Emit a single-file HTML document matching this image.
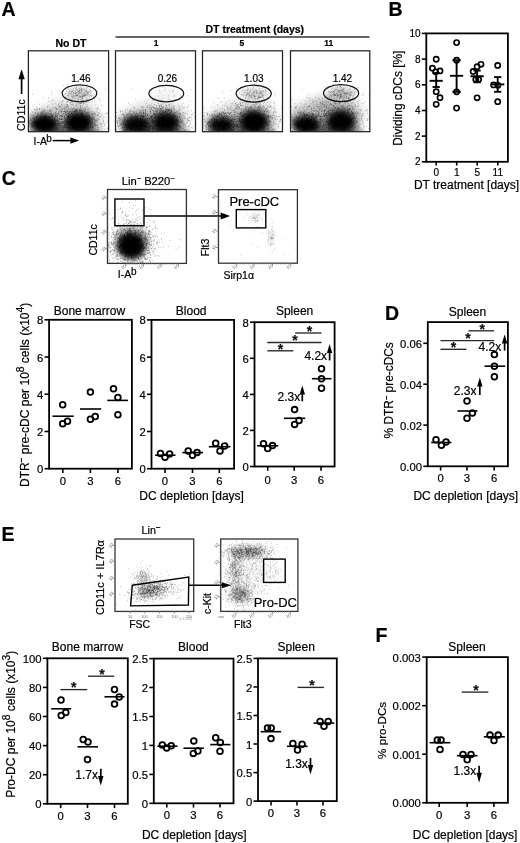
<!DOCTYPE html>
<html><head><meta charset="utf-8"><style>
html,body{margin:0;padding:0;background:#fff;}
svg{display:block;font-family:"Liberation Sans", sans-serif;will-change:transform;}
</style></head><body>
<svg width="520" height="843" viewBox="0 0 520 843">
<defs><clipPath id="c1"><rect x="28.4" y="50.8" width="80.2" height="80.9"/></clipPath><clipPath id="c2"><rect x="115.5" y="50.8" width="80" height="80.9"/></clipPath><clipPath id="c3"><rect x="202.5" y="50.8" width="80" height="80.9"/></clipPath><clipPath id="c4"><rect x="290.5" y="50.8" width="79.3" height="80.9"/></clipPath><clipPath id="c5"><rect x="107.5" y="189.5" width="78.9" height="73.9"/></clipPath><clipPath id="c6"><rect x="218.5" y="189.7" width="78.9" height="73.5"/></clipPath><clipPath id="c7"><rect x="115" y="539" width="78.7" height="72.4"/></clipPath><clipPath id="c8"><rect x="220.7" y="539" width="77.2" height="72.4"/></clipPath><filter id="b1_5" x="-50%" y="-50%" width="200%" height="200%"><feGaussianBlur stdDeviation="1.5"/></filter><filter id="b2" x="-50%" y="-50%" width="200%" height="200%"><feGaussianBlur stdDeviation="2"/></filter><filter id="b2_4" x="-50%" y="-50%" width="200%" height="200%"><feGaussianBlur stdDeviation="2.4"/></filter><filter id="b3" x="-50%" y="-50%" width="200%" height="200%"><feGaussianBlur stdDeviation="3"/></filter><filter id="b3_2" x="-50%" y="-50%" width="200%" height="200%"><feGaussianBlur stdDeviation="3.2"/></filter><filter id="b3_5" x="-50%" y="-50%" width="200%" height="200%"><feGaussianBlur stdDeviation="3.5"/></filter><filter id="b4" x="-50%" y="-50%" width="200%" height="200%"><feGaussianBlur stdDeviation="4"/></filter></defs>
<rect width="520" height="843" fill="#fff"/>
<text x="1.5" y="16.2" font-size="19.5" font-weight="bold" stroke="#000" stroke-width="0.2">A</text>
<text x="71" y="46.5" font-size="10.5" font-weight="bold" text-anchor="middle" stroke="#000" stroke-width="0.2">No DT</text>
<text x="254.8" y="32.5" font-size="10.5" font-weight="bold" text-anchor="middle" stroke="#000" stroke-width="0.2">DT treatment (days)</text>
<line x1="115.5" y1="37" x2="369.5" y2="37" stroke="#333" stroke-width="1.4"/>
<text x="156" y="46.4" font-size="8.5" font-weight="bold" text-anchor="middle" stroke="#000" stroke-width="0.2">1</text>
<text x="241.8" y="46.4" font-size="8.5" font-weight="bold" text-anchor="middle" stroke="#000" stroke-width="0.2">5</text>
<text x="328.8" y="46.4" font-size="8.5" font-weight="bold" text-anchor="middle" stroke="#000" stroke-width="0.2">11</text>
<g clip-path="url(#c1)">
<ellipse cx="66" cy="119" rx="36" ry="13" fill="#000" fill-opacity="0.2" filter="url(#b4)"/>
<ellipse cx="72" cy="106" rx="24" ry="12" fill="#000" fill-opacity="0.06" filter="url(#b4)"/>
<ellipse cx="68.5" cy="133.7" rx="33.7" ry="9" fill="#000" fill-opacity="0.55" filter="url(#b3_5)"/>
<ellipse cx="79.5" cy="93.3" rx="13" ry="5.9" fill="#000" fill-opacity="0.16" filter="url(#b2)"/>
<ellipse cx="44" cy="124" rx="14" ry="9.5" fill="#000" fill-opacity="1" filter="url(#b3_2)"/>
<ellipse cx="79" cy="122.5" rx="14" ry="10.5" fill="#000" fill-opacity="1" filter="url(#b3_2)"/>
<path d="M44 126.2h0.8M41.1 117.6h0.8M39.3 116.9h0.8M38.9 119.5h0.8M49.1 126.6h0.8M45.1 117.3h0.8M43.7 129h0.8M30 120.7h0.8M30.8 126h0.8M45.6 122.7h0.8M43.5 124.8h0.8M33.8 118.2h0.8M55 118.2h0.8M43.7 130.4h0.8M37.9 123.2h0.8M45.1 124.5h0.8M31.3 124.5h0.8M58.1 112.9h0.8M52.9 124.9h0.8M51.9 115.4h0.8M44.8 128.2h0.8M42 128.9h0.8M43.3 128.8h0.8M59 119.1h0.8M46.1 120.7h0.8M45.3 115.5h0.8M38 122.6h0.8M30.2 118.3h0.8M50.7 109.7h0.8M39.2 123.3h0.8M57.1 129h0.8M40.6 121.3h0.8M39.5 121.8h0.8M47.7 123.1h0.8M41.9 116h0.8M43.9 120.8h0.8M56.1 128.7h0.8M43.7 128.8h0.8M40.5 131.6h0.8M43.9 128.2h0.8M30.6 126.5h0.8M40.8 117.5h0.8M35.4 119.5h0.8M46.1 127.5h0.8M42.2 122.5h0.8M51.3 127.7h0.8M33.2 123.4h0.8M44.4 116.4h0.8M46.7 117.8h0.8M54.1 125.4h0.8M44.9 119.7h0.8M42.8 109.6h0.8M32.2 126.6h0.8M35.2 129.6h0.8M45.4 112.9h0.8M43.3 122h0.8M42.3 117h0.8M55.4 120.1h0.8M43.5 118.3h0.8M37.5 114.8h0.8M57.1 122.9h0.8M54 124.1h0.8M36.8 121.6h0.8M38.2 124.1h0.8M40.1 121.8h0.8M29.7 118.2h0.8M61.2 119.2h0.8M33 126.4h0.8M58.6 113.5h0.8M41.8 119.4h0.8M43.8 124.5h0.8M36.2 127.3h0.8M38.4 123h0.8M32.5 115.2h0.8M57.9 120.3h0.8M47 123.8h0.8M39.4 120.3h0.8M50.6 121.8h0.8M42.4 124.2h0.8M56.2 128.9h0.8M48 119.9h0.8M29.6 130.8h0.8M54.1 123h0.8M49.6 129.6h0.8M52.6 130.6h0.8M31 130.2h0.8M49.1 130.3h0.8M32.1 111.8h0.8M52.5 116.7h0.8M43.9 130h0.8M46.7 124.3h0.8M41.4 124.3h0.8M35.1 113.1h0.8M42.3 117h0.8M43.4 126.9h0.8M33.7 119.3h0.8M33.6 117.6h0.8M46 118.4h0.8M47.7 126.4h0.8M65.1 114h0.8M53.2 123.4h0.8M43.9 113.6h0.8M39.2 129.4h0.8M43.1 124.6h0.8M43.8 108.2h0.8M36.8 109.8h0.8M57.9 124.3h0.8M31.8 117.2h0.8M55.8 125.1h0.8M44.5 123.6h0.8M44.4 129.8h0.8M49.7 125.6h0.8M33.2 127.7h0.8M30.8 123h0.8M43.9 114.5h0.8M39.2 129.6h0.8M47.9 105.2h0.8M46.6 123.6h0.8M44.9 116.2h0.8M41.2 122.7h0.8M56.4 126.4h0.8M38.2 121.2h0.8M54 130.6h0.8M51 124.8h0.8M46.2 122.2h0.8M41.9 124.4h0.8M59.7 128h0.8M43.4 119.8h0.8M49.3 124.5h0.8M40.4 116h0.8M43.3 130.3h0.8M39.9 122.4h0.8M41.7 124.8h0.8M35.1 130.4h0.8M36 128.2h0.8M59.9 121.7h0.8M37.7 125.4h0.8M44 116.8h0.8M41.3 122.5h0.8M33.1 126.3h0.8M31 116h0.8M57.3 117.5h0.8M46.7 128h0.8M64.3 122.6h0.8M37.8 114.3h0.8M54 117.2h0.8M35.1 120.4h0.8M47 122.5h0.8M46.2 126.1h0.8M40.9 123.7h0.8M46.1 123.4h0.8M50.2 124.4h0.8M52.9 129.1h0.8M42.4 111.7h0.8M40.1 119.1h0.8M46.3 118.4h0.8M31.8 123.6h0.8M42.2 115.7h0.8M45.2 115.7h0.8M55.6 131.7h0.8M55.3 120.6h0.8M49.4 123h0.8M40 121.6h0.8M30.5 113.6h0.8M52.3 122.6h0.8M46.3 131.2h0.8M45.8 126.8h0.8M40.1 131.4h0.8M46.2 115.3h0.8M34.3 129.8h0.8M48.8 110.3h0.8M58 128.3h0.8M58 121.2h0.8M40.9 115.9h0.8M70.4 122.7h0.8M60.5 119.3h0.8M45.7 112h0.8M40 131.1h0.8M47.5 116.5h0.8M38.8 120.7h0.8M43.5 120.1h0.8M35.4 121.8h0.8M33.3 114.7h0.8M43.5 130.4h0.8M37.2 117h0.8M52.9 120.3h0.8M59.6 118.4h0.8M48 122.4h0.8M36.2 128.2h0.8M42.4 128.3h0.8M43.5 116.2h0.8M42.9 124.4h0.8M54 117.5h0.8M43.6 111.6h0.8M50.8 116.2h0.8M55.5 113h0.8M32.7 118.6h0.8M32.3 126.7h0.8M35.6 118.8h0.8M50.1 118.6h0.8M48.5 117h0.8M31.4 110.8h0.8M63.4 121.7h0.8M46.5 123.8h0.8M45.7 124.4h0.8M63.8 116.5h0.8M30.1 129.4h0.8M52.5 117.1h0.8M29.5 121.4h0.8M58.5 103.7h0.8M49.5 116.3h0.8M54.8 116.2h0.8M41 113.2h0.8M52.5 121.1h0.8M35 110.4h0.8M39.9 123.8h0.8M43.1 123.3h0.8M32.3 123.5h0.8M63.4 123h0.8M36 123.5h0.8M37.7 118.7h0.8M43.4 116.5h0.8M50.3 123.3h0.8M46.6 122.7h0.8M36.4 117.2h0.8M41.5 120h0.8M46.4 124h0.8M29.8 124.5h0.8M30 119.6h0.8M40.9 109.1h0.8M45 125.1h0.8M42.4 120.9h0.8M40.1 117h0.8M41.2 120h0.8M45 115.3h0.8M46.5 125h0.8M42.5 120.8h0.8M49.7 112h0.8M48.8 125.7h0.8M46.9 126.8h0.8M37.2 122.1h0.8M50.6 127.1h0.8M46.1 113.1h0.8M54.5 125.7h0.8M42.5 105.8h0.8M47.9 113.3h0.8M30.5 119.4h0.8M57.2 121.3h0.8M60.6 123.3h0.8M41.5 114.9h0.8M36.8 127.1h0.8M48.1 124.8h0.8M54.3 118.4h0.8M43.4 129.3h0.8M48.1 121.8h0.8M47.8 116.8h0.8M43.4 126.2h0.8M37.8 117.8h0.8M53.3 126.7h0.8M37.8 123.9h0.8M51.9 104.1h0.8M42.7 127.9h0.8M55.8 126.3h0.8M47.1 129.7h0.8M38.4 123.7h0.8M42.3 123.7h0.8M33.9 122.7h0.8M41.9 129.7h0.8M54.9 113.1h0.8M34.5 126.4h0.8M37.1 113h0.8M54.8 127.6h0.8M49.1 120.6h0.8M54.7 122.3h0.8M55.4 117.4h0.8M35.1 125.5h0.8M36.7 128.9h0.8M46.7 117.4h0.8M44.8 121.5h0.8M53.5 119.4h0.8M44.7 125.6h0.8M59.9 123.1h0.8M33.8 124.8h0.8M48.7 118h0.8M50.9 118.5h0.8M42.5 125.5h0.8M50.4 121.6h0.8M49.2 117.6h0.8M40.2 116.6h0.8M55.8 123.8h0.8M36.3 121.5h0.8M41.7 129h0.8M53.9 123.2h0.8M41.6 121.4h0.8M56.6 127.6h0.8M51 120.3h0.8M49.9 128.9h0.8M42 127.1h0.8M51.1 121.5h0.8M36.3 121.6h0.8M37.7 121.5h0.8M64.6 124.2h0.8M31.4 120.4h0.8M44.8 109.6h0.8M47.6 113.1h0.8M47.1 123.2h0.8M40.7 123.5h0.8M38.4 119.6h0.8M57.7 129.1h0.8M43.4 123.5h0.8M41 124.7h0.8M39.5 123.4h0.8M32.7 121.3h0.8M67.7 123.5h0.8M41.5 127.8h0.8M51.4 116h0.8M41.8 130.6h0.8M46.8 124.9h0.8M60.2 119.1h0.8M44.9 120.3h0.8M59.5 109.9h0.8M37 120.2h0.8M50.9 128.4h0.8M58.5 112.7h0.8M51.8 121.9h0.8M37.1 127.9h0.8M34.4 109h0.8M40.1 113.2h0.8M37.3 126.7h0.8M41.9 113h0.8M36.1 117.4h0.8M31.3 127.1h0.8M37.3 109.8h0.8M51.2 123.2h0.8M47.7 124.8h0.8M50.6 124.3h0.8M56.9 127.1h0.8M48.1 127h0.8M28.9 122.8h0.8M41.3 125.5h0.8M45.1 115.3h0.8M43.1 118.8h0.8M45 119.4h0.8M49.7 118.8h0.8M43.6 131h0.8M70.7 116.7h0.8M39.2 118h0.8M52.2 115.7h0.8M39 123.8h0.8M33.8 117.1h0.8M39.1 108.9h0.8M29 121h0.8M45.5 122.7h0.8M52.3 128h0.8M43.2 117.6h0.8M50.6 119.8h0.8M31.8 118.2h0.8M59.1 125.6h0.8M56.1 120.5h0.8M53.8 119.7h0.8M52 120.4h0.8M43.1 126.3h0.8M56.6 120.5h0.8M44.2 124.8h0.8M57.7 126.3h0.8M52.5 116.1h0.8M52 125.8h0.8M34.4 123.2h0.8M48.8 129.4h0.8M39.5 126.2h0.8M41.1 124.9h0.8M42.6 115.8h0.8M43.8 130.3h0.8M33.9 122.3h0.8M50.9 116.3h0.8M45.9 116.4h0.8M65 122.4h0.8M51.7 124.9h0.8M30.3 131.6h0.8M45.9 119.2h0.8M46.9 129.3h0.8M44.4 127.5h0.8M38.6 108.6h0.8M53.4 129h0.8M45.5 124.5h0.8M54.8 120.7h0.8M36.7 122.6h0.8M56.4 114h0.8M56.4 119.4h0.8M43 114.6h0.8M40.3 130.7h0.8M56.4 120.9h0.8M48.2 129.1h0.8M37.3 126.6h0.8M43.7 120.1h0.8M38.9 124.5h0.8M44.3 119.9h0.8M46.2 130.4h0.8M56.5 128.2h0.8M67.6 118.1h0.8M52.4 121.7h0.8M50.9 129.7h0.8M51.7 123.5h0.8M48.7 128.7h0.8M43.2 131.4h0.8M33.2 130.9h0.8M41.6 117.6h0.8M47.9 117.4h0.8M34.5 112.7h0.8M43.7 127.6h0.8M54.6 123h0.8M54.9 124.1h0.8M43 128.1h0.8M55 121.5h0.8M41.5 122.8h0.8M44.9 117.5h0.8M54.7 121.1h0.8M48.8 118.1h0.8M47.7 126.8h0.8M54 119.2h0.8M40 127.1h0.8M44.6 124.4h0.8M41 111h0.8M41.7 108h0.8M47.9 118.8h0.8M36.6 122.4h0.8M46.8 113.7h0.8M60.5 116.4h0.8M50.8 114.1h0.8M47.1 121.7h0.8M43.4 128.1h0.8M62.3 125.4h0.8M45.3 117h0.8M50.1 122.2h0.8M52.7 123.7h0.8M62.1 109.7h0.8M40.9 130.3h0.8M40.4 118.3h0.8M41.2 114.1h0.8M55.9 116h0.8M34.9 121.1h0.8M54.4 118.1h0.8M36.8 130.4h0.8M53 121.3h0.8M32.4 112.8h0.8M36.7 107.9h0.8M51.8 119.5h0.8M56.2 115.7h0.8M36.2 117.1h0.8M42.9 112.5h0.8M59.3 106.7h0.8M32.5 122.1h0.8M41.6 125.2h0.8M46.8 122.5h0.8M55.8 108.6h0.8M44 118.9h0.8M45.4 125.6h0.8M34.5 119.4h0.8M52.2 126.5h0.8M68 113.5h0.8M52.2 125.6h0.8M41.8 120.1h0.8M41.8 120h0.8M51.7 121.1h0.8M39.4 115.3h0.8M43.5 117.6h0.8M42.1 131.5h0.8M47.8 127.6h0.8M47.7 124.4h0.8M42.7 121.8h0.8M51.9 116.2h0.8M57.9 124.2h0.8M36.2 120.5h0.8M37 125.2h0.8M35.9 107.6h0.8M36.4 109.5h0.8M43.6 131.6h0.8M50.7 114.4h0.8M47.3 124h0.8M57.5 125h0.8M47.7 128.4h0.8M37.6 116.4h0.8M44.5 117.2h0.8M43.4 124.7h0.8M68.3 117.9h0.8M42.7 122.8h0.8M48.5 131.5h0.8M38.9 118.1h0.8M49.6 124.3h0.8M33.4 121.3h0.8M44.3 127.6h0.8M37.8 122.2h0.8M60.8 108.2h0.8M40.5 125.6h0.8M40.1 118.2h0.8M43.4 124h0.8M43.1 110.5h0.8M42.5 117.8h0.8M38.3 125.6h0.8M50.7 130.5h0.8M38.8 130.7h0.8M58.5 123h0.8M42.2 129.9h0.8M64.8 124.2h0.8M73.5 119.5h0.8M60.9 115.4h0.8M78.8 129.6h0.8M89.3 121.9h0.8M77 115.9h0.8M83.2 120.5h0.8M78.7 110.5h0.8M70 110.8h0.8M81.4 110.3h0.8M75.3 117.1h0.8M75.5 124.8h0.8M93.2 127.8h0.8M63.1 121.5h0.8M82.3 119.4h0.8M88.5 119.6h0.8M85.9 124.3h0.8M88.6 131h0.8M82.5 102.8h0.8M72 118.8h0.8M68.8 124.1h0.8M91.4 118.6h0.8M74.3 112.6h0.8M81.5 125.9h0.8M71.7 128.8h0.8M73.9 115.1h0.8M80.9 128.7h0.8M72.4 125.1h0.8M78.5 121.5h0.8M86.5 129.7h0.8M92.2 125.1h0.8M72.8 118.2h0.8M84.3 127.1h0.8M93.5 125.8h0.8M80.7 110.6h0.8M66.7 111h0.8M95.6 115.7h0.8M91.8 127.2h0.8M96.8 130.5h0.8M77.9 120.9h0.8M79.9 123.9h0.8M73.5 122.2h0.8M95.7 108.9h0.8M81.7 115.2h0.8M80.9 129.2h0.8M78.4 128.7h0.8M62.5 131.4h0.8M72.7 127.5h0.8M80.9 101.8h0.8M71.1 124.3h0.8M95.2 124.8h0.8M81.7 111.2h0.8M79.3 120.7h0.8M62.2 129.6h0.8M107.1 128.2h0.8M92.1 126.8h0.8M66.2 120.8h0.8M81.9 129.6h0.8M83.3 125.6h0.8M71.1 112.2h0.8M79.6 116.8h0.8M65.4 112.4h0.8M73.9 107.7h0.8M65 109.4h0.8M80.9 125.8h0.8M99.9 110.5h0.8M71.9 129.8h0.8M76.7 119.9h0.8M96.8 119.8h0.8M67 112h0.8M82.5 124.9h0.8M64.7 114.6h0.8M84.6 127.1h0.8M72.3 127.5h0.8M84.9 108.2h0.8M75.8 125.8h0.8M73 105.4h0.8M76.1 128.5h0.8M95.4 105h0.8M106.2 113.5h0.8M89.2 123.7h0.8M66.9 127.5h0.8M71.6 102.3h0.8M97.9 115.2h0.8M95.2 122.3h0.8M66.5 121.1h0.8M56.1 108.9h0.8M80 114.6h0.8M77.3 121.6h0.8M70.9 119.8h0.8M88.5 112.6h0.8M76.1 111.9h0.8M71.2 124.3h0.8M69.7 113.3h0.8M103.6 126.4h0.8M71.6 128.1h0.8M75.5 128.9h0.8M82 124.7h0.8M85.3 117.9h0.8M74.8 108.7h0.8M74.4 111.1h0.8M77.5 114.8h0.8M80.1 126.1h0.8M64.2 116h0.8M69.2 128.5h0.8M96.7 129.3h0.8M72.2 100.3h0.8M68.3 123.9h0.8M76.8 123.3h0.8M63.6 117h0.8M83.9 124.3h0.8M91.5 123.1h0.8M103.4 116.8h0.8M81.7 107.2h0.8M69.2 126.7h0.8M78.4 114.1h0.8M75.4 118.4h0.8M73.9 128.5h0.8M85.8 117.9h0.8M69.6 124.8h0.8M78 130.7h0.8M106.6 129.2h0.8M78.6 121.1h0.8M70.1 115.2h0.8M68.6 119.3h0.8M74.6 128.4h0.8M74.9 120.9h0.8M76.4 128.2h0.8M107.1 112.7h0.8M83.4 128.6h0.8M92.3 117.1h0.8M83.3 115.4h0.8M71.8 117.4h0.8M77.5 123.7h0.8M83.8 110.9h0.8M86.7 119.6h0.8M78.1 127h0.8M83.4 108.7h0.8M59.3 130.7h0.8M82.9 121.6h0.8M93.6 112.8h0.8M76.9 119.1h0.8M80.2 118.8h0.8M95.5 115h0.8M88.3 112.2h0.8M86.2 121.6h0.8M51.4 122.5h0.8M67.6 118.8h0.8M95.4 113.3h0.8M82.5 115.2h0.8M89.1 122.5h0.8M79.5 121.6h0.8M79.1 113.2h0.8M73.9 128.5h0.8M85.9 121.4h0.8M71.9 122.7h0.8M61.1 111.8h0.8M87.5 118.6h0.8M85.9 122.7h0.8M101.8 128h0.8M75.2 128.5h0.8M83.4 115.5h0.8M79.8 121.1h0.8M58 121.1h0.8M76 118.9h0.8M61.4 119.6h0.8M78.6 123.3h0.8M66.9 127.7h0.8M66 120.7h0.8M93 116.8h0.8M73.5 131.3h0.8M74.9 120.1h0.8M81.4 131.1h0.8M55.4 115.7h0.8M68.2 113.6h0.8M69.9 115.6h0.8M82.2 115.2h0.8M80.3 125.8h0.8M71.2 123.6h0.8M96.4 125.1h0.8M72.2 122h0.8M69.2 124.7h0.8M88.2 115.8h0.8M76.8 131.6h0.8M73.7 124h0.8M68.1 115.8h0.8M74.7 118.3h0.8M73.1 121.2h0.8M85.8 124h0.8M100.4 124.2h0.8M94.1 124.7h0.8M85.3 111h0.8M77.7 121.9h0.8M76.5 105.3h0.8M88.2 119.4h0.8M74.4 120.5h0.8M76.6 125.8h0.8M65.8 115.1h0.8M82 123.7h0.8M75.1 117.9h0.8M70.3 122h0.8M91.3 114h0.8M94.8 129.3h0.8M74.3 128.8h0.8M63.8 108.6h0.8M65.6 119.2h0.8M75.6 118.4h0.8M80 105.4h0.8M84.2 111.1h0.8M72.1 119.2h0.8M67 111.5h0.8M68.5 122.4h0.8M85.1 127h0.8M68.7 116.2h0.8M69.4 126.1h0.8M74 116.2h0.8M82.5 130.8h0.8M82.6 130.9h0.8M91.9 121.7h0.8M94 123.8h0.8M79.9 115.1h0.8M76 128.7h0.8M65.3 127.7h0.8M82.6 124.7h0.8M56.1 121.7h0.8M85.7 116.4h0.8M79.9 103.5h0.8M86 117.2h0.8M88.1 107.8h0.8M86.2 120.6h0.8M87.4 115.1h0.8M70.4 116.9h0.8M76.1 114.3h0.8M71.7 108.7h0.8M91.2 131.4h0.8M70 121.2h0.8M64.6 111.2h0.8M89.2 117.1h0.8M102.7 123.1h0.8M72.3 128.9h0.8M97.7 126.4h0.8M66.3 125.5h0.8M93.3 118.6h0.8M71 130.6h0.8M80.5 113.7h0.8M75.1 116.5h0.8M82.1 123.4h0.8M91 128.2h0.8M62.7 125.8h0.8M88.3 126.1h0.8M89.7 118.1h0.8M69.1 129.9h0.8M67.9 105.2h0.8M89.7 116.7h0.8M75.8 111.3h0.8M65.2 113.2h0.8M75.2 125.5h0.8M55.1 128.5h0.8M66.7 114h0.8M86 121.9h0.8M70 124.5h0.8M74.3 130.6h0.8M71.3 131.5h0.8M71.1 119.6h0.8M98.7 125h0.8M82.8 116h0.8M86.6 113h0.8M73 117.5h0.8M80.8 122.6h0.8M68.8 127h0.8M57.8 119h0.8M74.8 120.3h0.8M82.2 112.7h0.8M85.1 121.1h0.8M72.2 111.6h0.8M66.7 125.4h0.8M69 123h0.8M90 130.8h0.8M95.2 120.1h0.8M67.7 130.7h0.8M82.2 131.5h0.8M87.8 128.2h0.8M84.2 125.7h0.8M81.4 124.3h0.8M89.3 118.4h0.8M97.1 121.7h0.8M89.2 121.8h0.8M75.8 112.3h0.8M71.6 120h0.8M101.4 124.2h0.8M88.7 114.5h0.8M82.7 127.9h0.8M97.7 116.9h0.8M85.3 124.9h0.8M68.4 122.3h0.8M76.3 103.9h0.8M85.2 126.8h0.8M74.4 111.8h0.8M94.4 124.6h0.8M73.6 129h0.8M76.5 122h0.8M78.1 122.5h0.8M90.6 123.5h0.8M77.4 120.3h0.8M82.5 115.3h0.8M73.8 122.1h0.8M73.1 121.6h0.8M92.8 126.1h0.8M82.4 121.8h0.8M82.2 124.9h0.8M93.7 122.3h0.8M100.8 115.4h0.8M86.2 114.5h0.8M97.9 119.9h0.8M78.4 129.9h0.8M92.1 113.6h0.8M75.4 111.3h0.8M80.4 121.7h0.8M75.4 117h0.8M75 116.5h0.8M58.9 121.6h0.8M74.7 126.4h0.8M69.1 121.3h0.8M68.2 128.1h0.8M80 121.2h0.8M82.8 120.5h0.8M62.8 127.3h0.8M82 121.3h0.8M67.6 116.3h0.8M71.3 113.1h0.8M72.4 118.5h0.8M62.5 122.7h0.8M65.7 112.8h0.8M88.5 117h0.8M78.3 127.5h0.8M87.5 119.8h0.8M79.5 115.9h0.8M97.2 127.7h0.8M67.5 122.5h0.8M86.4 126.3h0.8M73.4 121.8h0.8M65.7 124.5h0.8M80 105.8h0.8M72 123.4h0.8M65.9 115.6h0.8M75.2 125.2h0.8M77.3 115.4h0.8M87.2 118.2h0.8M73.8 111.5h0.8M70.8 127.7h0.8M62.2 121.9h0.8M86.5 119.5h0.8M81.5 113.6h0.8M92.6 131.3h0.8M81.4 108.5h0.8M68.1 130.3h0.8M96.8 124.9h0.8M92 117.6h0.8M77 122.5h0.8M83.4 110.3h0.8M67.1 111.7h0.8M82.6 117.3h0.8M54.3 129h0.8M80.6 118.7h0.8M101 123.6h0.8M71.2 123.3h0.8M68.2 116.4h0.8M83 118.1h0.8M87.9 128.9h0.8M84.5 126.4h0.8M94.1 122.3h0.8M98.3 114.9h0.8M76.3 111.5h0.8M75.4 126.6h0.8M94.1 117.2h0.8M79.1 119.6h0.8M71.3 113h0.8M79.6 108.6h0.8M80.1 122.7h0.8M72.2 114.4h0.8M85.2 119.6h0.8M67 130.8h0.8M97 115h0.8M75.9 130.9h0.8M73.1 126.8h0.8M71.4 104.8h0.8M77.7 121.4h0.8M98.9 119.8h0.8M78.9 127.2h0.8M95.5 122h0.8M89.8 126.6h0.8M75.9 123.1h0.8M79.3 115.2h0.8M91.6 111.4h0.8M91.2 130.1h0.8M78 116.4h0.8M76.6 126.3h0.8M86.7 124.8h0.8M89.3 118h0.8M81.4 110h0.8M86.9 123.7h0.8M86.2 100h0.8M79.4 110.9h0.8M73.6 123.1h0.8M76.4 125.3h0.8M69.3 124.7h0.8M91 128.2h0.8M69.2 116.9h0.8M74.2 122.1h0.8M90.9 112.2h0.8M83.9 127.4h0.8M84.8 126.2h0.8M94.8 126.4h0.8M87.9 127h0.8M97.6 107.3h0.8M92.3 120.4h0.8M76.1 114.7h0.8M59.6 119.4h0.8M71.9 126.5h0.8M81.8 120.5h0.8M71.6 116.2h0.8M67.2 118.1h0.8M79.1 121.1h0.8M64.3 120.4h0.8M69.7 123.8h0.8M98.4 127.5h0.8M75.7 109.5h0.8M64.3 109h0.8M86.6 116.4h0.8M79.7 117.5h0.8M71.9 119.8h0.8M70.6 129.5h0.8M68.3 113.4h0.8M64.6 111.2h0.8M68.6 130.1h0.8M81.6 113.7h0.8M76.1 120.6h0.8M59.2 125.5h0.8M82.4 117.9h0.8M80.6 129.5h0.8M80.6 125.8h0.8M86.2 106.2h0.8M89.2 130.6h0.8M64.4 121.6h0.8M70.6 117.8h0.8M89.1 116.1h0.8M77.6 107.2h0.8M77.4 123.2h0.8M71.7 116.7h0.8M98.6 112.8h0.8M68.1 116h0.8M82.5 116.8h0.8M74.6 131h0.8M93.7 123.1h0.8M85.7 128.5h0.8M95.2 114.1h0.8M91.3 119.5h0.8M71 123.3h0.8M76.8 114.6h0.8M62.4 115h0.8M73.6 121.9h0.8M81.9 113.8h0.8M68.7 123.3h0.8M75.7 114h0.8M83 120.4h0.8M89.6 122.5h0.8M75.9 123.5h0.8M77.2 117.2h0.8M74.8 128.5h0.8M61.4 119.4h0.8M74.7 123.9h0.8M74.3 118.4h0.8M87.1 123.9h0.8M89.4 117.9h0.8M87.6 116.6h0.8M90.7 120.8h0.8M70.7 119.5h0.8M71 124h0.8M80.8 122.8h0.8M73.2 93.2h0.8M80 107.3h0.8M81.5 131.5h0.8M81.8 119.4h0.8M77.1 121.4h0.8M73.3 117.8h0.8M78.8 130.2h0.8M76.4 123.1h0.8M77.2 126.2h0.8M87.6 124.4h0.8M72 116.3h0.8M96.3 120.3h0.8M90.3 126.8h0.8M83.1 126.9h0.8M77.2 111.2h0.8M65.1 125.8h0.8M83.1 120.6h0.8M66.8 111h0.8M75.6 110.9h0.8M72.8 115.5h0.8M43.1 117.7h0.8M77.2 130.2h0.8M85.4 127.2h0.8M81.2 127.8h0.8M94.1 114h0.8M74.2 111.4h0.8M86.8 112.9h0.8M80.8 120.6h0.8M79.8 121h0.8M84.4 119.3h0.8M87.9 124.4h0.8M76 121.6h0.8M74.4 129h0.8M76.2 124.9h0.8M74.9 110.6h0.8M88.4 114h0.8M86.1 125.9h0.8M61.8 114.9h0.8M73.7 115.9h0.8M44.7 125.8h0.8M61.7 123.5h0.8M58.3 123h0.8M52.5 120.8h0.8M76.5 121.3h0.8M57.8 113.9h0.8M69 123.2h0.8M61.3 116h0.8M60.6 123.2h0.8M72.8 104.3h0.8M68.2 116.4h0.8M90.9 119.3h0.8M52 119.6h0.8M69 117.4h0.8M65.1 112.2h0.8M61.9 126h0.8M101.4 125.6h0.8M70.9 128.7h0.8M85.5 120.2h0.8M70.7 122.2h0.8M71.4 122.3h0.8M51.9 107.3h0.8M53.9 107.8h0.8M67.2 121h0.8M35.8 125.5h0.8M81.6 121.6h0.8M44.3 127.7h0.8M73.9 123.7h0.8M82.8 116.3h0.8M55.3 115.6h0.8M52.4 120.4h0.8M39.9 114.2h0.8M76.4 120.5h0.8M72.9 108.7h0.8M51.9 117.4h0.8M66.6 117.2h0.8M82.8 120.6h0.8M66.3 121.1h0.8M78.7 117.9h0.8M86.2 124h0.8M68.8 121.3h0.8M75.4 127.6h0.8M83 123.4h0.8M81.8 121.8h0.8M88.5 120.8h0.8M28.6 129.7h0.8M67.9 113.4h0.8M62.4 115.3h0.8M103.8 124.2h0.8M37.8 124.6h0.8M47.1 106.4h0.8M67.2 118.7h0.8M58.5 107.1h0.8M31.6 128.6h0.8M73.8 119.8h0.8M85.9 124.4h0.8M55.3 125.6h0.8M56.8 109.4h0.8M102.6 118.7h0.8M55 123.2h0.8M37.9 112.2h0.8M57 117.6h0.8M67.3 128.3h0.8M57.5 124.2h0.8M76.8 114h0.8M70.1 114.9h0.8M85.2 124h0.8M66.3 112.3h0.8M68.1 116h0.8M78.7 120.2h0.8M51.4 127h0.8M79 117.1h0.8M86.9 119.1h0.8M60.4 121.8h0.8M52.5 118.1h0.8M63.1 130.9h0.8M93 119.3h0.8M95 120.7h0.8M72.9 126.7h0.8M70.4 113.2h0.8M89.5 118.3h0.8M60.5 101.6h0.8M84 126.3h0.8M80.4 127.4h0.8M96.4 120.7h0.8M82.9 116.2h0.8M59.6 127.9h0.8M73 112.3h0.8M72.5 119.8h0.8M51.3 123.8h0.8M58.7 110.8h0.8M38.7 122.4h0.8M77 125.2h0.8M43.9 118.9h0.8M68.5 126.2h0.8M54.4 113.4h0.8M84 128.2h0.8M72.7 117h0.8M73.3 121.7h0.8M81.1 112.9h0.8M68.1 120h0.8M46 122.4h0.8M66.6 118.3h0.8M73.1 111.8h0.8M65 123.8h0.8M71.1 128h0.8M44.4 111.2h0.8M70.3 124h0.8M104.2 125h0.8M50.3 126.2h0.8M50.8 111.3h0.8M78.9 124.7h0.8M98.6 122.8h0.8M87.9 114.3h0.8M40.9 130.3h0.8M92.5 124.3h0.8M70.1 122.1h0.8M53.6 131h0.8M77.9 124.3h0.8M72.8 127.8h0.8M75.1 125.8h0.8M45 124.3h0.8M105.4 117.6h0.8M63.7 126.8h0.8M83.2 125.1h0.8M36.9 124.3h0.8M44.7 115.6h0.8M75.9 119.1h0.8M80 125.7h0.8M49.9 116.8h0.8M46.9 117.5h0.8M46.3 116.7h0.8M62.2 114.5h0.8M40.5 112.2h0.8M74.2 121.4h0.8M84.5 127.8h0.8M59.9 125.4h0.8M87.5 119.6h0.8M45.1 123.5h0.8M32.3 115.9h0.8M79.5 121.5h0.8M57.2 127.2h0.8M47.3 122.9h0.8M57 115.5h0.8M74.3 114.5h0.8M100.2 117.2h0.8M101.8 113.9h0.8M76.9 113.2h0.8M41.9 122h0.8M78.2 112.7h0.8M87.3 115.8h0.8M68.4 123.5h0.8M76.7 109.3h0.8M95.1 124.7h0.8M58.3 114.3h0.8M35.5 112.2h0.8M75.8 118.8h0.8M45.6 117.6h0.8M94.2 118.9h0.8M55.5 129.8h0.8M74.3 121.3h0.8M55.1 110.9h0.8M44.9 117.9h0.8M62 123.3h0.8M75.9 122.4h0.8M70 114.5h0.8M48.8 116.8h0.8M61.1 112.9h0.8M46 120.3h0.8M68.1 116.7h0.8M75 119.6h0.8M47.6 121.3h0.8M99.9 116.6h0.8M87 130h0.8M93 115.7h0.8M102.3 121.8h0.8M61.4 119.5h0.8M76.8 121.3h0.8M62.8 129.3h0.8M53 114.2h0.8M80.3 125.6h0.8M85.7 114h0.8M85.5 124.1h0.8M97.7 112.9h0.8M69.9 119.2h0.8M37.4 116.4h0.8M86.3 118h0.8M53 126.6h0.8M83.8 127.4h0.8M51.8 120.6h0.8M84.6 116.7h0.8M52.5 126.4h0.8M94.1 113.5h0.8M47.8 120.1h0.8M77.1 120h0.8M53.4 122h0.8M48.7 120.7h0.8M80.7 115.6h0.8M48.1 118.2h0.8M36.4 116.3h0.8M52.7 126.7h0.8M58.3 115.9h0.8M41.9 113.4h0.8M64.8 119.6h0.8M86.4 116.9h0.8M85.1 122.7h0.8M65.9 107.9h0.8M42.8 125.8h0.8M91.2 122.3h0.8M79.7 118.3h0.8M59.3 116.7h0.8M83.5 123.2h0.8M61.8 118.9h0.8M76 123.1h0.8M70.6 121.1h0.8M92.6 127.7h0.8M64.4 124.5h0.8M46.7 116.8h0.8M31.8 125.4h0.8M51 114.6h0.8M62.5 122.7h0.8M72.5 126.7h0.8M55.2 125.6h0.8M68.8 118h0.8M64.3 120.6h0.8M69.4 123.6h0.8M56.8 116.2h0.8M79.5 110h0.8M54.9 131.1h0.8M78.4 110.3h0.8M91.9 131.1h0.8M82.5 119.6h0.8M72.4 115.2h0.8M80.6 113.7h0.8M61.1 127.5h0.8M45.9 118.6h0.8M69 112.3h0.8M87 123.2h0.8M38.7 120.7h0.8M52 116.7h0.8M67.4 116.4h0.8M83.4 116.4h0.8M83.7 120.7h0.8M81.4 117.5h0.8M56.9 113.5h0.8M76.4 127.1h0.8M104.1 129.4h0.8M70.5 119.6h0.8M73 120.8h0.8M92.3 127.1h0.8M50.9 116.5h0.8M90.6 123h0.8M61.8 128.7h0.8M59 119.2h0.8M57.7 108.2h0.8M81.6 113.1h0.8M55.8 116.2h0.8M79.1 120.6h0.8M66.3 110.1h0.8M64.4 111.4h0.8M71.5 123.4h0.8M75.5 124.9h0.8M68.6 119.7h0.8M83.4 128.2h0.8M42.6 127.9h0.8M75.2 127.2h0.8M74.4 112.9h0.8M70.5 111.8h0.8M72.3 118.6h0.8M32.8 106.1h0.8M37.2 122.8h0.8M65.1 119.4h0.8M71.1 124.9h0.8M51.1 113h0.8M56.2 120.2h0.8M61.2 111.5h0.8M47 110h0.8M71 124.9h0.8M74.4 113.7h0.8M84 115.9h0.8M45.6 117h0.8M64 125.6h0.8M77.2 120.9h0.8M82.8 121.5h0.8M82.1 111.9h0.8M37.7 126h0.8M41 119h0.8M64.2 117.8h0.8M57.8 130.1h0.8M107.3 121.2h0.8M65.7 125.7h0.8M98.9 113.3h0.8M67.6 119.8h0.8M76.1 122h0.8M77.9 118.3h0.8M66.9 116.6h0.8M54 120.1h0.8M63.4 113.4h0.8M94.3 120.1h0.8M41.1 128.2h0.8M52.5 124.3h0.8M65.7 122.6h0.8M69.1 117.3h0.8M73.8 114.2h0.8M75.6 121.5h0.8M74.6 125.1h0.8M87.2 123.8h0.8M68.6 122.1h0.8M90.3 126.3h0.8M48 116.9h0.8M72 117h0.8M59.2 114.8h0.8M61.3 123.8h0.8M83.9 121.1h0.8M103.3 120.5h0.8M74.9 117.8h0.8M61.5 125.7h0.8M59.8 125.4h0.8M67.6 113.6h0.8M83 125.5h0.8M76.7 127.6h0.8M85.8 120.9h0.8M41.6 112h0.8M90.3 125.6h0.8M67.8 118.2h0.8M66.6 121.2h0.8M59.9 116.5h0.8M105 122.5h0.8M55.1 112.5h0.8M52.9 125.7h0.8M79.7 119.6h0.8M66.9 119h0.8M46.1 129.5h0.8M52.4 120.1h0.8M81.9 119.4h0.8M41 114.8h0.8M67.8 123.2h0.8M64.3 127.5h0.8M83.9 123.1h0.8M66.5 119.4h0.8M75.9 127h0.8M67.1 123.9h0.8M60.2 111.8h0.8M48 126h0.8M74 131.3h0.8M67 126.6h0.8M89.8 127.5h0.8M55 119.8h0.8M68.3 114.6h0.8M74.5 127.7h0.8M60.8 119.7h0.8M61.7 116.4h0.8M73.5 121.1h0.8M95.9 124.9h0.8M75.7 119.6h0.8M40.5 120.4h0.8M50.7 127.2h0.8M79.2 126.4h0.8M70.2 122.4h0.8M77.8 127h0.8M53.2 124.2h0.8M61.4 116.5h0.8M39.9 128.7h0.8M67.1 122.9h0.8M50 127.9h0.8M77.2 123.6h0.8M74.6 120.9h0.8M94.6 125h0.8M72.2 129.1h0.8M82.2 124h0.8M75.2 120.4h0.8M50.6 118.8h0.8M47.2 121.7h0.8M70.7 107.7h0.8M66.4 125.2h0.8M69 114.8h0.8M88.9 116.5h0.8M43.9 114h0.8M65.8 127.4h0.8M87 122.4h0.8M44.6 116.7h0.8M49.9 119.9h0.8M34.1 121.7h0.8M77.6 120h0.8M74.3 114.9h0.8M39.8 116.9h0.8M86.8 127.7h0.8M57.8 128.8h0.8M60.2 130.8h0.8M74.7 118.1h0.8M80.3 116h0.8M49.2 111.6h0.8M70.7 120.7h0.8M64.6 118.3h0.8M91.9 118.2h0.8M53 129.1h0.8M91.6 123.2h0.8M34.7 117.1h0.8M77 121.1h0.8M94 112.1h0.8M78.2 116.9h0.8M89.8 120.5h0.8M84.6 116.8h0.8M40.6 113.8h0.8M55.1 114.3h0.8M87.6 129.7h0.8M70.9 114.3h0.8M63.9 116.5h0.8M92.2 123.1h0.8M74.8 118.4h0.8M29.8 116h0.8M45.9 123.4h0.8M67.7 115.8h0.8M59 131.2h0.8M48.7 115h0.8M61.9 116.5h0.8M58.3 124.5h0.8M97.2 109.4h0.8M65.7 121.3h0.8M64.5 119.8h0.8M59.9 127.5h0.8M57.6 120.2h0.8M66 121.7h0.8M62.9 127.5h0.8M65.8 122.1h0.8M65.1 114.5h0.8M51.1 114.2h0.8M69.5 116.4h0.8M46.9 122.5h0.8M75.5 109.6h0.8M96.4 121.2h0.8M64.1 127.9h0.8M67.3 117.1h0.8M105.5 114h0.8M64.2 126.5h0.8M46.7 120.3h0.8M49.9 120.7h0.8M77.9 121.5h0.8M44.3 123.7h0.8M67.9 123.9h0.8M86.4 127.6h0.8M73.3 123h0.8M46.2 120.1h0.8M70 118.4h0.8M67.8 115.6h0.8M59 123.6h0.8M61.8 129.2h0.8M73.8 121.5h0.8M62 121.8h0.8M48 125.4h0.8M53.1 124.5h0.8M68.3 128.1h0.8M65.7 127.6h0.8M49.4 125h0.8M62 122.3h0.8M67.3 127.1h0.8M29.6 123.1h0.8M39.1 128.8h0.8M30.5 114.5h0.8M35.9 131.7h0.8M42.8 121.7h0.8M56.4 109.3h0.8M59.9 125.3h0.8M62.7 127.1h0.8M59.5 121h0.8M59.1 123.2h0.8M100.2 123.4h0.8M69.5 117h0.8M52.4 130.5h0.8M46 115.1h0.8M64.2 118.2h0.8M101.2 105.6h0.8M72.5 125.6h0.8M45.8 116.8h0.8M73.8 131.6h0.8M49.4 110.7h0.8M83.5 130.9h0.8M60 106.6h0.8M92.1 119.7h0.8M86.2 120.7h0.8M59.2 118.1h0.8M92.5 130.3h0.8M98 118.6h0.8M41.5 121h0.8M64 120.4h0.8M57.4 119h0.8M57.8 123.2h0.8M51.4 119.1h0.8M63.4 129.5h0.8M72.7 120.3h0.8M75.7 123.6h0.8M85.6 124.3h0.8M98.3 129.7h0.8M65.3 118.3h0.8M81.9 124.4h0.8M64.3 111.4h0.8M33 123.3h0.8M79.9 126.2h0.8M42.8 127.7h0.8M56.4 123.5h0.8M73.5 115.8h0.8M55.4 107.5h0.8M49.5 109.3h0.8M73.9 121.4h0.8M82.5 123.3h0.8M54.6 123.3h0.8M59 125h0.8M71.7 114.6h0.8M66 121.4h0.8M60.5 126.8h0.8M96.8 118.6h0.8M59.7 106.4h0.8M63.7 118.2h0.8M76.6 116.2h0.8M59.3 114.7h0.8M79.7 111.1h0.8M66.9 124h0.8M63.4 113.4h0.8M65.4 123.6h0.8M47.6 123.2h0.8M88.4 128h0.8M37.5 114.7h0.8M37 128h0.8M77 125.6h0.8M50.2 113.4h0.8M67.4 121.7h0.8M50.6 121.9h0.8M77.6 122.5h0.8M47.3 107.3h0.8M61.3 122.1h0.8M61.3 118.2h0.8M53.6 125.7h0.8M65.1 121.8h0.8M48.5 117h0.8M68.9 114.5h0.8M43.3 118.9h0.8M87.6 122.2h0.8M92.3 120.1h0.8M60.4 112h0.8M55.6 130.3h0.8M71.9 125.8h0.8M78.7 120.9h0.8M62.3 121.8h0.8M78.1 124h0.8M74.9 122h0.8M52.1 119.3h0.8M49.1 127.5h0.8M45.6 120.9h0.8M89.2 120h0.8M77 121.6h0.8M67.3 117.5h0.8M57.2 123.5h0.8M73.4 126h0.8M68.5 111.7h0.8M75.6 119h0.8M60.9 111.4h0.8M55.7 116.3h0.8M65.3 111.6h0.8M66.9 121.8h0.8M45.8 116.9h0.8M50.6 126.9h0.8M36.1 118.2h0.8M81.2 116.9h0.8M68.5 115.5h0.8M100.9 126.9h0.8M86.3 112.4h0.8M46.2 128h0.8M62.5 119.3h0.8M72 112.8h0.8M79.9 121.1h0.8M74.6 116.6h0.8M75.2 116.4h0.8M83.2 128.3h0.8M82.4 124.4h0.8M77.4 103.4h0.8M81 119.2h0.8M67.7 119.2h0.8M41 117.5h0.8M77.9 130.2h0.8M54.8 115.1h0.8M92.1 115.3h0.8M103.3 121.3h0.8M50.1 127.4h0.8M96.5 111.7h0.8M94.1 119.2h0.8M92.8 118.5h0.8M37.6 124.3h0.8M97 125.5h0.8M61.7 117.6h0.8M60.7 115.6h0.8M61.1 104.5h0.8M69.2 120.8h0.8M57.4 124.7h0.8M43.9 117.1h0.8M32.4 130.3h0.8M76.7 113.4h0.8M64.9 127.2h0.8M74.9 123.5h0.8M50.6 116.9h0.8M67.7 127h0.8M62.1 101.3h0.8M85.7 102.4h0.8M84.9 109.5h0.8M82.6 118.5h0.8M80.3 112.7h0.8M61 103.8h0.8M79.7 117.2h0.8M88.7 121.9h0.8M75.7 109.2h0.8M84.1 108.1h0.8M71.3 101.7h0.8M83.9 101.6h0.8M78.1 99.5h0.8M85.2 101.8h0.8M82.1 98.5h0.8M66.7 115.1h0.8M62.3 108.4h0.8M66.3 94.1h0.8M75.7 110.6h0.8M58.7 111.4h0.8M62.5 102h0.8M72.1 103.9h0.8M99.5 98.7h0.8M80.9 113.9h0.8M48.2 97.6h0.8M78.7 105.1h0.8M76.6 114.8h0.8M67.5 101.6h0.8M39.2 109.2h0.8M60.9 109.9h0.8M74.8 99.7h0.8M92.7 114.5h0.8M82.2 100.9h0.8M67.1 104.7h0.8M67 101.3h0.8M77.2 109.4h0.8M76.4 105h0.8M87.5 109.1h0.8M39.1 104.2h0.8M71.3 113.8h0.8M68.4 106.5h0.8M64 112h0.8M66.6 104.4h0.8M63.1 111.3h0.8M65.6 97.9h0.8M79.5 103.8h0.8M76.3 110.2h0.8M86.4 114.3h0.8M65.1 107h0.8M56.5 118.1h0.8M77.3 116.4h0.8M68.2 95.7h0.8M90.4 108.6h0.8M73.6 108.3h0.8M79.7 111.2h0.8M52.9 114.5h0.8M65.7 105.2h0.8M92.7 113.5h0.8M67.9 96.9h0.8M73.9 111.2h0.8M71 100.5h0.8M62.5 100.5h0.8M74.6 112.9h0.8M84.3 103.6h0.8M74.8 111.3h0.8M65.9 107.1h0.8M97.5 109.2h0.8M82.6 105.4h0.8M72.5 97.7h0.8M71.7 115.2h0.8M97.2 115.2h0.8M80.2 108.3h0.8M64.8 107h0.8M79.4 103.3h0.8M83.2 102.1h0.8M50.6 101.9h0.8M52 99.8h0.8M85.6 106.8h0.8M74.6 114.9h0.8M87.1 105h0.8M87.9 110.3h0.8M72 110.7h0.8M54.9 103.3h0.8M70.7 111.7h0.8M67.5 107.2h0.8M83.6 116.5h0.8M81.2 115.6h0.8M67.1 106.2h0.8M75.8 106.2h0.8M65.9 117.9h0.8M69.6 102.2h0.8M77.8 119h0.8M73 115.4h0.8M66.7 105.1h0.8M63.7 107.1h0.8M94 101.1h0.8M91.6 101.9h0.8M69.2 113h0.8M79.6 109.7h0.8M52.2 110.2h0.8M59.7 123.4h0.8M69.4 109.1h0.8M58.2 105.1h0.8M56.5 113.9h0.8M68.9 111.4h0.8M63.8 105h0.8M87.5 102.2h0.8M50.4 110.4h0.8M58.3 105.4h0.8M82.9 103.1h0.8M82.5 103.9h0.8M89.9 116h0.8M66.3 106.7h0.8M62 109.2h0.8M85.8 99.3h0.8M83 100.1h0.8M61.7 97.3h0.8M97.3 108.4h0.8M74.9 103.9h0.8M84.8 95.4h0.8M72.3 121.2h0.8M67.4 108.1h0.8M80.1 103.1h0.8M72.3 113.8h0.8M74.3 110.2h0.8M67.8 109.9h0.8M72.7 116.7h0.8M80.7 106.5h0.8M42.6 112.3h0.8M81.1 102.5h0.8M48 101.1h0.8M83.1 101.6h0.8M66.5 109.3h0.8M86.7 107.9h0.8M70.8 104.7h0.8M91.6 114.4h0.8M70.9 99.6h0.8M62.5 111.5h0.8M63.3 113.4h0.8M76.3 109.8h0.8M79.8 111h0.8M61.7 106h0.8M100.1 100.8h0.8M66.3 114.4h0.8M70.1 103.1h0.8M56.1 111.2h0.8M84.2 116.4h0.8M72.6 114.3h0.8M59.6 109h0.8M63.9 109h0.8M81 114.4h0.8M60.1 115.6h0.8M66.3 101.8h0.8M70 99.2h0.8M72.1 109.7h0.8M69.6 111.2h0.8M68.2 108h0.8M54.7 108.3h0.8M61.8 105.3h0.8M70.9 109.1h0.8M66.7 86.7h0.8M77.2 95.3h0.8M82.4 97.1h0.8M89.7 95.4h0.8M79.4 88.9h0.8M72.2 91.3h0.8M81.6 94.2h0.8M79.6 92.7h0.8M84.5 94.2h0.8M81.9 94.6h0.8M75.3 88.9h0.8M83.4 95.1h0.8M77.8 91.5h0.8M97.3 90.1h0.8M77.9 94.4h0.8M70.6 93.8h0.8M93.5 97.3h0.8M84.5 95.8h0.8M80.4 97.4h0.8M78.3 91.5h0.8M80.3 97.1h0.8M82.1 96.2h0.8M63.8 98.4h0.8M97.8 99h0.8M77.1 89.7h0.8M81.7 89.1h0.8M85.2 91.1h0.8M87 99.1h0.8M63.7 94.5h0.8M74.1 87.3h0.8M74.7 92.4h0.8M87.6 86.8h0.8M87.7 101.9h0.8M84.2 95.6h0.8M79.4 88.3h0.8M83.7 94.9h0.8M85.2 104.2h0.8M85.2 95.1h0.8M91.7 87.6h0.8M70.7 91.7h0.8M74.5 96.2h0.8M77.1 100.7h0.8M91.4 96.6h0.8M76.5 95.9h0.8M85.9 88.8h0.8M82.3 96.3h0.8M81.2 100h0.8M89 89.8h0.8M80.5 89.7h0.8M84.1 89.6h0.8M86.7 94.9h0.8M87.1 92.7h0.8M68.2 100.8h0.8M78.2 99.2h0.8M82.9 96.2h0.8M93.8 94.7h0.8M90.5 87h0.8M86.3 92.3h0.8M78.5 93.3h0.8M82.2 100.3h0.8M65.1 93.5h0.8M74 98.3h0.8M76.3 95.2h0.8M76.5 96.1h0.8M87.5 91.6h0.8M79.9 87.3h0.8M81.9 96.9h0.8M75.2 98.1h0.8M63.4 85.4h0.8M68.7 91.2h0.8M79.7 93h0.8M79 96.4h0.8M75.9 87.9h0.8M69.9 102.3h0.8M61.2 92.6h0.8M90.9 95.4h0.8M73.1 93.3h0.8M86.3 98.4h0.8M72.5 96.5h0.8M81.5 98h0.8M90.4 91.8h0.8M68.3 95h0.8M93.4 96.2h0.8M81.3 103.5h0.8M71.5 97.1h0.8M75.1 93.5h0.8M80.2 99.7h0.8M72.3 91h0.8M67.1 95.4h0.8M76 95.1h0.8M71.2 91.8h0.8M87.6 92.6h0.8M84.4 95.5h0.8M76.8 86.7h0.8M87.2 94h0.8M87.2 84.7h0.8M66.7 84.2h0.8M72.7 97.7h0.8M84 93.2h0.8M80.6 96.5h0.8M77.2 95h0.8M80.6 84h0.8M76.6 99.1h0.8M76.5 92.7h0.8M74.8 91.2h0.8M88.3 92.2h0.8M71.6 80.1h0.8M75.1 84.9h0.8M65.4 96.7h0.8M85.1 85.2h0.8M86.2 95.3h0.8M73.4 96.4h0.8M66.9 88.2h0.8M68.3 88.6h0.8M86.4 87.6h0.8M70.6 89.3h0.8M81.1 91.9h0.8M86.3 90.3h0.8M69.5 91.2h0.8M79.8 89.3h0.8M81.7 101h0.8M75 93.5h0.8M90 90.5h0.8M72.9 88.6h0.8M82.5 95.4h0.8M78.3 93.4h0.8M89.3 96.9h0.8M68.5 93.2h0.8M80.2 96.3h0.8M77.6 90.5h0.8M75.8 85.6h0.8M79.1 90.6h0.8M83 88.8h0.8M75.9 89h0.8M71 96.1h0.8M75.7 95h0.8M70.6 93.6h0.8M66.1 91.1h0.8M75.3 95.6h0.8M80.6 92.4h0.8M85.8 93.9h0.8M83.4 96.4h0.8M78.7 91.9h0.8M81.8 91.3h0.8M82.2 97.8h0.8M85.8 91.5h0.8M69.2 92.9h0.8M78.2 97.8h0.8M76.2 92.2h0.8M84.9 91.1h0.8M77.9 100.4h0.8M90.8 95.8h0.8M81.3 89h0.8M83.5 93.3h0.8M80.9 90.9h0.8M79.1 92.3h0.8M81.6 99.2h0.8M82 86.1h0.8M71.6 86.4h0.8M73 95.5h0.8M82.3 90.6h0.8M81.2 89.9h0.8M68.1 87.1h0.8M72.5 99.1h0.8M68.8 98.4h0.8M89.5 92.3h0.8M78.8 90.5h0.8M79 95.9h0.8M79.2 97.3h0.8M88.4 94.5h0.8M51 92h0.8M52.9 100.7h0.8M43.2 97.9h0.8M52 125.2h0.8M64.2 123.4h0.8M32.4 94.5h0.8M104.8 88.1h0.8M34 109.6h0.8M51.6 94.7h0.8M77.2 113.8h0.8M43.5 110.5h0.8M64.9 124.7h0.8" stroke="#000" stroke-width="0.8" stroke-opacity="0.38"/>
</g>
<rect x="28.4" y="50.8" width="80.2" height="80.9" stroke="#222" stroke-width="1.25" fill="none"/>
<ellipse cx="79.5" cy="93.3" rx="17.3" ry="8.5" stroke="#111" stroke-width="1.2" fill="none"/>
<text x="80.9" y="82.1" font-size="10" text-anchor="middle" stroke="#000" stroke-width="0.2">1.46</text>
<g clip-path="url(#c2)">
<ellipse cx="153" cy="119" rx="36" ry="13" fill="#000" fill-opacity="0.18" filter="url(#b4)"/>
<ellipse cx="160" cy="107" rx="24" ry="11" fill="#000" fill-opacity="0.05" filter="url(#b4)"/>
<ellipse cx="155.5" cy="133.7" rx="33.6" ry="9" fill="#000" fill-opacity="0.55" filter="url(#b3_5)"/>
<ellipse cx="166.3" cy="93.6" rx="13" ry="5.7" fill="#000" fill-opacity="0.03" filter="url(#b2)"/>
<ellipse cx="136" cy="124.5" rx="14" ry="9.5" fill="#000" fill-opacity="0.9500000000000001" filter="url(#b3_2)"/>
<ellipse cx="166" cy="122.5" rx="14" ry="10.5" fill="#000" fill-opacity="0.9700000000000001" filter="url(#b3_2)"/>
<path d="M143.6 125.7h0.8M143.2 130.4h0.8M121.3 123.4h0.8M123.2 125h0.8M140.8 118.3h0.8M135.2 115.4h0.8M135.8 128h0.8M138.2 110.2h0.8M131.9 127.8h0.8M122.1 127.9h0.8M128.6 125.5h0.8M139.6 129h0.8M129.4 125.4h0.8M123.3 113.9h0.8M141.2 123.7h0.8M118.6 118h0.8M146.3 129.8h0.8M116.8 123.4h0.8M140.4 126.9h0.8M139.7 122.4h0.8M134.4 117h0.8M156.7 120.1h0.8M125.6 126.2h0.8M131.8 127.8h0.8M141.5 124h0.8M147.1 122.1h0.8M126.9 120.6h0.8M135.8 116.5h0.8M127.2 120.2h0.8M131.5 117h0.8M124.2 125.2h0.8M160.3 129.4h0.8M143.2 113.2h0.8M135.1 115.6h0.8M143.4 122.4h0.8M135.8 123.4h0.8M129.3 113.1h0.8M141.4 114.1h0.8M123.1 121.9h0.8M128 126h0.8M145.9 125.9h0.8M137.4 124.2h0.8M144.3 110.8h0.8M139.2 117.4h0.8M122.6 124.1h0.8M131.4 128.3h0.8M146.8 107.3h0.8M136.4 113.7h0.8M123.7 129.2h0.8M145.4 118.8h0.8M132.6 126h0.8M117.2 121.6h0.8M129.9 118.2h0.8M138.8 125.4h0.8M131.6 122.9h0.8M145.7 119.7h0.8M136.4 126.9h0.8M145.4 124.8h0.8M153.3 122.3h0.8M129.1 120.7h0.8M145.9 126h0.8M126.9 126.6h0.8M140.9 129.1h0.8M127.4 130.7h0.8M154.9 121h0.8M143.1 112.9h0.8M135.9 125.6h0.8M129.4 122h0.8M133.2 112.2h0.8M148.7 128.5h0.8M142.6 125.4h0.8M159.6 124.7h0.8M140.8 110.8h0.8M129.4 119.2h0.8M135.2 126.6h0.8M124.4 120.9h0.8M137.9 115.1h0.8M141.4 128.7h0.8M136.3 126.2h0.8M125.5 112.1h0.8M128.9 121.8h0.8M130.7 129.7h0.8M129.6 120.4h0.8M124 130.6h0.8M131.2 125.7h0.8M139.6 128.1h0.8M148.3 122.7h0.8M133.7 129.3h0.8M139.9 122.4h0.8M135.9 120.5h0.8M142.9 130.9h0.8M119.5 122.5h0.8M153.3 121.1h0.8M141.2 115.5h0.8M143.6 116.8h0.8M121.5 123.1h0.8M130.5 116.2h0.8M131.7 116.9h0.8M136.1 124h0.8M143.3 120.9h0.8M121.6 114.6h0.8M144.4 119.5h0.8M145.3 115.8h0.8M146.1 121.4h0.8M143.5 128.7h0.8M132.6 126.5h0.8M124.4 123.6h0.8M142.8 124.8h0.8M118.2 118.4h0.8M139.3 115.5h0.8M129.6 120.2h0.8M121.8 114.1h0.8M140.1 128.7h0.8M139.2 126.1h0.8M129.7 126.8h0.8M120.2 124.2h0.8M130.7 121.8h0.8M119.9 121.1h0.8M126.8 128.8h0.8M140 123.2h0.8M142.6 116.3h0.8M137.8 114.5h0.8M127.6 114.8h0.8M121.7 119.2h0.8M125.3 128h0.8M143.9 122.4h0.8M123.8 130h0.8M143.1 128.9h0.8M145.7 122.6h0.8M122.4 120.5h0.8M141.5 118.6h0.8M128.2 114.1h0.8M123.4 130.3h0.8M140.3 115.8h0.8M124.3 120.1h0.8M141.3 115.7h0.8M133.8 108.7h0.8M122.4 127.2h0.8M144.9 115.8h0.8M127.5 129.9h0.8M131.5 120.3h0.8M141 125.6h0.8M147.2 129.9h0.8M129.5 123.3h0.8M134.9 114.4h0.8M125.4 131.2h0.8M119 131.4h0.8M138.5 123.2h0.8M141.2 127.6h0.8M148.2 121.3h0.8M133.2 122.4h0.8M155.2 131h0.8M125.9 121.8h0.8M128.2 124.3h0.8M116.5 131.6h0.8M140.1 119.1h0.8M134 120.6h0.8M136.1 131.5h0.8M136.2 118.2h0.8M142.6 129.4h0.8M157.5 109.8h0.8M122.6 122.6h0.8M148 129.9h0.8M139.6 126h0.8M126.6 120.5h0.8M143.3 125.3h0.8M155 121.9h0.8M138.6 127h0.8M136.4 118.4h0.8M151.3 119.5h0.8M143.1 122.2h0.8M140.2 121.7h0.8M143.5 123.6h0.8M133.5 123.2h0.8M124.5 118.9h0.8M142.5 128.4h0.8M135.8 119.3h0.8M142.9 112.1h0.8M132.2 122.5h0.8M127 125.5h0.8M128.9 118.6h0.8M154.6 129.7h0.8M148.3 124.8h0.8M145.9 130h0.8M133.5 126.3h0.8M135.3 99.1h0.8M121.4 124.6h0.8M142.5 120.3h0.8M154.2 127.8h0.8M134.3 121.8h0.8M137.2 120.6h0.8M147.1 130.1h0.8M148.7 128.7h0.8M127.7 123.4h0.8M145.1 121.6h0.8M166.4 122.8h0.8M143.8 124.3h0.8M133.6 127.6h0.8M144.7 130h0.8M132.9 127.6h0.8M144.8 130h0.8M127.9 122.8h0.8M137.9 131.1h0.8M142.4 123.6h0.8M129.6 126.7h0.8M152.3 127h0.8M132 123.7h0.8M146.9 127.9h0.8M133.3 130.9h0.8M140.5 125.3h0.8M139.1 126.3h0.8M132.5 121.2h0.8M136.3 117.6h0.8M133.5 124.3h0.8M134.6 124.7h0.8M136.2 125h0.8M127.6 131.2h0.8M116 116.9h0.8M146.3 123.4h0.8M129 127.2h0.8M125.1 125.1h0.8M129.2 128.4h0.8M145.1 118.3h0.8M152.7 120.2h0.8M152 123.9h0.8M129.3 119.1h0.8M133.9 107.6h0.8M144.8 121.8h0.8M135.9 119.1h0.8M141.3 120.2h0.8M148.8 131.4h0.8M136.7 128.9h0.8M141.9 122.5h0.8M145.3 122.9h0.8M142.4 117.7h0.8M137.1 127.5h0.8M127.8 121.5h0.8M130.5 129.8h0.8M128.5 127.7h0.8M151.9 127.1h0.8M119.3 125.4h0.8M146.9 122.5h0.8M147.6 129h0.8M140.5 122.7h0.8M130.8 122.7h0.8M136.7 128.3h0.8M140.5 122.4h0.8M136.8 127.4h0.8M119.2 119h0.8M127.8 123.1h0.8M133.3 122.7h0.8M127.1 129.4h0.8M139 112.8h0.8M136.3 116.5h0.8M153.9 121.3h0.8M132.1 125.2h0.8M134.1 124.2h0.8M152.3 126.2h0.8M143.3 131.5h0.8M127.2 130.5h0.8M140.5 120.8h0.8M159.9 128.7h0.8M133.7 126h0.8M151.5 115.7h0.8M131.1 117.9h0.8M143 117.1h0.8M130.7 123.9h0.8M139.4 111.5h0.8M144.3 127.1h0.8M142.1 117.6h0.8M128.2 120.3h0.8M138.8 125.2h0.8M149.8 119.5h0.8M152.8 120.7h0.8M133.4 125.2h0.8M127.2 117.6h0.8M132 130.8h0.8M131.5 123.2h0.8M131.4 114.8h0.8M151.6 107.8h0.8M129.4 128.7h0.8M121.7 129h0.8M149.2 118.5h0.8M138.4 116.6h0.8M141.5 125.3h0.8M142.8 116h0.8M138.9 128.2h0.8M136.9 127.3h0.8M126.9 125.2h0.8M139.3 122.3h0.8M137 109.4h0.8M150.4 116.6h0.8M127.5 128.6h0.8M126.7 126.7h0.8M125.6 129.4h0.8M126.2 128.8h0.8M143.2 113.1h0.8M124.4 116.2h0.8M120.5 119.4h0.8M126.2 114.2h0.8M137.2 128.5h0.8M122.5 120.6h0.8M136.2 122.9h0.8M128.9 130.4h0.8M144.9 129.5h0.8M154.2 121.7h0.8M127.8 127.4h0.8M136.6 119.5h0.8M133.7 113.3h0.8M130.5 110.2h0.8M148.9 126.7h0.8M146.7 131.2h0.8M126.6 127.6h0.8M130.5 116h0.8M124.2 127.6h0.8M147 114.7h0.8M132.1 121.2h0.8M135.3 131.6h0.8M132.1 116.6h0.8M139.6 109.6h0.8M139.2 130.1h0.8M141.1 129.7h0.8M137.5 118.5h0.8M133.7 124h0.8M140.4 119.1h0.8M128.4 123.1h0.8M150.4 126.9h0.8M135.4 119h0.8M145.2 126.6h0.8M135.5 125.2h0.8M153.5 123.3h0.8M136.5 130.9h0.8M134.7 118.5h0.8M133.2 118h0.8M141.3 124.6h0.8M141.9 130.5h0.8M117.3 125.7h0.8M126.9 125.3h0.8M150.2 112.2h0.8M138 123.9h0.8M116.3 129.2h0.8M136.4 120.8h0.8M131.9 111.5h0.8M126.3 121.9h0.8M132 123.9h0.8M125.1 128.4h0.8M131 114.7h0.8M127.5 121.7h0.8M144.8 128h0.8M132.5 124.6h0.8M129.6 127.9h0.8M143.6 117.6h0.8M138 125.7h0.8M131.1 128.6h0.8M134 125.9h0.8M160.4 116.6h0.8M138.3 130.9h0.8M137.6 129.2h0.8M137.8 129.9h0.8M149.3 122.9h0.8M138.1 124.1h0.8M131.8 124.4h0.8M124.2 129.9h0.8M149.3 117.6h0.8M151.8 119.3h0.8M124.9 130.6h0.8M138.9 123.4h0.8M126.9 127.5h0.8M148.7 114.6h0.8M130.7 122.2h0.8M123.7 116.5h0.8M136.9 123h0.8M118.8 120.6h0.8M141.4 115.8h0.8M149.7 112.8h0.8M121.9 127.2h0.8M123.6 122.7h0.8M131.3 128.5h0.8M134.4 112.2h0.8M141.1 129.6h0.8M133.4 122.1h0.8M137.6 128.3h0.8M135.5 121.8h0.8M126.5 126.3h0.8M132.9 122.7h0.8M145.7 128h0.8M145 113.2h0.8M141.8 120.3h0.8M127.6 118.4h0.8M148.6 130.5h0.8M128.5 116.3h0.8M136.1 121.2h0.8M153.3 114h0.8M117 122.7h0.8M136.1 125.5h0.8M132.4 120.6h0.8M117.7 126.3h0.8M144.9 122.6h0.8M148.3 124.7h0.8M151.8 126.9h0.8M125 119.9h0.8M120 112h0.8M138.8 130.8h0.8M156.3 124.1h0.8M133.5 116.5h0.8M146.3 127.3h0.8M129.8 129.5h0.8M141.8 111h0.8M143.7 125.5h0.8M131.9 121.5h0.8M155 116.2h0.8M129.2 131h0.8M123.4 119.3h0.8M147.1 127.8h0.8M138.3 121.5h0.8M131.9 128.9h0.8M130.9 118.2h0.8M149.5 123.5h0.8M141.8 121.5h0.8M119.9 111.1h0.8M139.2 127.6h0.8M137.1 115.8h0.8M145.2 114h0.8M131.2 118.8h0.8M132.1 130.6h0.8M129.4 128.6h0.8M143.2 112.2h0.8M123.9 121.7h0.8M129.8 126.7h0.8M115.9 129.7h0.8M143.7 123.3h0.8M121.6 124.5h0.8M130.4 128.6h0.8M135.1 129.7h0.8M141.1 113.6h0.8M143.7 115.7h0.8M137 117.9h0.8M131.4 125.8h0.8M134.9 121.8h0.8M158.4 124.6h0.8M125.9 131.2h0.8M154.6 117.7h0.8M136 126.3h0.8M154.6 111.6h0.8M130.4 126.6h0.8M117.7 124.8h0.8M144.9 115h0.8M149.7 128.4h0.8M140 122.3h0.8M133.8 117.5h0.8M138.5 122.2h0.8M132.8 123.9h0.8M144.1 126.2h0.8M123.5 123.5h0.8M140.9 121.1h0.8M147.9 130.1h0.8M125.7 126.8h0.8M135.4 131h0.8M129 114.1h0.8M141.8 126.3h0.8M141.3 124.3h0.8M139.4 120.8h0.8M140.9 130.5h0.8M135.4 130.4h0.8M117.6 118.8h0.8M138.6 123.8h0.8M122.8 127.1h0.8M144.1 113.8h0.8M141.8 128h0.8M140.6 116.4h0.8M141.6 113.7h0.8M151.5 125.5h0.8M148 119.8h0.8M158.9 117.3h0.8M135.3 124.4h0.8M124.8 126.9h0.8M124.5 117.5h0.8M131.3 115.7h0.8M152.4 114.9h0.8M128.2 122.2h0.8M166 128.8h0.8M174.5 120.1h0.8M162 122.8h0.8M174.5 128.1h0.8M160.6 106h0.8M188.3 130.1h0.8M168.7 125.2h0.8M160.6 114.5h0.8M162.5 120.7h0.8M159.5 110.8h0.8M162.7 127.1h0.8M160.9 122.7h0.8M144.5 120.8h0.8M164.7 112.7h0.8M148 125.8h0.8M157.6 126.4h0.8M161.6 127.5h0.8M162.5 110.4h0.8M165.1 119.9h0.8M172.8 118.9h0.8M161.9 129.4h0.8M178.1 128.6h0.8M176.8 126.1h0.8M174 129.5h0.8M170.2 123h0.8M166.1 120.6h0.8M162.2 122.2h0.8M168.5 113.5h0.8M145.4 124.9h0.8M149.3 124.6h0.8M183.4 125.4h0.8M160.2 113.1h0.8M157.8 122.8h0.8M144.5 123.1h0.8M165.9 127.7h0.8M162.5 123.3h0.8M158.3 118.8h0.8M147.6 123.5h0.8M182.1 123.8h0.8M169.8 114.6h0.8M180.9 116.4h0.8M174.3 123.4h0.8M156 130.7h0.8M166.2 123.9h0.8M170.7 122.3h0.8M162.1 126.2h0.8M161.8 123h0.8M159.1 110.6h0.8M159 118.5h0.8M148.4 123.5h0.8M143 114.1h0.8M160.7 104.5h0.8M146.7 123.7h0.8M166.8 121.6h0.8M164.3 115.6h0.8M183.5 127.4h0.8M167.6 127.6h0.8M168.4 114.3h0.8M176.1 123.8h0.8M155.5 116.4h0.8M175.9 119.5h0.8M166.5 127.7h0.8M167.3 110.3h0.8M172.6 130h0.8M169.8 128.7h0.8M182.5 120.2h0.8M174.9 115.5h0.8M177.8 125.1h0.8M170.3 123.7h0.8M180.1 126.9h0.8M158.8 126.4h0.8M173.6 116.7h0.8M161.5 119.4h0.8M159.7 125.3h0.8M178.4 130.7h0.8M162.1 128h0.8M169.4 121.5h0.8M161.3 118.5h0.8M163.2 112.6h0.8M171.4 122.3h0.8M167.1 125.2h0.8M173.5 117.8h0.8M164.9 109.6h0.8M142.9 107h0.8M182 107.9h0.8M185.2 130.1h0.8M190.7 127.5h0.8M158.4 126.7h0.8M161.4 112.1h0.8M160.4 122.4h0.8M159.2 123.7h0.8M163.6 119.3h0.8M153.5 111.3h0.8M158.4 124.9h0.8M187.7 131h0.8M185.1 126.5h0.8M165.2 112h0.8M166.2 105.5h0.8M169.6 131.7h0.8M162.2 111.6h0.8M161.2 119.5h0.8M158.5 119.8h0.8M164.7 119.9h0.8M153.3 123.4h0.8M170 125.8h0.8M153.7 121.8h0.8M148.2 130h0.8M155.7 120.5h0.8M161.6 118.1h0.8M155.3 108.6h0.8M184.3 124.8h0.8M165.3 127.2h0.8M171.5 125.3h0.8M163.7 125h0.8M178.4 106.1h0.8M165 119.4h0.8M163.2 106.9h0.8M173.9 116h0.8M164 118.7h0.8M149 119.2h0.8M147.2 115.2h0.8M163.1 122.7h0.8M166.9 121.7h0.8M188.6 126.2h0.8M153.6 117.9h0.8M159.5 121.3h0.8M160.1 115.9h0.8M183.5 123.1h0.8M162.8 120.7h0.8M133.9 125.4h0.8M166.7 109h0.8M172.5 118h0.8M147.7 117.8h0.8M173.9 114.4h0.8M192.5 113.4h0.8M165.6 111.2h0.8M180.1 126.4h0.8M175.6 123.5h0.8M165.7 124.2h0.8M146.8 130.8h0.8M175.9 119.7h0.8M166.3 125.2h0.8M182.7 126.3h0.8M166.9 118.8h0.8M150.8 118.1h0.8M167.2 120.8h0.8M167.2 128.8h0.8M171 125.1h0.8M173.3 124.3h0.8M166.1 126.6h0.8M153.1 129.6h0.8M166.9 115.3h0.8M177.7 124.4h0.8M167.7 123.5h0.8M176.9 129.4h0.8M168.9 110.5h0.8M162.3 123.8h0.8M185.2 126h0.8M165.4 122.7h0.8M168.2 110.9h0.8M176.5 126.3h0.8M163.6 113.8h0.8M159.9 114.4h0.8M170.9 110.2h0.8M143.5 119.4h0.8M159.4 120.7h0.8M160.9 125.6h0.8M164.3 118.2h0.8M161.8 128h0.8M176.6 130.2h0.8M173.9 96.6h0.8M156.2 120.4h0.8M168.7 110h0.8M181.4 125.4h0.8M160.2 124.3h0.8M163 116.9h0.8M171.9 119.3h0.8M151.9 117.9h0.8M165.4 114.3h0.8M179.7 114.3h0.8M184.9 130.1h0.8M156.8 124h0.8M178.9 121.5h0.8M154.2 123.9h0.8M187.4 111.1h0.8M172.4 123.1h0.8M165.5 119.9h0.8M163.4 131.3h0.8M172.9 115.1h0.8M182.9 112.7h0.8M173.6 124.5h0.8M179.2 125.9h0.8M177.7 122.9h0.8M176.8 125.8h0.8M189.1 117.5h0.8M179.2 126.8h0.8M168.6 118.5h0.8M171.4 111.3h0.8M152.5 128.8h0.8M163.9 125.1h0.8M167.6 126.5h0.8M163.9 120.2h0.8M165.5 131.5h0.8M170.6 121.5h0.8M149.3 128.2h0.8M175.5 119.9h0.8M167.8 131.6h0.8M170 109.2h0.8M161.9 119.8h0.8M172.3 116.2h0.8M162.2 115.4h0.8M166.4 123.7h0.8M176.9 129.5h0.8M168.5 125h0.8M167.9 124h0.8M182.9 103.2h0.8M165 125.6h0.8M178.6 114.4h0.8M170.4 130h0.8M162.2 107.8h0.8M163.1 113.5h0.8M173.6 116.3h0.8M185.3 124.2h0.8M158.4 119.1h0.8M155.4 126.2h0.8M182.3 121.4h0.8M176.4 115.6h0.8M179 108.1h0.8M151.9 115.3h0.8M176.9 119.7h0.8M165.1 128.8h0.8M168 124.9h0.8M163.3 116.7h0.8M173.5 126.7h0.8M146.2 124.9h0.8M152.7 116.5h0.8M175 116.2h0.8M170.5 120.1h0.8M186.9 122.3h0.8M154.5 114.2h0.8M157.3 124.1h0.8M166.7 130.8h0.8M168.5 124.1h0.8M170.1 122h0.8M169.7 129.3h0.8M174.8 118.7h0.8M148.3 116.6h0.8M169.6 103.1h0.8M161.7 126.6h0.8M160.8 114.1h0.8M180.1 113.9h0.8M194.5 115.5h0.8M163.9 114.2h0.8M167.4 112.4h0.8M166.5 131.6h0.8M168.8 120.8h0.8M182.6 115.8h0.8M176.6 120.5h0.8M168.8 123.2h0.8M167.9 122.5h0.8M158.4 118.4h0.8M171.1 122h0.8M154.4 117.2h0.8M159.3 122.4h0.8M168.3 123.6h0.8M159.7 123h0.8M152.2 99.8h0.8M165.9 109.6h0.8M156.6 113.2h0.8M172.9 113.1h0.8M169.2 118.9h0.8M153.5 110.2h0.8M171.1 125.8h0.8M169.1 124.9h0.8M165 123.5h0.8M162.6 115.5h0.8M186.9 107.8h0.8M168.8 126.2h0.8M167.7 114.9h0.8M164.2 118.9h0.8M155 122.2h0.8M161.9 118.2h0.8M173.2 114.1h0.8M170.6 117.7h0.8M170.5 123.1h0.8M168.5 114.7h0.8M157.9 115.6h0.8M167.8 128.5h0.8M177.2 118.5h0.8M166.8 109.5h0.8M142.9 115.5h0.8M159 110h0.8M147.5 126.7h0.8M157.6 109h0.8M190 123.8h0.8M162.6 127.8h0.8M149.9 111.9h0.8M164.4 116.2h0.8M180.4 109.5h0.8M158.2 124.2h0.8M171.6 130.3h0.8M160.8 123.7h0.8M174.6 119.7h0.8M162.6 118.5h0.8M159 113.2h0.8M159.9 109.9h0.8M169.6 109.5h0.8M177 120.5h0.8M167.4 126.6h0.8M158.1 130.6h0.8M157.2 123h0.8M147.6 116.9h0.8M170.7 118.5h0.8M160.9 128.4h0.8M140.5 126.6h0.8M170.7 109.8h0.8M152 129.1h0.8M154.4 117h0.8M171.7 119.4h0.8M170.4 115.2h0.8M168.5 130.7h0.8M168.8 104.6h0.8M172.2 122.5h0.8M165 111.5h0.8M166.4 124.7h0.8M171.1 130.5h0.8M156.1 126h0.8M173.1 119.9h0.8M155.7 114.4h0.8M173.2 128.4h0.8M156.8 111.4h0.8M178.3 109.7h0.8M167.1 115.6h0.8M147.3 123h0.8M188.9 120.6h0.8M176 130.4h0.8M160 115.2h0.8M182.1 119.1h0.8M165.2 119.7h0.8M164 117.2h0.8M161.6 111.1h0.8M165.9 110.2h0.8M189.4 125h0.8M154.4 128.3h0.8M142.2 116.5h0.8M181.2 128h0.8M151.1 108.8h0.8M174.3 121.7h0.8M159.3 125.3h0.8M159.5 106.8h0.8M173.8 116.9h0.8M155 111.4h0.8M168 115.6h0.8M171.9 119.9h0.8M176.6 119h0.8M158.7 106.4h0.8M154 127.8h0.8M154.7 124.7h0.8M170.4 116.7h0.8M166.2 109.3h0.8M162.3 129.2h0.8M182.3 120.7h0.8M162.7 125.7h0.8M176.9 125.9h0.8M157.7 124.9h0.8M175.4 116.4h0.8M151.6 126.1h0.8M169.2 129.8h0.8M166.4 116.9h0.8M160.9 113.9h0.8M155.7 117.6h0.8M160.4 130.9h0.8M152.8 121.7h0.8M168.2 119.1h0.8M173.9 122.6h0.8M177.5 128.3h0.8M166.9 113.5h0.8M172.8 122.7h0.8M172.5 122.1h0.8M158.4 114.1h0.8M162.6 125.8h0.8M179.8 115.5h0.8M162 113.3h0.8M177.7 124.2h0.8M160.8 109h0.8M163.7 130.1h0.8M162.5 118.8h0.8M172.2 112.4h0.8M166.1 126.9h0.8M157.5 115.6h0.8M168.1 121.4h0.8M163.2 123.8h0.8M167.9 114.8h0.8M158.7 125.8h0.8M156.9 130.9h0.8M173.4 122h0.8M170.7 128.8h0.8M184.1 113.8h0.8M171.8 121.1h0.8M163.5 131.3h0.8M174.1 114.2h0.8M162.7 124h0.8M151.1 129.1h0.8M164.9 123.5h0.8M166 119.4h0.8M183.6 118.3h0.8M160.3 111.3h0.8M176.8 124.4h0.8M170.5 123.6h0.8M164.3 116h0.8M157.7 125.7h0.8M157.9 118.4h0.8M153 128.4h0.8M180.5 121.2h0.8M173.2 105.4h0.8M161.7 109.2h0.8M167.5 122.4h0.8M157.8 129.8h0.8M169.4 118.1h0.8M160.4 110.7h0.8M158.4 125.6h0.8M160.1 128.6h0.8M170.3 120.5h0.8M147.4 118.2h0.8M178.1 120.4h0.8M172.2 118.5h0.8M146.6 125.7h0.8M169 117.7h0.8M161.9 124.6h0.8M159.7 125h0.8M163.7 103.7h0.8M164.3 117.6h0.8M157.1 125.5h0.8M160.7 126.6h0.8M177 123.4h0.8M149.8 116.5h0.8M175.1 120.3h0.8M157.5 121.6h0.8M170.9 124.4h0.8M172.4 115.8h0.8M163 120.3h0.8M165.6 105.8h0.8M163.4 111.7h0.8M183.1 128.7h0.8M160.8 129.9h0.8M163.7 127.2h0.8M156.5 117.7h0.8M194.1 112.2h0.8M165.5 114.8h0.8M164.4 118.1h0.8M165.1 130h0.8M175.5 124.4h0.8M165.9 123.3h0.8M167.1 126.9h0.8M165.9 126.4h0.8M152.4 128.6h0.8M183.8 123.8h0.8M162.5 98.7h0.8M163.6 127.2h0.8M172.2 123.4h0.8M145.5 113.6h0.8M167.7 127.8h0.8M155.3 117.6h0.8M170.7 107.3h0.8M145.8 120.6h0.8M168.5 118.6h0.8M142.3 122.6h0.8M152.2 127.6h0.8M164.8 124.5h0.8M172.5 118.2h0.8M159.4 129.7h0.8M168.6 114.6h0.8M165.1 118.2h0.8M160.2 123.1h0.8M176.8 119.9h0.8M167.2 110.8h0.8M167 131.5h0.8M174.2 126.2h0.8M160.5 114.7h0.8M164.9 111.8h0.8M153.2 129.9h0.8M151.2 125.8h0.8M153.8 123.8h0.8M155.2 122.7h0.8M164.3 118.8h0.8M159.8 129.4h0.8M166.8 122.2h0.8M188.5 105.2h0.8M158.9 108.1h0.8M162.7 120.6h0.8M161.3 126.2h0.8M183.1 123.8h0.8M168 126.4h0.8M150.4 116h0.8M169.3 126.7h0.8M156.4 119.8h0.8M164.6 121.2h0.8M173 123.2h0.8M167.6 111.2h0.8M155 124.9h0.8M149.4 124.5h0.8M159 115.9h0.8M172.5 117h0.8M157 117h0.8M144 122.2h0.8M163.3 129.9h0.8M162 102.7h0.8M179.5 113.7h0.8M165.2 111.5h0.8M154.5 118.4h0.8M174.6 129h0.8M159.6 126.3h0.8M161.9 123.2h0.8M167.4 127.2h0.8M159.4 121.3h0.8M168 123h0.8M161 128.3h0.8M163.5 112.5h0.8M170.9 112.5h0.8M151.2 120.8h0.8M158.7 115.9h0.8M176.1 127.2h0.8M147.8 127.3h0.8M172.3 117.4h0.8M168 124.4h0.8M143.8 117h0.8M140.4 119h0.8M128.7 120.5h0.8M125.7 121.3h0.8M150.9 114.1h0.8M176.1 112h0.8M175.2 122.2h0.8M151.5 116.9h0.8M152.3 129.7h0.8M162.1 118.1h0.8M140.4 118.1h0.8M133.5 120.8h0.8M145.5 115.9h0.8M159.5 124.3h0.8M127.1 114.1h0.8M173.7 122.8h0.8M161.7 117.5h0.8M145.6 123.7h0.8M143.5 113.6h0.8M152.4 126.6h0.8M134 127.6h0.8M164.9 115.2h0.8M152.5 120.5h0.8M163.7 125.1h0.8M129.2 112.1h0.8M170.7 121.5h0.8M159.8 122.9h0.8M179.7 113h0.8M171.8 115.5h0.8M165.4 129.4h0.8M127.7 123.4h0.8M147.4 118.9h0.8M153.1 114h0.8M135.2 125h0.8M167.4 117.1h0.8M172 123.1h0.8M134.1 117h0.8M156.7 114.6h0.8M180.9 121.7h0.8M159.4 114.2h0.8M136.3 115.7h0.8M157.3 119.1h0.8M147.3 122.8h0.8M156.4 130.3h0.8M148.9 114.3h0.8M152.2 130.2h0.8M142.6 121.1h0.8M146 123.4h0.8M156.9 115.6h0.8M148.3 126.8h0.8M171.8 126.7h0.8M167.7 118.7h0.8M146 126.7h0.8M131.6 120.4h0.8M119.5 118.4h0.8M139.9 113.1h0.8M162.7 116.1h0.8M145.9 119.1h0.8M139.4 129.9h0.8M143.7 122h0.8M129.3 117.8h0.8M146.7 118.8h0.8M142.1 121.7h0.8M180 119.9h0.8M150 118.3h0.8M162.3 125.3h0.8M139.9 119.8h0.8M156.1 121.6h0.8M137.3 115.8h0.8M161.5 122.8h0.8M174.9 116.7h0.8M156.7 111.5h0.8M167.1 113.7h0.8M130.3 118.8h0.8M194.3 116.9h0.8M130.2 123.7h0.8M156.5 131.4h0.8M130.1 110.6h0.8M146.9 123.2h0.8M158.8 127.7h0.8M126.1 115.5h0.8M150.1 126.2h0.8M160.9 118.1h0.8M134.4 126.4h0.8M149.3 131.2h0.8M131.1 117.3h0.8M140.5 117.9h0.8M137 117.3h0.8M151.5 117.9h0.8M164.1 120.3h0.8M152.4 130.2h0.8M158 121.8h0.8M152.1 121.2h0.8M162.6 115.7h0.8M172.7 130.8h0.8M172.8 117.7h0.8M124.4 118h0.8M155.2 126.1h0.8M149.3 118.9h0.8M179.3 116.5h0.8M171.3 126.6h0.8M129 122.6h0.8M142.6 114.8h0.8M119.8 110.8h0.8M159.8 118.3h0.8M157.3 114h0.8M146.8 119.1h0.8M125.2 110.2h0.8M160.2 121.7h0.8M136 120.2h0.8M136.8 124.7h0.8M189.8 121.2h0.8M178.4 104.3h0.8M178 120.7h0.8M119.4 125.8h0.8M171 128.5h0.8M173.6 120.6h0.8M139.3 117.9h0.8M151.9 123.4h0.8M144 121.1h0.8M167.9 122.9h0.8M132.2 117.2h0.8M129.4 113.4h0.8M162.1 114.5h0.8M134 119.1h0.8M166.6 118.5h0.8M146.2 126.7h0.8M160.8 123.7h0.8M169.2 114.4h0.8M156.3 116.8h0.8M170.6 126h0.8M134 129.4h0.8M131.8 128.3h0.8M156.1 115.2h0.8M132.7 118.9h0.8M152 116.3h0.8M162.4 111.9h0.8M152.3 120.8h0.8M119.3 122.8h0.8M130.1 104.8h0.8M141.6 119.3h0.8M168.5 117.7h0.8M178.6 130h0.8M171.8 129.3h0.8M158.7 117.2h0.8M164 127h0.8M156.7 119.2h0.8M124.7 125.1h0.8M158.7 112.5h0.8M154.2 125.4h0.8M150.5 125.8h0.8M165.8 111.3h0.8M147.1 123.9h0.8M168.7 129.8h0.8M118.4 120.4h0.8M165.2 128.7h0.8M182.4 114.8h0.8M145.8 114h0.8M167 112.3h0.8M173.5 126.8h0.8M161.1 106.9h0.8M140.4 125.6h0.8M127.3 119.3h0.8M150.6 126.5h0.8M157.5 122.6h0.8M144.6 120.8h0.8M150.1 125.5h0.8M149.3 127.4h0.8M122.2 128.5h0.8M149.4 128h0.8M153.9 126.3h0.8M179 117.2h0.8M153.9 119.7h0.8M156.1 110.4h0.8M149.4 119.2h0.8M138.4 119.5h0.8M125 129.8h0.8M136.9 113.3h0.8M157.4 110.1h0.8M156.4 116.3h0.8M146.5 122.4h0.8M163.6 112.5h0.8M169.8 112.2h0.8M153.9 112.8h0.8M137.6 129.2h0.8M142.5 116.6h0.8M142.4 118.8h0.8M178 113.2h0.8M130.4 124.5h0.8M124 118.4h0.8M172.4 120.8h0.8M143.8 116.2h0.8M136 116.9h0.8M154.7 128.7h0.8M169.4 117.1h0.8M139.2 125.2h0.8M119.9 117.9h0.8M146.4 113.6h0.8M134.5 122.9h0.8M122.7 114.8h0.8M140.6 121.2h0.8M127.7 127.6h0.8M146.6 119h0.8M145.6 116.3h0.8M134.5 128h0.8M155.6 119.9h0.8M169.6 116h0.8M163.1 120.7h0.8M136.1 125.5h0.8M125.3 124.7h0.8M136.1 123.2h0.8M176.3 124.2h0.8M141.1 120.4h0.8M145.2 113h0.8M132.1 120.8h0.8M161.2 109.2h0.8M150.4 123.7h0.8M153.5 114.1h0.8M169.9 112.7h0.8M163 130.7h0.8M157 121.9h0.8M137.9 118.4h0.8M126.7 121.3h0.8M160.9 116.2h0.8M135 117.4h0.8M151.2 120.8h0.8M149.5 120.8h0.8M128.2 103h0.8M162.2 129.5h0.8M126.3 116.1h0.8M156.6 126.5h0.8M162.7 128.5h0.8M150.3 123h0.8M158.5 117.6h0.8M172.5 124.3h0.8M168.5 117.9h0.8M169.4 113.7h0.8M158.2 103.7h0.8M133.4 125.1h0.8M143.3 121.5h0.8M122.6 130.2h0.8M161.7 120.2h0.8M158.5 122.4h0.8M176.2 121.7h0.8M125.3 118.7h0.8M173.8 124h0.8M143.8 124.2h0.8M153.3 124.2h0.8M123.3 114.6h0.8M162.9 118.9h0.8M145.7 121.9h0.8M141.4 116.4h0.8M149.9 111.1h0.8M149.4 127.5h0.8M153.4 121.3h0.8M163 124.9h0.8M130 128h0.8M134.1 121.6h0.8M180.5 118.1h0.8M162 120.7h0.8M158.6 114.9h0.8M135.1 122.5h0.8M123.7 115h0.8M162.5 116.5h0.8M135.6 113.3h0.8M153.8 118h0.8M153.9 119.2h0.8M183.8 117.6h0.8M116.8 121.1h0.8M151.3 121.4h0.8M123 127.5h0.8M150.7 120.1h0.8M123.4 123.4h0.8M150.1 128.9h0.8M143.9 112.5h0.8M153.5 114.6h0.8M158.5 113.5h0.8M149 118.9h0.8M150.6 117.1h0.8M137 120h0.8M141.1 121.3h0.8M146.5 106.2h0.8M150.2 129.1h0.8M156.5 124.1h0.8M159.2 117.4h0.8M127.9 125.5h0.8M169.7 123.9h0.8M158.6 122.9h0.8M150.8 122.1h0.8M151.5 122.4h0.8M134.8 116.4h0.8M161.1 118.2h0.8M163.8 124.6h0.8M139.7 113.3h0.8M147.6 120.5h0.8M137.9 121.4h0.8M163.2 124.1h0.8M133.3 106.9h0.8M151.4 116.3h0.8M159.1 130.7h0.8M179.7 122.2h0.8M170.5 130.7h0.8M152.2 122.1h0.8M166.1 120.2h0.8M142.8 115.8h0.8M151.5 116.6h0.8M165.2 118.4h0.8M176.7 128h0.8M130.2 127.2h0.8M144.6 129h0.8M160.4 120.2h0.8M163.1 117h0.8M157.2 122.9h0.8M149.1 122.9h0.8M134.5 124h0.8M130.9 124.4h0.8M159.8 124.9h0.8M147.9 121.5h0.8M138.9 129.4h0.8M143.8 126.7h0.8M135.7 122.5h0.8M145.5 126.4h0.8M146.9 115.3h0.8M159.7 113.3h0.8M135.6 125.4h0.8M120 125.3h0.8M145.2 115h0.8M156.2 124.6h0.8M142.1 119.6h0.8M165.8 125.3h0.8M151.3 116h0.8M136 117h0.8M163.8 124.3h0.8M157.4 129.3h0.8M147.2 118.4h0.8M117.3 122.5h0.8M159.9 121.2h0.8M192.1 128h0.8M165.5 115.3h0.8M160.9 118.5h0.8M153.2 122h0.8M144.3 124.7h0.8M180.2 127.2h0.8M156.2 109h0.8M171 127.5h0.8M149.3 117.9h0.8M163.8 115.9h0.8M166.2 114.3h0.8M137.1 121h0.8M128.1 120.9h0.8M161.8 112.9h0.8M168.4 117.5h0.8M162.1 122.2h0.8M145.1 117.7h0.8M123.9 116.7h0.8M139.8 131h0.8M170 112.6h0.8M166.4 122.3h0.8M146.4 123.8h0.8M166.2 117.5h0.8M148.2 122h0.8M136.3 122.1h0.8M151.5 116.8h0.8M138.7 122.8h0.8M167.7 123h0.8M138.5 125.5h0.8M155.8 124.6h0.8M172.5 115.5h0.8M150.6 117.3h0.8M168.8 110.2h0.8M160.1 117.6h0.8M172.3 121.5h0.8M150 121.9h0.8M159.4 121.2h0.8M149.3 120.1h0.8M161.6 114.1h0.8M152.9 120.3h0.8M144.8 125.5h0.8M131.3 118.8h0.8M138.6 124.3h0.8M145.1 121.3h0.8M159.5 111.3h0.8M160.6 116.5h0.8M148.7 120.3h0.8M166.6 125.5h0.8M182.7 122.1h0.8M145 117.9h0.8M164 130.7h0.8M158.7 117.5h0.8M157.6 122.6h0.8M153.5 116.5h0.8M170.7 122.3h0.8M115.9 121h0.8M156.2 113.7h0.8M166.4 116.3h0.8M162.4 121.1h0.8M133.2 125h0.8M130.5 129.1h0.8M154 114.8h0.8M122.5 130.8h0.8M177.4 113.4h0.8M180.7 122h0.8M149.3 120.5h0.8M148.5 129.7h0.8M155.5 109.8h0.8M188.2 126.4h0.8M134.7 118.8h0.8M137.8 121.3h0.8M159.6 122.4h0.8M142.9 116.1h0.8M167.2 120.4h0.8M190.8 116.1h0.8M166.3 121.3h0.8M140.2 129.3h0.8M155.1 115.6h0.8M147.6 127.2h0.8M132.4 129.4h0.8M164.5 119.3h0.8M175.8 131.6h0.8M163.1 122h0.8M184.1 130.1h0.8M137.4 119.7h0.8M149.4 118.5h0.8M127.8 126.5h0.8M154.4 121.6h0.8M176.7 117.6h0.8M152 122.7h0.8M145.7 120.3h0.8M165.9 120.9h0.8M175.5 116.4h0.8M156.4 112.3h0.8M151 116.7h0.8M176 125.5h0.8M177.4 125.4h0.8M141.3 112.2h0.8M152.5 118.8h0.8M142 119.2h0.8M125 130.1h0.8M133.7 116.9h0.8M162.7 111h0.8M168.6 126.7h0.8M147.7 114.4h0.8M145 109.7h0.8M176.6 121.3h0.8M140.5 115.4h0.8M162.7 130.2h0.8M131.3 117.5h0.8M123.1 125.2h0.8M150.9 118.3h0.8M140.9 126.2h0.8M125.3 125.6h0.8M157.2 117.9h0.8M137.6 127.5h0.8M184.7 118.3h0.8M142.4 119.4h0.8M132.2 120.1h0.8M151.6 118.4h0.8M140.4 111.2h0.8M130 115h0.8M164 117.9h0.8M138.4 125.1h0.8M162.6 116.3h0.8M142.3 125.1h0.8M159.2 115.8h0.8M157.1 120.8h0.8M172.1 115.6h0.8M168.1 123.7h0.8M135.7 127.5h0.8M168.6 112.8h0.8M187 113.9h0.8M137.2 119h0.8M166.2 124.6h0.8M151.4 129.5h0.8M160 129.7h0.8M134.5 121.6h0.8M154.7 113.4h0.8M133.1 119.4h0.8M149.6 104.7h0.8M169.8 121.2h0.8M152.8 122.9h0.8M135.3 120.7h0.8M171 127.8h0.8M161 119.2h0.8M138.7 129.3h0.8M162.1 118.3h0.8M119.3 128.9h0.8M156.3 116.3h0.8M174.3 112.5h0.8M150.7 113.2h0.8M122.7 122.1h0.8M153.8 118.6h0.8M156.5 127.6h0.8M127.2 109.1h0.8M186.2 122.8h0.8M181.4 122.5h0.8M179.1 117.1h0.8M161.8 130.9h0.8M171.1 118.1h0.8M168.9 116.7h0.8M127.7 124.4h0.8M177.9 126.5h0.8M130.6 126.6h0.8M165.1 118h0.8M168.8 124.2h0.8M122.1 111.4h0.8M171.1 126.2h0.8M161.8 119.4h0.8M160 117.5h0.8M147.4 115.4h0.8M157.6 118.3h0.8M170 125.7h0.8M132.9 123.9h0.8M172.4 129.3h0.8M174.9 130.3h0.8M151.2 118.1h0.8M177.1 116.6h0.8M175.1 124.6h0.8M126.9 114.6h0.8M144.6 121.6h0.8M170.9 119.8h0.8M169.3 110.8h0.8M161.3 118.7h0.8M134.8 123.7h0.8M187.8 120.3h0.8M139.9 115.5h0.8M188.4 120.7h0.8M164 128.9h0.8M172.4 115h0.8M170.2 126.5h0.8M161.8 127.6h0.8M142.9 120.5h0.8M143.6 125.9h0.8M141.2 123.6h0.8M133.3 120.2h0.8M146.5 120.3h0.8M155.4 119.8h0.8M149 107.5h0.8M172.9 116.9h0.8M148.6 115.6h0.8M171 115.1h0.8M162.1 128.7h0.8M182.6 128.7h0.8M164.2 113.2h0.8M176.2 128.7h0.8M168.1 126.2h0.8M154.4 117.7h0.8M172.5 129.3h0.8M134.4 127h0.8M157.5 126.8h0.8M158.1 128.3h0.8M171.6 126.8h0.8M128.5 126.4h0.8M154.1 113.8h0.8M165.9 112.2h0.8M144.3 127.1h0.8M161.4 125.3h0.8M129.1 125.1h0.8M155.7 125.9h0.8M153.5 128.2h0.8M158.3 125.5h0.8M177.9 122.3h0.8M171.2 122.6h0.8M162.8 117.8h0.8M167.3 129.1h0.8M152 126.3h0.8M161.1 114.1h0.8M159.8 129.7h0.8M144.9 109.8h0.8M157.2 117.1h0.8M187.3 120.9h0.8M153.5 117.2h0.8M158 117.6h0.8M137.6 120.8h0.8M139.3 129.7h0.8M133 120.8h0.8M141.4 112.4h0.8M183 107.8h0.8M179.3 112.2h0.8M116 112.5h0.8M176.8 122.3h0.8M144 121h0.8M136.6 122h0.8M180 118.8h0.8M156.1 128.9h0.8M188.7 117.5h0.8M158.9 117.6h0.8M142.3 118.7h0.8M142.5 110.2h0.8M118.5 116.6h0.8M156 129h0.8M144.3 120.2h0.8M165.3 125.9h0.8M151.6 120.9h0.8M186.7 119.1h0.8M145 110.9h0.8M161.3 119.6h0.8M187.3 119.1h0.8M167.9 127.2h0.8M182.7 112.9h0.8M181.2 121.3h0.8M151.8 119.3h0.8M146.7 119h0.8M154.7 115.2h0.8M160.3 118.8h0.8M183.7 116.2h0.8M150.9 117.7h0.8M149.5 125.9h0.8M163.8 116.6h0.8M151.3 121.8h0.8M146.4 121h0.8M140.9 116.6h0.8M154.4 114.7h0.8M165.3 108.1h0.8M149.6 105.9h0.8M154.8 108.3h0.8M161.7 108.1h0.8M150.2 116.8h0.8M170.9 109.8h0.8M171.5 110.9h0.8M157.4 109.6h0.8M191.5 114.5h0.8M172.5 107.1h0.8M167.4 121.2h0.8M165.3 114.9h0.8M175 112.6h0.8M178.7 110.4h0.8M166.1 105.8h0.8M191.1 110.8h0.8M161.6 116.6h0.8M154.7 109.1h0.8M151.2 109.3h0.8M155.8 112h0.8M158.9 106h0.8M156.9 108.5h0.8M154.4 114.1h0.8M168.1 109.9h0.8M146.5 111.9h0.8M145.5 110.1h0.8M160.9 106h0.8M150.7 105.5h0.8M184.2 107.7h0.8M157.9 114.2h0.8M165.2 114.8h0.8M146.1 103.4h0.8M157 110h0.8M171.8 102.8h0.8M163.6 109h0.8M168.1 110.1h0.8M154.2 104.5h0.8M132.1 114.3h0.8M143.3 107h0.8M179.5 106.9h0.8M167.4 108h0.8M168.4 109.3h0.8M154.4 116.3h0.8M157.2 102.1h0.8M156.5 112h0.8M147.5 113.3h0.8M169.2 120.4h0.8M152.9 112.6h0.8M141 106.9h0.8M161.5 111.3h0.8M159.7 108.7h0.8M153.2 106.8h0.8M163.8 112.1h0.8M167.7 114.4h0.8M174 99.6h0.8M154.3 108.3h0.8M152.9 114.7h0.8M168.9 108.6h0.8M161.7 115.8h0.8M156.3 107.5h0.8M170.7 111.6h0.8M176.6 111.1h0.8M168.9 106.3h0.8M149.5 109.1h0.8M129.8 111.3h0.8M171.5 109.5h0.8M157.8 114.9h0.8M159.8 114.3h0.8M185.5 113h0.8M171.1 111.7h0.8M163.2 110.6h0.8M161.1 114.9h0.8M141.8 107.7h0.8M167.9 104.7h0.8M159.1 105.5h0.8M165.4 113.7h0.8M177 111.8h0.8M152.1 110.5h0.8M166.9 116.6h0.8M135.7 111.1h0.8M139.4 112.9h0.8M165.4 111.8h0.8M170.5 111.2h0.8M152.9 111h0.8M174.1 108.5h0.8M160.6 102.8h0.8M173.6 106.5h0.8M151.8 106.8h0.8M150.4 107.8h0.8M174.9 113.3h0.8M176.6 117h0.8M150.1 111.7h0.8M177.5 121.2h0.8M144.1 101.7h0.8M165.7 107.4h0.8M148.9 111.1h0.8M151.3 97.2h0.8M160 109.8h0.8M167.6 114.1h0.8M162.4 107.9h0.8M152.7 100.5h0.8M155.3 114.4h0.8M167.7 119.9h0.8M158.5 99.8h0.8M169.7 114.6h0.8M146.9 100.6h0.8M162 112.9h0.8M147.4 107.3h0.8M151.4 102.9h0.8M145.2 109.8h0.8M156 105.6h0.8M130.3 118.3h0.8M149.4 108.4h0.8M147.2 111.1h0.8M142.9 109.6h0.8M158 113.9h0.8M147.6 105.7h0.8M157.5 120.1h0.8M143.3 110.6h0.8M152.7 110.7h0.8M167.6 109.8h0.8M163.2 110.5h0.8M153.4 107.9h0.8M141.2 107.2h0.8M151.3 107.7h0.8M168.6 111.1h0.8M165.5 114.8h0.8M132.8 111.3h0.8M159.8 108.5h0.8M145.1 111.9h0.8M173.2 114.4h0.8M159.1 112.4h0.8M170.6 118.6h0.8M174.1 109.8h0.8M161.2 109.9h0.8M162.7 106.4h0.8M168.9 105.4h0.8M150.9 110.9h0.8M153.5 107.7h0.8M136.3 113.2h0.8M160 108.4h0.8M165.3 110.1h0.8M152 119.5h0.8M154.9 114.1h0.8M181 105.8h0.8M161.1 104.7h0.8M172.1 107.3h0.8M147.4 115.9h0.8M170.5 104.4h0.8M173.6 110h0.8M191.1 118h0.8M153.7 107.6h0.8M150 109.7h0.8M160.6 112.9h0.8M161 101.3h0.8M150.7 116.4h0.8M173.2 108.2h0.8M158.5 108.1h0.8M160.3 100.2h0.8M173 91h0.8M167.4 83.7h0.8M168.1 98.8h0.8M149.6 99.5h0.8M169.8 90.7h0.8M154.5 98.2h0.8M168.3 95.9h0.8M164.3 90.5h0.8M172.8 89.9h0.8M173 87.1h0.8M159.4 87.9h0.8M176.1 86.7h0.8M157.8 96.2h0.8M168 102.2h0.8M180.1 96h0.8M171.5 86.4h0.8M159.7 92.3h0.8M165 88.2h0.8M159.3 90.3h0.8M174.3 95.3h0.8M118.1 127.1h0.8M129.3 111h0.8M172.2 100.8h0.8M189.8 101.3h0.8M131.3 88.8h0.8M187.5 95.7h0.8M187.3 106.7h0.8M190.1 89.8h0.8M183.9 130.8h0.8M172.4 91.9h0.8M132.3 130.3h0.8" stroke="#000" stroke-width="0.8" stroke-opacity="0.38"/>
</g>
<rect x="115.5" y="50.8" width="80" height="80.9" stroke="#222" stroke-width="1.25" fill="none"/>
<ellipse cx="166.3" cy="93.6" rx="17.4" ry="8.2" stroke="#111" stroke-width="1.2" fill="none"/>
<text x="167.4" y="82.1" font-size="10" text-anchor="middle" stroke="#000" stroke-width="0.2">0.26</text>
<g clip-path="url(#c3)">
<ellipse cx="242" cy="119" rx="36" ry="13" fill="#000" fill-opacity="0.18" filter="url(#b4)"/>
<ellipse cx="250" cy="107" rx="24" ry="11" fill="#000" fill-opacity="0.06" filter="url(#b4)"/>
<ellipse cx="242.5" cy="133.7" rx="33.6" ry="9" fill="#000" fill-opacity="0.55" filter="url(#b3_5)"/>
<ellipse cx="253.7" cy="93.6" rx="13.2" ry="5.9" fill="#000" fill-opacity="0.14" filter="url(#b2)"/>
<ellipse cx="221" cy="125" rx="13" ry="8.9" fill="#000" fill-opacity="0.9500000000000001" filter="url(#b3_2)"/>
<ellipse cx="254" cy="121.5" rx="14.6" ry="11.6" fill="#000" fill-opacity="1" filter="url(#b3_2)"/>
<path d="M208.5 125.6h0.8M219.4 112.3h0.8M227.7 129.9h0.8M208.2 125.9h0.8M227.6 123.1h0.8M228.8 126.2h0.8M230.8 126.2h0.8M219.4 128.3h0.8M228.2 126.6h0.8M216.8 119.8h0.8M217.5 121.2h0.8M222.8 126h0.8M220.1 124.9h0.8M232 121.1h0.8M224.8 122.8h0.8M220 123.3h0.8M215.1 116h0.8M231.8 119h0.8M225.5 122.4h0.8M223.4 119.6h0.8M218.7 124.2h0.8M219.6 108.6h0.8M226.8 124.6h0.8M222.7 127.2h0.8M216.9 117.8h0.8M216.7 122.1h0.8M216.3 122.1h0.8M223.8 128.6h0.8M214.3 118.3h0.8M206.3 113.2h0.8M213.1 126.3h0.8M225.8 122.6h0.8M205.7 126.3h0.8M226.3 124.8h0.8M216.1 128.6h0.8M220.2 117.4h0.8M221.6 116.3h0.8M229.7 127.9h0.8M211.4 126.2h0.8M232.4 110.6h0.8M206.2 123.7h0.8M207.4 124.3h0.8M215.7 125.7h0.8M224.3 127.6h0.8M231.5 129.4h0.8M227.6 118.3h0.8M242 130.3h0.8M227.7 131.4h0.8M217.2 124.3h0.8M241.2 110.9h0.8M224.1 113.3h0.8M214.6 124.2h0.8M217.4 126h0.8M213.5 124.1h0.8M209.5 122.2h0.8M207.6 129.2h0.8M208.5 129.4h0.8M216.8 122.8h0.8M231.9 125.5h0.8M202.8 128.1h0.8M216.9 115.4h0.8M221.5 122.7h0.8M239.7 121.9h0.8M214.9 119.3h0.8M233.3 123.9h0.8M222.2 123.1h0.8M209.2 122.3h0.8M211.6 114.5h0.8M236.1 124.4h0.8M222 128.3h0.8M233.7 126.9h0.8M216.2 122.2h0.8M214.7 110.9h0.8M228.4 124.3h0.8M221.4 115.8h0.8M209.7 126.8h0.8M208.5 122.4h0.8M206.7 122.3h0.8M216.5 128.8h0.8M233.6 123.6h0.8M224.2 129h0.8M230.4 129.4h0.8M228.1 119h0.8M214.9 124.1h0.8M221.6 124.9h0.8M223.7 125h0.8M216.7 113.8h0.8M228.8 128.8h0.8M212.3 128.2h0.8M224.5 125.3h0.8M203.1 116.6h0.8M212.5 122.5h0.8M210.1 121.5h0.8M224 110.8h0.8M221.1 120.7h0.8M230 131.4h0.8M231.4 120.3h0.8M217.7 131.3h0.8M218.2 116.7h0.8M214.2 115.8h0.8M226.1 113.1h0.8M230.4 113.6h0.8M221.2 114.9h0.8M219.9 125.6h0.8M223 129h0.8M225.3 129.4h0.8M213.7 122h0.8M208.4 122.8h0.8M219.1 130.5h0.8M230.7 107.7h0.8M212 121.6h0.8M222.9 112.1h0.8M222.6 120.4h0.8M213.5 129.6h0.8M254.4 127.1h0.8M226 124.5h0.8M213.8 126.6h0.8M235.3 126.1h0.8M229.3 123.3h0.8M244.9 113.6h0.8M226.3 128.5h0.8M223.3 117.2h0.8M209.8 123.2h0.8M221.7 116.5h0.8M210.5 128.6h0.8M230.6 121h0.8M214 119.8h0.8M244.5 128.1h0.8M220 131.6h0.8M207 124.2h0.8M216.8 122.4h0.8M209 122.1h0.8M210.2 127.1h0.8M221.1 115.1h0.8M204.2 121.5h0.8M226.9 128.1h0.8M220 102.2h0.8M215.9 119.7h0.8M217.4 116.4h0.8M216.5 120.2h0.8M246.7 129.5h0.8M218.8 124.4h0.8M219.5 126h0.8M216.7 124.6h0.8M230.5 130.4h0.8M222.8 118h0.8M203.8 120h0.8M220 127.4h0.8M231 120.8h0.8M212.9 130h0.8M232 121.5h0.8M223.7 124.4h0.8M226.8 125.6h0.8M216.1 116.2h0.8M219.7 124h0.8M231.2 116.5h0.8M234.5 125h0.8M232 118.1h0.8M221.7 114.7h0.8M217.4 128.4h0.8M207.1 114.9h0.8M222.9 118.2h0.8M227.2 116.7h0.8M202.9 119.4h0.8M235 118.8h0.8M220.6 126.4h0.8M222.3 127.8h0.8M204.4 112.8h0.8M218.4 129.7h0.8M234.9 123h0.8M218 127.8h0.8M235.3 119.1h0.8M226.7 123.1h0.8M217.4 130.3h0.8M213 117.5h0.8M227 124.6h0.8M218.1 123.8h0.8M225.4 122.2h0.8M228 127.6h0.8M228.9 123.4h0.8M221.8 120.7h0.8M248.1 123.3h0.8M207.6 119.1h0.8M216.9 118h0.8M208.5 121.3h0.8M233.1 129.7h0.8M221 125h0.8M204.7 129.5h0.8M224.8 117.4h0.8M222.7 123.5h0.8M215.7 118.1h0.8M214.2 118.4h0.8M225.1 127.3h0.8M223.8 123.5h0.8M224.1 125.3h0.8M215.8 123.3h0.8M209.3 115.4h0.8M219.6 113.5h0.8M223.3 126.2h0.8M221.8 127.7h0.8M227.9 130.7h0.8M237.9 125h0.8M229 113.8h0.8M219.5 116.5h0.8M225.9 116h0.8M219.7 125h0.8M229.9 106.8h0.8M233.9 121.5h0.8M218.2 115.5h0.8M208 125.2h0.8M219.1 121.7h0.8M236.4 121.7h0.8M234.8 126.4h0.8M223.1 123.2h0.8M223.6 121.7h0.8M214.3 123.9h0.8M214.5 126.9h0.8M221.6 123.1h0.8M218.9 123.3h0.8M237.5 124.8h0.8M215.1 122.8h0.8M227.1 123.5h0.8M219.3 123.1h0.8M222.4 127.5h0.8M225 113.7h0.8M210.5 107h0.8M233.2 125.8h0.8M231.8 124.6h0.8M219.6 114.4h0.8M213.3 120.8h0.8M216.3 127.4h0.8M223.4 119.6h0.8M204.3 119.7h0.8M207 122.7h0.8M219.4 123.6h0.8M219.1 128.1h0.8M211.8 130.9h0.8M204.7 125.2h0.8M224.5 119.4h0.8M205.5 129.2h0.8M214.3 130.1h0.8M228.1 124.8h0.8M220.7 131.5h0.8M224.3 118.5h0.8M222.3 128.6h0.8M222.7 126.1h0.8M219.3 124h0.8M211.8 115.1h0.8M231.5 120.5h0.8M222.9 114.6h0.8M222.3 119.2h0.8M249.1 117.9h0.8M211.5 131.2h0.8M231.6 110.6h0.8M223.2 130.8h0.8M209 129.4h0.8M215.7 118.1h0.8M217.4 121.7h0.8M216.4 119.8h0.8M228.9 124.3h0.8M233.5 123h0.8M224.1 125.4h0.8M222.3 123.4h0.8M214.2 121.1h0.8M217.4 128.7h0.8M224.5 131.1h0.8M208 126.6h0.8M219 122.9h0.8M222.3 111.5h0.8M223.3 125.8h0.8M207.1 124.2h0.8M235.5 122.2h0.8M226.4 123.3h0.8M213 118.6h0.8M228.5 120h0.8M230.2 123.9h0.8M214.2 127.7h0.8M212.1 114.2h0.8M233 112.5h0.8M225.9 114.5h0.8M220.5 123.5h0.8M216.6 110.1h0.8M219.7 124.6h0.8M212.2 124.4h0.8M230.2 120h0.8M223.2 117.1h0.8M224.4 129.1h0.8M244.3 130.9h0.8M215.6 120.7h0.8M231.1 126.4h0.8M233.3 115.1h0.8M223.4 121.3h0.8M218.2 112.1h0.8M229.7 126.3h0.8M211.5 115.8h0.8M219.9 122.6h0.8M225.5 124.9h0.8M223 129.9h0.8M224 130.8h0.8M209.6 125.3h0.8M217.5 125.6h0.8M220.5 120.7h0.8M217.6 131.2h0.8M215.7 116.6h0.8M226.5 131.4h0.8M218.4 125.8h0.8M213 123.6h0.8M231.4 130.3h0.8M222.3 123.1h0.8M205.6 127.1h0.8M239.9 127.5h0.8M230 117.5h0.8M232.3 130.8h0.8M233.8 129.5h0.8M214.8 129.3h0.8M231.2 119.8h0.8M210.2 127.9h0.8M222.2 129.1h0.8M227.1 119.9h0.8M217.7 123.2h0.8M210.5 130.5h0.8M239.4 116h0.8M228.2 131.1h0.8M215.9 122.6h0.8M211.3 119.9h0.8M222.7 129.4h0.8M222.2 130.8h0.8M223.1 117.4h0.8M225.6 126h0.8M239.1 108.6h0.8M206.2 129.8h0.8M218.9 118.9h0.8M235.3 128.4h0.8M209.3 120.8h0.8M217.7 113.6h0.8M219.7 114.6h0.8M226.1 130.4h0.8M226.9 127.5h0.8M230.4 117.5h0.8M217.9 130.9h0.8M214.5 122.3h0.8M215.6 119.8h0.8M226.8 127h0.8M215 129.2h0.8M226.5 125.8h0.8M214.6 127.4h0.8M222.1 121.5h0.8M223.8 126.9h0.8M220.9 122h0.8M229.2 114.7h0.8M229.1 125.3h0.8M224 109.5h0.8M237.2 113.8h0.8M213.3 129.6h0.8M215.7 122.6h0.8M223.4 129.8h0.8M218.7 126.7h0.8M225.5 120.8h0.8M215.4 128.7h0.8M224.5 123.8h0.8M224.3 120.2h0.8M220.7 122.6h0.8M228.6 124.7h0.8M208.3 122.8h0.8M220.5 119.3h0.8M234 128h0.8M229.4 120.2h0.8M208 127.8h0.8M222.3 122h0.8M222.3 118.1h0.8M223.5 117.2h0.8M214.8 111.2h0.8M230.6 120.2h0.8M230.2 127.7h0.8M237.6 124.5h0.8M227.1 118.6h0.8M226.2 126.4h0.8M202.8 122.8h0.8M209.3 130.5h0.8M214.5 127.7h0.8M210.4 126.2h0.8M246.3 126.8h0.8M213.2 129.4h0.8M230.8 131.1h0.8M202.8 126.8h0.8M222.1 122.2h0.8M227.8 128.6h0.8M219.2 113.5h0.8M233.4 129h0.8M213 131.6h0.8M239.1 130.8h0.8M236.7 120.1h0.8M231.1 131.6h0.8M207.3 114.4h0.8M214.6 125.9h0.8M225.8 123.8h0.8M220.9 124.6h0.8M222.3 129.3h0.8M226.2 125h0.8M224 122.3h0.8M229.1 122h0.8M237.1 125.2h0.8M224.1 120.2h0.8M218.2 126.5h0.8M221.7 121.2h0.8M210.5 125.6h0.8M223 129.1h0.8M233.4 123.3h0.8M202.5 124.4h0.8M203.9 116.7h0.8M231.3 129.2h0.8M215.4 121.1h0.8M220.7 113.5h0.8M226.1 123h0.8M239.1 118.2h0.8M231.1 120.8h0.8M231.3 118.8h0.8M228.5 122.4h0.8M213.7 124.4h0.8M226.1 128.1h0.8M236.6 130.9h0.8M227.5 116.3h0.8M210.3 126.4h0.8M224.6 129h0.8M238.3 122h0.8M221.5 118.7h0.8M234.6 125.1h0.8M214.8 120.2h0.8M208.2 126.2h0.8M234.6 109.3h0.8M206.2 127.6h0.8M209.5 130.7h0.8M229.1 126.6h0.8M229.5 125.8h0.8M232.1 121h0.8M213.9 123.8h0.8M219.4 125.9h0.8M215.8 129.9h0.8M222 127.9h0.8M221.7 129.6h0.8M225 128.5h0.8M228.7 127.1h0.8M219.9 114.3h0.8M223.7 123.4h0.8M203.9 125.9h0.8M233.6 116.9h0.8M212.5 129.7h0.8M223.9 126.9h0.8M226 123.7h0.8M222.9 121h0.8M221.4 122.3h0.8M224.2 115.9h0.8M207.5 128.7h0.8M224 119h0.8M219.6 118.4h0.8M241.4 114.9h0.8M238.3 120h0.8M225.9 123.8h0.8M229.7 123.6h0.8M235.3 126.6h0.8M219 127.6h0.8M212.6 125.7h0.8M239.2 125h0.8M219 119.3h0.8M231.8 129.1h0.8M224.1 113.5h0.8M225.2 125.2h0.8M239.9 125.5h0.8M219.9 128.6h0.8M224.2 116h0.8M223 123.4h0.8M211.2 119.1h0.8M213.8 121.2h0.8M215.3 126h0.8M232.3 116.8h0.8M207.1 113.1h0.8M207.2 114.5h0.8M231.6 127h0.8M228.4 127.9h0.8M221.9 118.1h0.8M217.4 115.2h0.8M242 128.2h0.8M210.8 119.8h0.8M218.7 116.9h0.8M209.9 123.9h0.8M220.2 129.8h0.8M232.2 119.5h0.8M231.5 124.6h0.8M223.9 127h0.8M214.5 124.3h0.8M215.6 122.7h0.8M226.4 119.1h0.8M228.9 126.4h0.8M233.9 129.9h0.8M262.7 120.8h0.8M261.2 114.4h0.8M252.4 128.9h0.8M254.5 126.3h0.8M248.8 125.8h0.8M254.8 130.6h0.8M250.9 113.5h0.8M234.5 119.6h0.8M242.1 127.1h0.8M270.6 102.7h0.8M241.1 125.1h0.8M268.4 125h0.8M258.5 126.8h0.8M261.7 111.4h0.8M249.9 124.2h0.8M246.2 120h0.8M249.3 116.1h0.8M262.5 118.9h0.8M243.2 116h0.8M260.4 103.3h0.8M259.1 114.8h0.8M240.3 112.8h0.8M274.4 108.4h0.8M262.2 107.2h0.8M253.8 117.8h0.8M252.9 129h0.8M248.7 119.5h0.8M270.9 106h0.8M251 126.5h0.8M241.4 116.7h0.8M240.7 123.7h0.8M248.2 129.3h0.8M266.1 122.7h0.8M250.9 124.6h0.8M255.6 111.5h0.8M266.6 124.3h0.8M263.6 110.2h0.8M261.7 109.4h0.8M255.4 121.8h0.8M257.3 120.2h0.8M260.4 118.2h0.8M257.5 116.2h0.8M256 131.1h0.8M249.6 128.2h0.8M245.3 119h0.8M239 120.9h0.8M264.9 128.4h0.8M243.9 111.4h0.8M264.5 111.1h0.8M261.3 117.6h0.8M271.8 129.7h0.8M239.9 125.1h0.8M255.5 121.4h0.8M269.5 107h0.8M258.4 123.4h0.8M241.1 122.5h0.8M255.8 102.7h0.8M239.3 113.6h0.8M263.5 130.6h0.8M261.4 124.4h0.8M230.9 124.1h0.8M262.6 129.5h0.8M243.6 122.9h0.8M241.4 130.2h0.8M241.8 120.3h0.8M245.9 118h0.8M259.8 117.2h0.8M257.2 113.2h0.8M270.1 116.4h0.8M228.2 113.3h0.8M249.5 125.6h0.8M246.8 127.2h0.8M241.5 129.6h0.8M222 105.3h0.8M274.8 123.7h0.8M250.2 127.7h0.8M260.4 107.3h0.8M261.3 120.5h0.8M247.7 116.7h0.8M256.9 128h0.8M250.2 121.1h0.8M261.5 125.9h0.8M267.6 124.3h0.8M245 106.3h0.8M263.7 119.1h0.8M250.9 119.5h0.8M237.4 118.6h0.8M226 118.5h0.8M259.7 120.2h0.8M256.5 128.7h0.8M246.4 120h0.8M255.5 104.4h0.8M254 131.1h0.8M248.5 119.6h0.8M241.1 112.5h0.8M242 125.4h0.8M258.4 116.2h0.8M255.2 121.2h0.8M249.2 122.5h0.8M255.2 112.8h0.8M240.3 114.4h0.8M271 124.9h0.8M265.2 123.2h0.8M267 123.2h0.8M259 119.4h0.8M241.3 122h0.8M248 130.7h0.8M274.9 119.2h0.8M223.7 127.6h0.8M261.5 106.7h0.8M251.9 121.4h0.8M228.8 128.1h0.8M259.5 124.2h0.8M242.8 115.5h0.8M247.5 126.3h0.8M258.8 102.1h0.8M273.4 123.4h0.8M248.4 122.9h0.8M234.1 123.7h0.8M227 112.6h0.8M250.7 113.1h0.8M265 121.5h0.8M256.9 127.7h0.8M242.4 129.2h0.8M236.9 116.2h0.8M247 128.6h0.8M262.9 125.2h0.8M260.6 126.2h0.8M253.7 104.4h0.8M228.5 100.8h0.8M253.9 119.8h0.8M252.9 123.9h0.8M251.8 112.7h0.8M237.5 104.4h0.8M268.1 130.2h0.8M239.2 119.3h0.8M247.6 123.4h0.8M267.4 105.9h0.8M246.1 121.4h0.8M264.2 123.6h0.8M243.5 129.8h0.8M261.5 117.1h0.8M249.4 108.3h0.8M253.5 129.7h0.8M265.6 127.1h0.8M263.6 116.4h0.8M259.4 114.5h0.8M260 129.4h0.8M262.3 122.7h0.8M248.5 125.4h0.8M273.4 123.1h0.8M246.8 124.9h0.8M240.4 123.8h0.8M250.9 130.5h0.8M255.4 131.4h0.8M280.2 119.7h0.8M244.9 125.9h0.8M253.3 123h0.8M247.5 126.8h0.8M255 101.9h0.8M251.6 124.8h0.8M267.5 116.4h0.8M247.4 122.7h0.8M259.6 128.5h0.8M254.3 111.5h0.8M265.6 117.7h0.8M264.1 112h0.8M248.8 119.4h0.8M245.8 104.2h0.8M263.2 128.8h0.8M257 118h0.8M256.6 127.5h0.8M242.5 118.6h0.8M247.9 128h0.8M257.1 109.8h0.8M243.3 123h0.8M253.5 117.7h0.8M241 119.4h0.8M263.5 127.8h0.8M251.4 112h0.8M255.6 116h0.8M247.7 115.9h0.8M253.1 117.1h0.8M235 126.4h0.8M260.1 127.2h0.8M250.5 112.6h0.8M258 96.8h0.8M250 123.6h0.8M261.9 122.6h0.8M249.6 131.6h0.8M246.5 117.8h0.8M262.4 127h0.8M276.8 119.6h0.8M233.1 127.6h0.8M268.1 120.1h0.8M246.7 117.2h0.8M240.1 126.5h0.8M262.1 127.1h0.8M240.3 114.6h0.8M238.1 106.9h0.8M239 107.2h0.8M252 125.4h0.8M261 121.4h0.8M246.6 121.4h0.8M260.4 118.8h0.8M254.6 118.7h0.8M248.2 121.8h0.8M241.6 131.1h0.8M236.6 125.7h0.8M263.7 114.1h0.8M249 111.3h0.8M253.4 125.2h0.8M267.8 116.2h0.8M257.1 129.5h0.8M260 125.3h0.8M251.8 121.4h0.8M237.7 117h0.8M240.1 112.8h0.8M245.1 131.4h0.8M240.8 122.2h0.8M241.4 125.5h0.8M268.1 126.8h0.8M263.7 120.2h0.8M232.1 103.6h0.8M252.9 126.7h0.8M268.1 118.3h0.8M254.8 123.8h0.8M265.8 120.9h0.8M241.8 131.3h0.8M258.6 125h0.8M239.9 121.4h0.8M234.9 103.4h0.8M251.4 117.6h0.8M247.5 128.4h0.8M239.9 122.6h0.8M250.5 119.6h0.8M260.5 104.5h0.8M255.3 114.2h0.8M255.3 125h0.8M249.9 118.1h0.8M241.2 126.5h0.8M246.5 125.5h0.8M249 126.4h0.8M252.4 127.6h0.8M261.4 127.6h0.8M272.5 115.2h0.8M268.4 122.1h0.8M237.6 125.8h0.8M248.6 121.9h0.8M256.6 104.3h0.8M259.6 112.5h0.8M253.9 107.2h0.8M256 123.1h0.8M262 118.8h0.8M240.8 120.2h0.8M246.2 115.6h0.8M253.5 110.3h0.8M249.1 120.3h0.8M248.6 119.2h0.8M267.7 125.4h0.8M239.2 117.6h0.8M262.3 115.6h0.8M254.9 121.2h0.8M259.9 119.9h0.8M252.4 113.8h0.8M258 113.1h0.8M273.2 121.3h0.8M251.5 128.6h0.8M253.1 122.3h0.8M253.4 115h0.8M243.8 115.2h0.8M266.5 115.8h0.8M249.5 117.4h0.8M243.8 126.4h0.8M255.3 118.8h0.8M259.6 110h0.8M263.2 123.5h0.8M237.9 119.1h0.8M248.2 127.1h0.8M269 104.3h0.8M254.2 120.4h0.8M265 121.1h0.8M239.9 119.7h0.8M242.5 114.5h0.8M254.5 117.2h0.8M257.1 107.8h0.8M261.9 109.9h0.8M230.2 113.7h0.8M268.4 116.8h0.8M257.6 115.6h0.8M241 120.4h0.8M265 109.3h0.8M236.2 126.4h0.8M249.1 128.1h0.8M274.5 108.4h0.8M250.9 120.3h0.8M256.5 131h0.8M268.6 122.5h0.8M250.3 121.2h0.8M244.5 126.3h0.8M257.7 113.6h0.8M246.1 120.1h0.8M257.4 119.3h0.8M237.9 114.9h0.8M259.7 129h0.8M238.5 118.2h0.8M235.5 116.4h0.8M250.2 116.2h0.8M240.6 104.8h0.8M253.5 119h0.8M270.3 106.8h0.8M232.4 127.4h0.8M236.2 126.2h0.8M270.3 121.5h0.8M257.2 115.3h0.8M257.2 131.7h0.8M252 120.2h0.8M258.3 128.9h0.8M235.9 122h0.8M246.4 126h0.8M265.4 124.3h0.8M268.3 112.6h0.8M249.5 112.6h0.8M254.7 122.4h0.8M251.8 110.6h0.8M253.2 117.6h0.8M260.7 119.1h0.8M266.9 123.6h0.8M233.5 119.9h0.8M238.2 130.2h0.8M269.9 121.3h0.8M258.9 108.5h0.8M229.2 116.5h0.8M251.2 107.9h0.8M255 124.3h0.8M263 118.2h0.8M255.2 126.9h0.8M264 119.5h0.8M263.3 130h0.8M273.9 130.4h0.8M256.4 127.9h0.8M243.9 128h0.8M237 125.4h0.8M260.2 107.5h0.8M275.3 111.2h0.8M265.6 116.8h0.8M257.5 115.6h0.8M281.6 130.9h0.8M274.1 128.7h0.8M261.8 123h0.8M251.5 127.1h0.8M255.9 120.3h0.8M239 118.9h0.8M260.9 117.4h0.8M258.1 120.4h0.8M242.8 113.5h0.8M246 119.1h0.8M242.2 103.3h0.8M261.8 117.6h0.8M270.5 127h0.8M264.8 122.8h0.8M264.9 116.2h0.8M246.4 117.5h0.8M252.5 131.5h0.8M250.8 130.4h0.8M253.1 119.2h0.8M254.1 123.2h0.8M247.9 109.4h0.8M273.1 118.2h0.8M234.2 101.3h0.8M223.3 116.3h0.8M269.4 107.1h0.8M250.8 105.2h0.8M266.6 125.1h0.8M272.7 131.1h0.8M248 109.9h0.8M242.8 106h0.8M274.5 120.1h0.8M255.9 123.6h0.8M276.8 116.8h0.8M267.6 124.6h0.8M252.7 104.5h0.8M264.7 115.1h0.8M249.3 123.9h0.8M247 123.4h0.8M257.5 122.1h0.8M262 119.6h0.8M267.9 115.4h0.8M238.5 121.5h0.8M267.6 117.2h0.8M247.5 118.7h0.8M256.3 120.3h0.8M257.9 106.3h0.8M271.1 127.2h0.8M255 103.2h0.8M262.8 119.1h0.8M243.2 119.9h0.8M232.9 127.2h0.8M252.1 119.4h0.8M270.2 122.2h0.8M247.1 113.3h0.8M253.8 131.5h0.8M248 112.5h0.8M264.7 122.4h0.8M241 123.7h0.8M234.7 119.2h0.8M240.3 129.4h0.8M263.2 120.8h0.8M244.7 125.7h0.8M265.4 118.2h0.8M261.3 126.7h0.8M276 116.3h0.8M240.1 103.4h0.8M251.2 107.7h0.8M252.5 125.6h0.8M249.5 113.3h0.8M267.7 120.1h0.8M257 130.5h0.8M239.9 113.5h0.8M242.9 119.6h0.8M248.1 110.7h0.8M249.9 121.7h0.8M254.3 126.7h0.8M235.2 108.3h0.8M263.2 117.8h0.8M268 124.6h0.8M238.8 126.7h0.8M243.2 124.2h0.8M253.7 128.2h0.8M257.8 129h0.8M226.1 118.3h0.8M257.7 126.1h0.8M246.1 129.3h0.8M266.7 122.5h0.8M251.9 118.6h0.8M271.1 117.6h0.8M244.1 114.7h0.8M265.4 123.9h0.8M257.8 126.2h0.8M258.6 120.8h0.8M242.9 116.3h0.8M255.8 125.4h0.8M250.4 118.1h0.8M269.6 117.7h0.8M256.9 119h0.8M244.9 108.2h0.8M248.5 114.5h0.8M263.8 111.5h0.8M249.9 127.8h0.8M253.2 126.3h0.8M263.7 106.9h0.8M249.9 113.2h0.8M269.4 120.8h0.8M250.5 122.5h0.8M259 119.5h0.8M268.3 129.2h0.8M265.5 122.3h0.8M250.7 118.7h0.8M250.4 107.1h0.8M258.4 129.2h0.8M254.3 117.4h0.8M254.8 123.9h0.8M245 125.1h0.8M262 122.6h0.8M251.9 112.7h0.8M247.9 128.2h0.8M270.4 116h0.8M259.6 126.5h0.8M265.5 124h0.8M259.3 129.8h0.8M241.7 122.3h0.8M235.1 104.2h0.8M245.4 108.1h0.8M260 130.7h0.8M251.1 120.6h0.8M251.9 119.5h0.8M255.9 125h0.8M249.4 114.8h0.8M248.7 128.9h0.8M241.4 115.7h0.8M259.6 126.2h0.8M255.2 124.4h0.8M263.7 125.5h0.8M236.6 125h0.8M249.3 125.3h0.8M264.3 115.2h0.8M256.7 129.6h0.8M256.1 118.9h0.8M242.9 115.9h0.8M240.6 130.5h0.8M255.5 111h0.8M254.3 110.4h0.8M267.1 108.8h0.8M246.6 123.6h0.8M250.2 114.2h0.8M248.8 119.7h0.8M248.3 123.6h0.8M251.8 115.1h0.8M254.6 107.1h0.8M270 106.4h0.8M253.4 124.8h0.8M258.8 124.1h0.8M268 111.8h0.8M253.6 123h0.8M248.9 116.5h0.8M268.2 115.5h0.8M249.1 119.3h0.8M252 123.2h0.8M252.1 125h0.8M244.9 124.3h0.8M267.1 115.7h0.8M272.2 118.3h0.8M254.4 122.2h0.8M237.1 108.4h0.8M271.4 116.2h0.8M228.3 128.1h0.8M272.7 125.8h0.8M247 126.1h0.8M218.8 122.3h0.8M245.1 118.1h0.8M247 111.7h0.8M258.6 129.5h0.8M219.2 122.1h0.8M270.1 123.9h0.8M223.9 114.8h0.8M222.9 121.4h0.8M228.5 119.3h0.8M247.9 120.9h0.8M239.5 120h0.8M262.2 121.2h0.8M238.7 127.3h0.8M223.9 126h0.8M260.8 125.4h0.8M239.2 121.1h0.8M211.7 120.3h0.8M247.5 126.7h0.8M244.9 118.6h0.8M227.4 120.8h0.8M244.7 128.9h0.8M242.5 117.9h0.8M240.4 118h0.8M238.2 106.9h0.8M213.9 113.4h0.8M250.6 120.6h0.8M245 128.6h0.8M223.8 128.5h0.8M249.2 116.5h0.8M268.8 111.9h0.8M222.3 119.8h0.8M249.5 119.9h0.8M204.3 119.2h0.8M266.8 121.9h0.8M222.9 123.3h0.8M221.6 122.4h0.8M248.8 118.5h0.8M246.7 119h0.8M232.1 131h0.8M252.6 119.1h0.8M228.7 122.2h0.8M252.4 126.6h0.8M268.5 124.1h0.8M262.9 126.4h0.8M266 111.5h0.8M235.6 117.8h0.8M263.4 113.5h0.8M236.5 130.8h0.8M253.8 118.6h0.8M275.7 112.6h0.8M250.3 119.6h0.8M251.3 119.3h0.8M227.4 122.5h0.8M218.9 124.5h0.8M236.6 127h0.8M234.3 116.8h0.8M249.3 129h0.8M205.5 121.8h0.8M253.3 112h0.8M226.6 125.2h0.8M227.5 117h0.8M272.7 115h0.8M226.9 106.2h0.8M222.8 113.2h0.8M272.6 128.9h0.8M255.9 119.9h0.8M256.5 123.5h0.8M228.6 109.8h0.8M226 121h0.8M235.8 116.3h0.8M259.5 114.2h0.8M258 118h0.8M244.1 113.9h0.8M242 116h0.8M211.2 120.9h0.8M241.2 126.4h0.8M247.2 114.6h0.8M231.3 105.1h0.8M222.3 129.4h0.8M269 125.9h0.8M247.5 124.8h0.8M250.8 109.9h0.8M226.6 128.6h0.8M263.1 122.6h0.8M236.6 118.6h0.8M232.5 115.1h0.8M207.9 122h0.8M234.1 119.7h0.8M272.6 124.8h0.8M229.6 124.8h0.8M215.4 127.8h0.8M246.8 119.8h0.8M252.3 130.4h0.8M233.8 114.7h0.8M279.7 121.1h0.8M268.7 116.7h0.8M248.8 116.9h0.8M253.4 119.3h0.8M230.2 131h0.8M248.1 108h0.8M237.9 115.1h0.8M220.4 117.3h0.8M233.6 121.2h0.8M227.9 109h0.8M232.5 126.7h0.8M217.7 125h0.8M250.2 118.1h0.8M247.6 116.2h0.8M234.9 114.4h0.8M250.3 129.9h0.8M229.9 128.7h0.8M203.9 115.3h0.8M231.5 126h0.8M205.4 121.7h0.8M252.1 120.8h0.8M256.5 129.5h0.8M249.2 110.1h0.8M238.3 126.9h0.8M227.4 124.7h0.8M233.4 121.6h0.8M255.6 116.4h0.8M248.2 116.2h0.8M243.1 119.3h0.8M215.8 111.1h0.8M247.2 120.4h0.8M236.5 120.6h0.8M252.9 113h0.8M252.6 119h0.8M232.9 120.1h0.8M259.7 124.6h0.8M258 116.5h0.8M236.9 113.4h0.8M232 118.4h0.8M233.6 125.6h0.8M249.7 125.9h0.8M244.3 128h0.8M244 127.3h0.8M251.1 125.8h0.8M240.8 112.9h0.8M249 123.9h0.8M239 118h0.8M240.9 120.7h0.8M221.6 112.7h0.8M229.3 118.8h0.8M233.3 126.3h0.8M220.8 123.6h0.8M268.4 126.8h0.8M221.5 101.8h0.8M257.2 124.2h0.8M231.5 129.3h0.8M234.7 121.7h0.8M223.3 123.1h0.8M234.3 117.7h0.8M261.4 122.4h0.8M215.1 125.5h0.8M257.1 115.6h0.8M234.9 121.3h0.8M237.5 121.8h0.8M253.7 117.8h0.8M279.5 116.4h0.8M238.6 114h0.8M262.6 122.1h0.8M226.8 123.6h0.8M266.7 125.5h0.8M249.9 120.8h0.8M251.9 128.9h0.8M257.5 127.9h0.8M246 126h0.8M263.9 119.9h0.8M252.5 118.1h0.8M246.2 119.4h0.8M211.3 119.8h0.8M216.4 122.3h0.8M240 128.4h0.8M239.8 123.4h0.8M236.6 118.5h0.8M216.8 127.4h0.8M245.1 117.2h0.8M245.8 118.3h0.8M229 122.6h0.8M263.9 119.2h0.8M216.4 117h0.8M274.4 115.7h0.8M263.4 119.4h0.8M255.3 120.3h0.8M213.6 118.3h0.8M280 120.1h0.8M252.2 118.8h0.8M239.6 123.1h0.8M241.7 119.8h0.8M230.1 112.5h0.8M213 125.3h0.8M208.5 130.1h0.8M257.5 119.1h0.8M221.3 121.2h0.8M242.4 128.3h0.8M228.7 118.6h0.8M241.1 119.2h0.8M230.8 109.9h0.8M212.5 116.6h0.8M238 127.5h0.8M240 117.6h0.8M234.6 119.3h0.8M268.3 117.2h0.8M256.1 118.4h0.8M220.1 122.6h0.8M245.1 113.5h0.8M226.5 115.9h0.8M259.4 124h0.8M246.4 124.2h0.8M233.5 124.1h0.8M231.2 112.4h0.8M229.4 122.4h0.8M243.7 127.9h0.8M211.7 119.6h0.8M249.2 114.8h0.8M246.6 118.4h0.8M221.8 128.3h0.8M217.1 127.5h0.8M234.7 114.9h0.8M226.2 116.3h0.8M226.9 122.8h0.8M208.5 129.1h0.8M257.2 130.1h0.8M224.5 106h0.8M230.9 120h0.8M247.6 117.7h0.8M240.6 122h0.8M222 122.8h0.8M261.6 116h0.8M242.2 131.7h0.8M237.1 127.9h0.8M247.4 122.6h0.8M255.1 119.6h0.8M238.4 127.3h0.8M246.9 124.3h0.8M220.7 121.2h0.8M264 126.9h0.8M248.4 117.7h0.8M231.2 123.9h0.8M267.8 121.4h0.8M265.7 119.2h0.8M263.9 114.6h0.8M245.6 114.2h0.8M254.1 124.8h0.8M225.2 116.3h0.8M234.3 111.4h0.8M225.6 115.5h0.8M256.3 130.1h0.8M234.3 119.2h0.8M246.1 117.7h0.8M237.3 126.5h0.8M246.4 120.5h0.8M232 130.7h0.8M231.2 121.9h0.8M223.7 117.2h0.8M244 118.5h0.8M251.9 121.5h0.8M217.4 106.1h0.8M260.2 117.3h0.8M268.9 121.2h0.8M228.5 124.7h0.8M237.4 121.2h0.8M225.6 125.2h0.8M261.9 117.7h0.8M274.3 117.4h0.8M246.7 110.5h0.8M267.9 128.5h0.8M211.7 122.6h0.8M249.8 121.6h0.8M247.6 115.1h0.8M239.4 113.7h0.8M236 123.5h0.8M228.2 119.3h0.8M234.5 121.2h0.8M258.8 122.6h0.8M249.3 111.7h0.8M235.7 126.4h0.8M226.7 118.3h0.8M224.8 129.7h0.8M234.1 116.3h0.8M253.3 128.2h0.8M251.1 127.4h0.8M246 120.2h0.8M234.3 117.8h0.8M231.4 123.4h0.8M240.1 121.6h0.8M253 120.7h0.8M217.5 115.9h0.8M222 108.7h0.8M244 113.3h0.8M219.1 114.1h0.8M257.8 119h0.8M260.1 120.5h0.8M234.3 124.7h0.8M252.8 121.8h0.8M223.5 118.1h0.8M220.9 119.4h0.8M243.8 130.7h0.8M267.5 125.4h0.8M259.2 122.5h0.8M249.5 127.9h0.8M245.5 123h0.8M224.3 127.1h0.8M244.5 126.3h0.8M238.1 109.5h0.8M251.1 128.6h0.8M219 114.7h0.8M236.6 119.4h0.8M260.2 117h0.8M209.4 123.4h0.8M277.7 126.4h0.8M262.8 114.9h0.8M246.2 111.3h0.8M277.6 124.7h0.8M204.1 109h0.8M250.6 121.9h0.8M236.4 125h0.8M278.1 123.4h0.8M209.5 120h0.8M218.4 115.8h0.8M247.8 119.9h0.8M222.8 120.8h0.8M227.2 124.4h0.8M237.5 123.5h0.8M237.1 125.8h0.8M239.4 120.9h0.8M231.7 121.9h0.8M229.6 121.6h0.8M233.3 117.8h0.8M249.1 117.6h0.8M234.1 112h0.8M225.2 113.3h0.8M274.2 112.2h0.8M222.5 122.2h0.8M267.5 109.9h0.8M213.9 121.7h0.8M247.8 111.7h0.8M209.3 114.7h0.8M255.2 120.6h0.8M255.1 120.2h0.8M241.1 124.9h0.8M239.6 122.4h0.8M225.3 117h0.8M250.1 119.3h0.8M228.2 125.1h0.8M251.5 120.8h0.8M228 126.7h0.8M213.9 115.8h0.8M224.8 112.6h0.8M220.3 126.4h0.8M257.1 130.5h0.8M255 117.7h0.8M261.1 116.9h0.8M235.3 113.2h0.8M263.6 127.4h0.8M233.2 118.8h0.8M242.2 122.1h0.8M256.7 121.3h0.8M248.7 111.1h0.8M236.1 109.2h0.8M273.6 129.9h0.8M254.4 128h0.8M277.6 126.9h0.8M212.8 119.5h0.8M219.1 120.8h0.8M248.5 114.8h0.8M236.3 122.6h0.8M238.6 119.6h0.8M255.7 122.5h0.8M214.7 119h0.8M246.2 114.4h0.8M253.5 115.6h0.8M235.4 120.1h0.8M281.4 118.7h0.8M231.1 125.4h0.8M232.9 122h0.8M241 112.4h0.8M265.8 119.2h0.8M237.8 112.2h0.8M212.1 117.1h0.8M213.9 123.9h0.8M257 116.6h0.8M212.4 118.2h0.8M222.2 121.8h0.8M244.5 118h0.8M242.6 127.5h0.8M272 117.4h0.8M254.3 119.2h0.8M222.3 129.1h0.8M248.3 121.7h0.8M247.7 119.7h0.8M257.5 122.4h0.8M258.6 129.1h0.8M237.7 124.5h0.8M235.4 124.9h0.8M234.8 124.1h0.8M249.6 118.6h0.8M258.1 120.2h0.8M233.8 120.7h0.8M227.7 128.5h0.8M252.5 127.1h0.8M216.9 122.5h0.8M227.4 121.3h0.8M264.2 122.4h0.8M238.1 128h0.8M207.8 122.9h0.8M233.8 115h0.8M243.3 113.2h0.8M228.3 113.1h0.8M205.7 118.4h0.8M236.9 121.7h0.8M215.2 115.8h0.8M213 102.9h0.8M262.1 124h0.8M247.6 123h0.8M222.6 127.7h0.8M245.3 108.7h0.8M236.7 127.7h0.8M237.5 116.7h0.8M233.3 123.2h0.8M220.9 114.8h0.8M261.4 118.2h0.8M234.1 112.5h0.8M245.1 125.8h0.8M233 119.5h0.8M219.3 129.9h0.8M230.2 119.7h0.8M271.7 119.3h0.8M213.4 114.7h0.8M245.4 119.3h0.8M256.3 129.3h0.8M227.7 130.1h0.8M256.9 123.7h0.8M266.6 119h0.8M223.1 124.7h0.8M246.8 126.3h0.8M237.5 129.3h0.8M231.4 121.7h0.8M218.9 115.6h0.8M245.2 116.5h0.8M233.4 119.5h0.8M246.1 125.9h0.8M255.5 127.5h0.8M245.3 117.3h0.8M212.8 118.6h0.8M227.1 108.9h0.8M271.5 108.8h0.8M248 124.5h0.8M242 115.8h0.8M273.6 115.6h0.8M215.5 114.2h0.8M229.9 121.2h0.8M247.7 110.8h0.8M228.6 120h0.8M254.3 128.8h0.8M229.4 114.5h0.8M223.2 128.1h0.8M258 106.6h0.8M202.5 112.7h0.8M214.2 123.6h0.8M256.1 121.7h0.8M263.2 115h0.8M216.1 121.1h0.8M258.8 110.2h0.8M257.9 126.5h0.8M232.5 122h0.8M236.6 121.4h0.8M256.4 115.6h0.8M260.6 126.6h0.8M258.2 107.9h0.8M207.6 125.4h0.8M230.9 116.3h0.8M227.6 112h0.8M236.4 116.1h0.8M229.6 124h0.8M220 128.3h0.8M216.7 124.7h0.8M258.3 120.8h0.8M255.2 120.1h0.8M209.3 123.1h0.8M262.5 117.2h0.8M210.5 116.9h0.8M247.5 122.8h0.8M261.8 124.5h0.8M250.9 107.6h0.8M257.4 118.6h0.8M238.8 121.2h0.8M270.5 130.9h0.8M234.4 124.3h0.8M233.3 129.5h0.8M242.3 127.4h0.8M273.3 107.1h0.8M281.5 123h0.8M235.8 108.2h0.8M236.2 105.6h0.8M243.3 119.8h0.8M275.3 118.7h0.8M261.5 128.7h0.8M279.7 119.3h0.8M255.8 110.8h0.8M221.4 119.1h0.8M241.4 112.8h0.8M234.2 125.6h0.8M233.4 119.9h0.8M225.4 130.1h0.8M274.6 122.3h0.8M250.7 116.5h0.8M217 117h0.8M237.9 129.8h0.8M237.4 123.5h0.8M222.7 112.7h0.8M228.3 122.5h0.8M229.6 107.9h0.8M250.7 119.9h0.8M236.8 116.9h0.8M233.1 124.5h0.8M267.7 128.5h0.8M245.7 121h0.8M247.6 127h0.8M252.7 118h0.8M250.3 123.5h0.8M254.8 122.4h0.8M267.3 122.3h0.8M258.4 121.3h0.8M231.4 114.7h0.8M239 124.6h0.8M265.4 120.4h0.8M232.4 117.6h0.8M265.8 121.7h0.8M232.7 125.9h0.8M217.6 121.8h0.8M241.2 120.1h0.8M220.7 127.5h0.8M273 112.2h0.8M244.2 125.3h0.8M224.5 121h0.8M279.2 121.5h0.8M202.6 106.6h0.8M258.7 126.2h0.8M216.4 124.4h0.8M242.8 122.4h0.8M227.1 118h0.8M225.8 121.3h0.8M253.6 110.5h0.8M249.7 130.5h0.8M247.2 128.2h0.8M241.4 125.7h0.8M224.7 126.2h0.8M216.6 129.6h0.8M214.1 106.9h0.8M251.8 119.8h0.8M244.1 123.8h0.8M241.5 115.1h0.8M245.9 123.3h0.8M228.4 121.4h0.8M252.3 118h0.8M219.9 117.2h0.8M261.6 119.2h0.8M253.3 116.1h0.8M250.2 116.5h0.8M226.4 121.7h0.8M243 130.8h0.8M212 124.4h0.8M271.8 130.1h0.8M234.9 116.5h0.8M232.9 123h0.8M245.5 123.3h0.8M253.1 113.9h0.8M221.2 112.8h0.8M217.2 120.3h0.8M251.8 121.1h0.8M268.2 116.1h0.8M248.3 127.5h0.8M256.5 123.7h0.8M235.6 112.7h0.8M239.2 117h0.8M254.7 120.1h0.8M252.4 110.3h0.8M260 115.3h0.8M213.2 111.8h0.8M230.4 128.5h0.8M255.2 113.2h0.8M243.6 120.3h0.8M230.7 103.4h0.8M224.9 104.1h0.8M217.4 104.5h0.8M238.5 104.5h0.8M239.9 115.5h0.8M245.7 110.4h0.8M259.3 114.1h0.8M258.4 105.9h0.8M236.5 104.6h0.8M244.2 109h0.8M248.9 115.2h0.8M248.7 119.1h0.8M262.7 106.3h0.8M260.6 92.8h0.8M266.9 111.3h0.8M254.9 99.5h0.8M281 107.6h0.8M248.2 115.3h0.8M247.6 104.2h0.8M258.1 103.3h0.8M259.1 109.8h0.8M263.8 102.2h0.8M265.3 110.7h0.8M274.2 105.3h0.8M272.8 113h0.8M259.7 104.9h0.8M256.8 112.8h0.8M239.8 102.5h0.8M240.5 117.2h0.8M251.9 114.3h0.8M253.5 109.7h0.8M252.7 106.7h0.8M265 110h0.8M252.8 101.2h0.8M253.8 105.2h0.8M243.8 114.8h0.8M236.6 107.9h0.8M257.7 115.5h0.8M243.6 110.8h0.8M253.5 102.7h0.8M223.7 98.2h0.8M257.4 109.6h0.8M233.6 105.4h0.8M245.1 107h0.8M249.6 121.4h0.8M240.4 109.8h0.8M240.5 105.5h0.8M239.2 107.7h0.8M243.2 111h0.8M252.6 104h0.8M273.5 102.4h0.8M254.4 121.2h0.8M241.2 116.4h0.8M267.4 110.9h0.8M227.3 117h0.8M251.1 105.9h0.8M265.6 104.9h0.8M263 105.9h0.8M256.6 102.9h0.8M245.1 103.8h0.8M241.3 110h0.8M247.9 110.1h0.8M265.7 108.4h0.8M227.2 107.4h0.8M251 114.7h0.8M262.7 114.3h0.8M247.2 112.6h0.8M232.3 116.3h0.8M255.4 111.8h0.8M245.3 109.3h0.8M241.8 112.2h0.8M233.7 114.5h0.8M256.7 120.4h0.8M249.5 108.5h0.8M252.4 109.2h0.8M248.7 102.8h0.8M236.4 105.8h0.8M246.4 102.3h0.8M235.8 107.4h0.8M259.1 107.9h0.8M258.3 114.5h0.8M259.4 106.6h0.8M245 98.5h0.8M241.6 111.6h0.8M236.7 116.6h0.8M267.6 106.9h0.8M261.3 101h0.8M237.1 106.9h0.8M250.1 108h0.8M239.4 120h0.8M253.6 110.6h0.8M258.3 110h0.8M247.2 105.9h0.8M229.9 117.4h0.8M238.7 99.7h0.8M240.1 100h0.8M274.4 111.1h0.8M267.3 117.2h0.8M257 112.2h0.8M241.1 108.5h0.8M242.6 109.2h0.8M241.4 116.1h0.8M259.4 108.4h0.8M229.5 112.8h0.8M260.8 108.6h0.8M234.6 111.4h0.8M262.9 98.2h0.8M256.9 98.8h0.8M251 118.8h0.8M251.1 111.7h0.8M246.1 109h0.8M278.8 116.5h0.8M246.2 106.9h0.8M250.2 121.3h0.8M252.6 115.2h0.8M245.5 101.9h0.8M266.2 108.6h0.8M240.4 105.1h0.8M241.8 105.6h0.8M231.2 115.7h0.8M254.7 114.5h0.8M245.8 110.9h0.8M252 115.6h0.8M260 111h0.8M242.1 102.3h0.8M240.2 105.5h0.8M243.4 102.1h0.8M270.3 110.5h0.8M225.4 102.9h0.8M233.6 110.3h0.8M263 103.5h0.8M257.6 107.5h0.8M264 116.6h0.8M253.8 113h0.8M250 106.9h0.8M235.8 110.8h0.8M249.1 106.9h0.8M249.1 108h0.8M237.4 106.1h0.8M263.9 107.7h0.8M267 102.6h0.8M233.5 109.7h0.8M259.4 105.3h0.8M257.6 114.2h0.8M263.1 108.4h0.8M249.4 99.8h0.8M250.3 110.6h0.8M267.2 101.9h0.8M239.7 103.4h0.8M260.9 94.9h0.8M236.8 120.5h0.8M258 101.6h0.8M249.3 113.7h0.8M256.7 107.8h0.8M240.4 113.6h0.8M249.9 113.5h0.8M254.8 106.4h0.8M267.5 106.2h0.8M255.2 105.5h0.8M247.2 107.6h0.8M248.4 94.6h0.8M264.1 101.6h0.8M265.1 92.9h0.8M265.3 95.4h0.8M268 88.2h0.8M265.5 91h0.8M262.9 91.6h0.8M260.9 92.4h0.8M238.6 89.5h0.8M251.7 93.7h0.8M235.8 88.5h0.8M247.8 92.7h0.8M255.4 90.1h0.8M241.5 94.9h0.8M251 97.4h0.8M249.5 96.4h0.8M246.5 94.7h0.8M254.4 95.5h0.8M246.2 93.1h0.8M246.9 92.9h0.8M258.6 106.4h0.8M253.9 96.7h0.8M254.6 98.5h0.8M257.3 98.1h0.8M256.5 103.9h0.8M264.6 86.3h0.8M256.1 93.9h0.8M236.1 89.9h0.8M250 90.5h0.8M254.7 85.9h0.8M259.6 96.9h0.8M256.5 92.2h0.8M253.7 91.6h0.8M262.8 95.8h0.8M269.6 92h0.8M265.2 91.2h0.8M252.3 89.2h0.8M257.9 93.4h0.8M258.6 100h0.8M253.2 95.2h0.8M260.8 93.4h0.8M249.3 95.2h0.8M257.7 97h0.8M260.3 90.8h0.8M257.2 98.9h0.8M250 95.2h0.8M248.8 94.3h0.8M267.5 94.4h0.8M246 95.1h0.8M255.4 98.4h0.8M242.8 89.7h0.8M253.1 87h0.8M262.7 85h0.8M247.1 87.3h0.8M248.5 97h0.8M258.5 97.6h0.8M258.5 85h0.8M256.1 85.8h0.8M249.7 92h0.8M249.4 95.7h0.8M247.3 101h0.8M258.5 98.7h0.8M259.7 97.4h0.8M253.4 102h0.8M245.4 95.6h0.8M253.7 92.7h0.8M256.2 90.4h0.8M260.6 97h0.8M254.5 96.8h0.8M245.5 85.9h0.8M249.1 92.6h0.8M273.5 92.7h0.8M261.9 97.2h0.8M270.5 94.1h0.8M258.9 92.8h0.8M246.9 89.4h0.8M247.5 99.7h0.8M256 93h0.8M253.9 91.2h0.8M253.5 93.5h0.8M258.9 97.5h0.8M240.7 94.6h0.8M264.6 89.3h0.8M251.7 94.4h0.8M262.5 96.2h0.8M252 95.8h0.8M262 95.3h0.8M268.5 95.4h0.8M245.4 90.3h0.8M252.7 92.8h0.8M258.7 95.2h0.8M267.3 97.1h0.8M265.5 90.4h0.8M250.4 96.6h0.8M254.5 96.3h0.8M255.7 91h0.8M267.3 98.5h0.8M241.4 91h0.8M253.9 96.6h0.8M253.2 87.9h0.8M260.4 92.8h0.8M263.3 95h0.8M261.7 97.2h0.8M260.8 91.5h0.8M261.9 94.5h0.8M243.9 92h0.8M251.1 95.7h0.8M259.2 88.9h0.8M259.5 93.4h0.8M245.5 97.2h0.8M247.8 88.6h0.8M259.8 97.5h0.8M248.6 98.2h0.8M261.8 91.5h0.8M269.6 93.5h0.8M255.6 83.6h0.8M258.9 91.1h0.8M257.3 86.5h0.8M263 99.9h0.8M268.8 81.2h0.8M258.5 95.2h0.8M230 90.6h0.8M253.2 99.8h0.8M247.3 94.6h0.8M253.5 95.3h0.8M250.8 97.5h0.8M261.6 88h0.8M262.8 90.6h0.8M251.8 98.5h0.8M254.7 96.2h0.8M260.2 96.3h0.8M249.7 89.7h0.8M259.4 97h0.8M256.8 93h0.8M260.8 93.7h0.8M243.2 95h0.8M258 97.1h0.8M247 90.6h0.8M256.7 91.9h0.8M253.5 97.8h0.8M235.3 102.7h0.8M274.9 124.7h0.8M222.3 91.3h0.8M274.1 103.3h0.8M239.3 93h0.8M235.4 126.8h0.8M275.2 94.5h0.8M253.9 92.3h0.8M243 121.8h0.8M223.2 112.8h0.8M218.1 98.6h0.8M253.7 101.3h0.8" stroke="#000" stroke-width="0.8" stroke-opacity="0.38"/>
</g>
<rect x="202.5" y="50.8" width="80" height="80.9" stroke="#222" stroke-width="1.25" fill="none"/>
<ellipse cx="253.7" cy="93.6" rx="17.6" ry="8.5" stroke="#111" stroke-width="1.2" fill="none"/>
<text x="253.8" y="82.1" font-size="10" text-anchor="middle" stroke="#000" stroke-width="0.2">1.03</text>
<g clip-path="url(#c4)">
<ellipse cx="326" cy="116" rx="38" ry="16" fill="#000" fill-opacity="0.22" filter="url(#b4)"/>
<ellipse cx="335" cy="104" rx="24" ry="13" fill="#000" fill-opacity="0.1" filter="url(#b4)"/>
<ellipse cx="330.1" cy="133.7" rx="33.3" ry="9" fill="#000" fill-opacity="0.55" filter="url(#b3_5)"/>
<ellipse cx="341.1" cy="93.1" rx="13.2" ry="5.9" fill="#000" fill-opacity="0.16" filter="url(#b2)"/>
<ellipse cx="306" cy="124.5" rx="14" ry="9.5" fill="#000" fill-opacity="0.9800000000000001" filter="url(#b3_2)"/>
<ellipse cx="341" cy="121.5" rx="14.6" ry="11.6" fill="#000" fill-opacity="0.9800000000000001" filter="url(#b3_2)"/>
<path d="M305.5 126.1h0.8M327.8 124.9h0.8M324.4 131.2h0.8M302.6 115.2h0.8M313.6 120.2h0.8M299.7 112.8h0.8M319.3 126h0.8M307.3 128.1h0.8M309.6 125.9h0.8M312.4 123.3h0.8M311.5 125.4h0.8M323.5 115.3h0.8M311.4 113.5h0.8M302.9 129.7h0.8M294.6 129.2h0.8M306.8 127.6h0.8M297.3 126.2h0.8M303.7 118.1h0.8M308 117.9h0.8M323.8 120.9h0.8M309.1 131.6h0.8M303.5 116.8h0.8M297 125.3h0.8M299.1 116h0.8M314.1 123.6h0.8M326.8 119.6h0.8M306.3 115.5h0.8M315.1 124.3h0.8M325.6 130.4h0.8M308.2 131.4h0.8M290.5 119.3h0.8M293.3 119.3h0.8M303.1 129h0.8M334.7 121.7h0.8M306.8 128.8h0.8M298.5 123.1h0.8M311.2 118.9h0.8M295.5 108.9h0.8M307.8 117.7h0.8M308.8 122h0.8M315.4 122.6h0.8M294.9 107.4h0.8M307.9 120.3h0.8M300.7 113.6h0.8M313.1 110.8h0.8M313.6 118.5h0.8M312.1 126.6h0.8M298.4 117.8h0.8M301.8 119.2h0.8M313.1 123.9h0.8M306.3 127.6h0.8M311.3 119.1h0.8M298.9 131h0.8M302.8 110.8h0.8M320.2 123.1h0.8M311.6 118.6h0.8M301.8 119.5h0.8M312.1 115.3h0.8M304.6 124.8h0.8M311.3 109.3h0.8M303.6 125.5h0.8M312.7 128.7h0.8M300.9 130h0.8M313.1 129.2h0.8M304.7 128.9h0.8M321.7 118.7h0.8M313.5 122.8h0.8M301.1 115.7h0.8M300.9 128h0.8M299.5 121.6h0.8M309 121.3h0.8M307.2 124.1h0.8M294.9 124.9h0.8M293.8 131h0.8M296.2 122.7h0.8M304.6 128.1h0.8M304 114.7h0.8M317.6 121.5h0.8M307.3 126.5h0.8M304.2 129.9h0.8M298.8 126.9h0.8M318.1 125.9h0.8M307 122h0.8M306.4 129.1h0.8M303.2 112.4h0.8M307.4 123.3h0.8M310.6 124.6h0.8M321.9 115.8h0.8M295.8 129h0.8M295.2 126.6h0.8M305.6 110.4h0.8M307.8 114.4h0.8M313.8 116.9h0.8M304.5 127.2h0.8M297.7 112.3h0.8M304.3 124h0.8M297 118.8h0.8M313.3 123.6h0.8M300.9 120.1h0.8M307.4 124.9h0.8M303.9 114.5h0.8M301.9 119.8h0.8M315.3 128.8h0.8M306.8 122h0.8M309.1 120.9h0.8M302.2 118.3h0.8M305.1 123.7h0.8M324.3 128.1h0.8M301.8 129.7h0.8M300.9 131.3h0.8M294.7 123.7h0.8M304.5 126.3h0.8M312.8 117.4h0.8M298.3 126.4h0.8M315.4 116.4h0.8M295.8 122.9h0.8M307.9 127.3h0.8M304.4 123.9h0.8M315.8 121.2h0.8M300.1 121.3h0.8M300.5 125.2h0.8M303.5 121.2h0.8M319.9 126.3h0.8M300.1 124.2h0.8M304.7 120.3h0.8M301.8 124.8h0.8M291.3 121.6h0.8M308.1 126.2h0.8M312.3 123.3h0.8M304.4 124.2h0.8M310 122.2h0.8M320.6 116.6h0.8M311.9 127.7h0.8M294.3 128.6h0.8M311.2 119.8h0.8M328.6 129.1h0.8M302.4 121h0.8M298.3 126h0.8M306.2 114.6h0.8M295.3 119.3h0.8M301.6 121.8h0.8M299 128.6h0.8M315 124.7h0.8M311.2 123.7h0.8M308.3 124.9h0.8M290.9 106.9h0.8M311.8 120.7h0.8M309.7 122.1h0.8M293.8 124.2h0.8M294.8 124.7h0.8M310.3 128.7h0.8M307.1 114.8h0.8M308 130.3h0.8M311.2 117.3h0.8M300.5 124.8h0.8M315.9 116.4h0.8M314.6 128.7h0.8M297 128.4h0.8M298.1 124.2h0.8M302.6 125.8h0.8M294 127.8h0.8M310.9 120.9h0.8M296.8 124.5h0.8M300.2 131.6h0.8M305.8 103.9h0.8M298.5 113.6h0.8M314.9 127.9h0.8M305.7 127.3h0.8M307.6 120.3h0.8M324.9 125.9h0.8M303.7 114.2h0.8M299.5 124.3h0.8M303.8 121h0.8M305.1 116.5h0.8M305.7 113.7h0.8M297.1 119.2h0.8M314.2 127.6h0.8M306.3 116.4h0.8M301.7 129.7h0.8M318 114.2h0.8M301.4 125h0.8M309.1 124.3h0.8M312.2 114.3h0.8M321 116.4h0.8M306.2 127.8h0.8M317.2 130.4h0.8M304.2 129.4h0.8M320.9 119.1h0.8M291.8 117.4h0.8M302.2 126h0.8M310.4 131.5h0.8M303.2 126.5h0.8M306.5 122.1h0.8M308.6 106.7h0.8M336.2 130h0.8M314.5 119.8h0.8M323.8 124.9h0.8M293.5 125.5h0.8M302.8 130.2h0.8M293.1 123.1h0.8M308.5 121.2h0.8M316.3 116.6h0.8M293.5 122h0.8M314.1 122.3h0.8M299.9 129.9h0.8M308.1 120.7h0.8M307.1 122.7h0.8M311.9 125.4h0.8M297.9 121.1h0.8M301.7 126.9h0.8M309.6 118.6h0.8M303.9 126.5h0.8M316.7 126.1h0.8M325.2 124.5h0.8M313.1 122.1h0.8M295.9 125.1h0.8M310.6 126.6h0.8M307.3 122.1h0.8M297.7 122.3h0.8M310.5 131h0.8M309.6 129h0.8M301.4 123.8h0.8M311.1 116.8h0.8M297.9 125.7h0.8M292.5 124.7h0.8M291 125.7h0.8M306.1 120.5h0.8M296.4 120.9h0.8M300.7 123.2h0.8M300.9 131.6h0.8M317.5 127.9h0.8M296 117.9h0.8M324.7 115.7h0.8M315.5 128.2h0.8M305.7 128.7h0.8M294.3 112h0.8M300.9 124h0.8M295.6 123.9h0.8M295.7 117.4h0.8M291.1 120.6h0.8M324.4 124h0.8M299.5 117.5h0.8M311 115.8h0.8M295 120.8h0.8M322.8 117h0.8M299 126h0.8M302.6 118.5h0.8M321.8 120.3h0.8M309.1 121.5h0.8M303.5 114.9h0.8M315.1 121.4h0.8M318.6 116.3h0.8M301 127.7h0.8M306.9 119.8h0.8M304.4 115.4h0.8M306.3 106h0.8M314.7 130.3h0.8M301.6 127.8h0.8M301.8 123.7h0.8M304.8 101h0.8M315 127.5h0.8M314.2 117.8h0.8M312.7 127.7h0.8M306.3 119.8h0.8M305.6 119.9h0.8M320.8 111.2h0.8M292.1 117.6h0.8M292.1 120.3h0.8M305.5 115.1h0.8M317.2 124.2h0.8M323.7 129.3h0.8M324.6 123h0.8M307.6 128.2h0.8M303.8 131.3h0.8M294.4 119.5h0.8M315.8 124.8h0.8M316.9 118.9h0.8M307.9 112.6h0.8M305.8 127.2h0.8M326 127.9h0.8M304.2 131.7h0.8M309.8 113.9h0.8M296.9 120.6h0.8M316.7 125.2h0.8M315.9 121.2h0.8M333.3 127.2h0.8M294.9 123.1h0.8M291.6 127.9h0.8M308.5 121.7h0.8M299.5 114h0.8M297.3 124h0.8M301.4 122.7h0.8M313.7 110.3h0.8M313.4 129.3h0.8M306 125h0.8M303.8 129.3h0.8M306.6 118.6h0.8M307.5 131.1h0.8M309.7 124.7h0.8M308.1 121.1h0.8M301.4 111.5h0.8M304.2 131.3h0.8M302.1 118.2h0.8M315 125.7h0.8M307.4 127.8h0.8M313 124.2h0.8M306.6 119.2h0.8M312.7 123.8h0.8M302.5 126.1h0.8M300.9 130.8h0.8M292 123.3h0.8M308.7 122.1h0.8M301.6 117.9h0.8M301.4 112.5h0.8M309.2 130.1h0.8M313.6 124.3h0.8M318.2 127.7h0.8M315.5 127.2h0.8M306.4 119.3h0.8M296.6 124.5h0.8M297.3 126.9h0.8M305.7 130.5h0.8M307.5 127.8h0.8M318.7 128.1h0.8M304.9 127.3h0.8M302.9 120h0.8M294.6 129.6h0.8M323.9 115.5h0.8M314.8 123.9h0.8M310.6 116.4h0.8M306.4 125.6h0.8M309.2 122.1h0.8M328 123.8h0.8M305.5 125.3h0.8M310.7 129.4h0.8M300.4 123.8h0.8M310.5 126.5h0.8M303.8 131.6h0.8M301 125.4h0.8M301.6 120.3h0.8M306.5 124.6h0.8M300.4 124.2h0.8M306.8 121.4h0.8M299.7 123.7h0.8M308 122.8h0.8M315.2 118.1h0.8M305.7 121h0.8M302.6 113.1h0.8M306.4 115.3h0.8M316.1 118.7h0.8M296 118.4h0.8M303.5 117.5h0.8M313.7 124.3h0.8M313.2 125.1h0.8M299.2 126.8h0.8M301.9 114.8h0.8M293.6 128h0.8M305.7 122.6h0.8M318.7 124.7h0.8M303.6 130.9h0.8M303.2 130.6h0.8M306.2 130.3h0.8M312.4 130.1h0.8M300.3 122.8h0.8M301.9 127.5h0.8M290.6 121.3h0.8M308.4 123.9h0.8M312.8 127.8h0.8M301.4 123.8h0.8M310.7 111.2h0.8M316.2 116.5h0.8M303.6 105.7h0.8M310.8 129.8h0.8M309 126.9h0.8M302.5 125.7h0.8M318.3 121.7h0.8M311.2 129.7h0.8M303.8 126.3h0.8M308.4 121.2h0.8M330.6 121.6h0.8M316.6 130.3h0.8M297.1 126.4h0.8M294.1 117.4h0.8M303.8 125.9h0.8M322.3 127.1h0.8M316.9 116.3h0.8M294.5 121.2h0.8M323.8 115.3h0.8M318.2 113.2h0.8M303.6 115.1h0.8M320.8 129.4h0.8M308.9 124.3h0.8M303.8 125.6h0.8M299.6 118.4h0.8M294.9 124.7h0.8M298.1 130.7h0.8M303.6 114.1h0.8M303 121.7h0.8M300.2 124.1h0.8M303.8 113.7h0.8M300.1 131.6h0.8M320.8 123.7h0.8M304.3 116.3h0.8M304.8 129.4h0.8M321.9 121.2h0.8M311.6 122.3h0.8M317.6 126.4h0.8M308.8 117.7h0.8M302.9 122.3h0.8M306 123.1h0.8M302.4 124.7h0.8M308.5 115.4h0.8M307.4 125.4h0.8M306.4 114.2h0.8M304.7 115.6h0.8M314.9 122.2h0.8M300.6 120.6h0.8M309.6 119.9h0.8M300.7 107h0.8M297.5 119.1h0.8M292.4 115.2h0.8M312.1 117.7h0.8M304.4 125.8h0.8M306.2 119.1h0.8M295.9 122.6h0.8M315.6 123.1h0.8M295.9 121.5h0.8M314.5 117.6h0.8M308.6 127.2h0.8M299.5 128.5h0.8M312.8 131.5h0.8M315.5 114.1h0.8M315.1 128.6h0.8M315.9 118.6h0.8M315.2 127.1h0.8M298.2 117.4h0.8M310.1 120.3h0.8M309.7 122.8h0.8M308.9 130.3h0.8M305.7 130.6h0.8M314.6 118.7h0.8M314.7 128.9h0.8M322.8 129.9h0.8M291.3 127.7h0.8M304.8 122.7h0.8M309.6 122.3h0.8M322.6 126.5h0.8M306.3 130.1h0.8M312.5 124.3h0.8M307.5 109.5h0.8M324.3 115.9h0.8M298.2 127.4h0.8M303.8 122.9h0.8M303.4 124.5h0.8M313.9 119h0.8M311.3 119.7h0.8M311.5 126.8h0.8M298.3 125.6h0.8M298.8 118.7h0.8M318 111.9h0.8M311.8 129.6h0.8M315.3 115.6h0.8M311.5 127.9h0.8M298.7 128.6h0.8M313.7 119.6h0.8M298.7 112.6h0.8M302.3 108h0.8M296.9 121.7h0.8M297 129.1h0.8M306.1 119.2h0.8M293 121.6h0.8M317.8 116.1h0.8M310.4 127h0.8M323.8 122.9h0.8M304.6 117.6h0.8M292.3 130.2h0.8M303.6 121.8h0.8M304.4 129.4h0.8M315.7 124.6h0.8M339.1 122.5h0.8M363 103.8h0.8M329 125.7h0.8M332.8 126.9h0.8M338.7 130h0.8M343.2 129.3h0.8M333.4 123.1h0.8M335.8 119.4h0.8M336.4 112.8h0.8M353 124.2h0.8M352.8 113.1h0.8M320.6 116.1h0.8M339.6 128.5h0.8M357.5 128h0.8M342.4 115.1h0.8M348.5 117.4h0.8M332.8 126.8h0.8M343.6 129.1h0.8M345.1 120.3h0.8M333.2 112.4h0.8M326.2 127.2h0.8M338.7 116.8h0.8M336.3 120.9h0.8M350.9 126.6h0.8M341.3 109.9h0.8M330.6 108.2h0.8M353.2 108.8h0.8M349.1 129.8h0.8M343.9 130h0.8M326.5 111.1h0.8M339.2 121.7h0.8M340.4 125.7h0.8M333.4 103.3h0.8M345.6 119.7h0.8M342.1 126.7h0.8M331.8 129.5h0.8M344.9 123.8h0.8M350.9 111.9h0.8M347.2 125.6h0.8M358.1 106.1h0.8M336.9 117.9h0.8M342.5 115.5h0.8M334.9 118.3h0.8M332.3 114.7h0.8M343.1 122h0.8M346.3 121.9h0.8M328.4 128.1h0.8M343.8 116.6h0.8M338.3 124.5h0.8M342 120.6h0.8M349.3 130.9h0.8M337.9 121.5h0.8M329.5 120.2h0.8M346.3 129.1h0.8M343 120.9h0.8M333.6 123.5h0.8M329.6 122.8h0.8M341.4 113.8h0.8M344.7 119.8h0.8M347.6 117.5h0.8M343.1 128.5h0.8M334.4 118.6h0.8M321.2 120.4h0.8M329.2 122.6h0.8M319.4 114.2h0.8M342.1 125h0.8M323.7 118.1h0.8M368.3 128.4h0.8M342.9 97.9h0.8M331.4 126.1h0.8M343.7 125.6h0.8M351.3 122.5h0.8M350.2 106.2h0.8M367.6 119.1h0.8M347.6 130h0.8M334.6 124.1h0.8M348.7 111.8h0.8M338.8 119.5h0.8M338.1 115.6h0.8M327.8 125.3h0.8M343.7 131.6h0.8M340.4 115.8h0.8M325.8 122.3h0.8M331.6 109.6h0.8M338.6 113.9h0.8M356.1 122.6h0.8M336.8 121.5h0.8M354.4 113.5h0.8M346.3 110.2h0.8M338.9 115.9h0.8M344.4 122.9h0.8M353.8 127.5h0.8M334.7 110.2h0.8M332.5 117.9h0.8M338.7 115h0.8M352.5 129.6h0.8M338.2 117.3h0.8M338.6 121.2h0.8M340.8 107.6h0.8M336.5 105.4h0.8M341.4 127.4h0.8M329.8 123h0.8M334.6 115.6h0.8M361.8 129.2h0.8M346.2 117.8h0.8M345.4 119.9h0.8M345.9 113.8h0.8M340.3 118.1h0.8M349.7 114.7h0.8M325.5 115.3h0.8M332.2 116.3h0.8M325.1 114.4h0.8M341.7 125.1h0.8M320.1 121.5h0.8M330.6 112.5h0.8M337.7 115.6h0.8M348.4 127.6h0.8M337.8 116h0.8M345.1 120.2h0.8M339.3 131h0.8M335.6 122.1h0.8M336.2 121.8h0.8M351.8 113.8h0.8M337.9 126.2h0.8M334 130h0.8M358.2 126.1h0.8M326 118.6h0.8M341.8 126.4h0.8M351.5 131.3h0.8M356.7 113.2h0.8M351.6 106.4h0.8M342.6 112.2h0.8M322 129.5h0.8M340.7 130.1h0.8M324.1 110.9h0.8M340 115.7h0.8M341.8 116.1h0.8M337.4 111.5h0.8M354.7 118.7h0.8M328.4 127.4h0.8M346.2 123.4h0.8M343.4 118.1h0.8M339.6 102.2h0.8M324.3 110.8h0.8M339.3 119.2h0.8M353.1 118.3h0.8M348 125.3h0.8M326.8 124.3h0.8M343.2 111.5h0.8M329.9 110.4h0.8M330.9 131h0.8M339.8 130.9h0.8M334.1 121.6h0.8M334.9 125.7h0.8M339.9 131.3h0.8M349.9 125.2h0.8M340.6 118.9h0.8M341.1 128.1h0.8M342.4 124.1h0.8M340.6 120.9h0.8M333.9 105.1h0.8M347.2 126.4h0.8M328.5 130.3h0.8M343.8 124.3h0.8M353.3 129.6h0.8M341.3 112.2h0.8M327.9 123.2h0.8M358 129.2h0.8M340.7 124.4h0.8M332.9 127.9h0.8M344 114.9h0.8M344.6 119.7h0.8M342.1 130.2h0.8M338.3 114.7h0.8M339.8 113.3h0.8M359.4 127.1h0.8M343.2 113.6h0.8M330.3 124.8h0.8M342.9 116.5h0.8M351.7 122h0.8M344.9 123.6h0.8M324.1 106.7h0.8M320.5 101.8h0.8M340.9 124.4h0.8M331.7 125.4h0.8M345.8 120.9h0.8M355.9 116.5h0.8M362 121.9h0.8M332.6 118h0.8M321 118.5h0.8M323.8 131.5h0.8M344.5 109.3h0.8M347.2 106.5h0.8M342.7 125.7h0.8M341.8 111.6h0.8M339.9 119.9h0.8M334.2 115h0.8M341.3 125.4h0.8M318.8 116.1h0.8M360.4 110.6h0.8M333.1 115.3h0.8M346.3 121h0.8M337.5 108.2h0.8M347.6 121.5h0.8M333.8 121.7h0.8M349.5 108.5h0.8M324.3 112.5h0.8M331.6 94.7h0.8M334.5 131.3h0.8M337.4 130.5h0.8M309.9 120.5h0.8M335.6 114.2h0.8M345.2 110.8h0.8M337.1 106.8h0.8M341.9 121.5h0.8M358.6 124.7h0.8M333.9 120.7h0.8M327.1 121.8h0.8M338.7 125.2h0.8M351.1 103.9h0.8M344.5 128h0.8M349.5 130h0.8M343.9 130.4h0.8M329.8 114.4h0.8M319.8 126.3h0.8M333.3 128.1h0.8M347.5 109.7h0.8M348.6 123.8h0.8M343.2 125.6h0.8M340.7 121.6h0.8M352.4 112.7h0.8M328 114.8h0.8M352.2 118.7h0.8M361.7 94.3h0.8M333.3 117.6h0.8M339 112.5h0.8M313.3 126.6h0.8M344.2 114.1h0.8M335.8 124.1h0.8M341.3 119.3h0.8M328.4 124h0.8M333.8 122.3h0.8M334.6 123.3h0.8M349.1 123.6h0.8M348.1 109.3h0.8M346 124h0.8M334.2 120h0.8M310.7 122.2h0.8M336.5 101.5h0.8M346.5 115.8h0.8M344 119.4h0.8M346.2 122.2h0.8M337.8 125.8h0.8M350 101.5h0.8M341.2 116.2h0.8M351.3 112.3h0.8M328.9 128.7h0.8M334.2 118.6h0.8M319.6 120.3h0.8M353.2 117.4h0.8M322.9 114.2h0.8M342.9 120.3h0.8M332.8 112.5h0.8M340 122h0.8M325.7 120.9h0.8M345 120.7h0.8M347.6 114h0.8M344.4 129.3h0.8M347 124.8h0.8M339.8 112.7h0.8M346.9 118h0.8M330.7 128.2h0.8M323.5 116.5h0.8M349.3 129.8h0.8M336.9 122h0.8M346.8 120.8h0.8M332.6 125.3h0.8M342.7 122.4h0.8M353 124.1h0.8M336 122.9h0.8M361.9 115.1h0.8M338.1 114.4h0.8M344.7 110.3h0.8M345.7 128.1h0.8M332.6 114h0.8M324.8 121.8h0.8M328.8 115.9h0.8M336.4 115.4h0.8M317.9 114.3h0.8M343.6 112.2h0.8M335.1 123.3h0.8M337.8 122.6h0.8M337 119.9h0.8M328.2 105.9h0.8M337 130h0.8M349.2 105h0.8M338.9 115.9h0.8M344 111.8h0.8M350.8 119.6h0.8M347.2 129.2h0.8M320 119.5h0.8M357.3 121.6h0.8M352.2 125.2h0.8M335.6 123.9h0.8M356.6 111.7h0.8M349.9 109.4h0.8M339.5 119.6h0.8M347.7 124.2h0.8M354.4 116.1h0.8M350 124.9h0.8M341 110.9h0.8M347.1 124.2h0.8M349.5 121.1h0.8M338.2 124.9h0.8M345.9 127.5h0.8M361.4 116h0.8M362.6 95.4h0.8M351.3 114.3h0.8M362.6 113.7h0.8M352.4 112.8h0.8M328.8 128.5h0.8M350.3 115.3h0.8M366.9 118.7h0.8M357.8 112.6h0.8M330.6 122.3h0.8M330.1 125.5h0.8M317.8 123h0.8M334.9 113h0.8M343.2 119.5h0.8M336.1 128.6h0.8M344.2 124.8h0.8M355.3 120.8h0.8M350 117.8h0.8M347.5 126.1h0.8M335.1 108.2h0.8M327.2 113.2h0.8M346.9 120.3h0.8M337.8 125.7h0.8M334.6 126.3h0.8M348.6 113.1h0.8M342.3 113.5h0.8M338.6 125.2h0.8M322.7 113.8h0.8M332.3 122.3h0.8M333.1 124.7h0.8M331.8 117h0.8M347.5 124.3h0.8M342.6 121.1h0.8M337 115.1h0.8M331.4 109.9h0.8M343.8 130.7h0.8M327.7 120.4h0.8M325.6 115.4h0.8M358.5 122.9h0.8M338.2 122.1h0.8M344 120.6h0.8M328.2 111.1h0.8M362.5 114.8h0.8M353.8 115.2h0.8M354.9 127.6h0.8M331 119.4h0.8M331.8 114.7h0.8M337.1 113.1h0.8M322.3 110.5h0.8M330.8 117.4h0.8M351.8 127.8h0.8M346.1 123.3h0.8M366.7 111.6h0.8M328.6 121.3h0.8M343.2 119.4h0.8M332 110h0.8M338 115.3h0.8M335.8 112h0.8M355.4 125.4h0.8M360.9 117h0.8M341.6 119.3h0.8M341.2 119.3h0.8M339.2 104.3h0.8M338.1 127.5h0.8M320.1 118.4h0.8M340.1 125.5h0.8M336.1 116.2h0.8M351.9 123.4h0.8M335.2 119.5h0.8M344.4 119.7h0.8M338.3 119.4h0.8M339.5 122.6h0.8M347.2 128.7h0.8M321.4 124.6h0.8M330.3 120.9h0.8M346.8 121.3h0.8M355.9 120.9h0.8M333.2 119.9h0.8M337.1 121.9h0.8M350 120.5h0.8M340.3 130.3h0.8M344.1 129.8h0.8M342.4 110.1h0.8M329 107h0.8M353.2 125.1h0.8M335.9 112.9h0.8M344.9 120.3h0.8M344.4 114.1h0.8M330.8 121.3h0.8M355.3 105.5h0.8M348.5 122.1h0.8M339.5 123.9h0.8M328.3 102.1h0.8M361.2 119h0.8M350.5 131.2h0.8M344.1 125.5h0.8M337.9 117.8h0.8M341.9 125h0.8M350 122.1h0.8M362.3 124.4h0.8M344.8 125.8h0.8M337.5 112h0.8M342.4 118.8h0.8M331.8 122.6h0.8M338.9 116.4h0.8M322 120.1h0.8M359.8 129.3h0.8M352.6 121.3h0.8M352.3 115.7h0.8M336.1 126h0.8M325.8 122h0.8M333.6 125.2h0.8M334.1 116.8h0.8M312.2 113.4h0.8M353.3 126h0.8M346.8 110.8h0.8M338.9 121h0.8M358.2 113.7h0.8M345.6 130h0.8M332.4 122.3h0.8M319.6 122.4h0.8M317.5 118.2h0.8M359.4 125.1h0.8M341.6 122.9h0.8M364.1 126.4h0.8M352.2 117.7h0.8M336.4 112.5h0.8M339.2 115.5h0.8M351.6 127.1h0.8M339.8 116.8h0.8M310.2 116.4h0.8M344.3 127.3h0.8M308.1 100.7h0.8M342.7 112.6h0.8M338.7 117.4h0.8M347.3 105.4h0.8M335 129.7h0.8M343.3 114.3h0.8M345.9 124h0.8M331.6 127.6h0.8M348.3 120.4h0.8M351.1 111.4h0.8M349.2 119.9h0.8M331 116.4h0.8M353.5 116.7h0.8M337.4 115.9h0.8M332.6 129.9h0.8M346.5 128.1h0.8M337.4 117.2h0.8M337.4 115.3h0.8M334.3 123.2h0.8M335.2 121.7h0.8M327.8 124.1h0.8M333.7 117.8h0.8M358.4 127h0.8M336.9 125.8h0.8M340.9 131.2h0.8M335.9 125.8h0.8M338.9 121.7h0.8M339.5 116.2h0.8M342.2 130.1h0.8M334.6 118.2h0.8M345 115h0.8M350.4 127.7h0.8M316.6 115.9h0.8M329.6 128.8h0.8M351.1 111.2h0.8M333.8 120.9h0.8M337.2 127.8h0.8M351.5 126.7h0.8M352.7 129.7h0.8M340.4 117.8h0.8M333.2 128.7h0.8M350.6 130.4h0.8M337.6 118.2h0.8M344.9 123.6h0.8M332.3 125.5h0.8M346.9 113.4h0.8M359.8 113.6h0.8M351 119.8h0.8M342.9 114.8h0.8M335.1 127.7h0.8M339.1 118.7h0.8M350.6 127.8h0.8M342.9 123.6h0.8M359.5 120.2h0.8M345.3 125.3h0.8M326.3 104.9h0.8M342.5 129.1h0.8M343.3 117h0.8M334.2 128.7h0.8M338 107.7h0.8M348.4 123.7h0.8M345.2 130.6h0.8M355.2 126.5h0.8M339.3 103.3h0.8M344.3 120.3h0.8M340.4 121.2h0.8M332.2 118.9h0.8M343.4 130.8h0.8M333.3 128.6h0.8M366 110h0.8M338.4 121.8h0.8M354.3 121.3h0.8M332.1 121.1h0.8M340.7 123.7h0.8M333.5 127.5h0.8M343.4 112.1h0.8M341.8 121.8h0.8M339.1 128.6h0.8M353.1 113.7h0.8M330.9 118.7h0.8M307.9 106.7h0.8M356.3 113.7h0.8M361.4 103.4h0.8M339.3 123.6h0.8M310 114.5h0.8M306.6 118.4h0.8M350.8 125.9h0.8M334 126.9h0.8M325.2 107.6h0.8M318.9 112.9h0.8M327.9 120.5h0.8M358.7 109.8h0.8M353.9 128h0.8M345.2 131h0.8M299.9 123.8h0.8M307.7 108.3h0.8M347.3 123h0.8M326.6 119.1h0.8M312.6 113.6h0.8M315.1 117.4h0.8M326.3 107.8h0.8M331.8 107.9h0.8M320.2 116h0.8M321.4 129.8h0.8M357.1 126.6h0.8M356 115.7h0.8M352.7 117.6h0.8M330.4 120.2h0.8M300.7 113.1h0.8M323 120.9h0.8M323.6 111.2h0.8M304.1 118.1h0.8M303.6 108.6h0.8M324.1 119.4h0.8M310.3 103.8h0.8M331.5 124.5h0.8M318.3 115h0.8M305.2 123.8h0.8M314.8 116.9h0.8M322.4 103.6h0.8M328.1 111.5h0.8M321.5 129h0.8M290.6 116.9h0.8M335.4 119h0.8M333.5 112h0.8M294.8 107.5h0.8M318.2 123.9h0.8M327.5 130.8h0.8M327.9 119.5h0.8M329.8 104.1h0.8M336.9 109.1h0.8M302.5 118.9h0.8M331.5 119h0.8M326.1 113.5h0.8M363.9 102h0.8M306.5 129.9h0.8M336.4 111.9h0.8M308.9 116h0.8M306.4 119.9h0.8M314.1 130h0.8M331.6 128.1h0.8M333.8 120.2h0.8M306.6 114.6h0.8M333.4 114h0.8M311.5 125.9h0.8M315.9 121.3h0.8M324.2 112.2h0.8M352.4 118.7h0.8M346.7 115.3h0.8M298.9 108.1h0.8M316.2 116.5h0.8M327.1 122.1h0.8M302.4 119.8h0.8M302.9 112.5h0.8M353 125.1h0.8M353.9 116h0.8M323.6 111.1h0.8M337.1 108h0.8M316.4 121.7h0.8M316.4 120.8h0.8M360.7 110.1h0.8M352.7 112.5h0.8M308.3 119.8h0.8M345.5 112.3h0.8M312.2 114.5h0.8M312.3 119.5h0.8M312.5 116h0.8M332.7 114.7h0.8M347.9 112.6h0.8M354.6 118.6h0.8M341.8 120.7h0.8M316.3 123.4h0.8M331.8 128.3h0.8M291 124.5h0.8M329.2 112.5h0.8M317.9 114.8h0.8M300.9 113.4h0.8M340.9 105.9h0.8M318.9 99.1h0.8M315.1 121.1h0.8M325 118.4h0.8M304.8 122.6h0.8M308.8 125.3h0.8M330 114.9h0.8M354.2 114.8h0.8M345.5 118.8h0.8M326 126h0.8M334.3 117.9h0.8M323.8 119.7h0.8M327.6 115.4h0.8M306.3 97.3h0.8M323.9 116.1h0.8M349.1 121.6h0.8M324 111.3h0.8M341.5 113.2h0.8M321.2 129.5h0.8M336.5 126.8h0.8M300.4 118.3h0.8M347.3 107.8h0.8M329.8 121.2h0.8M312.5 116.9h0.8M357.9 103.7h0.8M334.9 114.4h0.8M326.9 111.5h0.8M352 109.1h0.8M332.9 122.4h0.8M324.3 115.8h0.8M321 126.2h0.8M334.7 117.4h0.8M305.3 119.3h0.8M336.2 117.8h0.8M353.4 102.7h0.8M304.4 104.1h0.8M342.6 122.6h0.8M321.9 117.6h0.8M329.3 114.6h0.8M348 123h0.8M323.8 104.9h0.8M352.1 114.2h0.8M306.4 128.4h0.8M335.6 101.9h0.8M294.5 114.9h0.8M302.2 116.8h0.8M325.3 124.5h0.8M343.1 117.1h0.8M298.1 126.7h0.8M322.8 121.7h0.8M339.6 111.6h0.8M358.2 118.7h0.8M330.4 114.6h0.8M339.7 126.2h0.8M315.6 122.8h0.8M317.9 108.2h0.8M319.9 123h0.8M336.7 126.7h0.8M313.4 115.7h0.8M327.6 123.1h0.8M324 110.5h0.8M296.7 127.5h0.8M346.6 112.8h0.8M354.4 117.6h0.8M334.9 128.2h0.8M317.1 111.9h0.8M293.2 120.6h0.8M334.8 125h0.8M337.8 119h0.8M348.2 109.9h0.8M333.7 122.2h0.8M334.7 128.9h0.8M343.4 116.7h0.8M363.2 127h0.8M326.7 117.2h0.8M306.6 116.9h0.8M321.8 119.8h0.8M318.2 122.7h0.8M324.7 105.4h0.8M316.7 110.9h0.8M302 116.1h0.8M343.8 109.2h0.8M331.5 114.8h0.8M342.7 129.7h0.8M323.3 127.7h0.8M305.7 119.8h0.8M302.1 119.7h0.8M314.7 120.1h0.8M305 120h0.8M328.5 113.6h0.8M311.1 108.6h0.8M318.8 121.4h0.8M323.9 119.4h0.8M350.6 115.6h0.8M332 124.8h0.8M336.3 121.3h0.8M325 115.1h0.8M337.7 131.3h0.8M353.5 118.5h0.8M342.4 122.2h0.8M327.9 123.4h0.8M338.3 119.3h0.8M359.4 115.2h0.8M366.8 120.4h0.8M323 105.4h0.8M296.6 105.8h0.8M342.5 123.2h0.8M291.7 117.7h0.8M333 106h0.8M344.8 107.6h0.8M348.1 119.8h0.8M313.2 105.3h0.8M320 117.4h0.8M324 113.4h0.8M322.5 125.2h0.8M309.1 116.5h0.8M335.2 118h0.8M342.9 130.7h0.8M319.7 119.9h0.8M339.2 109.2h0.8M351.8 103.1h0.8M352.2 114h0.8M306.9 114.3h0.8M321.3 110h0.8M300.1 114h0.8M344.4 121.4h0.8M352 113.3h0.8M319.6 115.5h0.8M329.1 121.8h0.8M359.8 123.8h0.8M329.5 129h0.8M311.4 107.6h0.8M339 119.5h0.8M328.6 125.6h0.8M319.9 117.2h0.8M333.5 123.3h0.8M345.1 119.1h0.8M331.3 98.7h0.8M349.6 105.5h0.8M320 105.4h0.8M357 113.6h0.8M323.1 116.8h0.8M340.2 124.3h0.8M323.9 127h0.8M309 123.5h0.8M314.3 123.7h0.8M313.5 114.6h0.8M354.3 109.1h0.8M303.8 122.7h0.8M321 114.6h0.8M306.4 115.9h0.8M329.3 110.5h0.8M325.5 121.9h0.8M308.8 127h0.8M304.4 116.9h0.8M292.8 120.3h0.8M346.8 119.8h0.8M298.9 121.2h0.8M309.1 118.7h0.8M297.6 123.9h0.8M350.5 122.2h0.8M319.4 116.1h0.8M325 117.9h0.8M312.1 114.2h0.8M337.6 113.1h0.8M310.7 113.6h0.8M319.3 119.4h0.8M316.8 116.5h0.8M311.8 127.9h0.8M327.7 115.5h0.8M331.5 117.6h0.8M296.2 116.6h0.8M357.4 122h0.8M348.4 112.6h0.8M297.8 112.4h0.8M351.7 110h0.8M310.9 126.8h0.8M321.2 116.4h0.8M333.2 118.7h0.8M320.2 120h0.8M312.4 117.7h0.8M338.5 109.5h0.8M321.9 108.9h0.8M340.2 122.9h0.8M343.9 126.3h0.8M345.5 123.7h0.8M311.2 125.5h0.8M331.5 122.7h0.8M302.6 126.6h0.8M348.3 105.4h0.8M315.4 114.2h0.8M313.7 129.1h0.8M367.1 109.5h0.8M345.9 115.9h0.8M352 98.4h0.8M317.7 127.7h0.8M311.5 127.5h0.8M316.3 127.1h0.8M337.1 114.6h0.8M311.5 116.6h0.8M348 117.9h0.8M296 116.2h0.8M336.2 109.6h0.8M325.7 114.6h0.8M297.8 121.6h0.8M304.3 111.9h0.8M349.4 109h0.8M337.4 127.4h0.8M344.8 121.7h0.8M321.4 106.7h0.8M328.6 121.5h0.8M316.2 110.1h0.8M342.4 109.5h0.8M334.3 114.1h0.8M293.8 130.9h0.8M337.4 122.3h0.8M298.9 116.9h0.8M331.1 111.9h0.8M357.1 101.7h0.8M339.1 102.7h0.8M295.8 107.6h0.8M336.5 112.1h0.8M312.7 110.5h0.8M297.3 110.6h0.8M306.6 115.2h0.8M318.1 98.5h0.8M312.9 127.4h0.8M316.1 117h0.8M311.2 112h0.8M323.4 106.7h0.8M321.6 104.1h0.8M331 104.8h0.8M337 125.5h0.8M293.6 122.8h0.8M316.7 126.6h0.8M314.2 115h0.8M318.7 127.3h0.8M326 113.3h0.8M319.6 124.7h0.8M339.8 130.8h0.8M311.9 102.1h0.8M313.6 115.6h0.8M315.7 127h0.8M367.4 120.2h0.8M311.8 117.5h0.8M340 120.1h0.8M322.7 119.5h0.8M338.4 122.2h0.8M363.4 93.2h0.8M309.1 112.5h0.8M339.7 118.9h0.8M340.2 105.7h0.8M319.8 122.3h0.8M323 113.9h0.8M329.1 130.3h0.8M329.2 110.3h0.8M336.5 117.5h0.8M346.9 110.7h0.8M342.3 109.9h0.8M330 122.7h0.8M322.4 122.3h0.8M312.6 125.6h0.8M314.4 111.5h0.8M321.8 116.7h0.8M308 123.5h0.8M321.6 122h0.8M295.6 106.6h0.8M318.9 109.2h0.8M321.4 121.6h0.8M345.2 128.9h0.8M338.9 111.5h0.8M334.4 113h0.8M334.3 108.7h0.8M349.5 120.5h0.8M318.6 106.3h0.8M329.3 113h0.8M328.8 111.5h0.8M313.7 122.1h0.8M352.1 107.1h0.8M320.3 120.3h0.8M321.1 113.7h0.8M365.2 110.5h0.8M330.9 113.3h0.8M322.2 98.9h0.8M340.9 115.5h0.8M305.7 130.5h0.8M318.8 112.3h0.8M308 125.7h0.8M324.6 114.7h0.8M298.9 110h0.8M330.6 117h0.8M309.8 99.4h0.8M338.6 113.4h0.8M299 121.7h0.8M319.7 109.5h0.8M299.2 116.2h0.8M325.7 103h0.8M342.8 107h0.8M350.7 119.8h0.8M320.5 119.9h0.8M312.8 116.7h0.8M355.4 112.6h0.8M339.6 110h0.8M323.7 124.9h0.8M301.3 119.9h0.8M316.1 124.3h0.8M337.7 109.9h0.8M321.6 118.7h0.8M294.4 120.6h0.8M349.8 127.1h0.8M312.9 113.9h0.8M306.3 113.2h0.8M319.3 122.6h0.8M325.7 109.8h0.8M339.7 124.2h0.8M312.5 115.2h0.8M322.1 104h0.8M326.7 122.6h0.8M361.1 118.7h0.8M318.7 116h0.8M335.7 123.6h0.8M307.8 118.8h0.8M336.6 101.2h0.8M350.2 115.5h0.8M340.7 116.9h0.8M319.5 116.6h0.8M329.6 124.2h0.8M319.2 108.3h0.8M310.9 109.4h0.8M338.6 109.6h0.8M353.1 118.3h0.8M322.6 127.7h0.8M317.3 114.9h0.8M339.1 123.2h0.8M335.1 107.3h0.8M321 124.7h0.8M328.5 124.2h0.8M362.5 122.8h0.8M311.8 129.4h0.8M311.2 125h0.8M336.9 110.6h0.8M311.2 116h0.8M332.2 128.1h0.8M341.4 112.4h0.8M313.1 118.2h0.8M315 116.8h0.8M339.7 119.7h0.8M343.6 112.1h0.8M308.7 106.4h0.8M291.3 114.1h0.8M326.5 116.1h0.8M304.5 115.5h0.8M316 110.4h0.8M351 117.5h0.8M349.2 108.7h0.8M308.9 117.7h0.8M323 122.2h0.8M300.8 121.5h0.8M339.3 113h0.8M318 123.9h0.8M313.8 108.6h0.8M337.3 120.8h0.8M339.5 118.2h0.8M345.7 121.9h0.8M291.7 119.4h0.8M340.3 118.1h0.8M353.4 114.2h0.8M338.9 108h0.8M325.6 113.5h0.8M306.6 107.4h0.8M329.9 121.3h0.8M313.6 108h0.8M309 123.9h0.8M302.8 127h0.8M294 120.1h0.8M338.3 127.6h0.8M317.5 111.8h0.8M298.7 125.1h0.8M323.3 114.2h0.8M317.7 119.9h0.8M326.3 127.3h0.8M315.6 117.3h0.8M319.8 117.2h0.8M340.1 119.7h0.8M298.4 117.4h0.8M323.9 120.9h0.8M326.6 117.3h0.8M345.3 109.2h0.8M367.2 113.4h0.8M306.2 124.2h0.8M346.3 127.9h0.8M353.6 121.8h0.8M327.1 121h0.8M325.8 113.6h0.8M326.1 116.1h0.8M316.6 104.5h0.8M313.1 113.9h0.8M325.6 110h0.8M358.7 101h0.8M323.4 124.9h0.8M303.8 106.5h0.8M326.7 116.1h0.8M313.9 131.2h0.8M354.5 123.3h0.8M324.8 115.4h0.8M342.9 116.2h0.8M354.5 128.1h0.8M314.8 124.2h0.8M356.1 123.4h0.8M308.4 116h0.8M320 119.2h0.8M327.1 115.4h0.8M342.9 129.1h0.8M315.9 106.5h0.8M333.8 118.4h0.8M334.8 112.9h0.8M332.4 111.1h0.8M309.3 97.6h0.8M317.7 114.2h0.8M330.8 118.6h0.8M316.6 115.5h0.8M335.5 103.7h0.8M342.2 113.6h0.8M300 111.8h0.8M336.9 125.3h0.8M351.1 122.1h0.8M313.7 123.1h0.8M342.2 121.9h0.8M325.8 114.2h0.8M309.3 106.2h0.8M366.4 126.2h0.8M340.5 121.6h0.8M291.3 116.5h0.8M330.1 128h0.8M308.8 121h0.8M323.3 119h0.8M313.1 121.7h0.8M329.5 103.9h0.8M311.3 128h0.8M309.4 114.6h0.8M361.5 120.5h0.8M356.9 121.2h0.8M347.4 117.6h0.8M341.1 114.4h0.8M321.3 111.4h0.8M339.8 123.1h0.8M315.1 126.3h0.8M314.9 111.1h0.8M293.8 124.2h0.8M307.1 129.8h0.8M331.3 125.2h0.8M304.2 114.3h0.8M332.1 125h0.8M304.2 121.8h0.8M312.9 125.6h0.8M324.3 116.7h0.8M336.9 128.4h0.8M324.1 128.9h0.8M309.7 121.4h0.8M307.4 120.8h0.8M311.4 119.4h0.8M340.4 111.4h0.8M295.4 117.7h0.8M338.5 121h0.8M311.4 125.8h0.8M323.1 125.2h0.8M311.9 122.6h0.8M350.8 113.8h0.8M323 124h0.8M338.4 121.9h0.8M326.2 106.6h0.8M328.4 108.8h0.8M330 100.4h0.8M336.8 112.3h0.8M322.7 126.1h0.8M340.8 113.5h0.8M351 124.8h0.8M338.5 116.2h0.8M328.3 113.3h0.8M331.9 113.7h0.8M350.4 119.3h0.8M332.3 121.6h0.8M334.4 107.7h0.8M352.4 119.7h0.8M317.9 111.3h0.8M315.4 114.1h0.8M328.5 112.1h0.8M330.3 120.1h0.8M326 121.6h0.8M330.3 117.6h0.8M340.8 129.8h0.8M326.7 112.1h0.8M338.4 101.8h0.8M331 117.4h0.8M340.1 97h0.8M331 100.1h0.8M329.8 110.4h0.8M333.8 102.8h0.8M350.2 106.7h0.8M312 99.9h0.8M340.9 109.3h0.8M338.6 108.2h0.8M325.2 105.9h0.8M321.8 101.1h0.8M325 101h0.8M331.7 104.9h0.8M326.2 113.3h0.8M330.2 116.2h0.8M347.4 98.5h0.8M346 97.3h0.8M352.6 108.3h0.8M323.7 92.2h0.8M330.6 97.5h0.8M348.2 98.2h0.8M332.5 109.3h0.8M335.3 107.8h0.8M332.2 110.7h0.8M324.1 109.7h0.8M320.8 107.2h0.8M321.6 104.7h0.8M342 113.9h0.8M313.7 101.1h0.8M323.5 113.8h0.8M324.7 110.5h0.8M328.9 96.7h0.8M336.3 98.7h0.8M343.6 111.3h0.8M350.7 99.4h0.8M353.5 112.1h0.8M313.7 120.1h0.8M354.8 99.3h0.8M338.8 97.3h0.8M333.3 107.1h0.8M342.2 100.6h0.8M334.5 100h0.8M339.4 110.2h0.8M335.7 113.3h0.8M343.8 108.3h0.8M348.6 97.9h0.8M334.4 94.5h0.8M334.6 102.9h0.8M344.7 103.1h0.8M327.3 105.3h0.8M333.3 109.2h0.8M324.5 96.3h0.8M316 113.3h0.8M319.9 102.9h0.8M321.7 111.6h0.8M328.2 113.8h0.8M326.5 107.8h0.8M343.9 112.1h0.8M320.7 103.6h0.8M333.9 94.2h0.8M343.3 108.4h0.8M340.9 97h0.8M337.1 108.8h0.8M347.1 102.6h0.8M343 118.6h0.8M329.8 103.3h0.8M331.1 96.4h0.8M330.6 116.4h0.8M323.9 104.7h0.8M349.1 109.6h0.8M337.7 103.8h0.8M333.6 106h0.8M343.1 106.5h0.8M346.1 94h0.8M344.7 102.6h0.8M335.1 103.3h0.8M342.6 105.2h0.8M342.4 100.8h0.8M337.2 113.9h0.8M348.2 103.7h0.8M336.7 103.6h0.8M333.6 106.1h0.8M349.4 109.7h0.8M352.3 115.9h0.8M320 108h0.8M329.7 95.6h0.8M322.2 102.8h0.8M354.8 106.6h0.8M332.8 105.8h0.8M326.2 107.1h0.8M334 95.6h0.8M328.8 127.5h0.8M342.5 105.4h0.8M342.9 99.8h0.8M336.1 111.6h0.8M316.1 101.3h0.8M330.3 104.2h0.8M329 107.8h0.8M347.1 108.2h0.8M347.1 112.7h0.8M328.1 107.8h0.8M330.7 110.2h0.8M331 104.9h0.8M355.1 104.9h0.8M316.8 106.8h0.8M338.6 102.8h0.8M335.9 112.6h0.8M329 104.9h0.8M326.8 108.2h0.8M333.6 100.2h0.8M333.3 117.7h0.8M315.1 97.3h0.8M339.1 97.3h0.8M358 96.6h0.8M319.8 102.8h0.8M347.8 111.2h0.8M341.8 108h0.8M350.4 94.5h0.8M338.4 115.2h0.8M322.6 108.1h0.8M349.5 114h0.8M333.6 117.9h0.8M341.1 112.9h0.8M322.6 101.3h0.8M326.3 117.3h0.8M307.9 94.4h0.8M344.5 107h0.8M300.5 103.6h0.8M331.6 113.8h0.8M312.8 102.7h0.8M347.6 110.9h0.8M324.4 104.3h0.8M317.9 114.7h0.8M330.2 114.2h0.8M344.5 100.5h0.8M333.5 110.2h0.8M340.4 115.8h0.8M348.3 108.2h0.8M343.3 101.6h0.8M328.3 109.9h0.8M339.2 99.2h0.8M334.3 101.1h0.8M328.8 114.3h0.8M324.3 102h0.8M341.9 106.6h0.8M337.3 97.1h0.8M335 103.8h0.8M325.9 102.6h0.8M331.9 111.5h0.8M357.2 106.9h0.8M352.6 106.9h0.8M318.1 106.6h0.8M350.3 115h0.8M325.1 120.3h0.8M326.8 101.6h0.8M329.3 115.3h0.8M340.1 112h0.8M309.6 105.9h0.8M334.1 110.6h0.8M330 113.8h0.8M327.5 97.5h0.8M328.9 98.5h0.8M347.3 90.1h0.8M349.9 92.6h0.8M340.6 87.3h0.8M337.3 93.7h0.8M343.1 91h0.8M349.1 99.2h0.8M335.3 94.9h0.8M329.8 95h0.8M334.1 92.7h0.8M342.8 92.3h0.8M349.5 90.1h0.8M337.9 94.6h0.8M341.3 94.3h0.8M339.9 90h0.8M346.6 93.6h0.8M348.4 98.8h0.8M338.8 90.3h0.8M338.1 90.7h0.8M326.4 100.1h0.8M344.7 102.9h0.8M337.3 95.8h0.8M343.7 93h0.8M349.1 93.3h0.8M341 94h0.8M324.5 90.4h0.8M336 100.1h0.8M346.1 96.5h0.8M346.4 92.6h0.8M354.2 92.5h0.8M330.8 95.9h0.8M350.6 93.8h0.8M344.4 97.3h0.8M353.3 95.7h0.8M354.4 94.5h0.8M357.6 87.7h0.8M348.8 94.5h0.8M342.5 88.1h0.8M349.8 92.6h0.8M334.1 90.8h0.8M339.9 93.8h0.8M334.7 89.6h0.8M344.8 93.1h0.8M356.6 91.6h0.8M347.3 100.5h0.8M340.1 97.4h0.8M343.9 93.6h0.8M353.9 89.3h0.8M337 86.1h0.8M340.7 97.4h0.8M339.7 96.7h0.8M335.9 98h0.8M340.8 91.4h0.8M354.1 93.3h0.8M346 93.9h0.8M347 93.9h0.8M332.5 94.5h0.8M345.3 94.9h0.8M339.9 100.8h0.8M336.1 93.9h0.8M343.2 88.9h0.8M332.6 96.1h0.8M346.8 93.9h0.8M329.4 92.2h0.8M343.4 95.9h0.8M350.7 95.2h0.8M348.9 100.1h0.8M323.9 97.4h0.8M338.3 95.3h0.8M343.2 89.2h0.8M334.7 95.1h0.8M340.2 96.3h0.8M338.7 102.1h0.8M339.7 101.8h0.8M335.8 95.6h0.8M350.1 88h0.8M334.2 95h0.8M350.3 98.9h0.8M345.8 97.6h0.8M332.8 91.6h0.8M352.5 91.1h0.8M339.7 86.3h0.8M340.1 86.8h0.8M344.3 99.3h0.8M343.9 94h0.8M338.5 95.6h0.8M333.1 91.4h0.8M357.9 88h0.8M337.3 87.6h0.8M350.9 92.3h0.8M331.9 88.2h0.8M349.9 96h0.8M347.6 93h0.8M348.3 98.6h0.8M346.5 86.8h0.8M326.5 87.3h0.8M343.5 87.2h0.8M333.2 93.4h0.8M334.7 88h0.8M348.7 95.2h0.8M347.4 97h0.8M352.3 93h0.8M339.9 86h0.8M339.5 90.7h0.8M349.2 95.9h0.8M352.5 97.6h0.8M350.3 95.3h0.8M342.3 91.6h0.8M341.1 89.3h0.8M344.2 92.8h0.8M325.8 82.1h0.8M335.7 91.2h0.8M338.9 98.4h0.8M336.4 87.9h0.8M344.1 97.2h0.8M353.7 89h0.8M339.2 91.4h0.8M352.6 95.9h0.8M341.3 96h0.8M338.4 92.3h0.8M340.9 91h0.8M339.2 94.5h0.8M342.9 99.1h0.8M347.6 92.8h0.8M324.5 87h0.8M337.3 91.5h0.8M331.1 91.5h0.8M341.9 90.5h0.8M339.9 92.6h0.8M335.7 89.5h0.8M340 94.1h0.8M333.1 84.7h0.8M333.7 95.1h0.8M328.8 96.8h0.8M336.5 93.5h0.8M335.1 95.3h0.8M341.3 94.5h0.8M326.2 95.9h0.8M328.2 91.6h0.8M344.8 92.2h0.8M344.7 93.6h0.8M341.6 89.7h0.8M348.5 97.5h0.8M336.9 89.3h0.8M342.4 89.9h0.8M341.9 96.3h0.8M345.9 98.9h0.8M344.4 88.8h0.8M334.5 95.1h0.8M355.2 91.5h0.8M334 98.6h0.8M339.9 95.7h0.8M349 89h0.8M338.2 90.7h0.8M344.8 95.6h0.8M337.2 95.2h0.8M327.5 94.4h0.8M343.4 93h0.8M330 92.5h0.8M332.8 98.8h0.8M338.7 92.1h0.8M340 95.1h0.8M341.4 95.1h0.8M333.9 97.4h0.8M337.2 96h0.8M342.6 97.2h0.8M340.3 87h0.8M332.3 92h0.8M351.2 91.3h0.8M341.3 97.9h0.8M304.4 110.4h0.8M334.4 100.5h0.8M302 89.9h0.8M318.9 110.6h0.8M368.6 94.8h0.8M292.1 99.6h0.8M327.7 112.4h0.8M317.3 127.7h0.8M307.5 97.9h0.8M310.9 130.2h0.8M328.4 102h0.8M294.5 103.5h0.8" stroke="#000" stroke-width="0.8" stroke-opacity="0.38"/>
</g>
<rect x="290.5" y="50.8" width="79.3" height="80.9" stroke="#222" stroke-width="1.25" fill="none"/>
<ellipse cx="341.1" cy="93.1" rx="17.6" ry="8.5" stroke="#111" stroke-width="1.2" fill="none"/>
<text x="342.4" y="82.1" font-size="10" text-anchor="middle" stroke="#000" stroke-width="0.2">1.42</text>
<text x="25.2" y="115.1" font-size="10.6" text-anchor="middle" transform="rotate(-90 25.2 115.1)" stroke="#000" stroke-width="0.2">CD11c</text>
<line x1="21.6" y1="94" x2="21.6" y2="77.2" stroke="#000" stroke-width="1.7"/>
<path d="M21.6 69.2L18.4 79.2L24.8 79.2Z" fill="#000"/>
<text x="33.6" y="144.6" font-size="10.4" stroke="#000" stroke-width="0.2">I-A</text>
<text x="46.3" y="141.8" font-size="10" stroke="#000" stroke-width="0.2">b</text>
<line x1="52.7" y1="140.6" x2="72.2" y2="140.6" stroke="#000" stroke-width="1.5"/>
<path d="M79.2 140.6L70.4 137.5L70.4 143.7Z" fill="#000"/>
<text x="388.5" y="16.1" font-size="19.5" font-weight="bold" stroke="#000" stroke-width="0.2">B</text>
<rect x="426.3" y="33.4" width="81.6" height="128.4" stroke="#000" stroke-width="1.8" fill="none"/>
<line x1="421.8" y1="33.4" x2="426.3" y2="33.4" stroke="#000" stroke-width="1.6"/>
<text x="420.6" y="37" font-size="10" text-anchor="end" stroke="#000" stroke-width="0.2">10</text>
<line x1="421.8" y1="59.1" x2="426.3" y2="59.1" stroke="#000" stroke-width="1.6"/>
<text x="420.6" y="62.7" font-size="10" text-anchor="end" stroke="#000" stroke-width="0.2">8</text>
<line x1="421.8" y1="84.8" x2="426.3" y2="84.8" stroke="#000" stroke-width="1.6"/>
<text x="420.6" y="88.4" font-size="10" text-anchor="end" stroke="#000" stroke-width="0.2">6</text>
<line x1="421.8" y1="110.5" x2="426.3" y2="110.5" stroke="#000" stroke-width="1.6"/>
<text x="420.6" y="114.1" font-size="10" text-anchor="end" stroke="#000" stroke-width="0.2">4</text>
<line x1="421.8" y1="136.1" x2="426.3" y2="136.1" stroke="#000" stroke-width="1.6"/>
<text x="420.6" y="139.7" font-size="10" text-anchor="end" stroke="#000" stroke-width="0.2">2</text>
<line x1="421.8" y1="161.8" x2="426.3" y2="161.8" stroke="#000" stroke-width="1.6"/>
<text x="420.6" y="165.4" font-size="10" text-anchor="end" stroke="#000" stroke-width="0.2">2</text>
<line x1="436.2" y1="161.8" x2="436.2" y2="165.6" stroke="#000" stroke-width="1.6"/>
<text x="436.2" y="176.2" font-size="10" text-anchor="middle" stroke="#000" stroke-width="0.2">0</text>
<line x1="456.7" y1="161.8" x2="456.7" y2="165.6" stroke="#000" stroke-width="1.6"/>
<text x="456.7" y="176.2" font-size="10" text-anchor="middle" stroke="#000" stroke-width="0.2">1</text>
<line x1="477.2" y1="161.8" x2="477.2" y2="165.6" stroke="#000" stroke-width="1.6"/>
<text x="477.2" y="176.2" font-size="10" text-anchor="middle" stroke="#000" stroke-width="0.2">5</text>
<line x1="497.8" y1="161.8" x2="497.8" y2="165.6" stroke="#000" stroke-width="1.6"/>
<text x="497.8" y="176.2" font-size="10" text-anchor="middle" stroke="#000" stroke-width="0.2">11</text>
<text x="466.5" y="188.7" font-size="12" text-anchor="middle" stroke="#000" stroke-width="0.2">DT treatment [days]</text>
<text x="402" y="98.2" font-size="11.9" text-anchor="middle" transform="rotate(-90 402 98.2)" stroke="#000" stroke-width="0.2">Dividing cDCs [%]</text>
<circle cx="436.2" cy="59.2" r="2.6" stroke="#000" stroke-width="1.65" fill="none"/>
<circle cx="432.4" cy="68.2" r="2.6" stroke="#000" stroke-width="1.65" fill="none"/>
<circle cx="440" cy="70.9" r="2.6" stroke="#000" stroke-width="1.65" fill="none"/>
<circle cx="435.6" cy="71.8" r="2.6" stroke="#000" stroke-width="1.65" fill="none"/>
<circle cx="436.2" cy="91.7" r="2.6" stroke="#000" stroke-width="1.65" fill="none"/>
<circle cx="440" cy="97.7" r="2.6" stroke="#000" stroke-width="1.65" fill="none"/>
<circle cx="436.2" cy="104.3" r="2.6" stroke="#000" stroke-width="1.65" fill="none"/>
<line x1="436.2" y1="73" x2="436.2" y2="87" stroke="#000" stroke-width="1.9"/>
<line x1="429.6" y1="80.8" x2="442.8" y2="80.8" stroke="#000" stroke-width="1.9"/>
<line x1="432.6" y1="73" x2="439.8" y2="73" stroke="#000" stroke-width="1.9"/>
<line x1="432.6" y1="87" x2="439.8" y2="87" stroke="#000" stroke-width="1.9"/>
<circle cx="456.6" cy="42.6" r="2.6" stroke="#000" stroke-width="1.65" fill="none"/>
<circle cx="456.6" cy="60.2" r="2.6" stroke="#000" stroke-width="1.65" fill="none"/>
<circle cx="456.6" cy="91.8" r="2.6" stroke="#000" stroke-width="1.65" fill="none"/>
<circle cx="456.6" cy="108.1" r="2.6" stroke="#000" stroke-width="1.65" fill="none"/>
<line x1="456.6" y1="60.2" x2="456.6" y2="91.8" stroke="#000" stroke-width="1.9"/>
<line x1="450" y1="75.8" x2="463.2" y2="75.8" stroke="#000" stroke-width="1.9"/>
<line x1="452.4" y1="60.2" x2="460.8" y2="60.2" stroke="#000" stroke-width="1.9"/>
<line x1="452.4" y1="91.8" x2="460.8" y2="91.8" stroke="#000" stroke-width="1.9"/>
<circle cx="481" cy="64.3" r="2.6" stroke="#000" stroke-width="1.65" fill="none"/>
<circle cx="477.1" cy="66.7" r="2.6" stroke="#000" stroke-width="1.65" fill="none"/>
<circle cx="473.2" cy="71.4" r="2.6" stroke="#000" stroke-width="1.65" fill="none"/>
<circle cx="475.8" cy="79.5" r="2.6" stroke="#000" stroke-width="1.65" fill="none"/>
<circle cx="478.6" cy="79.5" r="2.6" stroke="#000" stroke-width="1.65" fill="none"/>
<circle cx="477.1" cy="97.8" r="2.6" stroke="#000" stroke-width="1.65" fill="none"/>
<line x1="477.1" y1="70.6" x2="477.1" y2="82.3" stroke="#000" stroke-width="1.9"/>
<line x1="470.5" y1="76.2" x2="483.7" y2="76.2" stroke="#000" stroke-width="1.9"/>
<line x1="473.5" y1="70.6" x2="480.7" y2="70.6" stroke="#000" stroke-width="1.9"/>
<line x1="473.5" y1="82.3" x2="480.7" y2="82.3" stroke="#000" stroke-width="1.9"/>
<circle cx="497.7" cy="65.4" r="2.6" stroke="#000" stroke-width="1.65" fill="none"/>
<circle cx="493.6" cy="84.9" r="2.6" stroke="#000" stroke-width="1.65" fill="none"/>
<circle cx="497.9" cy="85.3" r="2.6" stroke="#000" stroke-width="1.65" fill="none"/>
<circle cx="497.7" cy="101.7" r="2.6" stroke="#000" stroke-width="1.65" fill="none"/>
<line x1="497.7" y1="77.1" x2="497.7" y2="91.8" stroke="#000" stroke-width="1.9"/>
<line x1="491.1" y1="84.4" x2="504.3" y2="84.4" stroke="#000" stroke-width="1.9"/>
<line x1="494.1" y1="77.1" x2="501.3" y2="77.1" stroke="#000" stroke-width="1.9"/>
<line x1="494.1" y1="91.8" x2="501.3" y2="91.8" stroke="#000" stroke-width="1.9"/>
<text x="1.8" y="185.2" font-size="19.5" font-weight="bold" stroke="#000" stroke-width="0.2">C</text>
<text x="148.2" y="184.7" font-size="10.5" text-anchor="middle" stroke="#000" stroke-width="0.2" textLength="53" lengthAdjust="spacingAndGlyphs">Lin<tspan font-size="7" font-weight="bold" dy="-4">−</tspan><tspan dy="4"> B220</tspan><tspan font-size="7" font-weight="bold" dy="-4">−</tspan></text>
<g clip-path="url(#c5)">
<ellipse cx="132" cy="243" rx="17" ry="17" fill="#000" fill-opacity="0.35" filter="url(#b3)"/>
<ellipse cx="131" cy="245.5" rx="13" ry="12.5" fill="#000" fill-opacity="0.95" filter="url(#b2_4)"/>
<path d="M128 251.3h0.7M141 253.4h0.7M135.3 249.8h0.7M120.6 254.6h0.7M125.9 236.7h0.7M127.5 237.6h0.7M134.1 251h0.7M141.5 244.9h0.7M125.6 241.8h0.7M120.8 237.4h0.7M147.5 239.8h0.7M126.8 249.5h0.7M132.8 251.3h0.7M123.3 234.9h0.7M141.8 240h0.7M129.8 246.3h0.7M115 241.4h0.7M125.2 248.5h0.7M128 225.4h0.7M137.3 223.8h0.7M127.2 238.4h0.7M125.5 244h0.7M138.7 238.1h0.7M125.5 250.3h0.7M134.9 251.1h0.7M133.5 242.8h0.7M126.5 240.2h0.7M138.3 258h0.7M147.4 237.5h0.7M128.6 244.5h0.7M129.3 235h0.7M149.1 259.2h0.7M129.3 240.7h0.7M130.6 234.4h0.7M127.8 250.9h0.7M144.7 253.5h0.7M141.7 236.8h0.7M132.2 244.1h0.7M144.9 237.9h0.7M122.6 237.6h0.7M144.4 254h0.7M115.5 257.1h0.7M130.8 248.3h0.7M124.1 259.9h0.7M134.4 256.2h0.7M122.2 249.7h0.7M131.4 242.8h0.7M123.7 238h0.7M120.7 238h0.7M130.5 249.6h0.7M117.4 234.5h0.7M125.4 230.2h0.7M128.2 242.1h0.7M129 248h0.7M138.7 252.2h0.7M133 249.9h0.7M123.9 235.9h0.7M136.2 250h0.7M149.4 244.6h0.7M122.2 246.3h0.7M126.8 236.7h0.7M142.3 262.2h0.7M133.8 239.4h0.7M132.9 244.4h0.7M118.8 250.6h0.7M133.6 255.6h0.7M125.9 244h0.7M129.7 229.9h0.7M152.2 229h0.7M120.9 240.7h0.7M117.3 246.9h0.7M126.7 244.9h0.7M132.7 245.5h0.7M131.6 243.5h0.7M134.4 252h0.7M128.6 240.7h0.7M127.3 247h0.7M127.6 241.2h0.7M117.8 260h0.7M120.2 258.1h0.7M137.7 254.3h0.7M133.1 249.3h0.7M133.4 250.2h0.7M138.1 258.7h0.7M122.3 248.2h0.7M144.8 258.3h0.7M122.1 246.7h0.7M133.4 247.3h0.7M111.5 250.5h0.7M117.1 262.4h0.7M136.7 244.7h0.7M136.5 246.8h0.7M126.4 243.8h0.7M134.1 238.4h0.7M137.2 255.3h0.7M140.4 256.2h0.7M142.4 252.3h0.7M142.5 246.8h0.7M134.7 257.8h0.7M148 243.8h0.7M118.5 262.5h0.7M141.2 262h0.7M139 248h0.7M125.6 236.3h0.7M143.8 255h0.7M133.9 235.8h0.7M126.6 239.4h0.7M128.5 219.9h0.7M133.2 259h0.7M126.4 245h0.7M133.6 236.8h0.7M134.9 238.5h0.7M127.3 247h0.7M130.7 246h0.7M123.1 250.7h0.7M121.7 251.6h0.7M127 234.4h0.7M130.4 235.9h0.7M126.5 243.4h0.7M138 252.8h0.7M135.4 243.2h0.7M117.8 241.9h0.7M128.4 243.8h0.7M126.6 240.2h0.7M138.3 234.3h0.7M131.3 256.2h0.7M124.4 235.9h0.7M129.2 242h0.7M133.5 257.3h0.7M130.1 250h0.7M126.1 240.4h0.7M133.8 239.6h0.7M141.7 242.7h0.7M129.8 235.9h0.7M127.4 236.1h0.7M126.9 229.2h0.7M131.1 260.5h0.7M114.7 258.8h0.7M130.1 252.8h0.7M122.3 262.1h0.7M121.7 243.6h0.7M144.9 235.3h0.7M110.6 242.5h0.7M124.4 235.9h0.7M123.1 231.5h0.7M143.5 257.1h0.7M119.1 243h0.7M127.1 254.4h0.7M123.7 258.7h0.7M131.2 238.2h0.7M130.3 239.9h0.7M151.2 248.4h0.7M126.8 245.5h0.7M144.2 237.9h0.7M116.1 255.2h0.7M136.6 241.7h0.7M130.4 254.8h0.7M129.5 250.9h0.7M125.6 254.3h0.7M107.8 243.1h0.7M138.1 232h0.7M112.9 244.1h0.7M140.1 256.5h0.7M124.9 247.5h0.7M118.4 259.4h0.7M125.9 255.9h0.7M128.6 241.9h0.7M145.6 238.7h0.7M142.6 243h0.7M123.2 236.8h0.7M141.2 245.3h0.7M127.9 231.2h0.7M141.6 255.5h0.7M133.9 252.3h0.7M132.5 246.1h0.7M125.9 246.6h0.7M124.4 238.5h0.7M119.8 245.1h0.7M124.5 239.9h0.7M143.5 245.9h0.7M130.7 231.2h0.7M126.3 253.3h0.7M136 246h0.7M129.4 245.4h0.7M134.6 242.4h0.7M108.6 260.4h0.7M141.2 244.6h0.7M143.7 234.6h0.7M142.6 247.9h0.7M139 242.7h0.7M132.4 250.4h0.7M140.4 250.5h0.7M135 240.1h0.7M146.4 248.4h0.7M129 241.9h0.7M120.2 237.3h0.7M117.3 245.4h0.7M130.3 246.9h0.7M119.7 240.1h0.7M125.2 253.3h0.7M117.6 230h0.7M142.5 249.4h0.7M116.9 255.7h0.7M144.4 256.6h0.7M112.4 244.2h0.7M123.2 241.8h0.7M116.8 259.1h0.7M124.8 246.8h0.7M138.2 251.2h0.7M134.7 241.9h0.7M133 243.2h0.7M110.5 251.9h0.7M125.3 239.7h0.7M127.3 232.2h0.7M120.1 227.7h0.7M135.2 256h0.7M131.6 234.8h0.7M142.7 243.3h0.7M116.6 226.7h0.7M132.6 258.1h0.7M127.5 238.9h0.7M128.5 237.1h0.7M126 246.7h0.7M124.4 252.6h0.7M122.2 250.4h0.7M134.1 241.8h0.7M128.3 241.8h0.7M146.1 239.2h0.7M141.6 255h0.7M127.9 259.1h0.7M109.5 245h0.7M132.1 245.2h0.7M138.5 242.1h0.7M129.3 255.1h0.7M129.9 235.6h0.7M136.1 244.7h0.7M125.9 249.4h0.7M124 235.5h0.7M128.6 243h0.7M131.4 234.2h0.7M146.4 252.5h0.7M132.2 247.1h0.7M108.4 251h0.7M121.7 248.5h0.7M120.2 252.7h0.7M126.1 242.5h0.7M144.7 255.2h0.7M118.6 237.4h0.7M132.7 243h0.7M138.2 239.5h0.7M114 235.1h0.7M129.3 249.7h0.7M137.6 256.8h0.7M133.1 243.3h0.7M137.5 244.7h0.7M126.7 240.3h0.7M139.3 259.1h0.7M142.8 231.8h0.7M140.8 235.9h0.7M127.9 249.9h0.7M118.9 232.7h0.7M124.2 259.4h0.7M140.6 237.9h0.7M132.2 246.3h0.7M133.8 238.9h0.7M143.9 242.8h0.7M138.3 230.6h0.7M134.5 246.6h0.7M143.2 222.9h0.7M135.9 252.7h0.7M128.6 256.5h0.7M149.9 254.7h0.7M138.2 257.8h0.7M134.9 256.3h0.7M136.4 239.4h0.7M121.5 254.5h0.7M136.3 239.5h0.7M131.2 258.1h0.7M115.5 235.3h0.7M137.2 253h0.7M120.4 235h0.7M132.5 257.7h0.7M131.1 224.2h0.7M140.2 245.7h0.7M126.8 234.1h0.7M141.7 248.4h0.7M134.6 248.5h0.7M134.9 252.9h0.7M146.4 237h0.7M130.3 240.8h0.7M146.1 243.9h0.7M116.5 243.3h0.7M124.4 237.7h0.7M126.9 232.8h0.7M113.5 260.7h0.7M129.8 236.5h0.7M136.6 257.5h0.7M115.2 239.4h0.7M133.5 237.6h0.7M135 234.3h0.7M125 243.3h0.7M134.8 245.7h0.7M124.8 241h0.7M111.9 262.2h0.7M127.3 241.9h0.7M133.3 250.3h0.7M134 239.2h0.7M116 241.9h0.7M123.7 239.3h0.7M130.9 247.1h0.7M142.6 244.8h0.7M115.4 248.6h0.7M139.3 231h0.7M136.4 247.1h0.7M126 246h0.7M134.4 250.6h0.7M141.3 245.8h0.7M121.3 241.5h0.7M127.7 251.5h0.7M140.9 234.1h0.7M142 235.4h0.7M154.4 241.3h0.7M140.9 243.5h0.7M137.3 238.8h0.7M132.1 245.2h0.7M131.8 252.1h0.7M127 241.6h0.7M119.1 242.5h0.7M126.5 252.4h0.7M137 239h0.7M134.9 257.1h0.7M129 234.2h0.7M153.1 252.1h0.7M123.7 247h0.7M113.9 247.6h0.7M134.5 238.3h0.7M123.3 242.6h0.7M128.9 258.9h0.7M128.7 243.3h0.7M129.4 230.4h0.7M126.5 232.4h0.7M132.1 225.4h0.7M120.8 246.2h0.7M112 229.1h0.7M139.9 233.9h0.7M130.8 247.7h0.7M121.4 228.8h0.7M144.7 241.3h0.7M135.6 238.6h0.7M134.2 233.5h0.7M118.5 234.3h0.7M125.3 238.7h0.7M127.9 248.5h0.7M126.1 252.8h0.7M124.9 250.3h0.7M142.7 261.7h0.7M113 258.6h0.7M115 256h0.7M130.8 248.1h0.7M122.4 252.5h0.7M137.1 240.6h0.7M125.4 252.1h0.7M140.2 252.7h0.7M127.5 244.6h0.7M139.4 253.3h0.7M141.1 247.2h0.7M124.6 246.9h0.7M135 240.6h0.7M135 237.8h0.7M133.3 239.8h0.7M150 257.5h0.7M133.3 233.4h0.7M119.9 250.1h0.7M129.6 247.6h0.7M116.8 230h0.7M132 243.2h0.7M118.9 236.6h0.7M138 241.7h0.7M136.1 260.3h0.7M134 246.4h0.7M125.6 255.3h0.7M117.9 233.8h0.7M130.8 231.7h0.7M139.8 240.2h0.7M135.7 242.6h0.7M128.7 244.8h0.7M113.3 233.4h0.7M138.3 252.1h0.7M121.6 252h0.7M142.1 252.8h0.7M154.6 235.2h0.7M121.2 241.6h0.7M122.2 244.5h0.7M135.6 245.3h0.7M131.8 248.6h0.7M137.9 239.7h0.7M124.9 255h0.7M127.9 237.2h0.7M133.5 242h0.7M132 244.4h0.7M136.6 253.7h0.7M123.4 233.3h0.7M145.3 240.2h0.7M116.9 226.5h0.7M130.6 239.1h0.7M114.4 234.8h0.7M121.4 252.8h0.7M133 245h0.7M119.4 242.1h0.7M136.8 246.9h0.7M140.4 246.5h0.7M137.1 249.6h0.7M125.8 256.3h0.7M134.1 252.6h0.7M121.3 234.2h0.7M129.2 237.5h0.7M136.4 249.1h0.7M141.9 251.2h0.7M120.7 252.3h0.7M125 237.7h0.7M131.4 244.8h0.7M134.7 258.2h0.7M129 247.7h0.7M126.2 240.6h0.7M142.9 250.1h0.7M134.9 238.1h0.7M146.2 244.8h0.7M125 244.1h0.7M136.9 252.2h0.7M144.1 236.7h0.7M127 258.4h0.7M151.3 241.3h0.7M130 231h0.7M123.5 236.2h0.7M129.9 234.1h0.7M139.2 245.2h0.7M128.6 252.9h0.7M128.5 233.5h0.7M131.8 249.6h0.7M129.1 242.7h0.7M135.4 221.7h0.7M119.7 238.4h0.7M128.5 257.6h0.7M152.9 252.7h0.7M134.5 251.3h0.7M144.4 237.4h0.7M126.5 245.8h0.7M133.6 228.2h0.7M134.7 231.1h0.7M137.8 253.1h0.7M110.6 247.3h0.7M132.6 239.5h0.7M135.3 235.5h0.7M117.9 233.1h0.7M121.7 254h0.7M133.5 244.9h0.7M138.7 245.8h0.7M131.2 237.4h0.7M125.3 244.6h0.7M120.4 258.6h0.7M132 240.1h0.7M139.6 236.3h0.7M140.4 246.6h0.7M147.7 241.6h0.7M127.3 237h0.7M119.7 246h0.7M121.4 246.7h0.7M125.1 253.7h0.7M108 246.3h0.7M131.3 244.9h0.7M125.2 259.9h0.7M127.2 248.3h0.7M128.5 241.4h0.7M131.6 250.9h0.7M120.8 239.6h0.7M118.2 247.1h0.7M123.2 237.4h0.7M136.7 245.3h0.7M134.5 243.9h0.7M134.5 245.9h0.7M120.8 245.7h0.7M127.7 242.4h0.7M133.3 240.1h0.7M121.3 254.4h0.7M147.3 243.4h0.7M141.1 249.3h0.7M125.1 236.8h0.7M128.3 240.7h0.7M127.8 243.4h0.7M120.7 251.5h0.7M120.7 234.2h0.7M139.1 252.4h0.7M143.9 247.3h0.7M125 254.5h0.7M130 243.6h0.7M123.2 247.6h0.7M109.6 247.4h0.7M112.8 250.8h0.7M116.8 249.5h0.7M153 244.5h0.7M120.3 261.1h0.7M126.9 234.4h0.7M142.1 220.5h0.7M117.5 231.7h0.7M124.6 226.1h0.7M138.2 254.7h0.7M130.3 241h0.7M116.8 247.6h0.7M124.5 249.7h0.7M140 246.1h0.7M111.8 234.5h0.7M143.1 248.5h0.7M143.6 226.1h0.7M129.8 243.1h0.7M116.2 237.6h0.7M139.6 250.5h0.7M126 247.3h0.7M141.6 236.2h0.7M133.5 254.4h0.7M124.6 255.9h0.7M130 254.7h0.7M139.2 248h0.7M128.2 238.7h0.7M132.4 246.9h0.7M143.5 245.3h0.7M134 260.3h0.7M133.8 249.2h0.7M145.3 247.1h0.7M134.5 252h0.7M129.8 234.8h0.7M117.7 241.7h0.7M141 254.8h0.7M145.5 254.4h0.7M125 231.2h0.7M126.2 242h0.7M124.2 252.4h0.7M123.7 249.3h0.7M137.9 230h0.7M127.1 255.7h0.7M138.5 246.7h0.7M120.9 237.6h0.7M131.6 256.2h0.7M135.3 244.5h0.7M133 252h0.7M115.1 234.4h0.7M131.1 255.7h0.7M140.6 238.8h0.7M131.1 238.2h0.7M127.3 245.8h0.7M127.6 239.5h0.7M120.4 229.6h0.7M129.1 246.4h0.7M136.4 238.1h0.7M124.3 255.5h0.7M134.6 253.1h0.7M125.7 237.9h0.7M120.5 252.6h0.7M120.6 228.3h0.7M124.1 255.4h0.7M131.1 246.9h0.7M131.9 244.5h0.7M129.3 232.1h0.7M145.8 244.9h0.7M141.7 231.9h0.7M135.7 234.7h0.7M119.2 246h0.7M140.1 257.9h0.7M142.8 243.6h0.7M137.9 240.2h0.7M126 246.5h0.7M129.8 252.3h0.7M114.4 253.3h0.7M125.6 257.5h0.7M141.1 235.6h0.7M130.4 250.8h0.7M123.7 237.5h0.7M128.1 251.2h0.7M139 241.9h0.7M138.3 258.7h0.7M139.1 239.1h0.7M123.3 246.6h0.7M138.2 249.4h0.7M127.4 236.2h0.7M142.2 244.7h0.7M147.6 236.3h0.7M127.9 238.9h0.7M147.4 257.5h0.7M126.5 227.3h0.7M141.2 247.1h0.7M120.8 230.5h0.7M134.5 243.4h0.7M132.2 248.6h0.7M127.6 242.2h0.7M136.8 244.5h0.7M128.4 250.4h0.7M113.2 254.2h0.7M134.9 238.5h0.7M129.4 255.7h0.7M135.9 229.6h0.7M121.9 245.7h0.7M146.9 253.3h0.7M129.2 249.9h0.7M131.1 242.3h0.7M134.4 226.3h0.7M140 250.7h0.7M127.1 237h0.7M120.2 246.3h0.7M132.3 246.7h0.7M146.3 227h0.7M124.6 237.5h0.7M139.5 243.6h0.7M122.6 246h0.7M134.6 259.7h0.7M133.3 241.3h0.7M126.5 237.3h0.7M135.4 252.7h0.7M129 243.6h0.7M143.3 247.1h0.7M135.5 235.8h0.7M125.6 225.5h0.7M118.8 247.1h0.7M142.1 243.7h0.7M120.4 244.8h0.7M141.2 244.6h0.7M139.2 245.3h0.7M120 235.9h0.7M136.2 243.4h0.7M133.6 247.2h0.7M127.1 243.7h0.7M128.7 251.4h0.7M144.9 258.2h0.7M128.2 249.6h0.7M124.5 234.7h0.7M131.7 250.5h0.7M130.5 252.3h0.7M138.4 252.5h0.7M129.6 232.8h0.7M147.1 242.4h0.7M137.6 250h0.7M127.9 260.9h0.7M137 245.5h0.7M127.3 236.1h0.7M119.7 249h0.7M127.1 240.6h0.7M135.5 242.4h0.7M136.8 239.9h0.7M126.4 252.7h0.7M125 249.8h0.7M135.5 245.5h0.7M116.3 231.9h0.7M121.3 232.6h0.7M138.7 238.1h0.7M120 239.4h0.7M130.1 230.2h0.7M136.4 251.9h0.7M125.7 251.6h0.7M117.2 238.7h0.7M129.5 245.5h0.7M141.2 243.1h0.7M122 246h0.7M132.4 249.1h0.7M128 246.2h0.7M125.9 249.5h0.7M125.1 238.9h0.7M141.3 239.3h0.7M131 250h0.7M128.2 252.7h0.7M125.8 253.5h0.7M117.2 231.7h0.7M131.6 257.6h0.7M145.3 238.8h0.7M130.7 240.6h0.7M112 249.5h0.7M127.7 256.7h0.7M133.4 240.5h0.7M124.9 242.7h0.7M135 241.1h0.7M155.8 249.3h0.7M120.9 244.7h0.7M141.1 249.8h0.7M128 238.8h0.7M124 233.8h0.7M126.4 246.8h0.7M126 258.8h0.7M134.3 241.4h0.7M130.7 257.9h0.7M115.9 245.6h0.7M154.7 256.2h0.7M123 245.3h0.7M125 242h0.7M128.1 232.1h0.7M135.5 241.6h0.7M135.4 252h0.7M137.2 230.6h0.7M144.3 253.9h0.7M138.1 245.8h0.7M131 240.2h0.7M134.7 253.5h0.7M125.9 251.7h0.7M126.9 249.8h0.7M129.7 252.4h0.7M148.1 248.7h0.7M126.6 240.8h0.7M136.5 241.2h0.7M139.7 248.5h0.7M139 240.9h0.7M122.5 237.6h0.7M134.5 238.4h0.7M137.2 227.5h0.7M125.1 243h0.7M114.8 238h0.7M117.7 243.1h0.7M128.9 251.3h0.7M123.6 229.9h0.7M126.2 245.7h0.7M131.9 246.6h0.7M141.8 243h0.7M129.1 237.4h0.7M125.8 253.7h0.7M134.2 222.3h0.7M141.7 228.5h0.7M127.4 253.3h0.7M132.2 250.1h0.7M138.7 248.5h0.7M119.9 247.2h0.7M124.9 223.1h0.7M128.5 249.6h0.7M132.1 245.2h0.7M146.5 249h0.7M139.2 248.8h0.7M145.7 243.3h0.7M141.5 262.2h0.7M127.8 254h0.7M119.1 246.7h0.7M137.6 238.4h0.7M115.2 244h0.7M128.2 246.5h0.7M133.7 252.8h0.7M145 250.4h0.7M117.6 249.7h0.7M134.6 246.8h0.7M145.2 248.9h0.7M128 249h0.7M117 252.2h0.7M131.7 260.2h0.7M137.3 249.2h0.7M132.9 235h0.7M130.5 247.8h0.7M140 250h0.7M137.4 252h0.7M126.6 247.5h0.7M129.4 234.1h0.7M117.9 251.3h0.7M144 259.1h0.7M123.8 257.8h0.7M145.1 240h0.7M135.6 260.9h0.7M132.1 255.9h0.7M125.8 241.8h0.7M139.1 244.7h0.7M132.5 246.3h0.7M122.3 257.6h0.7M130.1 242.4h0.7M127.4 245.6h0.7M123.1 252.2h0.7M128.3 252.1h0.7M123.6 235.6h0.7M123.2 246.6h0.7M119.6 251.6h0.7M128.4 253h0.7M127.9 252.2h0.7M122.2 234.7h0.7M136.6 241h0.7M140.7 240.1h0.7M135.8 238.5h0.7M115.9 256.4h0.7M129.4 253.7h0.7M132.8 230.3h0.7M134.8 255.2h0.7M142.7 260.9h0.7M134.7 244.7h0.7M131.9 235.1h0.7M137.8 252.3h0.7M134.3 238.7h0.7M137 241h0.7M142.3 241h0.7M126.5 242h0.7M122.1 236.4h0.7M128.7 223.2h0.7M149 250.3h0.7M133.8 237.7h0.7M132.9 245.3h0.7M132 232.2h0.7M130.1 228.4h0.7M129.4 237.1h0.7M125.7 241.7h0.7M138.6 256.7h0.7M131.4 235.6h0.7M144.4 234h0.7M126.2 242.7h0.7M124.5 256.3h0.7M134.7 255h0.7M128.5 252.5h0.7M129.7 243.7h0.7M133.8 248.8h0.7M136.2 243.7h0.7M117.7 240.9h0.7M123.8 251.6h0.7M128 230.6h0.7M134.8 249.7h0.7M123.6 246.9h0.7M132.4 239.1h0.7M133.6 256.5h0.7M123.4 248.3h0.7M140 251.7h0.7M116.7 246.1h0.7M127.6 255.5h0.7M129.9 262.3h0.7M120 248.4h0.7M123.2 260h0.7M145 238.2h0.7M137.7 245.3h0.7M116.5 234.3h0.7M131.9 249.7h0.7M127.7 247.3h0.7M133.8 247.8h0.7M120.4 245.2h0.7M135.8 232.2h0.7M144.8 259.3h0.7M123.8 235.9h0.7M125.5 238.1h0.7M147.5 247.1h0.7M130.5 248.2h0.7M145.2 247.9h0.7M127.7 247.1h0.7M142.3 244.4h0.7M143.6 249h0.7M129.5 249.3h0.7M148.7 244.6h0.7M143.3 251.3h0.7M132.4 245.6h0.7M138.4 251.2h0.7M134.4 251.2h0.7M123.4 238.5h0.7M122.1 241.1h0.7M129.2 241.6h0.7M135.8 237.1h0.7M128.9 252.5h0.7M146 247h0.7M141.7 258.3h0.7M122 246.3h0.7M121.7 240.7h0.7M134.7 234.2h0.7M135.8 244.3h0.7M128.9 249.6h0.7M123.7 229.4h0.7M131.3 238.7h0.7M129.3 235.1h0.7M122.7 235.1h0.7M119.7 236.7h0.7M124 244.5h0.7M159 242.3h0.7M116.9 248.7h0.7M120 236h0.7M127.9 245h0.7M131.6 247.1h0.7M129.9 254.6h0.7M138.3 240.9h0.7M129 232.8h0.7M136.7 243.7h0.7M147.7 240.6h0.7M144.3 238.2h0.7M116 235.9h0.7M133.9 254.1h0.7M123.2 252.6h0.7M126.3 239.9h0.7M128.2 259.1h0.7M132.5 247.7h0.7M117.5 245h0.7M133.3 259.4h0.7M123.2 237.9h0.7M122.8 238.3h0.7M136.8 238.4h0.7M142.1 246.2h0.7M122.8 238.3h0.7M118.7 230.9h0.7M141 253.5h0.7M122.2 240h0.7M144.9 239.8h0.7M132.7 249.4h0.7M129 242.9h0.7M127.8 245.5h0.7M117 243.8h0.7M132.3 233.3h0.7M134.7 236.9h0.7M107.6 225.4h0.7M131.6 249.7h0.7M126.9 231.5h0.7M129.3 252.6h0.7M130.3 231.7h0.7M134.8 243.3h0.7M129.1 245h0.7M135.6 244.2h0.7M122.2 242.8h0.7M131.8 255.1h0.7M119.9 242.3h0.7M122.9 246.2h0.7M125.8 217.1h0.7M139 239.6h0.7M121 230.4h0.7M121.2 232.3h0.7M129.3 245.7h0.7M129.9 247.7h0.7M123.3 249.1h0.7M129.7 248.4h0.7M136 241.9h0.7M141.5 252.7h0.7M127 259.6h0.7M145.3 232.6h0.7M110.9 237.2h0.7M134.7 253.2h0.7M136.5 245.1h0.7M139.2 251.7h0.7M126.8 245.9h0.7M140 240h0.7M125.2 236.8h0.7M143.6 251.8h0.7M138.1 242.2h0.7M130.5 255.3h0.7M128.3 254.8h0.7M130.6 244.5h0.7M135.6 252.7h0.7M146.2 243.3h0.7M145.6 239.6h0.7M123.2 224.5h0.7M138.2 258.4h0.7M120.3 240.9h0.7M128.5 231h0.7M131.4 247.5h0.7M126.4 235.4h0.7M132 250.1h0.7M118.4 242.7h0.7M135.7 220.8h0.7M133.6 260.1h0.7M119.6 255.1h0.7M128.2 249.8h0.7M129.4 234.7h0.7M119.1 241.3h0.7M143.4 248.7h0.7M132.4 227.4h0.7M125.4 232.7h0.7M115.1 246.4h0.7M138.2 238.8h0.7M125.1 248h0.7M138.6 236.4h0.7M141.2 254.1h0.7M130.9 235.1h0.7M135.9 251.4h0.7M146.3 241.1h0.7M144.8 243.2h0.7M135.5 244.3h0.7M131.6 257.8h0.7M124.9 251.5h0.7M128.5 244.3h0.7M124.6 246h0.7M113.3 240.8h0.7M139.8 253.1h0.7M116.6 233.6h0.7M127.2 261h0.7M127.1 244.4h0.7M128.7 247.3h0.7M122.9 246.4h0.7M135.1 254.5h0.7M123.1 252.1h0.7M147.9 253.6h0.7M137 224h0.7M142.8 263h0.7M141.7 250.5h0.7M124.6 240.7h0.7M140.7 248.2h0.7M111.8 245h0.7M134 237h0.7M134.3 247.5h0.7M115 247.9h0.7M150.1 262.3h0.7M120.9 232.2h0.7M131.5 247.5h0.7M119 237.2h0.7M143.1 248.3h0.7M140.2 245.6h0.7M140.1 241.2h0.7M126.3 236.1h0.7M113.8 239.7h0.7M118.8 239.6h0.7M132.2 246.6h0.7M134.4 241.8h0.7M130.4 255.1h0.7M129.5 245h0.7M109 232.9h0.7M140.7 238.2h0.7M121.3 252.5h0.7M119.9 252.6h0.7M130 239.2h0.7M112.5 254.8h0.7M114.6 232.3h0.7M137.9 234.5h0.7M135.4 244.9h0.7M128.4 235.1h0.7M124.9 246.7h0.7M122 249.5h0.7M133 249.8h0.7M132.9 250h0.7M134.2 252.5h0.7M134.2 248h0.7M122.6 228.6h0.7M131.3 253.4h0.7M122.5 229.8h0.7M125.9 247.5h0.7M138.5 242.7h0.7M120.3 243.2h0.7M136.9 244.9h0.7M139.9 241.2h0.7M138.6 260.1h0.7M121.9 236.2h0.7M135.3 245h0.7M142.5 245h0.7M116.3 234.8h0.7M142.9 231h0.7M118.1 250.8h0.7M132.1 255.7h0.7M121.3 237.3h0.7M127.7 233.5h0.7M128.7 243.1h0.7M138.6 244.8h0.7M127.2 248.8h0.7M140.7 255.1h0.7M133.3 241.6h0.7M126.6 232.7h0.7M131.4 244.6h0.7M145.6 248.2h0.7M137.5 257.1h0.7M114.1 237.4h0.7M128.7 245.6h0.7M120.6 251.4h0.7M138.9 250.1h0.7M136.9 235.6h0.7M141 240.4h0.7M113.9 244.2h0.7M134.6 239.1h0.7M115.9 233h0.7M129.4 222h0.7M140 254.6h0.7M129.2 254.1h0.7M129.3 234.5h0.7M136.5 250.4h0.7M122.5 231.4h0.7M122 254.3h0.7M124.9 249.6h0.7M133.7 243.1h0.7M138.3 237.9h0.7M130.3 234.2h0.7M111.2 243.4h0.7M120.5 232.1h0.7M136 243.8h0.7M134.3 260.6h0.7M132.4 249h0.7M120.1 251.2h0.7M138.5 236.2h0.7M136.7 248.2h0.7M128.9 245.4h0.7M152.6 241.2h0.7M127.8 245.4h0.7M129.2 228.3h0.7M136.6 253.6h0.7M146.4 241.3h0.7M119.5 249.5h0.7M121.6 243.9h0.7M127.2 246.2h0.7M126.8 250.7h0.7M137.9 239.9h0.7M122.2 242.3h0.7M126.6 237h0.7M143.4 254.8h0.7M121.1 248.9h0.7M131 251.7h0.7M124.9 263.3h0.7M131.6 262.8h0.7M126.6 256.5h0.7M129.9 259.7h0.7M129.2 235.2h0.7M121.2 238.2h0.7M136.3 248.8h0.7M132 254.5h0.7M145.6 237.4h0.7M125.3 239.3h0.7M134.6 247.3h0.7M126.1 243.8h0.7M145.4 254.6h0.7M123.7 228.9h0.7M121 245.5h0.7M123.9 236.7h0.7M137.4 243h0.7M127.5 246.5h0.7M144 249h0.7M137.2 246.3h0.7M144.9 235.4h0.7M120.9 239.4h0.7M149.2 260.6h0.7M121.1 239.9h0.7M135.9 246.1h0.7M138.9 241.4h0.7M116.1 249h0.7M142.2 232.4h0.7M114.1 239.2h0.7M114.2 247.1h0.7M120.6 250.6h0.7M127.9 245.9h0.7M136.9 243.8h0.7M121.9 252.3h0.7M117.8 256.3h0.7M125.5 239.7h0.7M134.6 249.1h0.7M135.6 232.3h0.7M123.1 247.3h0.7M134.3 244.5h0.7M142.6 244.6h0.7M139.5 255.6h0.7M134.1 243.6h0.7M137.7 249.7h0.7M136.6 237.8h0.7M135.2 259.7h0.7M128.5 246h0.7M128.9 252.7h0.7M112.5 257.5h0.7M135.6 243.5h0.7M133.5 255.4h0.7M134.4 251.4h0.7M141.9 247.7h0.7M137.7 258.9h0.7M136.1 240.1h0.7M128.3 248.9h0.7M135 253.4h0.7M127.4 244.6h0.7M148.6 253.1h0.7M125.6 251.6h0.7M131.7 258.9h0.7M116.7 244.6h0.7M139.9 234.8h0.7M124.5 248.7h0.7M131.5 242.5h0.7M133.9 233.1h0.7M123.7 259.8h0.7M125.4 248.5h0.7M130.7 252.8h0.7M134.1 249.1h0.7M141.6 249.1h0.7M116 237.8h0.7M143.9 255.9h0.7M129.1 230.9h0.7M124.8 263h0.7M141.8 257.1h0.7M116.8 231.7h0.7M125.9 232.6h0.7M132.2 235.6h0.7M135.4 243.6h0.7M126.2 250.4h0.7M135.1 246.7h0.7M127.9 244.4h0.7M114 226.1h0.7M125.1 245.8h0.7M146.8 250.2h0.7M122.3 240h0.7M119.9 243.6h0.7M130.3 244.7h0.7M133.5 254.6h0.7M137.2 235.5h0.7M138.6 236.9h0.7M134.5 246.3h0.7M146 245.7h0.7M130.3 242.6h0.7M138.8 248.7h0.7M128.8 252.3h0.7M149.8 261.4h0.7M144.5 241.8h0.7M130.4 246.5h0.7M116.1 258.9h0.7M118.4 247.5h0.7M120.2 245.2h0.7M138.5 250.6h0.7M123.6 238.7h0.7M139.4 245.5h0.7M132.2 253.6h0.7M108.9 245.3h0.7M142.4 262.1h0.7M137.3 239.4h0.7M139.8 262.6h0.7M125.6 238.3h0.7M129.9 241.5h0.7M113.2 222.6h0.7M119.6 238.5h0.7M135.1 241h0.7M132.8 257.4h0.7M157.7 255.6h0.7M122.6 253.1h0.7M131.2 248.3h0.7M139.7 252.9h0.7M119.6 234h0.7M133.6 251.7h0.7M149.8 252.4h0.7M128 240.6h0.7M124.9 233.2h0.7M119.6 239.2h0.7M132 238.5h0.7M131.3 242.7h0.7M129.1 241.1h0.7M133.7 245.6h0.7M107.8 245.2h0.7M132.1 239.9h0.7M132.6 239.2h0.7M132.2 237.6h0.7M137.2 248.8h0.7M118.3 237.7h0.7M137.3 249.3h0.7M132.4 235.3h0.7M125.1 246h0.7M133.7 245.3h0.7M123.8 242.4h0.7M126.8 234.5h0.7M121.4 237h0.7M117.9 247.9h0.7M137.9 253.6h0.7M124.2 237.8h0.7M133.3 241.2h0.7M128.3 242.1h0.7M116.9 254.8h0.7M118.4 230h0.7M138.1 236.2h0.7M140.5 249h0.7M134.2 242h0.7M118.6 233.4h0.7M131.9 244.2h0.7M120.4 234h0.7M123.4 243.7h0.7M134.9 253.3h0.7M127.8 257.2h0.7M137.3 258.5h0.7M123.3 249.3h0.7M140.5 230.5h0.7M139.1 249.4h0.7M139.1 247.3h0.7M141 242.3h0.7M126.5 250.8h0.7M137.3 233.9h0.7M141.5 256.3h0.7M140 239.6h0.7M142 250.6h0.7M139.1 245.4h0.7M127.3 238.5h0.7M125.7 252.3h0.7M124.3 239h0.7M133.9 243h0.7M113.1 237.5h0.7M127.9 258.7h0.7M136.8 236.9h0.7M121.4 240.1h0.7M133 238.4h0.7M134.8 233.2h0.7M133.9 255.6h0.7M107.8 242.4h0.7M133.2 249.1h0.7M131.9 244.5h0.7M133.5 246.2h0.7M131.8 258.7h0.7M139.9 253.9h0.7M125.5 240.2h0.7M140.2 236.8h0.7M139.9 234.2h0.7M149.5 257.6h0.7M126.2 240.5h0.7M113.2 242.8h0.7M141.4 251.3h0.7M128.7 262.5h0.7M135.8 249.1h0.7M128.4 249.8h0.7M153.8 251.2h0.7M116.5 245.4h0.7M147.7 257h0.7M126.5 247.6h0.7M118.2 249.3h0.7M123.4 239.6h0.7M126.1 238.3h0.7M145.8 259.3h0.7M128.5 245.6h0.7M145.7 244h0.7M127.1 237.3h0.7M144.6 247.8h0.7M131.1 241.3h0.7M123.1 252.5h0.7M124.3 239.8h0.7M116.4 234h0.7M126.5 240.3h0.7M117.8 238.3h0.7M129.8 222.1h0.7M136 243h0.7M119.2 241.4h0.7M134.8 245.2h0.7M131.3 245h0.7M136.6 233.7h0.7M125.8 247.7h0.7M131.1 235.7h0.7M128.4 238.6h0.7M131.1 230.5h0.7M116.7 230.9h0.7M139.4 256.3h0.7M130.9 258.6h0.7M133.9 245.7h0.7M140.3 235.2h0.7M111.8 232.6h0.7M143.1 253.8h0.7M132.5 242.9h0.7M129.3 248h0.7M123.3 250.7h0.7M122.3 255.6h0.7M127.9 236.5h0.7M128.3 236.5h0.7M129.6 229h0.7M126.5 245h0.7M134.1 241.7h0.7M141.4 231.1h0.7M128.9 240.4h0.7M130.7 242.5h0.7M142.9 245.9h0.7M131.1 243.4h0.7M138.5 240.3h0.7M128.8 252.1h0.7M120.4 239.8h0.7M139 261.2h0.7M130.1 243.8h0.7M140.3 232.8h0.7M124.7 237.2h0.7M112.8 217.7h0.7M127.2 252.3h0.7M136.6 256.3h0.7M142.4 238.3h0.7M119.4 246.6h0.7M130.9 250.3h0.7M130.7 255.6h0.7M136.9 247.6h0.7M127.5 250.6h0.7M125 252.5h0.7M140.9 254h0.7M119.6 247.5h0.7M134.1 252.7h0.7M117.1 238.2h0.7M130.1 256.9h0.7M125.6 252.1h0.7M132.1 261.8h0.7M133.7 231h0.7M128.4 246.8h0.7M142 251.7h0.7M128.4 233.5h0.7M131.1 243.8h0.7M142.6 254.1h0.7M118.5 223.3h0.7M127.2 246.8h0.7M122.3 239.5h0.7M141.3 252.3h0.7M115.7 246.4h0.7M132.3 243.2h0.7M135.8 250.5h0.7M152.8 249.1h0.7M124.4 239.8h0.7M137.2 262.5h0.7M139.6 249.2h0.7M135.2 237.6h0.7M132.8 228.6h0.7M141.4 248.4h0.7M134.2 232.8h0.7M128.5 236.1h0.7M135.8 239.5h0.7M136.5 253.8h0.7M148 230.9h0.7M127.6 230h0.7M147.8 232.9h0.7M149.1 237h0.7M145 236.6h0.7M129.1 244.4h0.7M133.1 241.2h0.7M140.4 257h0.7M142.9 237.3h0.7M108.4 244.3h0.7M139.9 228.7h0.7M139.4 235.2h0.7M148.1 234h0.7M121.3 235.3h0.7M135 230.8h0.7M160.7 238.6h0.7M154.3 239.6h0.7M127.9 234.6h0.7M122.3 248.1h0.7M147.2 244.2h0.7M120.6 245.5h0.7M121.9 211.5h0.7M133.6 222.5h0.7M123.9 243.6h0.7M126.9 239.9h0.7M151.7 254.2h0.7M151.3 245.5h0.7M124 246.9h0.7M133.7 246.4h0.7M139.6 244.4h0.7M142.3 233h0.7M138.3 230.7h0.7M145.6 254.5h0.7M129.3 237h0.7M131.6 249.4h0.7M112.7 231.1h0.7M143.8 240.4h0.7M115.6 216.8h0.7M126.2 222.3h0.7M133.4 241.9h0.7M155.1 228.1h0.7M139.8 228.8h0.7M118.6 240.3h0.7M131 233.9h0.7M160.9 233.4h0.7M126.9 240.2h0.7M121.8 249.7h0.7M146.7 227.5h0.7M125.4 238.2h0.7M113.8 227.2h0.7M126.8 232h0.7M135.4 252h0.7M133.8 245.8h0.7M119.8 235.4h0.7M136.3 249.1h0.7M130.2 248.7h0.7M128.2 228.8h0.7M135.2 237.5h0.7M109.9 252.1h0.7M136.1 250.8h0.7M125.4 259.6h0.7M137.3 253.7h0.7M123.1 238.8h0.7M147.4 242.1h0.7M131.6 259.6h0.7M145.8 245h0.7M155.3 225.2h0.7M130.5 236h0.7M149.8 260.7h0.7M125.4 244.1h0.7M143.1 248.5h0.7M134.7 254h0.7M155.8 243.9h0.7M117.7 241.3h0.7M131 238.2h0.7M140.2 251h0.7M142.8 248h0.7M134.8 230.8h0.7M127.2 232.7h0.7M135.5 241.2h0.7M131 248.6h0.7M127.9 254.8h0.7M144.5 231.7h0.7M147.8 238.7h0.7M122.5 239h0.7M115.8 246.5h0.7M146.5 225.2h0.7M136.8 249.2h0.7M139.7 249.9h0.7M136.9 237.2h0.7M142.6 246.4h0.7M141.4 246.1h0.7M128.3 242h0.7M139.1 254.4h0.7M107.9 228h0.7M111.3 236.5h0.7M123.2 244.8h0.7M127.7 257.7h0.7M123.9 234.4h0.7M121.3 239.1h0.7M133.5 237h0.7M120 226.9h0.7M133.7 236.2h0.7M119.3 239.4h0.7M151.5 232.3h0.7M125.9 220.1h0.7M142.7 240.7h0.7M113.2 234.7h0.7M125.1 234.9h0.7M149.5 220.4h0.7M125.7 245.2h0.7M137.3 217.5h0.7M133.6 228h0.7M124.2 224.2h0.7M143.9 239h0.7M109.6 252.4h0.7M146.2 229.8h0.7M143 221.9h0.7M115.6 244.1h0.7M114.1 251.1h0.7M149.1 243.2h0.7M137.5 260.8h0.7M137.9 257.5h0.7M149.3 230.6h0.7M158.7 256.2h0.7M133.6 252.1h0.7M135.6 245.4h0.7M119.4 238.2h0.7M127.7 255.2h0.7M137.7 247.5h0.7M130.4 257.3h0.7M143.6 238.2h0.7M139.8 261h0.7M141.8 226.1h0.7M129.1 229.7h0.7M137.7 254.7h0.7M128.9 248.7h0.7M133.5 245.5h0.7M138.9 255h0.7M140.5 242.6h0.7M132.6 248.8h0.7M139.2 238.7h0.7M124.8 240.3h0.7M137.7 237.9h0.7M118.6 239.2h0.7M125.9 249.9h0.7M125.6 238.3h0.7M155.1 248.1h0.7M120.6 256.7h0.7M127.5 233.8h0.7M140 226.9h0.7M131.2 249.4h0.7M141.2 237h0.7M125.9 242.1h0.7M147 222.6h0.7M142.1 246.4h0.7M148.9 230.3h0.7M146.3 233.2h0.7M135.7 238.6h0.7M136.9 252.9h0.7M124.3 229.8h0.7M140.8 239h0.7M145 259.3h0.7M129.2 241.1h0.7M123.2 220h0.7M132 251.4h0.7M145.2 242.9h0.7M154.9 237.1h0.7M131.8 236.9h0.7M126.7 240h0.7M123.6 238.3h0.7M135.6 244.4h0.7M119.3 248.9h0.7M122.1 248.3h0.7M133.1 221.3h0.7M119.4 254h0.7M124.2 235.7h0.7M126.8 244.5h0.7M139.3 239.8h0.7M153.1 236.7h0.7M126.4 241.1h0.7M134.3 259.9h0.7M161.2 239.3h0.7M130.1 250.4h0.7M130.7 253h0.7M119.1 253h0.7M120.9 251.1h0.7M140.3 232.4h0.7M135.4 233.5h0.7M117.7 225.9h0.7M129.4 231.1h0.7M110.8 251.1h0.7M135.1 233.6h0.7M112.4 232.6h0.7M115.3 238.7h0.7M139 254.9h0.7M148.8 231.7h0.7M142.1 209.7h0.7M129.2 252.9h0.7M140.9 226.7h0.7M121.6 218h0.7M122.6 227h0.7M135.4 234.2h0.7M139.5 241.7h0.7M146.7 227.6h0.7M149.4 251.8h0.7M148.7 248.2h0.7M109.3 238.6h0.7M123.1 257.8h0.7M132.5 245.5h0.7M141.3 232.4h0.7M145.9 245.5h0.7M119.8 236.2h0.7M128.9 250h0.7M149.9 239.3h0.7M134.4 238.7h0.7M140.6 246.5h0.7M121.9 258.8h0.7M164.1 233.1h0.7M121.9 237h0.7M115.9 252.5h0.7M113.6 250.7h0.7M137 251.7h0.7M113.1 244.6h0.7M135.4 253.3h0.7M136.7 236.1h0.7M146.5 259.2h0.7M149.2 234.2h0.7M138.7 232.2h0.7M129.8 251.8h0.7M147.6 233.9h0.7M124.7 242.1h0.7M130.1 228.7h0.7M130.2 224.7h0.7M131.1 238.4h0.7M152 246.7h0.7M139.9 236.2h0.7M146 239h0.7M143.2 250.5h0.7M154.1 254.7h0.7M131.7 230.4h0.7M128.1 234.8h0.7M151.6 237.7h0.7M142.4 232.1h0.7M141.1 227.3h0.7M135.1 241h0.7M136 248h0.7M123.3 252.5h0.7M125.5 244.4h0.7M150.2 232h0.7M132.9 261.9h0.7M148.1 234.9h0.7M124 249.5h0.7M123.5 243.8h0.7M114.3 250.5h0.7M111.2 244.5h0.7M141 235h0.7M111.7 227.8h0.7M136.2 243.5h0.7M145.2 258.6h0.7M137.7 242.2h0.7M124.6 240.7h0.7M144.2 250.2h0.7M140 222.9h0.7M122 234.7h0.7M124.9 230.3h0.7M140.7 255.6h0.7M155.5 236.6h0.7M130.6 244.1h0.7M131.8 232.9h0.7M142.3 218.7h0.7M125.7 220.1h0.7M140.1 226.3h0.7M116.9 242.8h0.7M118.4 245.9h0.7M116.1 233.1h0.7M139.4 244.4h0.7M137.7 239.5h0.7M144.3 247.1h0.7M149.1 226.7h0.7M135.3 240.3h0.7M137.2 231.7h0.7M142.5 227h0.7M143.5 249.5h0.7M108.5 247.8h0.7M111.1 242.1h0.7M128.5 223.4h0.7M107.8 249h0.7M125.7 256.1h0.7M136.6 244h0.7M139.1 233.9h0.7M123.6 263h0.7M129.6 229.2h0.7M138.8 233h0.7M133.2 256.8h0.7M147.5 251.1h0.7M139.4 246.8h0.7M130.8 258h0.7M124.3 262.4h0.7M152.1 236h0.7M131.6 254.7h0.7M136.6 244.8h0.7M145.4 227.9h0.7M153.8 249.1h0.7M132.8 225.8h0.7M150.8 248.8h0.7M133 256.7h0.7M128.1 242.7h0.7M146.3 249.5h0.7M146 239.8h0.7M155.3 227.2h0.7M115.5 250.4h0.7M129.4 246.8h0.7M134 242.5h0.7M119.7 248.1h0.7M150.6 234.3h0.7M158.2 263.3h0.7M122.6 254.2h0.7M119.3 243h0.7M119.4 238.1h0.7M109.5 242.6h0.7M120 233.8h0.7M108 245h0.7M158.4 240.1h0.7M131.7 230.8h0.7M127.5 234.2h0.7M113.3 233.8h0.7M126.9 248.2h0.7M129.1 247.8h0.7M150.4 255.5h0.7M128 223.1h0.7M131 245.3h0.7M146.4 246h0.7M169.6 240.4h0.7M142 233.3h0.7M120.3 240.7h0.7M136 252.5h0.7M152.8 260.4h0.7M144.3 242.7h0.7M140.5 259.6h0.7M120.6 252.2h0.7M139.8 242.4h0.7M156.5 235.7h0.7M120.4 243.5h0.7M124.9 260.1h0.7M111.5 228.3h0.7M137.1 252.9h0.7M117.6 259.6h0.7M108.1 256.3h0.7M121.4 238.2h0.7M156.3 243.1h0.7M124.5 246.7h0.7M157.4 244.6h0.7M122.8 246.3h0.7M116.7 235.5h0.7M125.4 251.5h0.7M126.5 249.5h0.7M147.7 262.6h0.7M110.8 243h0.7M117.8 251.4h0.7M136 243.5h0.7M125.8 232.1h0.7M110.7 255.2h0.7M130.1 244h0.7M136.8 253.1h0.7M157.2 241.5h0.7M141.2 224h0.7M127.6 235.1h0.7M124.5 257.5h0.7M134.1 244.4h0.7M133.7 240.9h0.7M129.8 235.9h0.7M125.7 238.5h0.7M130.3 221.2h0.7M133.5 243.2h0.7M138 230.3h0.7M120.6 253.1h0.7M123.3 249.3h0.7M123.9 229.3h0.7M113.8 236.3h0.7M126.5 229h0.7M150.9 243.8h0.7M121.2 261.4h0.7M143.3 234.5h0.7M119.4 241.4h0.7M142 226.9h0.7M147.5 239h0.7M143.4 241.9h0.7M138.9 251.2h0.7M149.3 235.2h0.7M157.1 228.5h0.7M136.7 251.7h0.7M133.1 254.2h0.7M111.9 243.2h0.7M145.6 243.8h0.7M118.6 245.6h0.7M135.2 232h0.7M149.8 237.4h0.7M119.6 245h0.7M124.4 241.5h0.7M135.8 238.8h0.7M140.4 247.3h0.7M148.4 231.9h0.7M133.7 246.8h0.7M136.5 218.9h0.7M119.2 247.7h0.7M140.2 244.2h0.7M135.2 258.3h0.7M128.4 234.8h0.7M152.1 251.1h0.7M130.8 235.4h0.7M153.5 240.6h0.7M122.5 258.9h0.7M114.1 242.1h0.7M140.9 240.5h0.7M126.3 249h0.7M117.3 241.3h0.7M142.1 230.9h0.7M150.7 241.4h0.7M131.9 238.2h0.7M140.3 238.2h0.7M135.8 258.7h0.7M148.9 225.9h0.7M150.2 238h0.7M136.8 245.1h0.7M136.5 236.7h0.7M140.4 255.8h0.7M125.5 243.6h0.7M143.3 256.5h0.7M137.2 247h0.7M139.1 239.8h0.7M137.2 240.6h0.7M128.5 216h0.7M109.9 248.2h0.7M142.4 249.1h0.7M134.2 240.2h0.7M140 239h0.7M132.7 261.4h0.7M115 236.6h0.7M129.6 221.1h0.7M117.6 256.2h0.7M139.3 242h0.7M149.4 232h0.7M157.2 242.9h0.7M125 256.5h0.7M139.4 246h0.7M131.1 222.2h0.7M144.9 234.2h0.7M133.7 225.1h0.7M113.4 242.8h0.7M141.5 252.3h0.7M147.9 234.1h0.7M130.4 252.7h0.7M119.4 239.8h0.7M132.5 243.2h0.7M143.7 248.4h0.7M126.8 216h0.7M142.6 255.2h0.7M139 247.6h0.7M138.1 257.7h0.7M125.9 242.6h0.7M119.7 240.8h0.7M121.9 233.7h0.7M145.3 207.8h0.7M148.6 242.8h0.7M123.6 246.8h0.7M129.1 242.3h0.7M150.4 245.2h0.7M136.9 240h0.7M130 232.4h0.7M130.6 234h0.7M146.8 240.4h0.7M141.6 258.4h0.7M145.2 235.1h0.7M153.5 220.7h0.7M150.4 213.3h0.7M120.5 242.2h0.7M123 218.1h0.7M112.9 246h0.7M110.2 250.5h0.7M146.8 259h0.7M135.3 242.5h0.7M147.5 250.5h0.7M136.4 255.9h0.7M107.5 253.2h0.7M124.7 215.7h0.7M146.2 234h0.7M137.6 234.3h0.7M126.9 262.1h0.7M136.3 247.7h0.7M111.9 253.7h0.7M123.8 248.6h0.7M119 247.4h0.7M139.1 225.8h0.7M136.1 232.5h0.7M148 247.4h0.7M142.8 238.6h0.7M143.3 246.5h0.7M149.4 231.3h0.7M157.3 237.1h0.7M127.3 234.4h0.7M134.5 230.5h0.7M130.2 246.1h0.7M144.4 239.3h0.7M130.5 244.5h0.7M116.8 254.4h0.7M147.7 252.7h0.7M125.7 239.2h0.7M127.3 244.2h0.7M127.7 236.8h0.7M133.5 242.9h0.7M127.3 254h0.7M145.6 236.6h0.7M159.7 247.7h0.7M114 249.2h0.7M144 257.4h0.7M142.4 255.2h0.7M112.9 231.9h0.7M139.6 219h0.7M125.2 241h0.7M137 253.9h0.7M135.3 233.4h0.7M119.9 248.1h0.7M139.7 247.7h0.7M134 244.5h0.7M114.3 242.9h0.7M142 229.8h0.7M137.7 251.5h0.7M162.3 242.5h0.7M129 228.9h0.7M118.2 224h0.7M109.2 251.5h0.7M132.1 246.9h0.7M111.8 219.2h0.7M109.4 262.4h0.7M146.7 227.3h0.7M133.5 245.2h0.7M119.6 235.6h0.7M144.5 251.7h0.7M143.9 247.1h0.7M133.8 249.3h0.7M135.3 249.8h0.7M131.3 235.4h0.7M131.8 239.5h0.7M122.1 253h0.7M158.1 246.8h0.7M131.1 234.9h0.7M113.6 250.7h0.7M139.9 234h0.7M133.6 233.4h0.7M150.8 244.9h0.7M136 240.1h0.7M132.9 258.4h0.7M124.2 235.9h0.7M154.9 255.7h0.7M139 253.3h0.7M133.9 240.2h0.7M130.9 247.5h0.7M126.9 224.9h0.7M130.8 247.1h0.7M131.2 251.8h0.7M136.6 255.2h0.7M134.5 241.8h0.7M140.3 254.3h0.7M127.3 233.7h0.7M150 237.7h0.7M137.7 238.3h0.7M135.7 260.3h0.7M154.5 228.4h0.7M114.5 204.3h0.7M140.5 262.2h0.7M136.2 240.4h0.7M143.5 232.8h0.7M141.3 259.7h0.7M148.7 252.2h0.7M126.5 240h0.7M148.8 243.1h0.7M132 246.6h0.7M124.5 249.9h0.7M139.2 248.9h0.7M133.5 214.2h0.7M130.4 227.2h0.7M126.5 241.5h0.7M128.9 233.6h0.7M153.4 221.9h0.7M138.8 236.7h0.7M148.9 253.6h0.7M133.7 225.9h0.7M142.7 255.1h0.7M141 240.1h0.7M140.7 234.4h0.7M135.7 247.9h0.7M129.6 231.9h0.7M129.7 233.1h0.7M117.3 255.9h0.7M130.6 237.4h0.7M125.9 248.6h0.7M128.4 235.1h0.7M135.9 245.1h0.7M120.9 230.8h0.7M149.1 240.1h0.7M147.9 250.5h0.7M131.5 240.6h0.7M153.3 235.8h0.7M127.5 233.7h0.7M130.4 232.3h0.7M133.9 228.6h0.7M139.1 247.4h0.7M135.1 236.3h0.7M130.7 234.3h0.7M140.6 240.9h0.7M134.2 251h0.7M115 251.9h0.7M119 228.6h0.7M127.4 260.6h0.7M124.3 248.8h0.7M120.4 250.7h0.7M136.4 257h0.7M134.6 243.4h0.7M108.4 247h0.7M142.5 245.7h0.7M134.7 250h0.7M143.5 232.7h0.7M131.4 248.4h0.7M135.6 232h0.7M141.5 263.1h0.7M137.7 233h0.7M138 241.9h0.7M123.6 226.3h0.7M108.9 235h0.7M126.9 244h0.7M132.5 246h0.7M156.8 242.5h0.7M149.8 234h0.7M123 237h0.7M109.2 262.8h0.7M135.5 251.8h0.7M154.4 248.6h0.7M153.1 215.3h0.7M148.6 246.8h0.7M125.1 256.1h0.7M132.6 234.9h0.7M109.5 214.4h0.7M142.8 217.3h0.7M125.2 212.8h0.7M125.3 215.3h0.7M129.5 207.7h0.7M118.5 219.7h0.7M120 208.4h0.7M148.5 209.9h0.7M119.6 209.2h0.7M136.1 210.3h0.7M128.9 202.5h0.7M125.1 214.2h0.7M130.4 221.3h0.7M134 199.6h0.7M117 209.5h0.7M127.6 214.2h0.7M134.9 205.5h0.7M112.1 217.9h0.7M121.9 202.2h0.7M122.2 211.7h0.7M120.1 208h0.7M137.9 208.3h0.7M132.2 214.9h0.7M126.9 225.6h0.7M119 226.7h0.7M122.1 212.5h0.7M132.2 219.4h0.7M135.4 212.1h0.7M127 219.7h0.7M142.1 211.2h0.7M139.6 216.7h0.7M131.9 208.4h0.7M119.8 216.1h0.7M107.6 211.4h0.7M133.3 205.6h0.7M142.9 222.2h0.7M121.4 213.4h0.7M128.9 211.2h0.7M126 216.3h0.7M143.2 214.4h0.7M176.8 216h0.7M175.7 248.3h0.7M130.6 245.1h0.7M154.3 222.4h0.7M150.7 210.2h0.7M109.2 260.2h0.7M162.8 247.8h0.7M135.3 200.8h0.7M110.4 219h0.7M127.6 230.9h0.7M129.4 256.6h0.7M137.5 220.7h0.7M136.2 214.9h0.7M117.5 240.2h0.7M133.8 224.9h0.7M178.8 247.3h0.7M180.3 239.7h0.7M168.6 246.7h0.7M143.2 254.3h0.7M135 219h0.7" stroke="#000" stroke-width="0.7" stroke-opacity="0.5"/>
</g>
<g clip-path="url(#c6)">
<ellipse cx="256" cy="218" rx="6" ry="4" fill="#000" fill-opacity="0.06" filter="url(#b1_5)"/>
<ellipse cx="271.5" cy="236" rx="3.5" ry="8" fill="#000" fill-opacity="0.07" filter="url(#b1_5)"/>
<path d="M256.7 220.5h0.7M255.1 222h0.7M257.4 220.9h0.7M253.8 213.1h0.7M252.3 218.1h0.7M257.2 217.9h0.7M263.7 213.5h0.7M244.5 217.4h0.7M251 218.1h0.7M258.9 227.4h0.7M247.2 214.3h0.7M254.7 212.9h0.7M250.5 222.4h0.7M254.7 217.9h0.7M261.5 212.1h0.7M255.7 217.8h0.7M256.6 214.6h0.7M252.5 217.7h0.7M259.3 215.5h0.7M258.6 210.7h0.7M257.5 220.7h0.7M249.7 217h0.7M255 219h0.7M262.1 218.7h0.7M253.7 217.3h0.7M256.6 220.7h0.7M256.5 216.1h0.7M253 215.3h0.7M249.9 216.3h0.7M251.6 220.6h0.7M248 218.2h0.7M248.1 220.7h0.7M256.8 222.3h0.7M258.2 214.5h0.7M255.2 215.9h0.7M252 214.5h0.7M253.2 218.3h0.7M256.2 226.4h0.7M254.1 218.3h0.7M254.5 217.1h0.7M253.3 218.2h0.7M253.9 220.5h0.7M257.5 215h0.7M255 219h0.7M253.4 217.2h0.7M254.5 220.1h0.7M256 216.2h0.7M254.7 222.2h0.7M249.5 220.2h0.7M253.6 230.5h0.7M272.3 237.4h0.7M270.8 226.8h0.7M269.9 250.5h0.7M271.8 235.1h0.7M271 237.3h0.7M269 237.7h0.7M272.1 227.1h0.7M270.5 218.7h0.7M267.5 242.6h0.7M273.6 249.5h0.7M268.3 236.5h0.7M270.3 244.2h0.7M271.7 237.6h0.7M272.3 234h0.7M273.1 234.8h0.7M273.3 238.3h0.7M271.5 229.4h0.7M267.8 226.6h0.7M272 222.7h0.7M273.9 234.9h0.7M268.2 239.4h0.7M268.4 237.3h0.7M270.5 245h0.7M272.9 243.3h0.7M270 245.4h0.7M270.9 237.8h0.7M271.9 238.9h0.7M268.2 241.3h0.7M267.7 240.2h0.7M270.9 237.5h0.7M268.7 243.7h0.7M270.7 242.7h0.7M269.5 232.3h0.7M271.2 243.9h0.7M268.2 233.2h0.7M270 235.2h0.7M270.1 244.2h0.7M272.5 237.2h0.7M272.8 243.9h0.7M269.7 232.2h0.7M272.5 251.2h0.7M266.1 232.9h0.7M272.6 231.7h0.7M272.8 238.5h0.7M268.4 233.9h0.7M271.8 231.1h0.7M272.2 239.1h0.7M270.4 239.6h0.7M270.3 238.5h0.7M268.9 246.4h0.7M270.5 244.8h0.7M275.5 247.6h0.7M271 238.1h0.7M270.9 239.1h0.7M269.3 225h0.7M271.7 237.3h0.7M274.2 249.1h0.7M268.1 230.8h0.7M272.6 244.9h0.7M271.3 237.4h0.7M257.6 247.6h0.7M251.9 232.1h0.7M250.7 245.5h0.7M285.5 238.8h0.7M229.7 226h0.7M294.4 248.1h0.7M282.9 255h0.7M262.6 232.7h0.7M256.8 228.3h0.7M262.2 259.3h0.7M251.9 243h0.7M240.5 255.6h0.7" stroke="#666" stroke-width="0.7" stroke-opacity="0.55"/>
</g>
<rect x="107.5" y="189.5" width="78.9" height="73.9" stroke="#333" stroke-width="1.3" fill="none"/>
<rect x="218.5" y="189.7" width="78.9" height="73.5" stroke="#333" stroke-width="1.3" fill="none"/>
<rect x="114.9" y="199" width="29.1" height="26.7" stroke="#000" stroke-width="1.4" fill="none"/>
<rect x="236.3" y="209.6" width="29.5" height="18.3" stroke="#000" stroke-width="1.4" fill="none"/>
<line x1="144" y1="216" x2="222.5" y2="216" stroke="#000" stroke-width="1.5"/>
<path d="M230.2 216L220.6 212.6L220.6 219.4Z" fill="#000"/>
<text x="254.3" y="205.5" font-size="13" text-anchor="middle" stroke="#000" stroke-width="0.2">Pre-cDC</text>
<text x="97.5" y="239.9" font-size="10.5" text-anchor="middle" transform="rotate(-90 97.5 239.9)" stroke="#000" stroke-width="0.2">CD11c</text>
<text x="117.8" y="278.3" font-size="10.6" stroke="#000" stroke-width="0.2">I-A</text>
<text x="131" y="274.6" font-size="10" stroke="#000" stroke-width="0.2">b</text>
<text x="209.2" y="247.5" font-size="10.5" text-anchor="middle" transform="rotate(-90 209.2 247.5)" stroke="#000" stroke-width="0.2">Flt3</text>
<text x="223.4" y="278.5" font-size="10.5" stroke="#000" stroke-width="0.2">Sirp1α</text>
<line x1="105" y1="197.8" x2="107.5" y2="197.8" stroke="#777" stroke-width="0.8"/>
<text x="103.5" y="199.3" font-size="4.3" text-anchor="middle" fill="#666" transform="rotate(-60 103.5 197.8)">10</text>
<line x1="105" y1="213.8" x2="107.5" y2="213.8" stroke="#777" stroke-width="0.8"/>
<text x="103.5" y="215.3" font-size="4.3" text-anchor="middle" fill="#666" transform="rotate(-60 103.5 213.8)">10</text>
<line x1="105" y1="232" x2="107.5" y2="232" stroke="#777" stroke-width="0.8"/>
<text x="103.5" y="233.5" font-size="4.3" text-anchor="middle" fill="#666" transform="rotate(-60 103.5 232)">10</text>
<line x1="105" y1="249" x2="107.5" y2="249" stroke="#777" stroke-width="0.8"/>
<text x="103.5" y="250.5" font-size="4.3" text-anchor="middle" fill="#666" transform="rotate(-60 103.5 249)">10</text>
<line x1="125.8" y1="263.4" x2="125.8" y2="265.9" stroke="#777" stroke-width="0.8"/>
<text x="124.3" y="268" font-size="4.3" text-anchor="middle" fill="#666" transform="rotate(-30 124.3 268)">10</text>
<line x1="143.4" y1="263.4" x2="143.4" y2="265.9" stroke="#777" stroke-width="0.8"/>
<text x="141.9" y="268" font-size="4.3" text-anchor="middle" fill="#666" transform="rotate(-30 141.9 268)">10</text>
<line x1="161.2" y1="263.4" x2="161.2" y2="265.9" stroke="#777" stroke-width="0.8"/>
<text x="159.7" y="268" font-size="4.3" text-anchor="middle" fill="#666" transform="rotate(-30 159.7 268)">10</text>
<line x1="178.6" y1="263.4" x2="178.6" y2="265.9" stroke="#777" stroke-width="0.8"/>
<text x="177.1" y="268" font-size="4.3" text-anchor="middle" fill="#666" transform="rotate(-30 177.1 268)">10</text>
<path d="M106.2 199.6h1.3M106.2 201.4h1.3M106.2 203.1h1.3M106.2 204.9h1.3M106.2 206.7h1.3M106.2 208.5h1.3M106.2 210.2h1.3M106.2 212h1.3M106.2 215.8h1.3M106.2 217.8h1.3M106.2 219.9h1.3M106.2 221.9h1.3M106.2 223.9h1.3M106.2 225.9h1.3M106.2 228h1.3M106.2 230h1.3M106.2 233.9h1.3M106.2 235.8h1.3M106.2 237.7h1.3M106.2 239.6h1.3M106.2 241.4h1.3M106.2 243.3h1.3M106.2 245.2h1.3M106.2 247.1h1.3M127.8 263.4v1.3M129.7 263.4v1.3M131.7 263.4v1.3M133.6 263.4v1.3M135.6 263.4v1.3M137.5 263.4v1.3M139.5 263.4v1.3M141.4 263.4v1.3M145.4 263.4v1.3M147.4 263.4v1.3M149.3 263.4v1.3M151.3 263.4v1.3M153.3 263.4v1.3M155.3 263.4v1.3M157.2 263.4v1.3M159.2 263.4v1.3M163.1 263.4v1.3M165.1 263.4v1.3M167 263.4v1.3M168.9 263.4v1.3M170.9 263.4v1.3M172.8 263.4v1.3M174.7 263.4v1.3M176.7 263.4v1.3" stroke="#999" stroke-width="0.6"/>
<line x1="216" y1="196.8" x2="218.5" y2="196.8" stroke="#777" stroke-width="0.8"/>
<text x="214" y="198.3" font-size="4.3" text-anchor="middle" fill="#666" transform="rotate(-60 214 196.8)">10</text>
<line x1="216" y1="212.5" x2="218.5" y2="212.5" stroke="#777" stroke-width="0.8"/>
<text x="214" y="214" font-size="4.3" text-anchor="middle" fill="#666" transform="rotate(-60 214 212.5)">10</text>
<line x1="216" y1="231" x2="218.5" y2="231" stroke="#777" stroke-width="0.8"/>
<text x="214" y="232.5" font-size="4.3" text-anchor="middle" fill="#666" transform="rotate(-60 214 231)">10</text>
<line x1="216" y1="247.5" x2="218.5" y2="247.5" stroke="#777" stroke-width="0.8"/>
<text x="214" y="249" font-size="4.3" text-anchor="middle" fill="#666" transform="rotate(-60 214 247.5)">10</text>
<line x1="236.9" y1="263.2" x2="236.9" y2="265.7" stroke="#777" stroke-width="0.8"/>
<text x="235.4" y="268" font-size="4.3" text-anchor="middle" fill="#666" transform="rotate(-30 235.4 268)">10</text>
<line x1="254.2" y1="263.2" x2="254.2" y2="265.7" stroke="#777" stroke-width="0.8"/>
<text x="252.7" y="268" font-size="4.3" text-anchor="middle" fill="#666" transform="rotate(-30 252.7 268)">10</text>
<line x1="272.5" y1="263.2" x2="272.5" y2="265.7" stroke="#777" stroke-width="0.8"/>
<text x="271" y="268" font-size="4.3" text-anchor="middle" fill="#666" transform="rotate(-30 271 268)">10</text>
<line x1="290.8" y1="263.2" x2="290.8" y2="265.7" stroke="#777" stroke-width="0.8"/>
<text x="289.3" y="268" font-size="4.3" text-anchor="middle" fill="#666" transform="rotate(-30 289.3 268)">10</text>
<path d="M217.2 198.5h1.3M217.2 200.3h1.3M217.2 202h1.3M217.2 203.8h1.3M217.2 205.5h1.3M217.2 207.3h1.3M217.2 209h1.3M217.2 210.8h1.3M217.2 214.6h1.3M217.2 216.6h1.3M217.2 218.7h1.3M217.2 220.7h1.3M217.2 222.8h1.3M217.2 224.8h1.3M217.2 226.9h1.3M217.2 228.9h1.3M217.2 232.8h1.3M217.2 234.7h1.3M217.2 236.5h1.3M217.2 238.3h1.3M217.2 240.2h1.3M217.2 242h1.3M217.2 243.8h1.3M217.2 245.7h1.3M238.8 263.2v1.3M240.7 263.2v1.3M242.7 263.2v1.3M244.6 263.2v1.3M246.5 263.2v1.3M248.4 263.2v1.3M250.4 263.2v1.3M252.3 263.2v1.3M256.2 263.2v1.3M258.3 263.2v1.3M260.3 263.2v1.3M262.3 263.2v1.3M264.4 263.2v1.3M266.4 263.2v1.3M268.4 263.2v1.3M270.5 263.2v1.3M274.5 263.2v1.3M276.6 263.2v1.3M278.6 263.2v1.3M280.6 263.2v1.3M282.7 263.2v1.3M284.7 263.2v1.3M286.7 263.2v1.3M288.8 263.2v1.3" stroke="#999" stroke-width="0.6"/>
<rect x="49.1" y="319.8" width="82.8" height="148.9" stroke="#000" stroke-width="1.8" fill="none"/>
<line x1="44.6" y1="319.8" x2="49.1" y2="319.8" stroke="#000" stroke-width="1.6"/>
<text x="43.3" y="324.3" font-size="11.3" text-anchor="end" stroke="#000" stroke-width="0.2">8</text>
<line x1="44.6" y1="357" x2="49.1" y2="357" stroke="#000" stroke-width="1.6"/>
<text x="43.3" y="361.6" font-size="11.3" text-anchor="end" stroke="#000" stroke-width="0.2">6</text>
<line x1="44.6" y1="394.2" x2="49.1" y2="394.2" stroke="#000" stroke-width="1.6"/>
<text x="43.3" y="398.8" font-size="11.3" text-anchor="end" stroke="#000" stroke-width="0.2">4</text>
<line x1="44.6" y1="431.5" x2="49.1" y2="431.5" stroke="#000" stroke-width="1.6"/>
<text x="43.3" y="436" font-size="11.3" text-anchor="end" stroke="#000" stroke-width="0.2">2</text>
<line x1="44.6" y1="468.7" x2="49.1" y2="468.7" stroke="#000" stroke-width="1.6"/>
<text x="43.3" y="473.2" font-size="11.3" text-anchor="end" stroke="#000" stroke-width="0.2">0</text>
<line x1="62.8" y1="468.7" x2="62.8" y2="473" stroke="#000" stroke-width="1.6"/>
<text x="62.8" y="485" font-size="11.3" text-anchor="middle" stroke="#000" stroke-width="0.2">0</text>
<line x1="90.4" y1="468.7" x2="90.4" y2="473" stroke="#000" stroke-width="1.6"/>
<text x="90.4" y="485" font-size="11.3" text-anchor="middle" stroke="#000" stroke-width="0.2">3</text>
<line x1="117.9" y1="468.7" x2="117.9" y2="473" stroke="#000" stroke-width="1.6"/>
<text x="117.9" y="485" font-size="11.3" text-anchor="middle" stroke="#000" stroke-width="0.2">6</text>
<text x="89.4" y="315" font-size="12" text-anchor="middle" stroke="#000" stroke-width="0.2">Bone marrow</text>
<circle cx="62.7" cy="404.8" r="2.85" stroke="#000" stroke-width="1.8" fill="none"/>
<circle cx="62.7" cy="423.8" r="2.85" stroke="#000" stroke-width="1.8" fill="none"/>
<circle cx="67.5" cy="421.3" r="2.85" stroke="#000" stroke-width="1.8" fill="none"/>
<line x1="52.5" y1="416.2" x2="73.7" y2="416.2" stroke="#000" stroke-width="1.6"/>
<circle cx="90.4" cy="392.1" r="2.85" stroke="#000" stroke-width="1.8" fill="none"/>
<circle cx="90.4" cy="419.2" r="2.85" stroke="#000" stroke-width="1.8" fill="none"/>
<circle cx="95.2" cy="416.5" r="2.85" stroke="#000" stroke-width="1.8" fill="none"/>
<line x1="80" y1="409" x2="101.2" y2="409" stroke="#000" stroke-width="1.6"/>
<circle cx="113.5" cy="388.8" r="2.85" stroke="#000" stroke-width="1.8" fill="none"/>
<circle cx="117.9" cy="397.5" r="2.85" stroke="#000" stroke-width="1.8" fill="none"/>
<circle cx="117.9" cy="414.8" r="2.85" stroke="#000" stroke-width="1.8" fill="none"/>
<line x1="107.3" y1="400.4" x2="128.1" y2="400.4" stroke="#000" stroke-width="1.6"/>
<rect x="151.5" y="319.9" width="82.6" height="148.8" stroke="#000" stroke-width="1.8" fill="none"/>
<line x1="147" y1="319.9" x2="151.5" y2="319.9" stroke="#000" stroke-width="1.6"/>
<text x="145.7" y="324.4" font-size="11.3" text-anchor="end" stroke="#000" stroke-width="0.2">8</text>
<line x1="147" y1="357.1" x2="151.5" y2="357.1" stroke="#000" stroke-width="1.6"/>
<text x="145.7" y="361.6" font-size="11.3" text-anchor="end" stroke="#000" stroke-width="0.2">6</text>
<line x1="147" y1="394.3" x2="151.5" y2="394.3" stroke="#000" stroke-width="1.6"/>
<text x="145.7" y="398.8" font-size="11.3" text-anchor="end" stroke="#000" stroke-width="0.2">4</text>
<line x1="147" y1="431.5" x2="151.5" y2="431.5" stroke="#000" stroke-width="1.6"/>
<text x="145.7" y="436" font-size="11.3" text-anchor="end" stroke="#000" stroke-width="0.2">2</text>
<line x1="147" y1="468.7" x2="151.5" y2="468.7" stroke="#000" stroke-width="1.6"/>
<text x="145.7" y="473.2" font-size="11.3" text-anchor="end" stroke="#000" stroke-width="0.2">0</text>
<line x1="165" y1="468.7" x2="165" y2="473" stroke="#000" stroke-width="1.6"/>
<text x="165" y="485.3" font-size="11.3" text-anchor="middle" stroke="#000" stroke-width="0.2">0</text>
<line x1="192.5" y1="468.7" x2="192.5" y2="473" stroke="#000" stroke-width="1.6"/>
<text x="192.5" y="485.3" font-size="11.3" text-anchor="middle" stroke="#000" stroke-width="0.2">3</text>
<line x1="219.3" y1="468.7" x2="219.3" y2="473" stroke="#000" stroke-width="1.6"/>
<text x="219.3" y="485.3" font-size="11.3" text-anchor="middle" stroke="#000" stroke-width="0.2">6</text>
<text x="191.2" y="315" font-size="12" text-anchor="middle" stroke="#000" stroke-width="0.2">Blood</text>
<circle cx="160.5" cy="453.5" r="2.85" stroke="#000" stroke-width="1.8" fill="none"/>
<circle cx="165" cy="457.3" r="2.85" stroke="#000" stroke-width="1.8" fill="none"/>
<circle cx="169.6" cy="453.9" r="2.85" stroke="#000" stroke-width="1.8" fill="none"/>
<line x1="155.2" y1="455.2" x2="175.5" y2="455.2" stroke="#000" stroke-width="1.6"/>
<circle cx="188.2" cy="450.9" r="2.85" stroke="#000" stroke-width="1.8" fill="none"/>
<circle cx="192.5" cy="455.2" r="2.85" stroke="#000" stroke-width="1.8" fill="none"/>
<circle cx="197.1" cy="452.4" r="2.85" stroke="#000" stroke-width="1.8" fill="none"/>
<line x1="182.3" y1="452.6" x2="203" y2="452.6" stroke="#000" stroke-width="1.6"/>
<circle cx="215.7" cy="443.3" r="2.85" stroke="#000" stroke-width="1.8" fill="none"/>
<circle cx="220" cy="450.9" r="2.85" stroke="#000" stroke-width="1.8" fill="none"/>
<circle cx="224.6" cy="446" r="2.85" stroke="#000" stroke-width="1.8" fill="none"/>
<line x1="208.8" y1="446.7" x2="230.5" y2="446.7" stroke="#000" stroke-width="1.6"/>
<rect x="254.5" y="322.2" width="80.1" height="144.3" stroke="#000" stroke-width="1.8" fill="none"/>
<line x1="250" y1="322.2" x2="254.5" y2="322.2" stroke="#000" stroke-width="1.6"/>
<text x="248.7" y="326.7" font-size="11.3" text-anchor="end" stroke="#000" stroke-width="0.2">8</text>
<line x1="250" y1="358.3" x2="254.5" y2="358.3" stroke="#000" stroke-width="1.6"/>
<text x="248.7" y="362.8" font-size="11.3" text-anchor="end" stroke="#000" stroke-width="0.2">6</text>
<line x1="250" y1="394.4" x2="254.5" y2="394.4" stroke="#000" stroke-width="1.6"/>
<text x="248.7" y="398.9" font-size="11.3" text-anchor="end" stroke="#000" stroke-width="0.2">4</text>
<line x1="250" y1="430.4" x2="254.5" y2="430.4" stroke="#000" stroke-width="1.6"/>
<text x="248.7" y="435" font-size="11.3" text-anchor="end" stroke="#000" stroke-width="0.2">2</text>
<line x1="250" y1="466.5" x2="254.5" y2="466.5" stroke="#000" stroke-width="1.6"/>
<text x="248.7" y="471" font-size="11.3" text-anchor="end" stroke="#000" stroke-width="0.2">0</text>
<line x1="267.7" y1="466.5" x2="267.7" y2="470.8" stroke="#000" stroke-width="1.6"/>
<text x="267.7" y="483.5" font-size="11.3" text-anchor="middle" stroke="#000" stroke-width="0.2">0</text>
<line x1="294.2" y1="466.5" x2="294.2" y2="470.8" stroke="#000" stroke-width="1.6"/>
<text x="294.2" y="483.5" font-size="11.3" text-anchor="middle" stroke="#000" stroke-width="0.2">3</text>
<line x1="321" y1="466.5" x2="321" y2="470.8" stroke="#000" stroke-width="1.6"/>
<text x="321" y="483.5" font-size="11.3" text-anchor="middle" stroke="#000" stroke-width="0.2">6</text>
<text x="294.6" y="314.8" font-size="12" text-anchor="middle" stroke="#000" stroke-width="0.2">Spleen</text>
<circle cx="263.5" cy="443.7" r="2.85" stroke="#000" stroke-width="1.8" fill="none"/>
<circle cx="267.7" cy="448.5" r="2.85" stroke="#000" stroke-width="1.8" fill="none"/>
<circle cx="272.5" cy="445.6" r="2.85" stroke="#000" stroke-width="1.8" fill="none"/>
<line x1="257.1" y1="445.8" x2="278.3" y2="445.8" stroke="#000" stroke-width="1.6"/>
<circle cx="294.6" cy="409.6" r="2.85" stroke="#000" stroke-width="1.8" fill="none"/>
<circle cx="294.6" cy="424.4" r="2.85" stroke="#000" stroke-width="1.8" fill="none"/>
<circle cx="299" cy="420.6" r="2.85" stroke="#000" stroke-width="1.8" fill="none"/>
<line x1="284" y1="418.3" x2="305.2" y2="418.3" stroke="#000" stroke-width="1.6"/>
<circle cx="321.5" cy="368.7" r="2.85" stroke="#000" stroke-width="1.8" fill="none"/>
<circle cx="321.5" cy="378.7" r="2.85" stroke="#000" stroke-width="1.8" fill="none"/>
<circle cx="321.5" cy="388.3" r="2.85" stroke="#000" stroke-width="1.8" fill="none"/>
<line x1="311.9" y1="378.7" x2="331.5" y2="378.7" stroke="#000" stroke-width="1.6"/>
<line x1="295.2" y1="333" x2="321.5" y2="333" stroke="#282828" stroke-width="1.35"/>
<text x="309.5" y="335.8" font-size="14" font-weight="bold" text-anchor="middle" fill="#111" stroke="#111" stroke-width="0.2">*</text>
<line x1="267.3" y1="342.5" x2="321.5" y2="342.5" stroke="#282828" stroke-width="1.35"/>
<text x="295" y="345.3" font-size="14" font-weight="bold" text-anchor="middle" fill="#111" stroke="#111" stroke-width="0.2">*</text>
<line x1="267.3" y1="350.8" x2="293.3" y2="350.8" stroke="#282828" stroke-width="1.35"/>
<text x="280.5" y="353.6" font-size="14" font-weight="bold" text-anchor="middle" fill="#111" stroke="#111" stroke-width="0.2">*</text>
<text x="304.4" y="360.4" font-size="12" stroke="#000" stroke-width="0.2">4.2x</text>
<line x1="329.6" y1="360.4" x2="329.6" y2="351.2" stroke="#000" stroke-width="1.7"/>
<path d="M329.6 344L326.9 353L332.3 353Z" fill="#000"/>
<text x="277.5" y="401.3" font-size="12" stroke="#000" stroke-width="0.2">2.3x</text>
<line x1="302.3" y1="401.3" x2="302.3" y2="392.6" stroke="#000" stroke-width="1.7"/>
<path d="M302.3 385.4L299.6 394.4L305 394.4Z" fill="#000"/>
<text x="28.7" y="394.8" font-size="12" text-anchor="middle" transform="rotate(-90 28.7 394.8)" stroke="#000" stroke-width="0.2">DTR<tspan font-size="8" font-weight="bold" dy="-4.6">−</tspan><tspan dy="4.6"> pre-cDC per 10</tspan><tspan font-size="10.3" dy="-4.5">8</tspan><tspan dy="4.5"> cells (x10</tspan><tspan font-size="10.3" dy="-4.5">4</tspan><tspan dy="4.5">)</tspan></text>
<text x="191.6" y="500.2" font-size="12" text-anchor="middle" stroke="#000" stroke-width="0.2">DC depletion [days]</text>
<text x="385" y="320" font-size="19.5" font-weight="bold" stroke="#000" stroke-width="0.2">D</text>
<rect x="427.8" y="322.1" width="80.1" height="144.2" stroke="#000" stroke-width="1.8" fill="none"/>
<line x1="423.3" y1="343.3" x2="427.8" y2="343.3" stroke="#000" stroke-width="1.6"/>
<text x="422" y="347.8" font-size="11.3" text-anchor="end" stroke="#000" stroke-width="0.2">0.06</text>
<line x1="423.3" y1="384.2" x2="427.8" y2="384.2" stroke="#000" stroke-width="1.6"/>
<text x="422" y="388.7" font-size="11.3" text-anchor="end" stroke="#000" stroke-width="0.2">0.04</text>
<line x1="423.3" y1="425.1" x2="427.8" y2="425.1" stroke="#000" stroke-width="1.6"/>
<text x="422" y="429.6" font-size="11.3" text-anchor="end" stroke="#000" stroke-width="0.2">0.02</text>
<line x1="423.3" y1="466.3" x2="427.8" y2="466.3" stroke="#000" stroke-width="1.6"/>
<text x="422" y="470.8" font-size="11.3" text-anchor="end" stroke="#000" stroke-width="0.2">0.00</text>
<line x1="440.6" y1="466.3" x2="440.6" y2="470.6" stroke="#000" stroke-width="1.6"/>
<text x="440.6" y="482.3" font-size="11.3" text-anchor="middle" stroke="#000" stroke-width="0.2">0</text>
<line x1="467" y1="466.3" x2="467" y2="470.6" stroke="#000" stroke-width="1.6"/>
<text x="467" y="482.3" font-size="11.3" text-anchor="middle" stroke="#000" stroke-width="0.2">3</text>
<line x1="494.2" y1="466.3" x2="494.2" y2="470.6" stroke="#000" stroke-width="1.6"/>
<text x="494.2" y="482.3" font-size="11.3" text-anchor="middle" stroke="#000" stroke-width="0.2">6</text>
<text x="467.5" y="315.6" font-size="12" text-anchor="middle" stroke="#000" stroke-width="0.2">Spleen</text>
<circle cx="436" cy="439.8" r="2.85" stroke="#000" stroke-width="1.8" fill="none"/>
<circle cx="441.4" cy="445.2" r="2.85" stroke="#000" stroke-width="1.8" fill="none"/>
<circle cx="446" cy="441.9" r="2.85" stroke="#000" stroke-width="1.8" fill="none"/>
<line x1="431.2" y1="442.5" x2="451.4" y2="442.5" stroke="#000" stroke-width="1.6"/>
<circle cx="467" cy="401" r="2.85" stroke="#000" stroke-width="1.8" fill="none"/>
<circle cx="467" cy="418.2" r="2.85" stroke="#000" stroke-width="1.8" fill="none"/>
<circle cx="472.4" cy="413.1" r="2.85" stroke="#000" stroke-width="1.8" fill="none"/>
<line x1="457.5" y1="411" x2="477.5" y2="411" stroke="#000" stroke-width="1.6"/>
<circle cx="494.4" cy="354.6" r="2.85" stroke="#000" stroke-width="1.8" fill="none"/>
<circle cx="494.4" cy="366.2" r="2.85" stroke="#000" stroke-width="1.8" fill="none"/>
<circle cx="494.4" cy="376.7" r="2.85" stroke="#000" stroke-width="1.8" fill="none"/>
<line x1="484.5" y1="366.2" x2="505.2" y2="366.2" stroke="#000" stroke-width="1.6"/>
<line x1="468.5" y1="330.8" x2="494.1" y2="330.8" stroke="#282828" stroke-width="1.35"/>
<text x="482.3" y="333.6" font-size="14" font-weight="bold" text-anchor="middle" fill="#111" stroke="#111" stroke-width="0.2">*</text>
<line x1="440.5" y1="340.6" x2="494.1" y2="340.6" stroke="#282828" stroke-width="1.35"/>
<text x="467.9" y="343.4" font-size="14" font-weight="bold" text-anchor="middle" fill="#111" stroke="#111" stroke-width="0.2">*</text>
<line x1="440.5" y1="349.3" x2="466.4" y2="349.3" stroke="#282828" stroke-width="1.35"/>
<text x="453.5" y="352.1" font-size="14" font-weight="bold" text-anchor="middle" fill="#111" stroke="#111" stroke-width="0.2">*</text>
<text x="478.6" y="350.6" font-size="12" stroke="#000" stroke-width="0.2">4.2x</text>
<line x1="504.6" y1="350.6" x2="504.6" y2="341.6" stroke="#000" stroke-width="1.7"/>
<path d="M504.6 334.4L501.9 343.4L507.3 343.4Z" fill="#000"/>
<text x="453.8" y="395" font-size="12" stroke="#000" stroke-width="0.2">2.3x</text>
<line x1="479.8" y1="395" x2="479.8" y2="384.7" stroke="#000" stroke-width="1.7"/>
<path d="M479.8 377.5L477.1 386.5L482.5 386.5Z" fill="#000"/>
<text x="393" y="390.3" font-size="11.9" text-anchor="middle" transform="rotate(-90 393 390.3)" stroke="#000" stroke-width="0.2">% DTR<tspan font-size="7.5" font-weight="bold" dy="-4.3">−</tspan><tspan dy="4.3"> pre-cDCs</tspan></text>
<text x="465.8" y="500" font-size="12" text-anchor="middle" stroke="#000" stroke-width="0.2">DC depletion [days]</text>
<text x="1.5" y="540.8" font-size="19.5" font-weight="bold" stroke="#000" stroke-width="0.2">E</text>
<text x="151.1" y="533.8" font-size="10.8" text-anchor="middle" stroke="#000" stroke-width="0.2">Lin<tspan font-size="8" font-weight="bold" dy="-3.5">−</tspan></text>
<g clip-path="url(#c7)">
<ellipse cx="150" cy="591" rx="14" ry="6.5" fill="#000" fill-opacity="0.16" filter="url(#b3)"/>
<ellipse cx="143" cy="578" rx="6" ry="6" fill="#000" fill-opacity="0.08" filter="url(#b2)"/>
<path d="M148.5 589.4h0.7M142.2 593.6h0.7M133.6 590.1h0.7M155.4 593.8h0.7M149.5 586h0.7M155.2 586.8h0.7M148.9 586.9h0.7M166.6 594.6h0.7M142.4 587.2h0.7M149.6 593.9h0.7M161.4 588.7h0.7M138.8 594.4h0.7M152.4 583.5h0.7M147.7 590.1h0.7M141.1 593.6h0.7M159.6 593.8h0.7M141.9 589.9h0.7M156.3 588.4h0.7M146.8 601.4h0.7M126.8 592.4h0.7M142.4 592.2h0.7M165.5 587.5h0.7M147.4 592.2h0.7M147.2 593.2h0.7M173.1 583.7h0.7M148.1 591h0.7M130.9 597.2h0.7M149.4 582.3h0.7M147.6 592.2h0.7M141.9 597.4h0.7M144.6 585.3h0.7M157.3 589h0.7M151.3 583.6h0.7M137.5 588.8h0.7M148.6 590.6h0.7M162.5 595.6h0.7M151.2 590.4h0.7M167.2 588.1h0.7M159.2 587.1h0.7M149.1 589.9h0.7M143.7 593.8h0.7M142.5 591.9h0.7M153.7 599.7h0.7M132.7 594.5h0.7M155.9 588.4h0.7M157.9 591.9h0.7M154.4 588.3h0.7M148 590.3h0.7M141 593.5h0.7M140.4 588.6h0.7M137.4 598.2h0.7M144.9 588h0.7M157.2 587.8h0.7M153 589.6h0.7M153.3 591.2h0.7M130.4 601.2h0.7M159.1 582.8h0.7M158.1 588.5h0.7M151 596.5h0.7M159 593.7h0.7M168.2 592.5h0.7M144.5 586.3h0.7M157.6 582h0.7M146.8 590h0.7M143.6 598.2h0.7M152.9 589.5h0.7M158.1 587.7h0.7M160.9 598.1h0.7M148.8 590.5h0.7M160.4 580.3h0.7M138.6 588.5h0.7M135.4 593.7h0.7M152.7 590.4h0.7M149.7 595.1h0.7M159.7 594.7h0.7M148.7 591.3h0.7M163.3 590.4h0.7M161.9 586.7h0.7M149.6 588.2h0.7M149.8 592.9h0.7M145.9 600.5h0.7M136.6 597.3h0.7M140.1 594.1h0.7M143 592.6h0.7M150.6 587.3h0.7M138.9 589.8h0.7M150.2 594.6h0.7M164.5 580.6h0.7M154.1 588.1h0.7M150.1 592.4h0.7M157.1 591.5h0.7M149.7 598h0.7M152.5 590.5h0.7M160.2 584h0.7M141.5 599h0.7M148.2 583.4h0.7M157.1 595h0.7M142.9 586.5h0.7M149.5 592.7h0.7M144.5 587.9h0.7M154.6 592.5h0.7M135.6 588.6h0.7M147 588.7h0.7M151.8 592.9h0.7M166.6 589.5h0.7M158.2 582.5h0.7M143.6 596.8h0.7M136.8 599.3h0.7M154.8 590.6h0.7M148.8 586h0.7M140.1 590.4h0.7M146 597.1h0.7M140.7 589.9h0.7M134.2 594.5h0.7M149.8 595.8h0.7M167.1 590.1h0.7M142.1 593.4h0.7M152.4 590.2h0.7M140.1 594.3h0.7M138.9 592.6h0.7M147.1 580h0.7M155.3 599.4h0.7M146.5 588.8h0.7M158.1 583.6h0.7M150 592h0.7M144.7 591.5h0.7M142.2 589.8h0.7M155.8 586h0.7M144.7 588.8h0.7M154.4 588.4h0.7M142.1 593.8h0.7M131.7 585.8h0.7M152.4 598.7h0.7M145.4 593.2h0.7M137.3 593.8h0.7M151.6 593.2h0.7M143.1 600.7h0.7M141.2 599.3h0.7M140.1 596.2h0.7M161.9 598.3h0.7M148.8 583.8h0.7M157.4 586.4h0.7M140.2 590.1h0.7M141.7 595.8h0.7M151.5 593.7h0.7M157.6 587.8h0.7M156.2 595.2h0.7M166.6 588.6h0.7M147.5 587.3h0.7M146.3 591.7h0.7M152.2 584.6h0.7M146.3 590.7h0.7M144.6 589.2h0.7M153 586.1h0.7M154.1 585.4h0.7M151.8 585.7h0.7M160.5 592.3h0.7M162 585h0.7M138 587.3h0.7M147.9 596.1h0.7M156.3 592.8h0.7M138.8 597.8h0.7M156.5 587.3h0.7M127 591.7h0.7M148.7 598.2h0.7M151.9 590.3h0.7M164.2 595.2h0.7M153.3 593.1h0.7M161.2 585.7h0.7M153.6 588.4h0.7M141.2 594.8h0.7M159.9 597.5h0.7M156.9 594.8h0.7M148.3 584.6h0.7M144.2 593.8h0.7M144.6 600.5h0.7M161 588.1h0.7M165.7 591h0.7M164.9 587.5h0.7M157.1 588.7h0.7M150.1 596.1h0.7M167.3 588.4h0.7M152.7 586.6h0.7M148.1 593.6h0.7M138.7 591.2h0.7M139.9 593.8h0.7M158.1 591h0.7M147.5 587h0.7M135.4 593.8h0.7M163.8 587.3h0.7M149.4 589.1h0.7M139.8 597.7h0.7M156.5 583.2h0.7M138.8 599.1h0.7M142.1 592.3h0.7M140.7 594.2h0.7M142.9 589.6h0.7M140 601.4h0.7M173.7 587.7h0.7M156.1 592.5h0.7M150.1 590.6h0.7M146.8 595.1h0.7M138.9 589.3h0.7M156.5 583.6h0.7M164.8 587.1h0.7M151.8 596.7h0.7M149.7 591.7h0.7M144.7 594.3h0.7M156.4 585.9h0.7M156.1 594.3h0.7M154.4 586.9h0.7M158.6 595.6h0.7M145.6 583.6h0.7M143.7 592.3h0.7M161.9 594.2h0.7M156.3 587h0.7M157 589.7h0.7M140.8 584.7h0.7M159.2 582h0.7M161.5 599.1h0.7M150.4 587.2h0.7M144.3 589h0.7M153.6 594.9h0.7M143.2 590.8h0.7M144.2 597.3h0.7M159 585.6h0.7M147.3 592.3h0.7M133.7 591.6h0.7M151.4 584.5h0.7M152 590.9h0.7M145 596.6h0.7M141.5 594.5h0.7M147.8 596.4h0.7M142.9 595h0.7M155.7 595.1h0.7M164.8 581.5h0.7M149.4 586.3h0.7M159 595.5h0.7M147.3 592.6h0.7M162 589.7h0.7M148.9 583.8h0.7M143.6 596.7h0.7M136.7 594.8h0.7M152.1 590.6h0.7M157.4 586.3h0.7M162.8 586.7h0.7M159.4 586.7h0.7M152.5 589.1h0.7M165.4 583.5h0.7M144.3 598.7h0.7M157.5 589.5h0.7M147.7 585.7h0.7M147.6 593.1h0.7M161.1 593.2h0.7M163.4 590.3h0.7M143.6 590.7h0.7M164.1 588.9h0.7M163 581.5h0.7M145.6 588.2h0.7M152.5 587h0.7M137.9 592.9h0.7M129.1 592.2h0.7M154 585.1h0.7M149.6 587.1h0.7M146.9 592.7h0.7M154.4 592.2h0.7M143.1 599.2h0.7M153.1 587.5h0.7M162.4 587h0.7M168.1 591.6h0.7M149.1 589h0.7M142.4 588.9h0.7M147.6 597.7h0.7M151.8 590.4h0.7M154.1 588.9h0.7M138.6 586.4h0.7M163.4 587.4h0.7M165.1 597h0.7M152.8 594.1h0.7M146.9 591.1h0.7M151 590.9h0.7M164.2 588.1h0.7M158.6 590.1h0.7M156.1 598.4h0.7M135.9 599.1h0.7M144.5 593.1h0.7M147.1 589.5h0.7M137.6 581.1h0.7M170.3 591.4h0.7M148.1 582.9h0.7M156.6 597.2h0.7M154.4 582.4h0.7M145.4 593.2h0.7M149.6 596.4h0.7M141.2 589.8h0.7M126.9 600.6h0.7M156.3 588h0.7M133.3 598.2h0.7M136.9 587.6h0.7M132 587.8h0.7M141.2 587.6h0.7M160.5 592.5h0.7M150.8 588.2h0.7M149.7 584.9h0.7M153.9 585.9h0.7M145.2 593.5h0.7M141.7 586h0.7M159.8 581.1h0.7M137.9 587.8h0.7M143.1 591.6h0.7M119.4 594.3h0.7M163.4 594.1h0.7M158.4 589.1h0.7M152.1 588h0.7M134 595.6h0.7M160.3 590.5h0.7M149.7 595.1h0.7M153 595.7h0.7M145.9 583.3h0.7M154.7 594.3h0.7M142.6 593.5h0.7M156.9 576.8h0.7M173.5 590.3h0.7M148.1 585.9h0.7M134.8 609.6h0.7M146.9 594.9h0.7M143.6 590.6h0.7M156.3 585.4h0.7M149.2 590.2h0.7M154.6 594.2h0.7M148.3 598h0.7M145.4 590h0.7M150.8 589.6h0.7M157.5 576.1h0.7M132.9 583.8h0.7M163.6 592.4h0.7M143.3 594.1h0.7M132.9 592.7h0.7M164.3 591.5h0.7M170.6 584.9h0.7M161.1 589.5h0.7M153.1 591.7h0.7M157.5 596h0.7M150.7 592.7h0.7M149.1 592.6h0.7M142.3 597.2h0.7M156.9 591.3h0.7M150 587.9h0.7M141 587.4h0.7M142.5 596.8h0.7M154.3 583.5h0.7M140.8 599.2h0.7M166.3 592.1h0.7M170.6 584h0.7M154.5 587.3h0.7M171.8 589.2h0.7M154.4 592.1h0.7M143.8 592.1h0.7M128.4 593.1h0.7M140.8 596.7h0.7M163.4 590.1h0.7M140.6 587.8h0.7M157.7 588.6h0.7M148.1 586.5h0.7M153 591.7h0.7M158.4 585.3h0.7M150.3 584.5h0.7M152.9 590.8h0.7M147.1 596.2h0.7M138.4 600.9h0.7M154.7 593.2h0.7M153.4 587.4h0.7M145.3 596.8h0.7M150.6 592.8h0.7M147.4 595.9h0.7M157.1 583.9h0.7M169.7 592.7h0.7M158.8 591.3h0.7M150.3 595.4h0.7M175.8 586.2h0.7M140.2 593.1h0.7M151.5 595.7h0.7M139 591.3h0.7M147.7 596.4h0.7M161.5 590.2h0.7M161.1 589.8h0.7M151.7 580.2h0.7M142.1 587.5h0.7M155 590.8h0.7M140.2 593.3h0.7M149.4 593.2h0.7M145.2 588.7h0.7M162.2 587.7h0.7M160.2 585.2h0.7M148.3 590h0.7M141.1 596.2h0.7M137.5 594.6h0.7M129.9 598.2h0.7M150.8 596.4h0.7M169.7 584.3h0.7M150.5 585h0.7M145.9 592.2h0.7M150.7 594.7h0.7M155.1 594.8h0.7M143.8 593h0.7M140.4 592.1h0.7M124.2 595.4h0.7M150.7 588.8h0.7M146.4 583.8h0.7M144 589.4h0.7M152.3 592.8h0.7M146 591.2h0.7M153.6 586.2h0.7M159.8 598.8h0.7M153.8 588.1h0.7M152.3 596.1h0.7M162.3 582.5h0.7M153.3 587.1h0.7M146 593.1h0.7M155.3 588.8h0.7M142.1 591.6h0.7M140.4 601h0.7M135.4 596.6h0.7M151.2 590.9h0.7M140.2 590.6h0.7M146.9 589.1h0.7M147.8 592h0.7M145.9 593.9h0.7M157 587.2h0.7M157 590h0.7M144.8 594.2h0.7M160.6 587.6h0.7M132.7 597.8h0.7M159.5 584.1h0.7M148.7 593.4h0.7M127.6 598.8h0.7M156.8 593.5h0.7M164.1 583.5h0.7M158.9 599.9h0.7M128.6 593.2h0.7M156.6 586.4h0.7M132.5 595.6h0.7M151.5 587.3h0.7M152.2 594.8h0.7M159.4 591.2h0.7M138.1 591.7h0.7M128.2 589.9h0.7M151.3 593.2h0.7M149.5 590.9h0.7M131.1 588.3h0.7M138.8 590.1h0.7M144 602.2h0.7M159.2 584.3h0.7M143.3 589.5h0.7M144.1 589.5h0.7M130.2 599.9h0.7M156.1 592.7h0.7M150.6 592.9h0.7M146.1 582.2h0.7M150.7 590.8h0.7M137 582.6h0.7M160.4 584.1h0.7M147.6 587.9h0.7M165.6 580.9h0.7M159.6 577.1h0.7M158.3 586.9h0.7M128 595.1h0.7M148.8 583.4h0.7M152.9 590.1h0.7M154 583.4h0.7M142.3 587.6h0.7M150.6 588.1h0.7M139.9 599.1h0.7M144.4 596.9h0.7M157.4 586h0.7M131.9 595h0.7M155.9 595.2h0.7M153.2 592.2h0.7M143.4 588.5h0.7M180.2 590.6h0.7M136.8 594.6h0.7M153.9 581.6h0.7M146.8 594h0.7M165.4 595.6h0.7M146.1 590h0.7M145.1 592.7h0.7M157.8 584.4h0.7M147.9 588.4h0.7M142.2 589.8h0.7M167.1 595.9h0.7M163.6 580.4h0.7M152.5 601.7h0.7M153.6 586.8h0.7M155.3 588.6h0.7M145.7 592.8h0.7M154.2 589.2h0.7M149.4 586.1h0.7M149.2 594.3h0.7M150.5 589.9h0.7M135.8 598.8h0.7M138.5 596.1h0.7M146.1 595.3h0.7M159.6 587.6h0.7M120.5 586.6h0.7M140.3 588.2h0.7M152.4 599.7h0.7M156 589.1h0.7M162.6 587.6h0.7M157.9 591.1h0.7M131.1 598.9h0.7M166.6 586.2h0.7M157 592h0.7M147.1 589.6h0.7M159.3 586.1h0.7M144.5 595.9h0.7M158.6 596.7h0.7M144.1 585.6h0.7M160.2 581.7h0.7M145.8 590.6h0.7M166.2 588h0.7M138.2 592.9h0.7M162.5 580h0.7M137.1 598.1h0.7M150.9 585.9h0.7M147.8 591.6h0.7M138.7 590.3h0.7M163.7 589.9h0.7M160.5 588.8h0.7M144.4 593.4h0.7M141 594.3h0.7M146.8 590.1h0.7M147.2 586.9h0.7M162.9 581.4h0.7M151.9 584.6h0.7M158.4 588.3h0.7M151.5 592.8h0.7M153.2 591.2h0.7M153.3 591.9h0.7M145.4 590.3h0.7M147.5 588h0.7M144.6 598.1h0.7M136.1 601.4h0.7M144.8 594.8h0.7M149.8 590.1h0.7M155.1 597.9h0.7M148.7 591h0.7M144.7 601.4h0.7M161 594.1h0.7M150.1 582h0.7M154.4 581.7h0.7M143.8 596.6h0.7M144.3 588.7h0.7M129.6 598h0.7M153.7 587.9h0.7M153.3 582.7h0.7M140.9 593.5h0.7M158.2 589.2h0.7M138.1 590.8h0.7M160.4 586.2h0.7M152.2 592.5h0.7M144.6 592h0.7M132.7 591.4h0.7M150.1 593.8h0.7M162.1 586.4h0.7M154.2 589.5h0.7M142.3 588.6h0.7M149.2 591.1h0.7M142.6 605.1h0.7M149.5 594.1h0.7M147.2 604.4h0.7M128.5 593.2h0.7M151.5 596.2h0.7M149.2 586.4h0.7M164.6 591.3h0.7M147.2 590.2h0.7M147.3 592.1h0.7M133.5 594.5h0.7M143.9 594.2h0.7M152.8 585.4h0.7M162.5 592.1h0.7M141.1 587.6h0.7M143.2 593.7h0.7M161.6 584.5h0.7M142.3 594.7h0.7M149.2 590.7h0.7M148.5 589.6h0.7M166.2 592.4h0.7M146.5 597.3h0.7M167.5 589.8h0.7M152.5 588.1h0.7M150.8 591.7h0.7M162 584.2h0.7M134.2 591.4h0.7M153.1 580.9h0.7M147.7 587.5h0.7M139 593.5h0.7M160.6 582.5h0.7M151.7 589.7h0.7M155.7 589.8h0.7M143.6 596.1h0.7M144.9 573.1h0.7M132.8 574.8h0.7M143.8 583h0.7M139.9 576.6h0.7M133.7 576.2h0.7M143.3 575.5h0.7M142.2 573.3h0.7M138.2 580.2h0.7M135 578.8h0.7M148.6 575.6h0.7M140.2 574.1h0.7M136.2 575.5h0.7M136.4 577.4h0.7M139.9 572.4h0.7M142.8 584h0.7M146.5 577h0.7M142.5 572.8h0.7M141.4 582.1h0.7M146.3 585.9h0.7M135.1 587h0.7M144.4 587h0.7M142.6 585.2h0.7M142.4 572.7h0.7M144.1 575.7h0.7M142.3 581.3h0.7M146.4 582h0.7M147.3 570h0.7M148.3 573.9h0.7M143 576.2h0.7M136.8 583.3h0.7M137.5 575.4h0.7M149.7 566.2h0.7M134.2 583.7h0.7M140.5 582.7h0.7M142.5 575.8h0.7M146 574.6h0.7M139.8 579.7h0.7M137.1 570.6h0.7M134.3 583.6h0.7M152.1 584.9h0.7M139.4 575.7h0.7M137.6 578.5h0.7M147.7 578.1h0.7M142.4 560.8h0.7M144.1 571.9h0.7M141.3 580.5h0.7M143.1 582.6h0.7M150.2 566.1h0.7M134.9 587.6h0.7M145 574.6h0.7M141.3 578.6h0.7M147.9 576.8h0.7M142.6 571.3h0.7M150 581.1h0.7M140.3 571.3h0.7M142.6 583.5h0.7M154.2 589.2h0.7M140.8 576.4h0.7M137.8 581.2h0.7M138.9 581.9h0.7M144.4 581h0.7M137.9 585.1h0.7M141.8 572.1h0.7M142.6 579.7h0.7M143.1 584h0.7M148.8 591.3h0.7M142.3 585.5h0.7M129.8 589.1h0.7M142.7 585.8h0.7M141.6 581.8h0.7M146 575.5h0.7M140 562.9h0.7M145.6 578h0.7M141.7 585.6h0.7M144.6 580.1h0.7M133.4 579.7h0.7M141.4 584.3h0.7M140.4 572.1h0.7M141.7 589h0.7M138.5 585.9h0.7M142 567.7h0.7M146 591.9h0.7M145.1 573h0.7M141.8 574h0.7M157.3 581.9h0.7M131 583.4h0.7M145.1 573.2h0.7M139.8 578.5h0.7M151.5 575.9h0.7M139.1 584.2h0.7M139.7 573.1h0.7M142.2 583.4h0.7M143.6 576.8h0.7M150.1 586.5h0.7M134.8 572.4h0.7M138.2 577.6h0.7M143.7 578.4h0.7M143.2 581.3h0.7M136.4 566.8h0.7M144.4 585.7h0.7M143.8 576.6h0.7M145.7 577.1h0.7M136.3 576.8h0.7M146.7 580.7h0.7M146.3 576.1h0.7M145.7 586.8h0.7M141.3 576.2h0.7M149.1 579.5h0.7M137.1 576.6h0.7M149.5 580.9h0.7M152.3 582.4h0.7M144.2 584.8h0.7M139.9 584.8h0.7M142.5 577.6h0.7M144.9 576.4h0.7M137.3 574h0.7M145.6 580.6h0.7M143.4 582.9h0.7M138.5 576.7h0.7M151.1 573.8h0.7M149.4 577.5h0.7M145.6 580.3h0.7M141.7 579.6h0.7M147.8 575.2h0.7M138.3 583.7h0.7M141 578.1h0.7M142.1 576.7h0.7M134 578.5h0.7M140.7 571.6h0.7M140.2 580.3h0.7M151.6 576h0.7M149.7 576.5h0.7M145.3 577.6h0.7M146.7 579.8h0.7M141.1 570.6h0.7M147.9 570.8h0.7M140 588.7h0.7M144.2 579.5h0.7M143.7 580.4h0.7M141.3 580.9h0.7M142.2 577.2h0.7M145.4 582.5h0.7M144.8 584.2h0.7M152.3 588.5h0.7M143.6 573.1h0.7M148.8 579.7h0.7M146.9 577.1h0.7M147.3 573h0.7M143.9 571.8h0.7M153.1 577.7h0.7M132.7 586.1h0.7M148 586.6h0.7M137.6 581.2h0.7M149.7 578.2h0.7M145.1 578h0.7M141.7 586.7h0.7M139.4 579.4h0.7M146 579.5h0.7M147.4 568.5h0.7M148.8 572.8h0.7M142.2 577.4h0.7M145.5 578.2h0.7M141.1 583h0.7M153.4 575.9h0.7M139.9 576.1h0.7M137.2 572.6h0.7M140.9 583.1h0.7M140.7 574.7h0.7M142.6 574.9h0.7M156.5 587.5h0.7M143.3 570h0.7M140.4 574.2h0.7M138.8 567.4h0.7M140.6 575.9h0.7M139.8 572.2h0.7M144.9 574.5h0.7M132 573.5h0.7M147 585.6h0.7M137.5 578.2h0.7M145.8 584h0.7M159.6 589.3h0.7M159.9 580.1h0.7M173.1 587.7h0.7M168.2 587.1h0.7M155.5 585.9h0.7M167.4 582.4h0.7M179.2 598.1h0.7M141.7 592.1h0.7M159.8 590.7h0.7M165.9 587.2h0.7M172.9 588.5h0.7M178.6 589.5h0.7M150 587.3h0.7M164.2 585.5h0.7M152.1 596.7h0.7M163.5 587.9h0.7M148.2 590.5h0.7M163 592.9h0.7M180.8 585.2h0.7M157.1 593.2h0.7M174.8 589.5h0.7M171.3 586.7h0.7M164 588.1h0.7M143.3 591.4h0.7M171.9 584h0.7M158.9 589.4h0.7M171.3 588.2h0.7M159.8 590h0.7M165.5 583.7h0.7M161.1 586.5h0.7M170.7 582.3h0.7M156.4 586.4h0.7M164.5 598.5h0.7M162.5 592.7h0.7M171.8 593.8h0.7M181.1 590.6h0.7M154.8 586.5h0.7M178.9 597.6h0.7M176.7 598.7h0.7M171 584.4h0.7M165.2 589.4h0.7M173.3 591.9h0.7M155.7 593.3h0.7M158.8 589.3h0.7M170.6 591.2h0.7M169.3 585.7h0.7M163 592.2h0.7M159.8 582.9h0.7M139.3 588.2h0.7M155.4 588.1h0.7M153.7 586.2h0.7M160.6 592.3h0.7M155.6 582.8h0.7M165.2 591.7h0.7M155.2 590.3h0.7M164.3 590.3h0.7M145.9 588.5h0.7M161.6 589h0.7M157.4 587.5h0.7M142.7 588h0.7M177.5 588.9h0.7M164.8 589.6h0.7M178 585h0.7M149.6 583.1h0.7M157.4 588.4h0.7M172.2 584.8h0.7M154.1 592h0.7M174.6 584.6h0.7M171.5 587.2h0.7M159.2 587.4h0.7M155.6 580.4h0.7M150 584.6h0.7M166.9 589.7h0.7M172.4 584.5h0.7M163.6 581.6h0.7M154.2 592.5h0.7M162.6 596.3h0.7M170.6 585.9h0.7M157 578.7h0.7M176.9 592.4h0.7M167.2 583.3h0.7M146.4 586.2h0.7M163.6 581.4h0.7M170.8 592.3h0.7M154.2 586.8h0.7M149.9 592.5h0.7M155 582.9h0.7M144.3 583.4h0.7M146.6 592.7h0.7M170.2 582.4h0.7M155 587.6h0.7M164.9 583.2h0.7M177.3 590.8h0.7M184 575.5h0.7M148 591.2h0.7M166.1 586.7h0.7M152.3 590.2h0.7M158.7 594.1h0.7M174.9 592.1h0.7M145.4 589.4h0.7M181.5 596.2h0.7M176.4 593.1h0.7M156.2 594.6h0.7M182.8 589.9h0.7M169.1 587.3h0.7M165.8 586.6h0.7M168.7 587.2h0.7M148.7 585.2h0.7M168 588.9h0.7M178.6 592.3h0.7M177 587.8h0.7M174.7 584.8h0.7M157.2 592h0.7M166.4 584.4h0.7M173.5 594.6h0.7M171.7 593.9h0.7M173.3 592.2h0.7M155.9 579.5h0.7M160.5 573.3h0.7M128.4 568.4h0.7M183.1 582.8h0.7M135.3 601.8h0.7M168.3 575.7h0.7M131.5 596.2h0.7M189.6 574.3h0.7M116.3 604.7h0.7M166.5 571.3h0.7M130 577.3h0.7M130.6 599.8h0.7M190.5 583.3h0.7M134.4 577.5h0.7" stroke="#000" stroke-width="0.7" stroke-opacity="0.45"/>
</g>
<g clip-path="url(#c8)">
<ellipse cx="248" cy="552" rx="17" ry="6" fill="#000" fill-opacity="0.22" filter="url(#b3)"/>
<ellipse cx="235" cy="571" rx="7" ry="12" fill="#000" fill-opacity="0.1" filter="url(#b3)"/>
<ellipse cx="240" cy="594" rx="10" ry="8" fill="#000" fill-opacity="0.22" filter="url(#b3)"/>
<ellipse cx="256" cy="574" rx="14" ry="14" fill="#000" fill-opacity="0.04" filter="url(#b3)"/>
<path d="M249 549.1h0.7M258.7 551.6h0.7M249.3 544h0.7M253.6 552.3h0.7M222.9 552.9h0.7M250.8 549.1h0.7M233.6 546.3h0.7M247.1 552.1h0.7M244.2 560h0.7M246.5 552.6h0.7M227.6 553.1h0.7M258 548.3h0.7M272 549.7h0.7M248.5 550.4h0.7M242 540.4h0.7M257.1 543.1h0.7M261.7 547.4h0.7M240.4 562h0.7M235 551h0.7M231.6 551.1h0.7M251.6 558.2h0.7M253.9 555.5h0.7M237.4 552.2h0.7M269.3 553.4h0.7M272.2 547.1h0.7M238.2 552h0.7M234.4 554.5h0.7M233.2 553.3h0.7M228.6 548.5h0.7M249.8 554.3h0.7M235.1 545.8h0.7M253.5 547.9h0.7M251.6 557.1h0.7M254.6 545.8h0.7M261.7 556.4h0.7M239.6 550.2h0.7M264 553.2h0.7M252 556.3h0.7M253.4 563.3h0.7M263.7 552.6h0.7M248.4 550.8h0.7M261.7 547.2h0.7M257.7 549.6h0.7M224.7 556h0.7M252.2 553.2h0.7M243.3 551.9h0.7M239.4 557.4h0.7M263.6 551.9h0.7M247.3 553.2h0.7M258.1 553h0.7M241.7 551.1h0.7M250.6 551.5h0.7M242.5 557h0.7M252.3 555.8h0.7M236.6 555.5h0.7M247.6 551.1h0.7M239.1 549.5h0.7M241.6 552.6h0.7M246.3 560.2h0.7M253.2 553.1h0.7M246.3 548.9h0.7M237.6 553.6h0.7M229 558.7h0.7M266.3 546.2h0.7M262 556.6h0.7M261.1 554.9h0.7M267.3 548.9h0.7M241.9 554.6h0.7M248.1 546.4h0.7M257.3 556.3h0.7M244.9 553.7h0.7M259 543.7h0.7M240.7 548.6h0.7M245.7 547.2h0.7M232.1 553h0.7M269.5 547.2h0.7M266.8 556h0.7M259.6 557.5h0.7M242.4 556.7h0.7M229.3 549h0.7M251.5 555.3h0.7M230.9 544.5h0.7M252.5 553.3h0.7M255.9 551.9h0.7M231.8 556.7h0.7M256.9 552.9h0.7M273.8 553.1h0.7M265.8 551.6h0.7M261.7 545.3h0.7M256.3 551.1h0.7M258.5 553.7h0.7M235.5 554.5h0.7M247.1 555.8h0.7M271 551.4h0.7M267.4 551.8h0.7M255 553h0.7M239.5 552.7h0.7M242.2 554.5h0.7M234.9 548.3h0.7M258.1 554.4h0.7M254.5 554.5h0.7M260.3 554.1h0.7M258.8 549.1h0.7M253.9 549.3h0.7M232.8 551.3h0.7M255.5 552.3h0.7M269.2 555h0.7M252.9 552.7h0.7M231.5 552.5h0.7M248 559.3h0.7M238.2 551.7h0.7M239 552.9h0.7M226.9 553.4h0.7M247.9 553h0.7M279.5 551.9h0.7M253.6 552.2h0.7M260.9 561.3h0.7M268.2 553.6h0.7M232.4 554h0.7M227.8 548.7h0.7M240.6 547.8h0.7M247.7 550.8h0.7M238.8 553.7h0.7M238.8 557.4h0.7M255.4 550.5h0.7M253 549.5h0.7M240.1 556.4h0.7M228.3 554.1h0.7M270.9 543.3h0.7M276.7 544.4h0.7M233.5 549.8h0.7M224.4 551.4h0.7M257.4 549h0.7M248.9 554.7h0.7M268.6 551.8h0.7M256.2 554.2h0.7M248.1 550.8h0.7M251.9 555h0.7M231.4 550.6h0.7M251.6 553.4h0.7M251.5 558.8h0.7M260.3 547h0.7M266.8 549.3h0.7M237.3 556.5h0.7M243.4 545.3h0.7M255 554h0.7M254 546.4h0.7M257.2 549.6h0.7M258.4 547h0.7M235.6 544.1h0.7M237.8 556.5h0.7M250.2 549.8h0.7M264.1 553h0.7M256.8 553.5h0.7M246.1 552.7h0.7M252.7 556.7h0.7M254.7 555.7h0.7M233.7 544.4h0.7M251.2 552.7h0.7M252.7 548h0.7M249 547.7h0.7M248.3 551.8h0.7M245.1 553.3h0.7M241.1 552h0.7M255.8 558.3h0.7M252.2 555.4h0.7M254.4 558.9h0.7M272.9 549.5h0.7M255.7 553.3h0.7M266.7 542.1h0.7M239.3 545h0.7M264.1 553.2h0.7M255.4 553.8h0.7M250.7 553.8h0.7M242.2 543.7h0.7M251.3 551.8h0.7M240.3 549.6h0.7M263.3 549.1h0.7M234.3 554.8h0.7M265.2 546.8h0.7M235.1 547.8h0.7M251.9 554.4h0.7M264.5 551.8h0.7M244.2 549.6h0.7M261 549.6h0.7M237 551.1h0.7M246.8 553.7h0.7M239.5 559.2h0.7M270.6 547.5h0.7M248.9 547.9h0.7M243.7 547h0.7M243.7 553.1h0.7M249.2 546.6h0.7M222.6 544.5h0.7M262.1 551.3h0.7M248 558h0.7M234.8 553.7h0.7M238.8 552.8h0.7M224.1 550.4h0.7M246.2 552.5h0.7M229.5 551h0.7M257.9 551.7h0.7M257.6 554.7h0.7M250.1 550.5h0.7M248 548.2h0.7M255.2 553.4h0.7M261.7 561.2h0.7M257.5 554.3h0.7M249.4 555.5h0.7M264 550.9h0.7M231.6 546.5h0.7M259.3 553.9h0.7M253.7 545.2h0.7M240.2 545.7h0.7M233 549.7h0.7M238.7 558.5h0.7M231.5 549.5h0.7M237.9 552.3h0.7M256 548.7h0.7M226.6 550.3h0.7M252 547.6h0.7M259 547.8h0.7M239.1 550.2h0.7M270.6 555.2h0.7M251.4 547.9h0.7M233.3 549.2h0.7M266.7 557.4h0.7M248.8 549.1h0.7M225.4 550.2h0.7M253.4 554.3h0.7M251.9 549.1h0.7M253.3 551.4h0.7M257.8 553.1h0.7M256.5 553.4h0.7M241.3 556.8h0.7M234.3 554.8h0.7M241.6 550.5h0.7M250.4 549.9h0.7M234.5 548.2h0.7M233.3 552.1h0.7M250.9 551.7h0.7M228 552.6h0.7M258.7 547.4h0.7M236 555.8h0.7M245 556.4h0.7M243 546.2h0.7M246.6 551.8h0.7M250.7 548.6h0.7M241.4 560.3h0.7M240.3 558.5h0.7M233.3 553h0.7M251.6 555.6h0.7M247 549.4h0.7M248.4 546h0.7M266.3 555.4h0.7M269.6 554h0.7M229.2 548h0.7M250.9 548.6h0.7M235.5 547.6h0.7M237.8 544.3h0.7M252.2 549.1h0.7M262.5 558.7h0.7M246.2 556.3h0.7M260.5 552.9h0.7M244.9 557.2h0.7M255.1 551.3h0.7M241 552h0.7M258.5 554.8h0.7M239.9 551.4h0.7M249.1 550.4h0.7M246 548.1h0.7M237.3 553.2h0.7M250 550.8h0.7M273.4 551.3h0.7M255.6 553.2h0.7M241.4 554.8h0.7M260.4 552.1h0.7M253.2 563.5h0.7M236.4 551.2h0.7M254.1 552.1h0.7M237.3 550.1h0.7M244.4 551h0.7M247.8 558.4h0.7M249.9 550.5h0.7M255.5 554.7h0.7M234.3 549.6h0.7M234 553.4h0.7M257.6 551.2h0.7M262.1 549.8h0.7M243.4 551.8h0.7M249.4 558.7h0.7M233.9 554.3h0.7M248.2 556.8h0.7M231.2 547.4h0.7M267.7 557.1h0.7M260.2 551.6h0.7M260 552.1h0.7M234.2 551.5h0.7M244.1 547.9h0.7M240.4 549.3h0.7M253.5 556h0.7M260.6 556.5h0.7M234.4 554.4h0.7M257 553.7h0.7M235.9 540.4h0.7M249.1 548.8h0.7M258 546.2h0.7M253.8 550.3h0.7M231.3 550.3h0.7M245.4 555.4h0.7M256.8 557h0.7M256.3 550.2h0.7M241.9 552.7h0.7M243 545.5h0.7M222.4 555.1h0.7M248.5 560h0.7M241 556.2h0.7M248.9 554h0.7M248 556.5h0.7M253.3 550.2h0.7M245.9 551.1h0.7M248.1 553h0.7M242 549.7h0.7M247 544.9h0.7M252 553.5h0.7M246.9 543h0.7M252.4 556h0.7M252.8 555.8h0.7M245.9 555.5h0.7M255.5 551.5h0.7M248.1 545.4h0.7M230.9 556.1h0.7M259.6 548.7h0.7M228.7 544.1h0.7M261 553.4h0.7M270 557.1h0.7M271.5 555.4h0.7M240.3 550.7h0.7M260.4 546.3h0.7M253.9 550.4h0.7M262.5 549.8h0.7M238.2 555.8h0.7M250.5 549.6h0.7M255 550.1h0.7M254.5 552.4h0.7M256.1 548.2h0.7M238.9 559.4h0.7M250.7 551.3h0.7M236.1 549.9h0.7M249.8 547.1h0.7M246.4 550.9h0.7M223.4 552h0.7M261.7 550.2h0.7M244.4 553h0.7M239.7 545h0.7M247.3 550.2h0.7M239.2 557.5h0.7M248.3 549h0.7M238.7 558.4h0.7M256.7 544.8h0.7M254.2 550h0.7M239.9 556.5h0.7M255.6 548.6h0.7M246.7 554.5h0.7M245.5 553.6h0.7M238.5 557.2h0.7M264.4 549.3h0.7M229.8 550.1h0.7M257.4 552.8h0.7M246.3 552.7h0.7M229.1 551.8h0.7M245.7 549.4h0.7M256.5 549.3h0.7M239.2 554.8h0.7M254.6 552.3h0.7M249.7 553.6h0.7M251 548.1h0.7M257 560.1h0.7M251.6 550.9h0.7M261.1 554.5h0.7M237.9 551.6h0.7M240.1 556.1h0.7M231.2 557h0.7M238.8 553.2h0.7M241.7 553.5h0.7M261 554.5h0.7M232.3 551h0.7M248.6 559.6h0.7M240.8 550.4h0.7M237.7 551.8h0.7M255 548h0.7M263.9 557.1h0.7M256.7 554.5h0.7M276.5 547.7h0.7M240.4 560.7h0.7M232.2 553.3h0.7M244.9 548.2h0.7M235.6 551.1h0.7M250.3 554h0.7M254.2 552.3h0.7M247.4 554.5h0.7M239.3 546.7h0.7M257.1 543.6h0.7M253.7 557.1h0.7M231.9 543h0.7M236.7 553.2h0.7M235.3 556.1h0.7M254.7 548h0.7M256.2 546.2h0.7M241.5 552.9h0.7M263 555.2h0.7M265.1 546.1h0.7M285.8 548.4h0.7M250.3 558.3h0.7M253.2 556.9h0.7M232.1 547.4h0.7M241.6 549.7h0.7M248.3 550.7h0.7M232.8 552.9h0.7M229.9 549.2h0.7M250.8 548.4h0.7M246.7 554.6h0.7M264.9 556.8h0.7M257.7 554h0.7M231.7 548.5h0.7M236.3 549.8h0.7M245.3 548.1h0.7M241.6 556.5h0.7M241.6 544.1h0.7M243.4 551.4h0.7M242.5 560.6h0.7M258.1 558.8h0.7M239.4 555h0.7M249.9 551.6h0.7M236.7 552.8h0.7M223.3 555.8h0.7M280.6 557.9h0.7M221.4 552.7h0.7M237.7 549.4h0.7M243.5 556.7h0.7M255.6 548.5h0.7M253.5 552.5h0.7M271.4 546h0.7M245.3 548.1h0.7M246.3 543.7h0.7M235.5 551.5h0.7M239.5 548.3h0.7M245.2 549.6h0.7M235.4 550.9h0.7M246.9 553.2h0.7M225.7 550.2h0.7M260.8 546.1h0.7M248.2 549.9h0.7M259.7 556.8h0.7M249.8 549.9h0.7M227.5 549.7h0.7M236.5 552h0.7M265.2 559.5h0.7M250.3 552.4h0.7M245 553.1h0.7M244.2 558.9h0.7M237.6 552.4h0.7M239.3 555.7h0.7M268.3 554.6h0.7M249.1 552.1h0.7M253.7 550.1h0.7M266.6 559h0.7M258.9 555.2h0.7M242.1 559.3h0.7M230.4 549.1h0.7M272.3 550.3h0.7M237.3 545.4h0.7M259.4 556.8h0.7M249.6 545.5h0.7M246.1 548.9h0.7M257.9 557.9h0.7M252.4 553.8h0.7M265.6 558.8h0.7M233 553.9h0.7M233.2 549h0.7M260.9 547.7h0.7M245.3 557h0.7M252.8 545.6h0.7M246.2 551.2h0.7M236.6 560.2h0.7M248.1 552.4h0.7M259.7 552.8h0.7M231.8 552.2h0.7M252.6 552.8h0.7M260.2 555.7h0.7M253.8 551.6h0.7M248.2 559.9h0.7M228.1 556.7h0.7M253.1 549.5h0.7M247.6 554.7h0.7M231.2 552.9h0.7M254.7 548.7h0.7M249.4 557.8h0.7M250.2 548.9h0.7M229 545.3h0.7M259.5 551.5h0.7M246.7 551.5h0.7M239.2 559.2h0.7M256.1 558.2h0.7M233.7 554.7h0.7M255.7 547.8h0.7M237.6 549.1h0.7M259.9 553.2h0.7M239.5 555h0.7M240.1 552.8h0.7M247 548.9h0.7M259.1 552.5h0.7M220.9 551.6h0.7M265.6 543.5h0.7M258.6 553.2h0.7M233.4 552.2h0.7M234.5 546.3h0.7M252.4 553.4h0.7M226.6 550.2h0.7M248.2 546.1h0.7M260.6 549.4h0.7M252.5 554.8h0.7M236.7 553.6h0.7M249.2 553.9h0.7M242.7 556.1h0.7M256.3 558.3h0.7M260.5 547h0.7M241.2 554h0.7M259.7 549.5h0.7M248 553.5h0.7M246.6 556.2h0.7M236.2 554.3h0.7M238.5 554h0.7M237 551.2h0.7M258.8 548.5h0.7M248.7 554.8h0.7M246.5 551.2h0.7M248 548.8h0.7M256.8 555.1h0.7M268.3 553.4h0.7M260.7 550.3h0.7M253.5 548.7h0.7M250.7 551h0.7M259.1 544.3h0.7M245.9 551.1h0.7M255.7 549.5h0.7M242.9 557.2h0.7M240.5 550.8h0.7M261.2 544.1h0.7M252.6 553.6h0.7M250.9 545.3h0.7M231.2 549.1h0.7M237.8 554.9h0.7M242.7 557.8h0.7M247.6 554.7h0.7M240.1 550h0.7M252.9 555.7h0.7M240.2 557.3h0.7M245.1 558.4h0.7M233.5 550.9h0.7M255.5 552h0.7M241.1 554.8h0.7M259 550.7h0.7M256.8 550.6h0.7M238.6 557.3h0.7M241.3 550.4h0.7M256.8 548.5h0.7M236.9 551.3h0.7M248.9 555.9h0.7M245.7 549.8h0.7M232.9 551h0.7M242.4 556.6h0.7M229 545.4h0.7M226 551.3h0.7M252.9 558.6h0.7M228.8 552.9h0.7M240.5 558.6h0.7M251.8 558.2h0.7M247.4 556.4h0.7M251.9 549.8h0.7M258.7 551h0.7M221.4 551.8h0.7M233.3 554.3h0.7M265.7 553.4h0.7M254.2 547.4h0.7M238.4 549.9h0.7M270.7 550.6h0.7M250.9 545h0.7M241.7 552.7h0.7M246 551.1h0.7M252.7 554.1h0.7M233.4 547h0.7M254.2 555.4h0.7M231.6 554.8h0.7M231.2 551.5h0.7M262.6 545.8h0.7M247.5 551.3h0.7M234.2 555.2h0.7M236.5 549.6h0.7M234.5 553.9h0.7M254.1 557.5h0.7M244.6 548.9h0.7M265.1 549.7h0.7M255.5 558.5h0.7M256.8 545h0.7M235.1 549h0.7M257.3 549.1h0.7M256.5 553h0.7M249.3 552h0.7M238.4 557.5h0.7M248.8 558h0.7M236.5 545.4h0.7M263.9 547.5h0.7M248.6 550.6h0.7M245.3 550.7h0.7M234.1 547.3h0.7M249.6 549.2h0.7M267.5 552.3h0.7M263.7 550.1h0.7M256.5 549.6h0.7M235.8 551h0.7M244.6 562.3h0.7M231.2 549.4h0.7M255.4 551.3h0.7M248.6 555h0.7M245.3 549.1h0.7M230.8 551.7h0.7M253.4 552.8h0.7M260.8 550.3h0.7M250.2 548.6h0.7M224 554.2h0.7M241.3 554.5h0.7M239.5 545.8h0.7M236 550.7h0.7M238.6 550.8h0.7M253.3 551.9h0.7M252.3 551.3h0.7M238.6 548h0.7M259.8 548h0.7M235.4 548.5h0.7M250.7 552.3h0.7M243.9 551.7h0.7M226.8 551.4h0.7M244.4 553.8h0.7M238.1 549.8h0.7M249.1 562.5h0.7M239.5 560h0.7M235.7 552.1h0.7M235.6 557.3h0.7M248.3 552.7h0.7M258.9 557.1h0.7M238.9 552.9h0.7M240.9 556.5h0.7M221.8 560.6h0.7M244.1 543.7h0.7M250.1 548.6h0.7M247.2 552.4h0.7M259.5 544.7h0.7M251.5 556.5h0.7M231.4 554.9h0.7M256.5 549.8h0.7M224.1 552.6h0.7M241.2 558.1h0.7M244.1 554.7h0.7M251 552.7h0.7M232.1 549.1h0.7M248.1 551.6h0.7M245.6 555h0.7M247.4 554.8h0.7M247.9 553.5h0.7M240.6 546h0.7M257 555.4h0.7M254.6 548.8h0.7M260 552.3h0.7M248.9 549.3h0.7M241 549.4h0.7M251.2 549.2h0.7M246.5 549.8h0.7M231.6 552.2h0.7M248.4 552.2h0.7M246.8 548.2h0.7M269.6 552.1h0.7M255.6 552.5h0.7M233.3 556.2h0.7M245.3 548.5h0.7M234.9 552.1h0.7M233.8 554.8h0.7M240.5 550.2h0.7M270.4 555.1h0.7M239.2 553.4h0.7M227.7 549h0.7M244.7 549h0.7M234.9 554.5h0.7M239.7 548.7h0.7M239.7 549.3h0.7M256.1 553.1h0.7M229 557.2h0.7M259.5 550.8h0.7M235.1 552h0.7M240 554h0.7M246.3 556.9h0.7M227.6 549.5h0.7M250.1 550h0.7M241.8 547.4h0.7M269.3 551.2h0.7M254.9 548.8h0.7M241.3 551.6h0.7M266.1 557.3h0.7M271.2 557.9h0.7M264.2 551.1h0.7M238.6 557h0.7M238.3 554h0.7M239.5 547.8h0.7M247.4 548.4h0.7M243.1 555.3h0.7M244.5 555.8h0.7M241.5 553.3h0.7M234.8 557.1h0.7M222.8 553h0.7M253.3 541.7h0.7M227.5 545.9h0.7M245.7 550.9h0.7M242.7 554.3h0.7M273.4 547.9h0.7M250.9 552.1h0.7M259.5 543.6h0.7M227.7 547.7h0.7M233.9 552.8h0.7M241.1 544h0.7M237.9 545.5h0.7M237.7 551.1h0.7M237.4 556.6h0.7M273.1 553.8h0.7M228.4 557.5h0.7M271.2 551.1h0.7M251 556.2h0.7M248.9 556.8h0.7M253.1 549.5h0.7M240.8 550.9h0.7M238.6 557h0.7M250.4 551.1h0.7M256.1 552.2h0.7M258.8 558.2h0.7M248.6 549.6h0.7M232.7 558.8h0.7M251.1 549.5h0.7M245.4 547.4h0.7M262.3 553.1h0.7M242.3 546.1h0.7M271.4 552.3h0.7M246.2 552.4h0.7M233.8 556.4h0.7M253.4 552h0.7M238.8 544.9h0.7M241.1 551h0.7M232.6 553h0.7M255.9 550h0.7M241.8 551.8h0.7M266 557.4h0.7M227 549.9h0.7M276.5 550.6h0.7M267.1 553.8h0.7M261.4 550.5h0.7M247.6 554h0.7M246.4 551.6h0.7M263.3 551.2h0.7M262.1 549.5h0.7M242.9 554.7h0.7M252.6 555.7h0.7M247.1 551.8h0.7M241.1 545.7h0.7M241.8 555.9h0.7M245.8 552.7h0.7M261.3 548.3h0.7M250.7 549.7h0.7M259.9 546.2h0.7M242.5 549.9h0.7M242.7 549.7h0.7M268.6 551h0.7M244.9 546.3h0.7M231.2 548.9h0.7M232.5 553.9h0.7M239.8 550.1h0.7M245 548.3h0.7M231.9 549.2h0.7M249 551.5h0.7M236.7 558.1h0.7M251 554.5h0.7M264.6 548.3h0.7M257.8 552.9h0.7M250.1 546h0.7M237.2 551.9h0.7M246.1 557.9h0.7M242.3 552.8h0.7M243.1 546.8h0.7M242.7 552.3h0.7M266.9 556.7h0.7M240.5 548.4h0.7M246.4 549.7h0.7M275.3 555.2h0.7M246.1 549.8h0.7M234.3 551.6h0.7M241.5 557.8h0.7M226.4 555.4h0.7M242.9 554.9h0.7M238.2 553.5h0.7M256.6 561.8h0.7M237.5 551.5h0.7M245.6 549.7h0.7M245.8 552.1h0.7M242.9 545.3h0.7M249.9 546.3h0.7M245.9 555.9h0.7M232.1 551.4h0.7M249.2 551.8h0.7M241.5 552h0.7M254.8 548.1h0.7M245 554.7h0.7M240 547.3h0.7M255.8 554.6h0.7M258 551.9h0.7M239.4 557.8h0.7M261.3 555.1h0.7M241.2 552.4h0.7M236.8 547.9h0.7M248 553.2h0.7M253.4 552.4h0.7M270.6 548.2h0.7M262.2 550.4h0.7M257.8 548.5h0.7M272.4 557.5h0.7M228.5 557.1h0.7M249.2 555.5h0.7M247.1 551.5h0.7M231.2 550.2h0.7M246.9 545.6h0.7M235.8 552.1h0.7M237.5 566.8h0.7M242.5 566.2h0.7M238.4 583.9h0.7M231 582.4h0.7M234.4 563.1h0.7M243.7 587.1h0.7M233.5 581.7h0.7M240.4 571.1h0.7M246.9 570.3h0.7M231.7 571.7h0.7M234.7 567.2h0.7M233.7 558.5h0.7M238.5 558.3h0.7M241.1 578.2h0.7M233.2 567.7h0.7M231.8 571.5h0.7M244.6 574.7h0.7M233 588.5h0.7M233.2 568.1h0.7M246.7 578h0.7M241.7 577.6h0.7M238.2 578.2h0.7M239.4 593h0.7M229.1 548.6h0.7M233.8 557.2h0.7M236.2 560h0.7M235.5 582.3h0.7M232.6 564.4h0.7M239.5 564.3h0.7M234.9 570.2h0.7M228.5 580.7h0.7M229.5 580.3h0.7M237.3 561.2h0.7M233.4 579.9h0.7M233.8 592.9h0.7M230 583.1h0.7M226.5 569h0.7M240.6 553h0.7M236.7 560.8h0.7M228.2 564.3h0.7M232.3 566.6h0.7M232 563.1h0.7M221.3 584.5h0.7M246.5 575.8h0.7M233.7 561.8h0.7M236.7 574.1h0.7M230.4 569.6h0.7M239.2 574.2h0.7M234.9 572.6h0.7M231.3 570.8h0.7M235.6 564.1h0.7M234.6 580.2h0.7M240.8 550h0.7M227.5 581.1h0.7M237.5 575.6h0.7M227.7 572h0.7M238.3 575.5h0.7M231.3 565.7h0.7M236.9 573.1h0.7M242.2 549.2h0.7M232 583.4h0.7M229 572.4h0.7M242.9 561.5h0.7M237 590.1h0.7M228.3 551.9h0.7M240.8 566.6h0.7M234.9 572h0.7M241.8 568.5h0.7M240.5 578.8h0.7M235.1 581.6h0.7M236.8 570.4h0.7M251.4 551.7h0.7M228.9 561.3h0.7M232.9 573h0.7M233.9 593.5h0.7M232.4 560.6h0.7M235.2 567h0.7M232.5 580.3h0.7M236.8 582.3h0.7M229.4 577.2h0.7M235.2 565.1h0.7M226.6 570.4h0.7M228.8 578.2h0.7M237.6 575.9h0.7M250.2 583.6h0.7M224.2 577h0.7M236.2 573.2h0.7M232.4 580.2h0.7M238.4 573h0.7M240 567.4h0.7M232.2 578.8h0.7M236 554.1h0.7M240.2 560.4h0.7M239.8 573h0.7M238.2 581.2h0.7M229.6 577.5h0.7M234.7 568.6h0.7M235.1 566.1h0.7M235.3 573.5h0.7M231.6 581.9h0.7M235.6 560.2h0.7M237.5 576.2h0.7M227.3 574h0.7M233 573.6h0.7M234.1 574.9h0.7M236.1 548.7h0.7M235.5 576.5h0.7M239 583.3h0.7M236.9 584h0.7M239.7 566.5h0.7M231.3 583.7h0.7M238.9 553.9h0.7M229.3 582.6h0.7M235.9 554.1h0.7M237.5 580.9h0.7M238.6 570.6h0.7M234 565.9h0.7M232.3 573.8h0.7M248.7 596.6h0.7M234.1 556.5h0.7M234.6 568.3h0.7M233.7 554.6h0.7M234.7 564.7h0.7M235.3 555.8h0.7M235.2 559.1h0.7M230.5 564.7h0.7M232.1 565.7h0.7M232 565h0.7M231.2 565.4h0.7M233.1 589.7h0.7M240 565.2h0.7M227.6 582.3h0.7M235 574.5h0.7M241.3 552.2h0.7M231.7 572.9h0.7M242.6 570.3h0.7M235.5 570.7h0.7M234.8 572.6h0.7M231.9 564h0.7M233 577.2h0.7M241.4 572.4h0.7M233.6 583.2h0.7M238.1 578.4h0.7M234.4 567h0.7M237.7 569.5h0.7M241.4 562.4h0.7M236.8 571.3h0.7M229.5 567.6h0.7M229.4 567.6h0.7M233.6 597.2h0.7M229.4 577.5h0.7M232.6 574.7h0.7M233.2 563.2h0.7M242.8 582.1h0.7M225.6 569.7h0.7M233.1 555.4h0.7M236 576.1h0.7M235.3 575.6h0.7M244.7 566.7h0.7M241.8 592.6h0.7M242.4 574.5h0.7M231.8 585.2h0.7M239.9 555.3h0.7M239.6 569.4h0.7M236.2 559.6h0.7M238 572.8h0.7M230 567.9h0.7M242.8 586.3h0.7M227 576.2h0.7M233.5 566.2h0.7M236.5 586.2h0.7M238.1 561.8h0.7M235.4 575.7h0.7M241.2 570.6h0.7M235.9 573.6h0.7M238.7 552.7h0.7M242.7 574.5h0.7M235.2 560.5h0.7M236.6 590.8h0.7M231.9 555.2h0.7M237.6 571.6h0.7M234.9 556.3h0.7M237.5 577.6h0.7M239.3 562.4h0.7M223.6 572.2h0.7M246.8 574.9h0.7M247.4 574.7h0.7M234 563.6h0.7M242.9 558.2h0.7M231.8 567.2h0.7M236.8 571.8h0.7M227.1 559.7h0.7M244.5 572.2h0.7M235.2 567.9h0.7M236.7 563.9h0.7M241.3 579.8h0.7M235.1 580.4h0.7M234.3 567.2h0.7M240.6 570.4h0.7M230.8 587.1h0.7M234.2 575.8h0.7M243.4 558.8h0.7M233.5 581h0.7M233.6 567h0.7M234.4 568.4h0.7M233.5 575.4h0.7M235.7 588.5h0.7M237 588h0.7M236 588.7h0.7M234.5 583.6h0.7M236.1 587.5h0.7M231 566.9h0.7M237.4 562h0.7M243.2 569.7h0.7M238.2 581.7h0.7M238.6 564.2h0.7M228 554.9h0.7M230.4 564.1h0.7M230.9 576h0.7M227.9 555.4h0.7M236.2 589.1h0.7M230.2 570.3h0.7M235 582.2h0.7M239.9 567h0.7M240.2 572.1h0.7M239.6 589.3h0.7M223.3 557.3h0.7M227.9 559.1h0.7M235.8 572.6h0.7M244.7 585.4h0.7M236.8 570.1h0.7M238.8 575.6h0.7M232.6 578.2h0.7M232.4 570.4h0.7M234.3 565.4h0.7M231.6 571.9h0.7M234.5 559.1h0.7M244.2 588.1h0.7M244.1 582.8h0.7M234.6 561.9h0.7M229.6 554.1h0.7M233.3 554.2h0.7M235.7 573.8h0.7M232.2 565.8h0.7M234.7 576.7h0.7M233.3 587.8h0.7M230.3 565.1h0.7M232.5 569.1h0.7M236.2 576.4h0.7M233.3 586.6h0.7M225 573.7h0.7M235.3 557.7h0.7M227.3 572h0.7M241.2 574.9h0.7M234.5 567.8h0.7M232.3 567h0.7M238.4 581.4h0.7M237.9 564.1h0.7M238 580.9h0.7M225.1 573.9h0.7M232 571.9h0.7M228.1 560.5h0.7M234.3 565.4h0.7M232.2 562.2h0.7M237.2 581.2h0.7M229.7 573.3h0.7M232.5 573.2h0.7M240.8 573.2h0.7M234.2 560.5h0.7M240.8 586.7h0.7M224.6 576.3h0.7M233.9 558.3h0.7M244.1 575.8h0.7M246 563.1h0.7M232.3 556.1h0.7M235.2 554.3h0.7M233.1 581.8h0.7M237.7 580h0.7M235.5 578.1h0.7M234.2 558.4h0.7M237.4 570.1h0.7M230.6 559.9h0.7M241.3 554.7h0.7M230.4 574.2h0.7M238.1 572.9h0.7M226.7 581.2h0.7M234.2 556.4h0.7M240.6 569.7h0.7M225 544.8h0.7M233.9 564.5h0.7M236.2 572.1h0.7M230.6 574.8h0.7M236 560.3h0.7M239 572.6h0.7M233.8 574h0.7M230.5 562.9h0.7M234.2 561.5h0.7M242.9 573h0.7M238.7 588.1h0.7M242.5 591.1h0.7M230.3 586.8h0.7M232.7 568.8h0.7M236 571.7h0.7M234.8 573.9h0.7M243.1 549.6h0.7M227.1 558.3h0.7M236.5 572h0.7M237 589.4h0.7M235.1 557.1h0.7M237.3 588.6h0.7M245.6 570.4h0.7M235.8 574.2h0.7M238.2 569.6h0.7M232.5 586.1h0.7M243.2 571.2h0.7M231.9 565h0.7M228.9 559h0.7M233.5 564h0.7M236.5 566h0.7M230.1 567.2h0.7M221.6 574.5h0.7M233.7 584.3h0.7M232.6 569.5h0.7M230.1 591.2h0.7M236.5 582.8h0.7M233.2 576.7h0.7M229.9 565h0.7M233.4 562.3h0.7M238.9 579.1h0.7M241.3 562h0.7M231.8 570.5h0.7M238.4 558.6h0.7M233.5 580.8h0.7M235.4 569.8h0.7M228.9 567.6h0.7M238.6 580.7h0.7M225.9 574.6h0.7M232.9 561.7h0.7M244.7 577.2h0.7M229.1 560.8h0.7M235.8 556.3h0.7M233.7 575.4h0.7M227.7 572.3h0.7M237.1 564.2h0.7M236.7 576.9h0.7M237 564h0.7M239.3 567.3h0.7M235.8 571.1h0.7M234.7 551h0.7M240.3 575.1h0.7M235.4 576.4h0.7M232.5 569h0.7M237.4 549.6h0.7M230.7 564.7h0.7M233.1 565.2h0.7M230.6 572.8h0.7M238.9 574.8h0.7M240.1 575.4h0.7M242.6 585.8h0.7M232.2 562.6h0.7M231.5 567.1h0.7M238.6 575.5h0.7M235.8 564h0.7M232.5 568.5h0.7M235.9 541.3h0.7M236 575.2h0.7M230.8 584.3h0.7M238.8 577.2h0.7M226.2 578.2h0.7M235.5 572.4h0.7M222.5 555.4h0.7M233.1 557.4h0.7M241.7 559.5h0.7M238.7 574h0.7M249.8 571h0.7M242.7 566.2h0.7M228.6 574h0.7M241.6 565.3h0.7M240.3 576.2h0.7M234.8 572.6h0.7M235.5 564.7h0.7M235.6 574.7h0.7M230.9 545.2h0.7M238.2 564h0.7M237.8 562.3h0.7M236.9 568.4h0.7M233.1 570.1h0.7M236.7 553.5h0.7M241.5 580.5h0.7M236.5 554.7h0.7M239.3 570.6h0.7M243.6 566.1h0.7M233.8 580.2h0.7M223.3 566.8h0.7M233.8 548.1h0.7M229.7 572.9h0.7M236.6 586.8h0.7M239.9 557.6h0.7M239 574.4h0.7M235.4 559.5h0.7M244.8 587.8h0.7M236.4 562.7h0.7M228.7 559.7h0.7M239.6 554h0.7M241 569h0.7M236.7 578.2h0.7M247.7 578h0.7M233.9 574.4h0.7M235.6 571.1h0.7M235.4 561h0.7M236.6 557.5h0.7M241 567.1h0.7M228.6 577.2h0.7M238.5 571.8h0.7M226.7 558h0.7M237.8 592.9h0.7M236.3 573.7h0.7M238.1 562.3h0.7M240.9 564.7h0.7M235.1 562.9h0.7M228.4 563.3h0.7M229.9 566.9h0.7M243.2 573.7h0.7M231.9 574.9h0.7M231.8 581.9h0.7M239.2 567.4h0.7M234.7 571.6h0.7M229.5 559.6h0.7M234.2 562.1h0.7M234.8 579.2h0.7M233.8 576.7h0.7M244.4 566.7h0.7M242.7 562.9h0.7M228.8 572.7h0.7M234.1 556.6h0.7M241.9 579.3h0.7M229.8 569h0.7M234.6 558.9h0.7M236.7 557.8h0.7M225.7 585.1h0.7M231.6 563.6h0.7M233.8 564h0.7M246.5 575.5h0.7M239.5 579.7h0.7M246.5 549.1h0.7M239.2 572.7h0.7M235.4 582.5h0.7M244.3 583.9h0.7M241.7 593h0.7M247.6 581.8h0.7M244.4 594.9h0.7M244.5 596.3h0.7M225.7 598.1h0.7M239.8 589.4h0.7M246.5 593.7h0.7M251.4 600.3h0.7M232.4 598.6h0.7M240 593.8h0.7M239 600h0.7M234.5 596.6h0.7M229.4 595.9h0.7M231.3 586.5h0.7M239.7 587.4h0.7M247.6 587.5h0.7M251 598.8h0.7M240.7 597.7h0.7M241.4 607.9h0.7M243.5 590.5h0.7M242.7 592h0.7M239.5 590.5h0.7M236.3 599h0.7M239.7 598.5h0.7M237.9 593.5h0.7M236.8 601.6h0.7M251.3 593.5h0.7M246.2 585.6h0.7M231.3 598.4h0.7M228.1 610.5h0.7M247 604.3h0.7M239.5 586.1h0.7M234 588.9h0.7M245.9 588h0.7M234.5 603.4h0.7M231.7 590.3h0.7M249.5 608.9h0.7M228.7 579.8h0.7M235.3 595.4h0.7M239.8 590.8h0.7M231.2 599.1h0.7M236.6 590.2h0.7M240.4 602.8h0.7M241.4 609.5h0.7M237.9 597.8h0.7M225.3 590.3h0.7M240 590h0.7M234.7 590.8h0.7M233.4 590.9h0.7M240.7 596.4h0.7M232.7 592.9h0.7M234.6 599.6h0.7M252.3 595.4h0.7M243.1 592.6h0.7M243.7 593h0.7M231.4 601.7h0.7M255.9 598h0.7M240.2 597.1h0.7M252 591.4h0.7M245.4 595.3h0.7M225.1 592.1h0.7M244.3 596.4h0.7M239.5 586.8h0.7M242.1 595.4h0.7M244.1 605h0.7M240.7 600.9h0.7M243.8 610.9h0.7M243.9 610.2h0.7M233.4 587.1h0.7M243.8 593.6h0.7M249.6 599.3h0.7M246.3 589.7h0.7M240.3 599.6h0.7M236.6 594.6h0.7M249.1 594.3h0.7M242.3 601.9h0.7M243.8 585.8h0.7M241.5 594.7h0.7M243 608.3h0.7M248.7 595.5h0.7M236 599.7h0.7M242 602.5h0.7M242.9 600.6h0.7M235.1 593.5h0.7M241.1 589.6h0.7M243.4 592.3h0.7M238.1 590.4h0.7M240 584.7h0.7M246.9 597h0.7M244.6 602.1h0.7M242.6 592.7h0.7M250 592.2h0.7M241.7 581.5h0.7M236.8 594.3h0.7M245.1 597.6h0.7M247.3 591.1h0.7M236.6 595.7h0.7M234.9 592h0.7M240.8 582.4h0.7M229.3 596.8h0.7M235.3 598.8h0.7M236.9 588h0.7M244.6 592.7h0.7M242.8 590.2h0.7M234.6 592.2h0.7M234.7 593.1h0.7M233.1 596.2h0.7M245.6 596.9h0.7M231.3 601.5h0.7M227.9 595.4h0.7M240.8 598.7h0.7M235.4 591.1h0.7M248.2 600.9h0.7M233 592.4h0.7M234.6 578.5h0.7M248 590.2h0.7M240.5 595.6h0.7M231.1 599.5h0.7M235.4 585.4h0.7M242.4 595.1h0.7M236.3 593.8h0.7M251.9 598.3h0.7M240.2 591.9h0.7M252.9 591.5h0.7M226.5 601.4h0.7M236.6 581.1h0.7M230.3 585.9h0.7M224.7 589.5h0.7M235.9 603.9h0.7M239.5 590.6h0.7M238.9 595.2h0.7M247 601.9h0.7M226.4 585.2h0.7M239.9 605.6h0.7M236.6 600.6h0.7M236.2 590.7h0.7M238.3 602.4h0.7M236.7 594.5h0.7M242.4 599.6h0.7M240.5 599.4h0.7M252 598.9h0.7M237.5 593.3h0.7M242.1 592.5h0.7M232.3 588.5h0.7M236.3 582.3h0.7M260.5 599.3h0.7M236.2 589.7h0.7M248.8 585.7h0.7M233 600.4h0.7M239.6 598.8h0.7M240.9 594.1h0.7M235.7 597h0.7M241.9 595.5h0.7M237.2 601.4h0.7M240.7 597.8h0.7M232 584.2h0.7M245.3 590.2h0.7M234.3 596.3h0.7M249.5 592.5h0.7M238.1 596.8h0.7M244 594.6h0.7M227.5 598.8h0.7M234.8 606.7h0.7M235.3 595.5h0.7M239.8 595.4h0.7M257.8 592.6h0.7M247.4 594.2h0.7M237.8 598.8h0.7M242.6 593.1h0.7M233.4 596.7h0.7M264.1 593.4h0.7M244.7 590.7h0.7M264.6 585.6h0.7M236.1 582.9h0.7M245.1 595.1h0.7M243.3 594.1h0.7M251.2 602.5h0.7M248.5 578h0.7M233.9 594.9h0.7M246.5 577.7h0.7M251.4 596.3h0.7M251.5 587.2h0.7M234.9 587.9h0.7M235.9 589.5h0.7M228 602h0.7M244 589.2h0.7M225.8 601.2h0.7M224.1 587.5h0.7M231.3 589.7h0.7M243.4 599.3h0.7M242.4 587.1h0.7M249.3 601.3h0.7M245.7 608.4h0.7M232.6 589.5h0.7M234.6 590.4h0.7M244.7 595.3h0.7M237.3 601.1h0.7M239.5 590.7h0.7M235.7 586.2h0.7M238.4 588.8h0.7M239.3 596.3h0.7M243.3 591.3h0.7M253.4 587.1h0.7M245 594.2h0.7M242 589.9h0.7M234.5 597.8h0.7M227.8 594.8h0.7M229.7 582.9h0.7M240.5 590.5h0.7M253.6 583.4h0.7M241 594.6h0.7M241.2 591.1h0.7M228.6 598.4h0.7M245.2 596.3h0.7M241.9 601.2h0.7M246.9 598.2h0.7M235.6 600.1h0.7M233.9 596.3h0.7M233 593h0.7M245.5 592.1h0.7M246.7 591.1h0.7M251.7 593h0.7M258.3 598.3h0.7M239.7 587.2h0.7M237 605.9h0.7M231.2 584.6h0.7M242.1 601.6h0.7M237.3 588.8h0.7M238.4 592.7h0.7M247.9 605.3h0.7M239 589h0.7M231.6 583.5h0.7M239.5 584.6h0.7M245 592.6h0.7M235 602.6h0.7M227.7 599.4h0.7M240.7 595.5h0.7M239.9 587.1h0.7M244.2 601.2h0.7M225.7 594.6h0.7M239.1 592.2h0.7M242.8 592.7h0.7M237.1 601.1h0.7M233.1 591.5h0.7M236.9 589.1h0.7M236.2 602.4h0.7M234 609h0.7M228.7 579.2h0.7M234.9 586.2h0.7M248.6 596.6h0.7M232.2 592.6h0.7M237.6 609.7h0.7M240.8 595.4h0.7M243.6 595.2h0.7M239.8 588.6h0.7M240.4 595.1h0.7M230.3 594.3h0.7M230.9 583.7h0.7M239.2 596.9h0.7M246.4 590.4h0.7M229.4 588.4h0.7M237.9 593.1h0.7M243.1 592.7h0.7M247.2 589.9h0.7M243.1 597.7h0.7M242.5 597h0.7M232.1 599.1h0.7M236.1 592.7h0.7M232.6 596h0.7M236.6 589.7h0.7M244.6 589.2h0.7M242.3 594.9h0.7M243.6 594.1h0.7M231.2 594.7h0.7M242.4 605.2h0.7M253 599.2h0.7M246.8 578.3h0.7M236.1 587.3h0.7M244.1 597.2h0.7M243.7 597.5h0.7M242.5 593.3h0.7M235.8 598.2h0.7M240 600.4h0.7M236.8 592.3h0.7M234.4 597.9h0.7M234.1 579.6h0.7M234.2 589.7h0.7M239.9 591.8h0.7M248.9 595.9h0.7M246.8 602.4h0.7M247.4 599.6h0.7M236.6 596.7h0.7M239.3 598.7h0.7M235.9 598h0.7M236.5 598.5h0.7M248.7 601.5h0.7M237.2 602.1h0.7M227.9 595.1h0.7M230 594.2h0.7M231.7 593.8h0.7M235 601.8h0.7M255.4 599.3h0.7M247.4 597h0.7M239.5 592.8h0.7M231.9 589.4h0.7M245.8 591.6h0.7M242.9 588.7h0.7M256.4 602.4h0.7M239.6 605.5h0.7M243.9 600.8h0.7M239.1 591.5h0.7M250.3 598.7h0.7M246.1 600.3h0.7M241.2 591.5h0.7M243 583.7h0.7M240.9 601.1h0.7M238.7 605.6h0.7M237.9 588h0.7M244.4 593.2h0.7M244.7 590.4h0.7M244.2 595h0.7M242.1 600h0.7M234.9 593.3h0.7M248.1 601.7h0.7M245.4 587.6h0.7M241.7 591.8h0.7M238.1 585h0.7M225.6 600.2h0.7M246 585.5h0.7M237.8 594.6h0.7M236.2 597.2h0.7M237.5 585.9h0.7M237.3 596.9h0.7M233.8 598.7h0.7M247.6 597.8h0.7M244.2 593.6h0.7M244 589.8h0.7M223.8 590h0.7M250.4 600.4h0.7M232.7 592.8h0.7M235.1 587h0.7M237.8 598.8h0.7M240.5 592.6h0.7M224.9 607.2h0.7M231.9 594.2h0.7M245.8 595.1h0.7M245.9 580.1h0.7M233.9 590h0.7M230.6 584.5h0.7M246.1 586.3h0.7M247.7 599.4h0.7M237.6 585.7h0.7M235.9 589.7h0.7M235.4 589.3h0.7M240.3 592.2h0.7M239.6 593.8h0.7M248.5 606h0.7M240.1 593.5h0.7M238.8 599.7h0.7M244.8 594.6h0.7M239 597.4h0.7M247.3 591.4h0.7M243 583.1h0.7M235.3 596.8h0.7M229 585h0.7M241.7 582.2h0.7M237.7 606.4h0.7M242.4 604.5h0.7M250.9 589.5h0.7M238.6 596.2h0.7M247.7 602.6h0.7M245.4 596h0.7M232.7 600.3h0.7M236 599.9h0.7M249.4 585.4h0.7M254.1 592.9h0.7M247.6 599.7h0.7M253 601.1h0.7M251.5 599.1h0.7M234.6 593h0.7M244.9 599.8h0.7M241.1 589.8h0.7M231.3 594.6h0.7M261.1 593.4h0.7M236.7 597.7h0.7M245.2 594.9h0.7M226.1 590h0.7M235.7 597.8h0.7M235.7 592.7h0.7M232.4 590.8h0.7M255.6 599.1h0.7M243.1 589h0.7M231.6 600.3h0.7M240.1 597.7h0.7M242.2 594.9h0.7M222.8 599.6h0.7M252.5 594.6h0.7M239 595.4h0.7M238.4 583.2h0.7M237.7 594.1h0.7M247.6 588.3h0.7M238 594.3h0.7M243.5 605.8h0.7M244.7 598.1h0.7M231.8 603.8h0.7M228.2 602.3h0.7M246.3 594.8h0.7M232.8 597.4h0.7M236.9 602.3h0.7M221.9 594.6h0.7M238.1 599.2h0.7M232.2 588.3h0.7M225.1 591.5h0.7M241.4 592.7h0.7M233.3 592.8h0.7M244.1 596h0.7M226.4 591.1h0.7M233.9 577.4h0.7M244.3 596.1h0.7M232.8 597.3h0.7M241.8 591.2h0.7M242.3 592.8h0.7M235.3 600.3h0.7M229.1 605.6h0.7M241.9 591.6h0.7M243.1 588.5h0.7M237.3 606.1h0.7M243.4 593.1h0.7M239 599.7h0.7M246.6 592.1h0.7M248.5 594h0.7M239.8 598.7h0.7M235 584.7h0.7M239.1 599.4h0.7M238.1 599.4h0.7M248.7 592.1h0.7M240.2 593.3h0.7M244.8 597.1h0.7M241.5 602.4h0.7M243 595.9h0.7M235.1 594.6h0.7M249.6 598.5h0.7M241.1 593.7h0.7M233.8 589.9h0.7M247.5 594.4h0.7M240.9 601.9h0.7M237.4 591.4h0.7M250.3 598h0.7M229.2 594.2h0.7M234.9 591.2h0.7M238.7 584.5h0.7M235.3 605.2h0.7M238.9 591.4h0.7M247.1 586.1h0.7M238.7 602h0.7M240.4 596.3h0.7M238.8 596.4h0.7M245.3 593.3h0.7M241.1 595.8h0.7M227.1 599.8h0.7M253.1 599.3h0.7M242.1 592.2h0.7M243 606.1h0.7M250.8 590.2h0.7M251.1 590.2h0.7M236 593.5h0.7M244.8 593.1h0.7M247.4 596.3h0.7M251.5 586.2h0.7M241.3 598.4h0.7M251.2 582h0.7M238.9 582.7h0.7M243.6 591.2h0.7M242.8 600.5h0.7M246.6 593.3h0.7M237.2 597.9h0.7M237.2 599.5h0.7M235.1 598.1h0.7M230.3 595.7h0.7M258.1 587.8h0.7M236.6 600.1h0.7M233 580.7h0.7M229.2 595.7h0.7M248.3 595.1h0.7M241.1 601h0.7M240.4 602.6h0.7M251 592.7h0.7M249.5 598.8h0.7M239.8 594.5h0.7M248.2 587.2h0.7M229.6 601.5h0.7M254.3 596.2h0.7M247.9 584.8h0.7M231.4 591.3h0.7M238.1 595.5h0.7M237.3 594.1h0.7M239.3 598.2h0.7M248.1 599.8h0.7M250.4 593.4h0.7M237.4 583.2h0.7M228.8 599.3h0.7M243.9 594.7h0.7M238.3 587h0.7M225.1 590.9h0.7M238.7 578.9h0.7M249.7 590.3h0.7M243.5 602.2h0.7M251 592.5h0.7M247.2 599.8h0.7M240.8 596.3h0.7M234.3 595.9h0.7M235.8 593h0.7M241.2 600.1h0.7M238.8 592.8h0.7M237.5 610.9h0.7M237.5 597.2h0.7M229.8 594.7h0.7M232 591h0.7M245.7 604.8h0.7M241.6 598h0.7M241.7 591.7h0.7M241 600.2h0.7M241.8 592.1h0.7M237.1 597.3h0.7M238.1 599.9h0.7M230.5 599h0.7M234.7 593.9h0.7M255.3 600.7h0.7M236.8 592h0.7M246.7 600.1h0.7M240.2 598.9h0.7M237.5 577.7h0.7M248.1 591.4h0.7M244.6 593.3h0.7M238.4 589h0.7M245.8 599.4h0.7M249.3 598.6h0.7M243.5 591.2h0.7M240.8 597h0.7M222.9 587.4h0.7M239.2 599.3h0.7M250.3 604.7h0.7M235.1 594.8h0.7M236.8 589.4h0.7M237.9 595.1h0.7M246.2 585.4h0.7M239.5 588.3h0.7M272.2 600.9h0.7M251.4 566.7h0.7M263.4 590.3h0.7M245.6 570.7h0.7M259.6 561.8h0.7M273.2 577.3h0.7M257.2 560.2h0.7M270.1 557.6h0.7M248.4 568.2h0.7M255 556.3h0.7M247.8 584.9h0.7M256 578.3h0.7M267.3 582.9h0.7M267.6 576.9h0.7M246.5 600h0.7M237.6 557.1h0.7M243.7 609.9h0.7M257.3 591.8h0.7M239.1 561h0.7M259.9 570h0.7M257.7 585.1h0.7M257.5 577.8h0.7M258.8 573.7h0.7M259.9 590.3h0.7M246.2 580.5h0.7M266.3 573.9h0.7M255.5 602.7h0.7M268.9 608.9h0.7M277.2 572h0.7M248.9 572.6h0.7M257.1 593.8h0.7M257.1 581.3h0.7M254 553.2h0.7M267.1 572.8h0.7M261.9 577.1h0.7M278.2 583.4h0.7M261.4 575.5h0.7M247.6 582.5h0.7M268.6 576.9h0.7M232.7 565.9h0.7M278.1 568.9h0.7M258.7 550h0.7M250.3 564.7h0.7M265.4 585.6h0.7M262.7 591.1h0.7M251.3 600.7h0.7M254 589.8h0.7M280 569.5h0.7M260.8 575.1h0.7M258.1 581.1h0.7M255.8 577h0.7M264.5 558.2h0.7M248.5 569.8h0.7M241.4 581.6h0.7M251.6 564.7h0.7M241.6 564.3h0.7M261.5 558.9h0.7M266.7 585.6h0.7M259.8 553.1h0.7M248.1 591.4h0.7M252.4 566h0.7M248.6 582.1h0.7M236.3 591.1h0.7M259.1 562.2h0.7M242.9 581h0.7M273 559.9h0.7M240.9 575.7h0.7M257.5 565.9h0.7M247.7 598.4h0.7M246.2 553.8h0.7M251.9 594.8h0.7M264 575.9h0.7M242.1 575.2h0.7M288 585h0.7M267.9 554.2h0.7M251.8 568.6h0.7M275.5 572.4h0.7M255.6 569.6h0.7M224.9 592.4h0.7M235.4 568.3h0.7M238.9 567.9h0.7M251.2 569.2h0.7M272.3 559.5h0.7M252.8 583.9h0.7M251.7 569h0.7M277.7 587.2h0.7M247 580h0.7M246.3 582.7h0.7M240.5 587.6h0.7M260.4 581.1h0.7M256.2 579.5h0.7M246.6 577.2h0.7M262.8 582.4h0.7M245.9 584.3h0.7M242.9 566h0.7M246.7 567.7h0.7M254.8 585.8h0.7M267.9 582.5h0.7M248 586.7h0.7M267 565.5h0.7M243 574h0.7M277.6 571.9h0.7M254.2 586.1h0.7M243.1 560.9h0.7M254.8 588h0.7M252.7 567h0.7M237.6 598.4h0.7M242.2 594.6h0.7M248.2 592.2h0.7M275 563.8h0.7M262.5 586.5h0.7M269.9 571.7h0.7M269.7 577.6h0.7M244.9 590.2h0.7M270.1 575.9h0.7M254.7 587h0.7M274.7 558.7h0.7M267.8 604.6h0.7M246.3 584.2h0.7M256.8 581.1h0.7M269.9 553.6h0.7M250.4 556.6h0.7M252.6 602.4h0.7M244.5 569.5h0.7M249.3 581.7h0.7M252.5 565h0.7M247.5 573.8h0.7M242.5 542.1h0.7M268.9 577.9h0.7M249.4 573.8h0.7M264.1 563.9h0.7M256.3 568.5h0.7M269.6 541.8h0.7M240.5 595.8h0.7M242.8 564.9h0.7M242.5 543.2h0.7M254.9 585.5h0.7M259.4 558.5h0.7M250.1 599.1h0.7M253.9 562.8h0.7M265.8 571.7h0.7M235.2 563.8h0.7M266.1 573.5h0.7M254.8 584.9h0.7M247.3 554.7h0.7M255.7 566.9h0.7M255.8 565.6h0.7M247.6 555.9h0.7M259 603.2h0.7M242.2 592.1h0.7M263.4 566.8h0.7M244.7 583.5h0.7M252 571.9h0.7M250.9 602.9h0.7M238.1 582.1h0.7M277 578.3h0.7M279.7 576.1h0.7M257.9 587.1h0.7M248.1 576.5h0.7M262.5 566.7h0.7M261.3 591.5h0.7M243.2 574.4h0.7M260.5 566h0.7M267.4 593.6h0.7M249.9 579.7h0.7M249.2 574.5h0.7M261.4 574.1h0.7M258.1 570h0.7M269.4 589.5h0.7M249.4 584.2h0.7M285.5 569.9h0.7M254.1 587.8h0.7M232.1 595.9h0.7M263.6 588.4h0.7M258.6 590.2h0.7M268.9 586.6h0.7M253.5 574.4h0.7M256.9 573.6h0.7M247.3 558.8h0.7M255.4 563.7h0.7M252.5 558.7h0.7M241.4 570.7h0.7M253.9 607.2h0.7M255.6 591.4h0.7M262 580.9h0.7M253.2 585.7h0.7M262.3 556.9h0.7M263.9 573.8h0.7M238.9 565.7h0.7M264.3 589.8h0.7M255.2 593.8h0.7M265.3 554.8h0.7M244.4 581.5h0.7M246.5 567.8h0.7M259.7 572.5h0.7M248.8 556.8h0.7M279.2 556.9h0.7M251.7 591.9h0.7M255.3 563.1h0.7M243.7 592.8h0.7M265 548.9h0.7M241 585.5h0.7M274.4 568.8h0.7M267 553.8h0.7M237.7 558.7h0.7M261.9 579.3h0.7M264.3 551.4h0.7M274.9 570.6h0.7M285.9 580.1h0.7M236.2 575.8h0.7M246.8 598.3h0.7M258.8 594.1h0.7M247.3 565.4h0.7M257.9 577.4h0.7M245.8 583.8h0.7M269.3 571.3h0.7M250.7 569.3h0.7M262.2 574.5h0.7M261.1 592.1h0.7M252.8 572.3h0.7M252.8 597.3h0.7M254.9 577.1h0.7M252.7 588.9h0.7M260.7 559.7h0.7M266.7 581.9h0.7M269.6 583.7h0.7M255.5 561.8h0.7M267.2 593.9h0.7M246.3 575.2h0.7M261.3 574.2h0.7M260.4 570.7h0.7M248.9 593.5h0.7M237 585.2h0.7M247.2 576.5h0.7M248.5 578.2h0.7M249.1 579.9h0.7M240.1 560.8h0.7M254.5 584.9h0.7M246.6 603.7h0.7M251.7 587.1h0.7M235.6 561.8h0.7M244.7 559.3h0.7M238.3 569.7h0.7M246.4 599h0.7M255.1 579.9h0.7M232.5 597.2h0.7M273.2 560.1h0.7M270.3 566.3h0.7M276.6 562.8h0.7M270.4 561.2h0.7M273.7 576.1h0.7M270.5 577.9h0.7M273.4 565.8h0.7M274.4 578.7h0.7M276.2 574.2h0.7M276.4 571h0.7M273.8 582h0.7M272.7 566.1h0.7M269.9 567.8h0.7M268.2 565.3h0.7M270.1 569.9h0.7M269.5 570.3h0.7M273 575.9h0.7M275.7 580.6h0.7M272.4 562.6h0.7M275 573.5h0.7M271.9 576.1h0.7M278 573.4h0.7M272 572.4h0.7M270.7 583.3h0.7M270 564.9h0.7M275.6 569.9h0.7M269.9 576.9h0.7M276 561.2h0.7M274.7 577.2h0.7M277.8 574.1h0.7M275 571.8h0.7M274.9 581.7h0.7M274.9 567.4h0.7M272.9 583.2h0.7M269.9 567.5h0.7M271.4 579.2h0.7M270.8 568.6h0.7M272.9 574.6h0.7M274.6 564.2h0.7M270.2 562.4h0.7M276 569.6h0.7M250.8 578h0.7M273.8 606.3h0.7M226.8 582.7h0.7M255.1 547.1h0.7M271.3 552.5h0.7M269.2 550.2h0.7M241.8 603.1h0.7M265.2 564.1h0.7M236.4 555.5h0.7M287.8 586.6h0.7M233.6 583.7h0.7M231.7 563.2h0.7M270.4 599.7h0.7M292 604.8h0.7M255.9 568.8h0.7M276 582.8h0.7M225.6 571.8h0.7M254.5 570.3h0.7M243.5 552.1h0.7M286.4 593.1h0.7" stroke="#000" stroke-width="0.7" stroke-opacity="0.38"/>
</g>
<rect x="115" y="539" width="78.7" height="72.4" stroke="#333" stroke-width="1.3" fill="none"/>
<rect x="220.7" y="539" width="77.2" height="72.4" stroke="#333" stroke-width="1.3" fill="none"/>
<path d="M132.3 585.2L188.8 577.1L188.4 605L130.6 605.9Z" fill="none" stroke="#000" stroke-width="1.4"/>
<rect x="263.6" y="559.1" width="21.6" height="23.3" stroke="#000" stroke-width="1.4" fill="none"/>
<line x1="188.8" y1="585.2" x2="223.7" y2="585.2" stroke="#000" stroke-width="1.5"/>
<path d="M231.2 585.2L221.8 582.2L221.8 588.2Z" fill="#000"/>
<text x="275.3" y="607.2" font-size="13" text-anchor="middle" stroke="#000" stroke-width="0.2">Pro-DC</text>
<text x="104" y="577.5" font-size="11" text-anchor="middle" transform="rotate(-90 104 577.5)" stroke="#000" stroke-width="0.2">CD11c + IL7Rα</text>
<text x="139.7" y="628.3" font-size="10.5" text-anchor="middle" stroke="#000" stroke-width="0.2">FSC</text>
<text x="211.2" y="603.5" font-size="10.5" text-anchor="middle" transform="rotate(-90 211.2 603.5)" stroke="#000" stroke-width="0.2">c-Kit</text>
<text x="242.8" y="628.3" font-size="10.5" text-anchor="middle" stroke="#000" stroke-width="0.2">Flt3</text>
<line x1="112.5" y1="545.4" x2="115" y2="545.4" stroke="#777" stroke-width="0.8"/>
<text x="111" y="546.9" font-size="4.3" text-anchor="middle" fill="#666" transform="rotate(-60 111 545.4)">10</text>
<line x1="112.5" y1="561.3" x2="115" y2="561.3" stroke="#777" stroke-width="0.8"/>
<text x="111" y="562.8" font-size="4.3" text-anchor="middle" fill="#666" transform="rotate(-60 111 561.3)">10</text>
<line x1="112.5" y1="578.2" x2="115" y2="578.2" stroke="#777" stroke-width="0.8"/>
<text x="111" y="579.7" font-size="4.3" text-anchor="middle" fill="#666" transform="rotate(-60 111 578.2)">10</text>
<line x1="112.5" y1="594" x2="115" y2="594" stroke="#777" stroke-width="0.8"/>
<text x="111" y="595.5" font-size="4.3" text-anchor="middle" fill="#666" transform="rotate(-60 111 594)">10</text>
<line x1="130.2" y1="611.4" x2="130.2" y2="613.5" stroke="#777" stroke-width="0.8"/>
<text x="130.2" y="617.5" font-size="3.6" text-anchor="middle" fill="#666">50</text>
<line x1="144.6" y1="611.4" x2="144.6" y2="613.5" stroke="#777" stroke-width="0.8"/>
<text x="144.6" y="617.5" font-size="3.6" text-anchor="middle" fill="#666">100</text>
<line x1="159.4" y1="611.4" x2="159.4" y2="613.5" stroke="#777" stroke-width="0.8"/>
<text x="159.4" y="617.5" font-size="3.6" text-anchor="middle" fill="#666">150</text>
<line x1="174.6" y1="611.4" x2="174.6" y2="613.5" stroke="#777" stroke-width="0.8"/>
<text x="174.6" y="617.5" font-size="3.6" text-anchor="middle" fill="#666">200</text>
<line x1="189" y1="611.4" x2="189" y2="613.5" stroke="#777" stroke-width="0.8"/>
<text x="189" y="617.5" font-size="3.6" text-anchor="middle" fill="#666">250</text>
<path d="M115 611.4v1.2M117.9 611.4v1.2M120.8 611.4v1.2M123.7 611.4v1.2M126.6 611.4v1.2M129.5 611.4v1.2M132.4 611.4v1.2M135.3 611.4v1.2M138.2 611.4v1.2M141.1 611.4v1.2M144 611.4v1.2M146.9 611.4v1.2M149.8 611.4v1.2M152.7 611.4v1.2M155.6 611.4v1.2M158.5 611.4v1.2M161.4 611.4v1.2M164.3 611.4v1.2M167.2 611.4v1.2M170.1 611.4v1.2M173 611.4v1.2M175.9 611.4v1.2M178.8 611.4v1.2M181.7 611.4v1.2M184.6 611.4v1.2M187.5 611.4v1.2M190.4 611.4v1.2" stroke="#999" stroke-width="0.6"/>
<text x="185.5" y="620" font-size="3.2" text-anchor="middle" fill="#999">(x 1,000)</text>
<line x1="218.2" y1="545.4" x2="220.7" y2="545.4" stroke="#777" stroke-width="0.8"/>
<text x="216.5" y="546.9" font-size="4.3" text-anchor="middle" fill="#666" transform="rotate(-60 216.5 545.4)">10</text>
<line x1="218.2" y1="562.3" x2="220.7" y2="562.3" stroke="#777" stroke-width="0.8"/>
<text x="216.5" y="563.8" font-size="4.3" text-anchor="middle" fill="#666" transform="rotate(-60 216.5 562.3)">10</text>
<line x1="218.2" y1="582.4" x2="220.7" y2="582.4" stroke="#777" stroke-width="0.8"/>
<text x="216.5" y="583.9" font-size="4.3" text-anchor="middle" fill="#666" transform="rotate(-60 216.5 582.4)">10</text>
<line x1="218.2" y1="597" x2="220.7" y2="597" stroke="#777" stroke-width="0.8"/>
<text x="216.5" y="598.5" font-size="4.3" text-anchor="middle" fill="#666" transform="rotate(-60 216.5 597)">10</text>
<line x1="236.1" y1="611.4" x2="236.1" y2="613.9" stroke="#777" stroke-width="0.8"/>
<text x="234.6" y="617" font-size="4.3" text-anchor="middle" fill="#666" transform="rotate(-30 234.6 617)">10</text>
<line x1="253.5" y1="611.4" x2="253.5" y2="613.9" stroke="#777" stroke-width="0.8"/>
<text x="252" y="617" font-size="4.3" text-anchor="middle" fill="#666" transform="rotate(-30 252 617)">10</text>
<line x1="272.5" y1="611.4" x2="272.5" y2="613.9" stroke="#777" stroke-width="0.8"/>
<text x="271" y="617" font-size="4.3" text-anchor="middle" fill="#666" transform="rotate(-30 271 617)">10</text>
<line x1="290.5" y1="611.4" x2="290.5" y2="613.9" stroke="#777" stroke-width="0.8"/>
<text x="289" y="617" font-size="4.3" text-anchor="middle" fill="#666" transform="rotate(-30 289 617)">10</text>
<path d="M219.4 547.3h1.3M219.4 549.2h1.3M219.4 551h1.3M219.4 552.9h1.3M219.4 554.8h1.3M219.4 556.7h1.3M219.4 558.5h1.3M219.4 560.4h1.3M219.4 564.5h1.3M219.4 566.8h1.3M219.4 569h1.3M219.4 571.2h1.3M219.4 573.5h1.3M219.4 575.7h1.3M219.4 577.9h1.3M219.4 580.2h1.3M219.4 584h1.3M219.4 585.6h1.3M219.4 587.3h1.3M219.4 588.9h1.3M219.4 590.5h1.3M219.4 592.1h1.3M219.4 593.8h1.3M219.4 595.4h1.3M238 611.4v1.3M240 611.4v1.3M241.9 611.4v1.3M243.8 611.4v1.3M245.8 611.4v1.3M247.7 611.4v1.3M249.6 611.4v1.3M251.6 611.4v1.3M255.6 611.4v1.3M257.7 611.4v1.3M259.8 611.4v1.3M261.9 611.4v1.3M264.1 611.4v1.3M266.2 611.4v1.3M268.3 611.4v1.3M270.4 611.4v1.3M274.5 611.4v1.3M276.5 611.4v1.3M278.5 611.4v1.3M280.5 611.4v1.3M282.5 611.4v1.3M284.5 611.4v1.3M286.5 611.4v1.3M288.5 611.4v1.3" stroke="#999" stroke-width="0.6"/>
<line x1="218.5" y1="617" x2="224" y2="617" stroke="#999" stroke-width="1.2"/>
<rect x="47.4" y="658.3" width="80.4" height="145.5" stroke="#000" stroke-width="1.8" fill="none"/>
<line x1="42.9" y1="658.3" x2="47.4" y2="658.3" stroke="#000" stroke-width="1.6"/>
<text x="41.6" y="662.8" font-size="11.3" text-anchor="end" stroke="#000" stroke-width="0.2">100</text>
<line x1="42.9" y1="687.4" x2="47.4" y2="687.4" stroke="#000" stroke-width="1.6"/>
<text x="41.6" y="691.9" font-size="11.3" text-anchor="end" stroke="#000" stroke-width="0.2">80</text>
<line x1="42.9" y1="716.5" x2="47.4" y2="716.5" stroke="#000" stroke-width="1.6"/>
<text x="41.6" y="721" font-size="11.3" text-anchor="end" stroke="#000" stroke-width="0.2">60</text>
<line x1="42.9" y1="745.6" x2="47.4" y2="745.6" stroke="#000" stroke-width="1.6"/>
<text x="41.6" y="750.1" font-size="11.3" text-anchor="end" stroke="#000" stroke-width="0.2">40</text>
<line x1="42.9" y1="774.7" x2="47.4" y2="774.7" stroke="#000" stroke-width="1.6"/>
<text x="41.6" y="779.2" font-size="11.3" text-anchor="end" stroke="#000" stroke-width="0.2">20</text>
<line x1="42.9" y1="803.8" x2="47.4" y2="803.8" stroke="#000" stroke-width="1.6"/>
<text x="41.6" y="808.3" font-size="11.3" text-anchor="end" stroke="#000" stroke-width="0.2">0</text>
<line x1="60.7" y1="803.8" x2="60.7" y2="808.1" stroke="#000" stroke-width="1.6"/>
<text x="60.7" y="819.9" font-size="11.3" text-anchor="middle" stroke="#000" stroke-width="0.2">0</text>
<line x1="87.5" y1="803.8" x2="87.5" y2="808.1" stroke="#000" stroke-width="1.6"/>
<text x="87.5" y="819.9" font-size="11.3" text-anchor="middle" stroke="#000" stroke-width="0.2">3</text>
<line x1="114.5" y1="803.8" x2="114.5" y2="808.1" stroke="#000" stroke-width="1.6"/>
<text x="114.5" y="819.9" font-size="11.3" text-anchor="middle" stroke="#000" stroke-width="0.2">6</text>
<text x="87.5" y="651.1" font-size="12" text-anchor="middle" stroke="#000" stroke-width="0.2">Bone marrow</text>
<circle cx="61" cy="700" r="2.85" stroke="#000" stroke-width="1.8" fill="none"/>
<circle cx="61.2" cy="715.5" r="2.85" stroke="#000" stroke-width="1.8" fill="none"/>
<circle cx="65.8" cy="712.5" r="2.85" stroke="#000" stroke-width="1.8" fill="none"/>
<line x1="51.2" y1="708.8" x2="71.2" y2="708.8" stroke="#000" stroke-width="1.6"/>
<circle cx="83.2" cy="739.5" r="2.85" stroke="#000" stroke-width="1.8" fill="none"/>
<circle cx="88" cy="742" r="2.85" stroke="#000" stroke-width="1.8" fill="none"/>
<circle cx="87.5" cy="759.5" r="2.85" stroke="#000" stroke-width="1.8" fill="none"/>
<line x1="77.5" y1="746.8" x2="98" y2="746.8" stroke="#000" stroke-width="1.6"/>
<circle cx="114.5" cy="689.5" r="2.85" stroke="#000" stroke-width="1.8" fill="none"/>
<circle cx="119.2" cy="697" r="2.85" stroke="#000" stroke-width="1.8" fill="none"/>
<circle cx="114.5" cy="704.1" r="2.85" stroke="#000" stroke-width="1.8" fill="none"/>
<line x1="104.5" y1="696.8" x2="124.5" y2="696.8" stroke="#000" stroke-width="1.6"/>
<line x1="60.4" y1="689.6" x2="87.3" y2="689.6" stroke="#282828" stroke-width="1.35"/>
<text x="73.8" y="692.4" font-size="14" font-weight="bold" text-anchor="middle" fill="#111" stroke="#111" stroke-width="0.2">*</text>
<line x1="88" y1="676.2" x2="114.2" y2="676.2" stroke="#282828" stroke-width="1.35"/>
<text x="102.1" y="679" font-size="14" font-weight="bold" text-anchor="middle" fill="#111" stroke="#111" stroke-width="0.2">*</text>
<text x="75.3" y="778.7" font-size="12" stroke="#000" stroke-width="0.2">1.7x</text>
<line x1="100.8" y1="768.8" x2="100.8" y2="777.9" stroke="#000" stroke-width="1.7"/>
<path d="M100.8 785.5L98 776L103.5 776Z" fill="#000"/>
<rect x="153.8" y="658.6" width="79.7" height="144.7" stroke="#000" stroke-width="1.8" fill="none"/>
<line x1="149.3" y1="658.6" x2="153.8" y2="658.6" stroke="#000" stroke-width="1.6"/>
<text x="148" y="663.1" font-size="11.3" text-anchor="end" stroke="#000" stroke-width="0.2">2.5</text>
<line x1="149.3" y1="687.5" x2="153.8" y2="687.5" stroke="#000" stroke-width="1.6"/>
<text x="148" y="692.1" font-size="11.3" text-anchor="end" stroke="#000" stroke-width="0.2">2</text>
<line x1="149.3" y1="716.5" x2="153.8" y2="716.5" stroke="#000" stroke-width="1.6"/>
<text x="148" y="721" font-size="11.3" text-anchor="end" stroke="#000" stroke-width="0.2">1.5</text>
<line x1="149.3" y1="745.4" x2="153.8" y2="745.4" stroke="#000" stroke-width="1.6"/>
<text x="148" y="750" font-size="11.3" text-anchor="end" stroke="#000" stroke-width="0.2">1</text>
<line x1="149.3" y1="774.4" x2="153.8" y2="774.4" stroke="#000" stroke-width="1.6"/>
<text x="148" y="778.9" font-size="11.3" text-anchor="end" stroke="#000" stroke-width="0.2">0.5</text>
<line x1="149.3" y1="803.3" x2="153.8" y2="803.3" stroke="#000" stroke-width="1.6"/>
<text x="148" y="807.8" font-size="11.3" text-anchor="end" stroke="#000" stroke-width="0.2">0</text>
<line x1="166.8" y1="803.3" x2="166.8" y2="807.6" stroke="#000" stroke-width="1.6"/>
<text x="166.8" y="819.2" font-size="11.3" text-anchor="middle" stroke="#000" stroke-width="0.2">0</text>
<line x1="193.5" y1="803.3" x2="193.5" y2="807.6" stroke="#000" stroke-width="1.6"/>
<text x="193.5" y="819.2" font-size="11.3" text-anchor="middle" stroke="#000" stroke-width="0.2">3</text>
<line x1="220" y1="803.3" x2="220" y2="807.6" stroke="#000" stroke-width="1.6"/>
<text x="220" y="819.2" font-size="11.3" text-anchor="middle" stroke="#000" stroke-width="0.2">6</text>
<text x="193.4" y="651.1" font-size="12" text-anchor="middle" stroke="#000" stroke-width="0.2">Blood</text>
<circle cx="162.3" cy="745" r="2.85" stroke="#000" stroke-width="1.8" fill="none"/>
<circle cx="166.7" cy="747.9" r="2.85" stroke="#000" stroke-width="1.8" fill="none"/>
<circle cx="171.2" cy="745.8" r="2.85" stroke="#000" stroke-width="1.8" fill="none"/>
<line x1="157.4" y1="746.2" x2="177.5" y2="746.2" stroke="#000" stroke-width="1.6"/>
<circle cx="193.8" cy="740.9" r="2.85" stroke="#000" stroke-width="1.8" fill="none"/>
<circle cx="193.3" cy="753.4" r="2.85" stroke="#000" stroke-width="1.8" fill="none"/>
<circle cx="197.9" cy="751" r="2.85" stroke="#000" stroke-width="1.8" fill="none"/>
<line x1="183.5" y1="748.2" x2="203.9" y2="748.2" stroke="#000" stroke-width="1.6"/>
<circle cx="215.7" cy="737.8" r="2.85" stroke="#000" stroke-width="1.8" fill="none"/>
<circle cx="220.3" cy="742.4" r="2.85" stroke="#000" stroke-width="1.8" fill="none"/>
<circle cx="220" cy="751.2" r="2.85" stroke="#000" stroke-width="1.8" fill="none"/>
<line x1="210.2" y1="744.6" x2="230.4" y2="744.6" stroke="#000" stroke-width="1.6"/>
<rect x="258" y="658.4" width="78.8" height="142.7" stroke="#000" stroke-width="1.8" fill="none"/>
<line x1="253.5" y1="658.4" x2="258" y2="658.4" stroke="#000" stroke-width="1.6"/>
<text x="252.2" y="662.9" font-size="11.3" text-anchor="end" stroke="#000" stroke-width="0.2">2.5</text>
<line x1="253.5" y1="686.9" x2="258" y2="686.9" stroke="#000" stroke-width="1.6"/>
<text x="252.2" y="691.5" font-size="11.3" text-anchor="end" stroke="#000" stroke-width="0.2">2</text>
<line x1="253.5" y1="715.5" x2="258" y2="715.5" stroke="#000" stroke-width="1.6"/>
<text x="252.2" y="720" font-size="11.3" text-anchor="end" stroke="#000" stroke-width="0.2">1.5</text>
<line x1="253.5" y1="744" x2="258" y2="744" stroke="#000" stroke-width="1.6"/>
<text x="252.2" y="748.6" font-size="11.3" text-anchor="end" stroke="#000" stroke-width="0.2">1</text>
<line x1="253.5" y1="772.6" x2="258" y2="772.6" stroke="#000" stroke-width="1.6"/>
<text x="252.2" y="777.1" font-size="11.3" text-anchor="end" stroke="#000" stroke-width="0.2">0.5</text>
<line x1="253.5" y1="801.1" x2="258" y2="801.1" stroke="#000" stroke-width="1.6"/>
<text x="252.2" y="805.6" font-size="11.3" text-anchor="end" stroke="#000" stroke-width="0.2">0</text>
<line x1="271" y1="801.1" x2="271" y2="805.4" stroke="#000" stroke-width="1.6"/>
<text x="271" y="816.9" font-size="11.3" text-anchor="middle" stroke="#000" stroke-width="0.2">0</text>
<line x1="297" y1="801.1" x2="297" y2="805.4" stroke="#000" stroke-width="1.6"/>
<text x="297" y="816.9" font-size="11.3" text-anchor="middle" stroke="#000" stroke-width="0.2">3</text>
<line x1="323" y1="801.1" x2="323" y2="805.4" stroke="#000" stroke-width="1.6"/>
<text x="323" y="816.9" font-size="11.3" text-anchor="middle" stroke="#000" stroke-width="0.2">6</text>
<text x="296.2" y="650.7" font-size="12" text-anchor="middle" stroke="#000" stroke-width="0.2">Spleen</text>
<circle cx="267.5" cy="728" r="2.85" stroke="#000" stroke-width="1.8" fill="none"/>
<circle cx="271.2" cy="728" r="2.85" stroke="#000" stroke-width="1.8" fill="none"/>
<circle cx="271" cy="738.6" r="2.85" stroke="#000" stroke-width="1.8" fill="none"/>
<line x1="260.7" y1="731.7" x2="281.2" y2="731.7" stroke="#000" stroke-width="1.6"/>
<circle cx="292.9" cy="743.5" r="2.85" stroke="#000" stroke-width="1.8" fill="none"/>
<circle cx="302.1" cy="744.3" r="2.85" stroke="#000" stroke-width="1.8" fill="none"/>
<circle cx="297.5" cy="750" r="2.85" stroke="#000" stroke-width="1.8" fill="none"/>
<line x1="286.9" y1="746.3" x2="307.6" y2="746.3" stroke="#000" stroke-width="1.6"/>
<circle cx="320.1" cy="721.4" r="2.85" stroke="#000" stroke-width="1.8" fill="none"/>
<circle cx="328.2" cy="721.4" r="2.85" stroke="#000" stroke-width="1.8" fill="none"/>
<circle cx="324" cy="726.3" r="2.85" stroke="#000" stroke-width="1.8" fill="none"/>
<line x1="313.5" y1="723.1" x2="334.3" y2="723.1" stroke="#000" stroke-width="1.6"/>
<line x1="297.6" y1="687.4" x2="323.9" y2="687.4" stroke="#282828" stroke-width="1.35"/>
<text x="312.1" y="690.2" font-size="14" font-weight="bold" text-anchor="middle" fill="#111" stroke="#111" stroke-width="0.2">*</text>
<text x="285.2" y="767.5" font-size="12" stroke="#000" stroke-width="0.2">1.3x</text>
<line x1="310.5" y1="758" x2="310.5" y2="766.9" stroke="#000" stroke-width="1.7"/>
<path d="M310.5 774.5L307.8 765L313.2 765Z" fill="#000"/>
<text x="14.8" y="724.2" font-size="12" text-anchor="middle" transform="rotate(-90 14.8 724.2)" stroke="#000" stroke-width="0.2">Pro-DC per 10<tspan font-size="10.3" dy="-4.5">8</tspan><tspan dy="4.5"> cells (x10</tspan><tspan font-size="10.3" dy="-4.5">3</tspan><tspan dy="4.5">)</tspan></text>
<text x="194.3" y="838.8" font-size="12" text-anchor="middle" stroke="#000" stroke-width="0.2">DC depletion [days]</text>
<text x="375.5" y="642.3" font-size="19.5" font-weight="bold" stroke="#000" stroke-width="0.2">F</text>
<rect x="426.7" y="657.1" width="81.2" height="145.7" stroke="#000" stroke-width="1.8" fill="none"/>
<line x1="422.2" y1="657.1" x2="426.7" y2="657.1" stroke="#000" stroke-width="1.6"/>
<text x="420.9" y="661.6" font-size="11.3" text-anchor="end" stroke="#000" stroke-width="0.2">0.003</text>
<line x1="422.2" y1="705.7" x2="426.7" y2="705.7" stroke="#000" stroke-width="1.6"/>
<text x="420.9" y="710.2" font-size="11.3" text-anchor="end" stroke="#000" stroke-width="0.2">0.002</text>
<line x1="422.2" y1="754.2" x2="426.7" y2="754.2" stroke="#000" stroke-width="1.6"/>
<text x="420.9" y="758.8" font-size="11.3" text-anchor="end" stroke="#000" stroke-width="0.2">0.001</text>
<line x1="422.2" y1="802.8" x2="426.7" y2="802.8" stroke="#000" stroke-width="1.6"/>
<text x="420.9" y="807.3" font-size="11.3" text-anchor="end" stroke="#000" stroke-width="0.2">0.000</text>
<line x1="439.2" y1="802.8" x2="439.2" y2="807.1" stroke="#000" stroke-width="1.6"/>
<text x="439.2" y="819" font-size="11.3" text-anchor="middle" stroke="#000" stroke-width="0.2">0</text>
<line x1="467.2" y1="802.8" x2="467.2" y2="807.1" stroke="#000" stroke-width="1.6"/>
<text x="467.2" y="819" font-size="11.3" text-anchor="middle" stroke="#000" stroke-width="0.2">3</text>
<line x1="493.9" y1="802.8" x2="493.9" y2="807.1" stroke="#000" stroke-width="1.6"/>
<text x="493.9" y="819" font-size="11.3" text-anchor="middle" stroke="#000" stroke-width="0.2">6</text>
<text x="467" y="651.1" font-size="12" text-anchor="middle" stroke="#000" stroke-width="0.2">Spleen</text>
<circle cx="437.3" cy="740" r="2.85" stroke="#000" stroke-width="1.8" fill="none"/>
<circle cx="441" cy="740" r="2.85" stroke="#000" stroke-width="1.8" fill="none"/>
<circle cx="440" cy="749.5" r="2.85" stroke="#000" stroke-width="1.8" fill="none"/>
<line x1="429.6" y1="742.7" x2="450.3" y2="742.7" stroke="#000" stroke-width="1.6"/>
<circle cx="463" cy="754.4" r="2.85" stroke="#000" stroke-width="1.8" fill="none"/>
<circle cx="471" cy="754.4" r="2.85" stroke="#000" stroke-width="1.8" fill="none"/>
<circle cx="467.2" cy="759.7" r="2.85" stroke="#000" stroke-width="1.8" fill="none"/>
<line x1="456.9" y1="755.7" x2="477.6" y2="755.7" stroke="#000" stroke-width="1.6"/>
<circle cx="490" cy="735.1" r="2.85" stroke="#000" stroke-width="1.8" fill="none"/>
<circle cx="498.2" cy="735.1" r="2.85" stroke="#000" stroke-width="1.8" fill="none"/>
<circle cx="494" cy="740.5" r="2.85" stroke="#000" stroke-width="1.8" fill="none"/>
<line x1="483.8" y1="736.8" x2="504.8" y2="736.8" stroke="#000" stroke-width="1.6"/>
<line x1="461.7" y1="692.1" x2="488.3" y2="692.1" stroke="#282828" stroke-width="1.35"/>
<text x="475.9" y="694.9" font-size="14" font-weight="bold" text-anchor="middle" fill="#111" stroke="#111" stroke-width="0.2">*</text>
<text x="453.5" y="775.4" font-size="12" stroke="#000" stroke-width="0.2">1.3x</text>
<line x1="479.1" y1="765.8" x2="479.1" y2="774.7" stroke="#000" stroke-width="1.7"/>
<path d="M479.1 782.7L476.4 772.7L481.9 772.7Z" fill="#000"/>
<text x="385.8" y="730.4" font-size="11.7" text-anchor="middle" transform="rotate(-90 385.8 730.4)" stroke="#000" stroke-width="0.2">% pro-DCs</text>
<text x="465.1" y="838.8" font-size="12" text-anchor="middle" stroke="#000" stroke-width="0.2">DC depletion [days]</text>
</svg></body></html>
